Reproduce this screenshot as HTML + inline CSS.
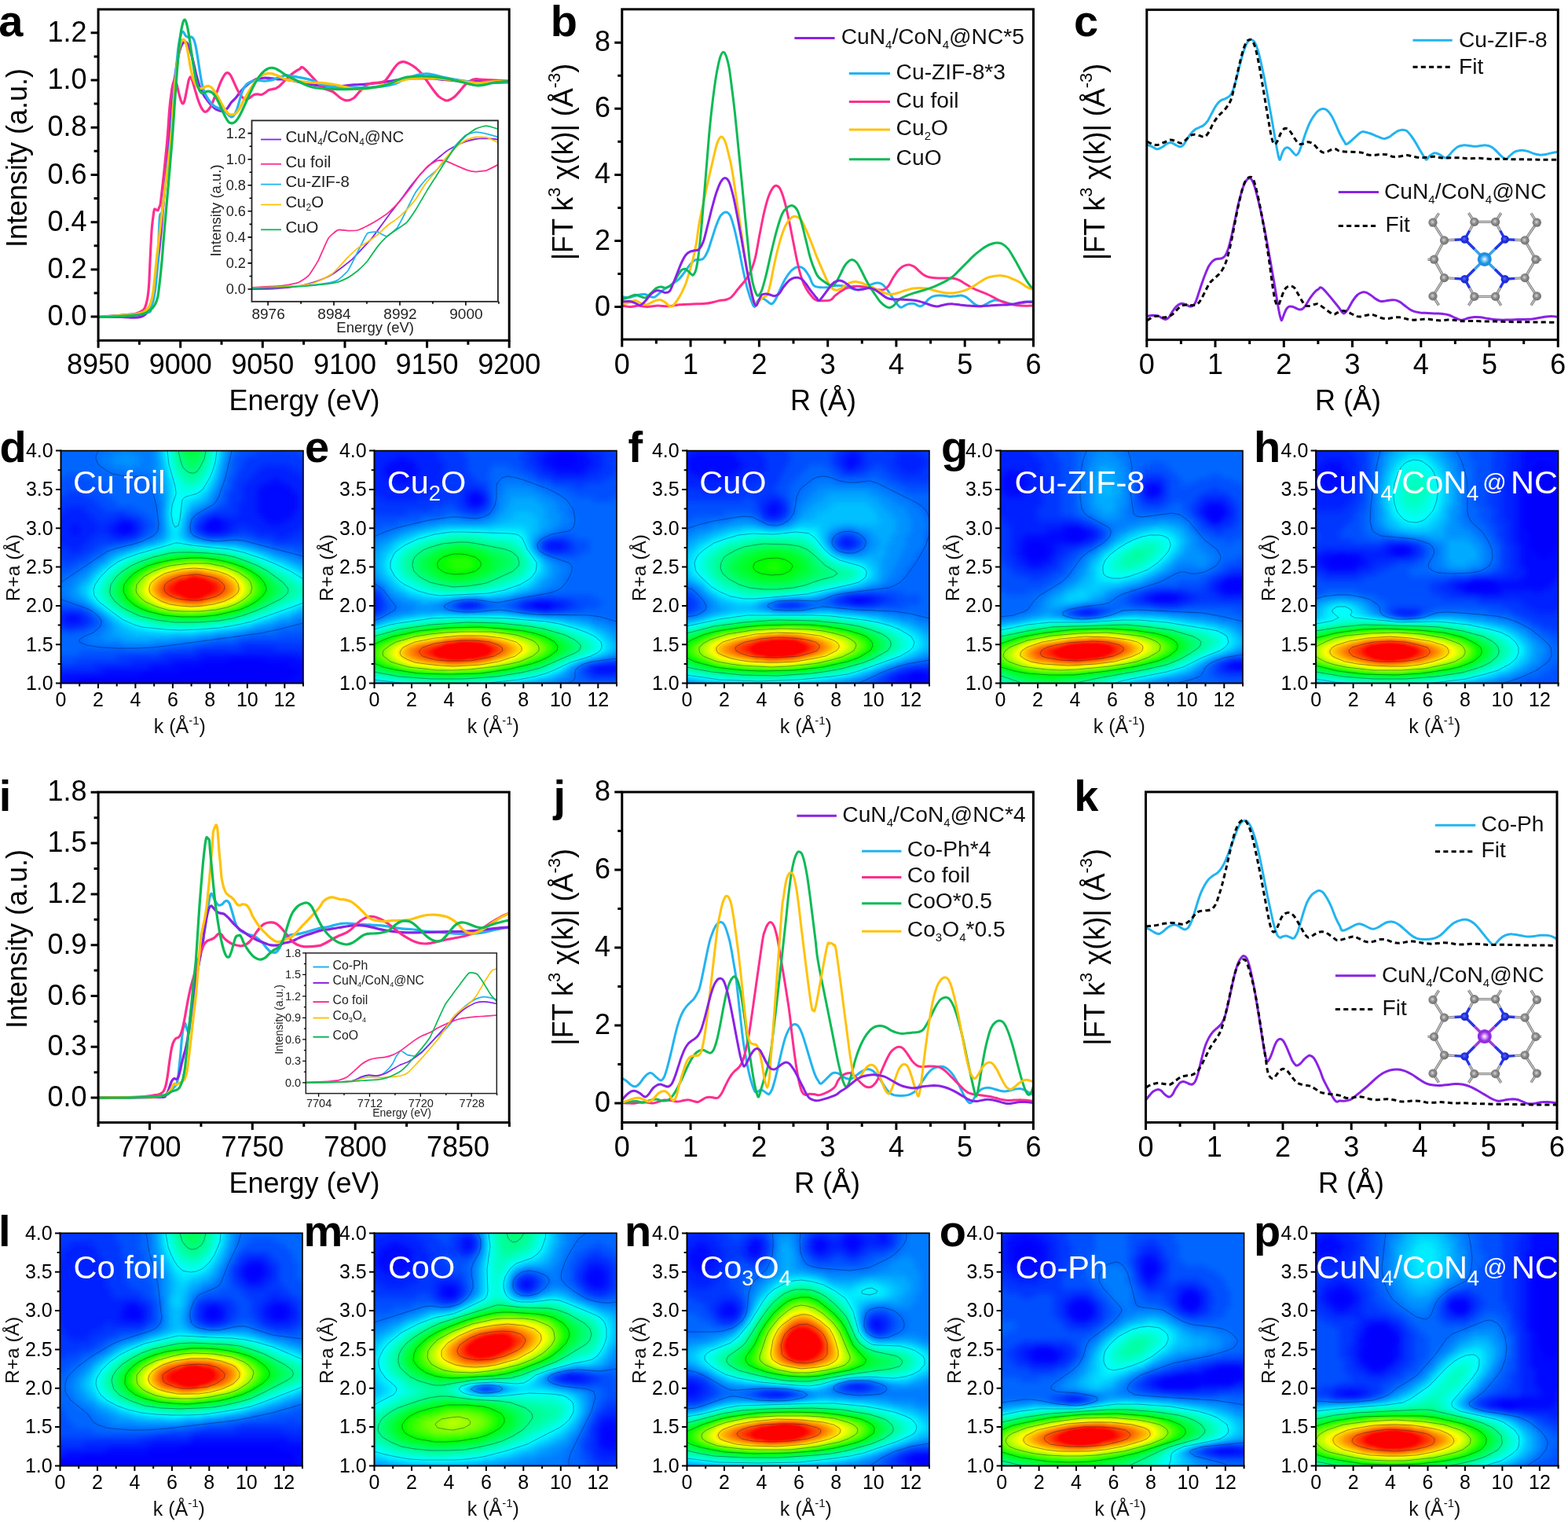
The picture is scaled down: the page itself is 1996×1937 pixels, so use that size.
<!DOCTYPE html><html lang="en"><head><meta charset="utf-8"><title>XAS / EXAFS / wavelet transform figure</title>
<style>html,body{margin:0;padding:0;background:#fff}svg{display:block}text{font-family:'Liberation Sans', Arial, sans-serif}</style></head><body>
<svg xmlns="http://www.w3.org/2000/svg" width="1996" height="1937" viewBox="0 0 1996 1937">
<defs><filter id="jet" x="0" y="0" width="1" height="1" color-interpolation-filters="sRGB"><feGaussianBlur stdDeviation="4.2"/><feComponentTransfer><feFuncR type="table" tableValues="0 0 0 0 0 0 0 0 0 0 0 0 0 0 0 0 0 0 0 0 0 0 0 0 0 0 0 0 0 0 0 0 0 0 0 0 0 0 0 0 0 0.06 0.13 0.19 0.25 0.31 0.38 0.44 0.5 0.56 0.63 0.69 0.75 0.81 0.88 0.94 1 1 1 1 1 1 1 1 1 1 1 1 1 1 1 1 1 1 1 1 1 1 1 1 1"/><feFuncG type="table" tableValues="0 0 0 0.03 0.09 0.15 0.2 0.26 0.32 0.38 0.43 0.49 0.55 0.6 0.66 0.72 0.77 0.83 0.89 0.94 1 1 1 1 1 1 1 1 1 1 1 1 1 1 1 1 1 1 1 1 1 1 1 1 1 1 1 1 1 1 1 1 1 1 1 1 1 0.95 0.9 0.85 0.8 0.74 0.68 0.62 0.56 0.5 0.44 0.38 0.32 0.26 0.2 0.13 0.06 0 0 0 0 0 0 0 0"/><feFuncB type="table" tableValues="0.97 0.98 1 1 1 1 1 1 1 1 1 1 1 1 1 1 1 1 1 1 1 0.95 0.9 0.85 0.8 0.75 0.7 0.65 0.6 0.55 0.5 0.45 0.4 0.35 0.3 0.25 0.2 0.15 0.1 0.05 0 0 0 0 0 0 0 0 0 0 0 0 0 0 0 0 0 0 0 0 0 0 0 0 0 0 0 0 0 0 0 0 0 0 0 0 0 0 0 0 0"/></feComponentTransfer></filter></defs>
<rect width="1996" height="1937" fill="#fff"/>
<clipPath id="cd"><rect x="77.5" y="573.6" width="308.5" height="296"/></clipPath><g clip-path="url(#cd)"><g filter="url(#jet)"><g transform="translate(77.5 573.6) scale(5.9327 5.9200)"><rect x="-3" y="-3" width="58" height="56" fill="#1e1e1e"/><g transform="translate(0 .5)" fill="none" stroke-width="1.04"><path stroke="#050505" d="M32 15h2M13 16h2M31 16h3M13 17h1M36 45h8M30 46h19M26 47h25M17 48h33M4 49h44M2 50h40M5 51h17"/><path stroke="#0a0a0a" d="M45 6h2M43 7h6M42 8h8M42 9h9M42 10h9M42 11h9M42 12h9M42 13h8M32 14h2M43 14h7M12 15h4M31 15h1M34 15h2M44 15h4M2 16h2M11 16h2M15 16h1M30 16h1M34 16h2M2 17h2M11 17h2M14 17h2M31 17h4M1 35h3M1 36h3M30 44h21M24 45h12M44 45h11M19 46h11M49 46h6M9 47h17M51 47h4M0 48h17M50 48h5M-3 49h7M48 49h7M-3 50h5M42 50h11M-3 51h8M22 51h26M2 52h34"/><path stroke="#0f0f0f" d="M43 3h6M42 4h9M41 5h11M40 6h5M47 6h6M39 7h4M49 7h4M39 8h3M50 8h4M39 9h3M51 9h3M39 10h3M51 10h3M38 11h4M51 11h3M1 12h4M38 12h4M51 12h3M0 13h6M38 13h4M50 13h4M-1 14h8M12 14h3M31 14h1M34 14h9M50 14h3M-1 15h9M10 15h2M16 15h1M30 15h1M36 15h8M48 15h5M-1 16h3M4 16h7M16 16h1M29 16h1M36 16h2M40 16h12M-1 17h3M4 17h4M9 17h2M16 17h1M30 17h1M35 17h2M42 17h9M-1 18h8M11 18h5M46 18h3M-1 19h7M0 20h5M2 21h2M-1 35h2M4 35h1M-1 36h2M4 36h2M0 37h5M39 42h7M29 43h26M22 44h8M51 44h4M15 45h9M7 46h12M-2 47h11M-3 48h3M53 50h2M48 51h7M-3 52h5M36 52h16"/><path stroke="#141414" d="M46 -1h1M42 0h9M40 1h12M39 2h15M39 3h4M49 3h5M38 4h4M51 4h4M38 5h3M52 5h3M37 6h3M53 6h2M37 7h2M53 7h2M37 8h2M54 8h1M1 9h4M36 9h3M54 9h1M-1 10h8M36 10h3M54 10h1M-2 11h10M36 11h2M54 11h1M-2 12h3M5 12h4M34 12h4M54 12h1M-3 13h3M6 13h8M32 13h6M54 13h1M-3 14h2M7 14h5M15 14h2M30 14h1M53 14h2M-3 15h2M8 15h2M17 15h1M29 15h1M53 15h2M-3 16h2M17 16h1M38 16h2M52 16h3M-3 17h2M8 17h1M17 17h1M29 17h1M37 17h5M51 17h4M-3 18h2M7 18h4M16 18h1M31 18h5M41 18h5M49 18h6M-3 19h2M6 19h8M45 19h8M-3 20h3M5 20h3M-2 21h4M4 21h3M-1 22h6M0 23h3M-2 34h7M-3 35h2M5 35h1M-3 36h2M6 36h1M-2 37h2M5 37h1M1 38h2M38 41h16M29 42h10M46 42h9M21 43h8M12 44h10M3 45h12M-3 46h10M-3 47h1M52 52h3"/><path stroke="#191919" d="M39 -3h16M38 -2h17M38 -1h8M47 -1h8M38 0h4M51 0h4M37 1h3M52 1h3M37 2h2M54 2h1M37 3h2M54 3h1M37 4h1M1 5h4M36 5h2M-1 6h8M36 6h1M-3 7h12M36 7h1M-3 8h13M35 8h2M-3 9h4M5 9h5M35 9h1M-3 10h2M7 10h4M35 10h1M-3 11h1M8 11h4M34 11h2M-3 12h1M9 12h7M32 12h2M14 13h4M30 13h2M17 14h2M29 14h1M18 15h2M28 15h1M18 16h2M28 16h1M18 17h1M28 17h1M17 18h1M30 18h1M36 18h5M14 19h2M42 19h3M53 19h2M8 20h3M45 20h10M-3 21h1M7 21h2M50 21h5M-3 22h2M5 22h2M-3 23h3M3 23h3M-3 24h7M-3 25h5M-3 33h6M-3 34h1M5 34h1M6 35h1M7 36h1M-3 37h1M6 37h2M-3 38h4M3 38h3M47 39h8M38 40h17M31 41h7M54 41h1M23 42h6M4 43h17M-3 44h15M-3 45h6"/><path stroke="#232323" d="M19 -3h1M36 -3h1M18 -2h2M36 -2h1M10 -1h10M36 -1h1M8 0h5M15 0h5M36 0h1M8 1h3M17 1h3M8 2h3M17 2h3M35 2h1M9 3h5M15 3h5M35 3h1M11 4h9M35 4h1M19 5h2M19 6h2M34 6h1M20 7h1M34 7h1M20 8h1M20 9h2M33 9h1M20 10h2M21 11h1M32 11h1M21 12h1M30 12h1M21 13h1M28 13h1M21 14h1M21 15h1M27 15h1M21 16h1M27 16h1M21 17h1M27 17h1M20 18h1M28 18h1M17 19h2M31 19h8M14 20h2M41 20h2M10 21h2M45 21h2M9 22h1M48 22h3M7 23h2M51 23h3M6 24h1M53 24h2M4 25h2M3 26h2M1 27h2M0 28h3M-1 29h3M-1 30h3M0 31h2M2 32h2M5 33h1M8 35h1M53 35h2M9 36h1M50 36h3M9 37h1M46 37h4M8 38h2M42 38h4M6 39h3M37 39h3M5 40h4M29 40h4M6 41h7M20 41h6"/><path stroke="#282828" d="M20 -3h1M35 -3h1M20 -2h1M35 -2h1M20 -1h1M35 -1h1M13 0h2M20 0h1M35 0h1M11 1h6M20 1h1M35 1h1M11 2h6M20 2h1M14 3h1M20 3h1M20 4h1M34 4h1M21 5h1M34 5h1M21 6h1M21 7h1M33 7h1M21 8h1M33 8h1M32 9h1M32 10h1M31 11h1M29 12h1M27 14h1M21 18h1M27 18h1M19 19h1M30 19h1M16 20h1M40 20h1M12 21h2M43 21h2M10 22h1M46 22h2M9 23h1M49 23h2M7 24h1M52 24h1M6 25h1M54 25h1M5 26h1M3 27h2M3 28h1M2 29h1M2 30h1M2 31h2M4 32h1M6 33h1M7 34h1M53 34h2M50 35h3M47 36h3M10 37h1M44 37h2M10 38h1M40 38h2M9 39h2M33 39h4M9 40h4M24 40h5M13 41h7"/><path stroke="#2d2d2d" d="M21 2h1M34 2h1M21 3h1M34 3h1M21 4h1M33 6h1M22 7h1M22 8h1M32 8h1M22 9h1M22 10h1M31 10h1M22 11h1M29 11h2M22 12h1M28 12h1M27 13h1M22 14h1M22 15h1M22 16h1M26 16h1M22 17h1M26 17h1M22 18h1M20 19h2M28 19h2M17 20h1M38 20h2M14 21h1M42 21h1M11 22h1M45 22h1M48 23h1M8 24h1M50 24h2M7 25h1M52 25h2M6 26h1M54 26h1M5 27h1M4 28h1M3 29h1M3 30h1M4 31h1M5 32h1M54 33h1M8 34h1M51 34h2M9 35h1M49 35h1M10 36h1M46 36h1M11 37h1M42 37h2M11 38h2M38 38h2M11 39h4M30 39h3M13 40h11"/><path stroke="#323232" d="M21 -3h1M34 -3h1M21 -2h1M34 -2h1M21 -1h1M34 -1h1M21 0h1M34 0h1M21 1h1M34 1h1M22 4h1M33 4h1M22 5h1M33 5h1M22 6h1M32 7h1M31 9h1M30 10h1M28 11h1M27 12h1M22 13h1M26 14h1M26 15h1M26 18h1M22 19h1M27 19h1M18 20h2M35 20h3M15 21h1M41 21h1M12 22h1M44 22h1M10 23h1M46 23h2M9 24h1M49 24h1M8 25h1M51 25h1M53 26h1M6 27h1M54 27h1M5 28h1M4 29h1M4 30h1M5 31h1M6 32h1M54 32h1M7 33h1M53 33h1M50 34h1M10 35h1M47 35h2M11 36h1M44 36h2M12 37h1M41 37h1M13 38h2M35 38h3M15 39h15"/><path stroke="#373737" d="M22 2h1M22 3h1M33 3h1M23 6h1M32 6h1M23 7h1M23 8h1M31 8h1M23 9h1M30 9h1M23 10h1M28 10h2M27 11h1M26 13h1M23 16h1M23 17h1M25 17h1M23 18h1M25 18h1M26 19h1M20 20h1M32 20h3M16 21h1M39 21h2M13 22h1M43 22h1M11 23h1M45 23h1M10 24h1M48 24h1M50 25h1M7 26h1M52 26h1M53 27h1M6 28h1M54 28h1M5 29h1M5 30h1M54 31h1M53 32h1M8 33h1M51 33h2M9 34h1M49 34h1M46 35h1M12 36h1M43 36h1M13 37h2M39 37h2M15 38h3M33 38h2"/><path stroke="#3c3c3c" d="M22 -3h1M22 -2h1M22 -1h1M22 0h1M22 1h1M33 1h1M33 2h1M23 5h1M32 5h1M31 7h1M30 8h1M29 9h1M26 10h2M23 11h1M26 11h1M23 12h1M26 12h1M23 13h1M23 14h1M23 15h1M25 15h1M25 16h1M24 17h1M24 18h1M23 19h3M21 20h1M30 20h2M17 21h1M38 21h1M14 22h1M42 22h1M12 23h1M44 23h1M47 24h1M9 25h1M49 25h1M8 26h1M51 26h1M7 27h1M52 27h1M53 28h1M6 29h1M54 29h1M6 30h1M54 30h1M6 31h1M7 32h1M52 32h1M50 33h1M10 34h1M47 34h2M11 35h1M45 35h1M13 36h1M42 36h1M15 37h1M38 37h1M18 38h3M29 38h4"/><path stroke="#414141" d="M33 -3h1M33 -2h1M33 -1h1M33 0h1M23 3h1M23 4h1M32 4h1M24 6h1M31 6h1M24 7h1M24 8h1M29 8h1M24 9h5M24 10h2M24 11h2M25 12h1M25 13h1M25 14h1M24 15h1M24 16h1M22 20h1M28 20h2M18 21h1M37 21h1M15 22h1M41 22h1M13 23h1M43 23h1M11 24h1M46 24h1M10 25h1M48 25h1M50 26h1M8 27h1M51 27h1M7 28h1M7 29h1M53 29h1M53 30h1M7 31h1M53 31h1M8 32h1M51 32h1M9 33h1M49 33h1M46 34h1M12 35h1M44 35h1M41 36h1M16 37h2M36 37h2M21 38h8"/><path stroke="#464646" d="M23 -3h1M23 -2h1M23 -1h1M23 0h1M23 1h1M23 2h1M32 2h1M32 3h1M24 5h1M31 5h1M25 7h1M30 7h1M25 8h4M24 12h1M24 13h1M24 14h1M23 20h5M19 21h2M35 21h2M16 22h1M40 22h1M12 24h1M45 24h1M47 25h1M9 26h1M49 26h1M50 27h1M8 28h1M52 28h1M7 30h1M52 31h1M50 32h1M48 33h1M11 34h1M45 34h1M43 35h1M14 36h1M40 36h1M18 37h1M34 37h2"/><path stroke="#4b4b4b" d="M32 0h1M32 1h1M24 4h1M31 4h1M25 6h1M30 6h1M26 7h4M21 21h1M34 21h1M17 22h1M39 22h1M14 23h1M42 23h1M44 24h1M11 25h1M46 25h1M10 26h1M48 26h1M9 27h1M51 28h1M8 29h1M52 29h1M8 30h1M52 30h1M8 31h1M51 31h1M9 32h1M49 32h1M10 33h1M47 33h1M13 35h1M42 35h1M15 36h1M38 36h2M19 37h2M32 37h2"/><path stroke="#505050" d="M32 -3h1M32 -2h1M32 -1h1M24 2h1M24 3h1M31 3h1M25 5h1M30 5h1M26 6h1M29 6h1M22 21h1M32 21h2M18 22h1M38 22h1M15 23h1M41 23h1M13 24h1M43 24h1M45 25h1M47 26h1M49 27h1M9 28h1M50 28h1M51 29h1M51 30h1M9 31h1M50 31h1M48 32h1M46 33h1M12 34h1M44 34h1M14 35h1M41 35h1M16 36h2M37 36h1M21 37h4M29 37h3"/><path stroke="#555555" d="M24 -3h1M24 -2h1M24 -1h1M24 0h1M24 1h1M31 2h1M25 4h1M30 4h1M26 5h1M29 5h1M27 6h2M23 21h2M29 21h3M19 22h1M37 22h1M16 23h1M40 23h1M12 25h1M11 26h1M46 26h1M10 27h1M48 27h1M49 28h1M9 29h1M50 29h1M9 30h1M50 30h1M49 31h1M10 32h1M47 32h1M11 33h1M45 33h1M43 34h1M40 35h1M18 36h1M36 36h1M25 37h4"/><path stroke="#5a5a5a" d="M31 -3h1M31 -1h1M31 0h1M31 1h1M25 3h1M30 3h1M26 4h1M27 5h2M25 21h4M20 22h1M36 22h1M14 24h1M42 24h1M44 25h1M47 27h1M10 28h1M48 28h1M49 29h1M49 30h1M10 31h1M48 31h1M46 32h1M12 33h1M44 33h1M13 34h1M42 34h1M15 35h1M39 35h1M19 36h1M35 36h1"/><path stroke="#5f5f5f" d="M31 -2h1M25 1h1M25 2h1M30 2h1M26 3h1M27 4h3M21 22h1M35 22h1M17 23h1M39 23h1M15 24h1M41 24h1M13 25h1M43 25h1M12 26h1M45 26h1M11 27h1M46 27h1M10 29h1M48 29h1M10 30h1M48 30h1M47 31h1M11 32h1M14 34h1M41 34h1M16 35h1M38 35h1M20 36h1M33 36h2"/><path stroke="#646464" d="M25 -3h1M25 -2h1M25 -1h1M25 0h1M30 1h1M26 2h1M29 3h1M22 22h1M34 22h1M18 23h1M38 23h1M44 26h1M11 28h1M47 28h1M47 30h1M11 31h1M46 31h1M45 32h1M13 33h1M43 33h1M17 35h1M21 36h2M32 36h1"/><path stroke="#696969" d="M30 -3h1M30 -2h1M30 -1h1M30 0h1M26 1h1M27 2h1M29 2h1M27 3h2M23 22h1M32 22h2M19 23h1M37 23h1M16 24h1M40 24h1M14 25h1M42 25h1M13 26h1M12 27h1M45 27h1M46 28h1M11 29h1M47 29h1M11 30h1M12 32h1M44 32h1M42 33h1M15 34h1M40 34h1M18 35h1M37 35h1M23 36h4M28 36h4"/><path stroke="#6e6e6e" d="M26 -3h1M29 -3h1M26 -2h1M26 -1h1M26 0h1M29 0h1M27 1h3M28 2h1M24 22h2M30 22h2M17 24h1M15 25h1M43 26h1M45 28h1M46 29h1M46 30h1M12 31h1M45 31h1M14 33h1M16 34h1M39 34h1M19 35h1M36 35h1M27 36h1"/><path stroke="#737373" d="M27 -3h2M27 -2h3M27 -1h3M27 0h2M26 22h4M20 23h1M36 23h1M39 24h1M41 25h1M14 26h1M13 27h1M44 27h1M12 28h1M12 29h1M45 29h1M12 30h1M45 30h1M44 31h1M13 32h1M43 32h1M41 33h1M20 35h1M35 35h1"/><path stroke="#787878" d="M21 23h1M35 23h1M18 24h1M38 24h1M16 25h1M42 26h1M44 28h1M44 30h1M13 31h1M42 32h1M15 33h1M17 34h1M38 34h1M21 35h1M34 35h1"/><path stroke="#7d7d7d" d="M22 23h1M34 23h1M40 25h1M15 26h1M43 27h1M13 28h1M44 29h1M13 30h1M43 31h1M14 32h1M40 33h1M18 34h1M37 34h1M22 35h1M32 35h2"/><path stroke="#828282" d="M23 23h1M33 23h1M19 24h1M37 24h1M17 25h1M41 26h1M14 27h1M43 28h1M13 29h1M43 30h1M41 32h1M16 33h1M39 33h1M36 34h1M23 35h2M30 35h2"/><path stroke="#878787" d="M24 23h2M32 23h1M20 24h1M39 25h1M42 27h1M14 28h1M43 29h1M14 31h1M42 31h1M15 32h1M17 33h1M19 34h1M25 35h5"/><path stroke="#8c8c8c" d="M26 23h6M21 24h1M36 24h1M18 25h1M16 26h1M40 26h1M15 27h1M42 28h1M14 29h1M14 30h1M42 30h1M40 32h1M38 33h1M20 34h1M35 34h1"/><path stroke="#919191" d="M35 24h1M38 25h1M41 27h1M42 29h1M15 31h1M41 31h1M16 32h1M18 33h1M21 34h1M34 34h1"/><path stroke="#969696" d="M22 24h1M34 24h1M19 25h1M37 25h1M17 26h1M39 26h1M16 27h1M15 28h1M41 28h1M15 29h1M15 30h1M41 30h1M39 32h1M37 33h1M22 34h1M33 34h1"/><path stroke="#9b9b9b" d="M23 24h1M33 24h1M20 25h1M40 27h1M41 29h1M16 31h1M40 31h1M17 32h1M19 33h1M36 33h1M23 34h1M32 34h1"/><path stroke="#a0a0a0" d="M24 24h1M32 24h1M36 25h1M18 26h1M38 26h1M17 27h1M16 28h1M40 28h1M16 30h1M40 30h1M38 32h1M20 33h1M24 34h3M29 34h3"/><path stroke="#a5a5a5" d="M25 24h2M31 24h1M21 25h1M39 27h1M16 29h1M40 29h1M17 31h1M39 31h1M18 32h1M35 33h1M27 34h2"/><path stroke="#aaaaaa" d="M27 24h4M35 25h1M19 26h1M37 26h1M17 28h1M19 32h1M37 32h1M21 33h1M34 33h1"/><path stroke="#afafaf" d="M22 25h1M34 25h1M20 26h1M18 27h1M38 27h1M39 28h1M17 29h1M39 29h1M17 30h1M39 30h1M18 31h1M38 31h1M36 32h1M22 33h1M33 33h1"/><path stroke="#b4b4b4" d="M23 25h1M36 26h1M18 28h1M20 32h1M23 33h1M32 33h1"/><path stroke="#b9b9b9" d="M24 25h1M33 25h1M21 26h1M19 27h1M37 27h1M38 28h1M18 29h1M18 30h1M38 30h1M19 31h1M37 31h1M35 32h1M24 33h2M31 33h1"/><path stroke="#bebebe" d="M25 25h1M31 25h2M35 26h1M38 29h1M21 32h1M26 33h5"/><path stroke="#c3c3c3" d="M26 25h5M22 26h1M20 27h1M36 27h1M19 28h1M37 28h1M19 30h1M37 30h1M20 31h1M36 31h1M22 32h1M34 32h1"/><path stroke="#c8c8c8" d="M23 26h1M34 26h1M19 29h1M37 29h1M23 32h1M33 32h1"/><path stroke="#cdcdcd" d="M33 26h1M21 27h1M35 27h1M20 28h1M36 28h1M20 30h1M36 30h1M21 31h1M35 31h1M24 32h1M32 32h1"/><path stroke="#d2d2d2" d="M24 26h1M32 26h1M22 27h1M20 29h1M36 29h1M22 31h1M34 31h1M25 32h1M31 32h1"/><path stroke="#d7d7d7" d="M25 26h2M31 26h1M34 27h1M21 28h1M35 28h1M21 30h1M35 30h1M26 32h5"/><path stroke="#dcdcdc" d="M27 26h4M23 27h1M22 28h1M21 29h1M35 29h1M23 31h1M33 31h1"/><path stroke="#e1e1e1" d="M24 27h1M33 27h1M34 28h1M22 29h1M22 30h1M34 30h1M24 31h1M32 31h1"/><path stroke="#e6e6e6" d="M25 27h1M32 27h1M23 28h1M34 29h1M23 30h1M33 30h1M25 31h1M31 31h1"/><path stroke="#ebebeb" d="M26 27h1M30 27h2M24 28h1M33 28h1M23 29h1M33 29h1M24 30h1M32 30h1M26 31h5"/><path stroke="#f0f0f0" d="M27 27h3M32 28h1M24 29h1M25 30h1M31 30h1"/><path stroke="#f5f5f5" d="M25 28h2M31 28h1M25 29h1M32 29h1M26 30h1M30 30h1"/><path stroke="#fafafa" d="M27 28h4M26 29h1M30 29h2M27 30h3"/><path stroke="#ffffff" d="M27 29h3"/></g></g></g><path d="M78 741L136 702L147 698L168 693L181 689L195 682L199 678L201 675L202 666L199 644L192 617L188 609L185 607L181 606L164 607L154 605L143 603L134 598L125 591L122 584L122 581L123 577L126 574M295 574L287 608L278 633L274 640L270 643L251 654L247 657L244 661L243 664L242 671L243 678L247 682L254 685L261 687L275 689L299 687L310 688L386 708M386 793L355 801L331 806L220 821L195 824L171 825L150 825L129 824L110 821L101 817L101 814L107 810L119 805L126 799L128 796L129 793L129 790L127 786L119 779L112 775L78 763M276 574L274 588L271 598L267 608L261 618L258 623L251 628L237 632L235 633L232 636L229 661L227 669L223 671L220 666L218 654L219 643L224 629L224 626L223 619L215 591L213 574M386 767L376 771L334 786L320 791L303 795L279 799L254 801L230 802L209 801L181 798L171 795L157 789L143 779L125 765L120 758L119 751L121 744L128 734L139 723L150 715L161 710L175 705L210 695L223 691L227 691L244 694L292 699L310 703L334 711L351 718L370 727L386 737M262 574L260 584L255 594L251 600L247 602L244 602L240 601L237 599L233 595L230 587L227 574M279 790L251 792L223 792L199 789L178 784L161 776L154 772L146 765L141 758L140 755L140 751L141 744L148 734L156 727L167 720L178 715L195 709L216 704L227 703L244 703L265 704L285 706L299 709L313 714L328 720L341 727L360 741L366 748L367 751L366 755L363 758L358 762L338 772L324 778L310 783L296 787L279 790M275 783L254 785L230 785L209 783L188 778L178 774L171 770L162 762L158 755L157 751L158 744L163 737L170 730L178 725L188 720L202 716L216 713L230 711L244 710L258 710L275 712L289 715L299 718L310 722L320 727L330 734L336 741L339 748L339 751L335 758L327 765L317 771L305 776L292 779L275 783M275 776L254 778L233 778L216 777L199 772L185 766L178 760L174 755L173 751L174 744L178 739L183 734L195 727L206 723L216 720L240 717L265 717L285 721L303 728L312 734L316 737L319 741L321 748L320 751L319 755L316 758L310 763L300 769L289 773L275 776M272 769L258 771L244 772L230 771L216 769L205 765L195 759L191 755L190 751L190 748L191 744L193 741L199 736L209 730L220 727L233 724L247 723L261 724L277 727L289 731L299 737L303 743L304 748L304 751L302 755L296 760L286 765L272 769M265 762L254 764L244 764L226 762L216 758L212 755L209 751L209 748L210 744L213 741L220 737L230 733L240 732L251 731L268 734L277 737L282 741L285 744L286 748L285 751L282 755L275 759L265 762" fill="none" stroke="#013" stroke-opacity=".42" stroke-width="1" stroke-linejoin="round"/></g>
<path d="M77.5 572.6V869.6H387" fill="none" stroke="#000" stroke-width="2"/>
<path d="M76.5 573.6H386V869.6" fill="none" stroke="#000" stroke-width="1.6"/>
<path d="M77.5 869.6v6.5M125 869.6v6.5M172.4 869.6v6.5M219.9 869.6v6.5M267.3 869.6v6.5M314.8 869.6v6.5M362.3 869.6v6.5" stroke="#000" stroke-width="2" fill="none"/>
<path d="M101.2 869.6v3.8M148.7 869.6v3.8M196.2 869.6v3.8M243.6 869.6v3.8M291.1 869.6v3.8M338.5 869.6v3.8M386 869.6v3.8" stroke="#000" stroke-width="2" fill="none"/>
<path d="M77.5 869.6h-6.5M77.5 820.3h-6.5M77.5 770.9h-6.5M77.5 721.6h-6.5M77.5 672.3h-6.5M77.5 622.9h-6.5M77.5 573.6h-6.5" stroke="#000" stroke-width="2" fill="none"/>
<path d="M77.5 844.9h-3.8M77.5 795.6h-3.8M77.5 746.3h-3.8M77.5 696.9h-3.8M77.5 647.6h-3.8M77.5 598.3h-3.8" stroke="#000" stroke-width="2" fill="none"/>
<text x="77.5" y="899.1" font-size="25" text-anchor="middle">0</text>
<text x="125" y="899.1" font-size="25" text-anchor="middle">2</text>
<text x="172.4" y="899.1" font-size="25" text-anchor="middle">4</text>
<text x="219.9" y="899.1" font-size="25" text-anchor="middle">6</text>
<text x="267.3" y="899.1" font-size="25" text-anchor="middle">8</text>
<text x="314.8" y="899.1" font-size="25" text-anchor="middle">10</text>
<text x="362.3" y="899.1" font-size="25" text-anchor="middle">12</text>
<text x="67.7" y="877.9" font-size="25" text-anchor="end">1.0</text>
<text x="67.7" y="828.6" font-size="25" text-anchor="end">1.5</text>
<text x="67.7" y="779.2" font-size="25" text-anchor="end">2.0</text>
<text x="67.7" y="729.9" font-size="25" text-anchor="end">2.5</text>
<text x="67.7" y="680.6" font-size="25" text-anchor="end">3.0</text>
<text x="67.7" y="631.2" font-size="25" text-anchor="end">3.5</text>
<text x="67.7" y="581.9" font-size="25" text-anchor="end">4.0</text>
<text x="228.8" y="933.1" font-size="25" text-anchor="middle" fill="#111">k (Å<tspan font-size="15" dy="-11">-1</tspan><tspan dy="11">&#8203;</tspan>)</text>
<text font-size="24.5" text-anchor="middle" fill="#111" transform="translate(25 722.6) rotate(-90)">R+a (Å)</text>
<text x="92.9" y="627.6" font-size="41.5" fill="#fff">Cu foil</text>
<clipPath id="ce"><rect x="476.5" y="573.6" width="308.5" height="296"/></clipPath><g clip-path="url(#ce)"><g filter="url(#jet)"><g transform="translate(476.5 573.6) scale(5.9327 5.9200)"><rect x="-3" y="-3" width="58" height="56" fill="#1e1e1e"/><g transform="translate(0 .5)" fill="none" stroke-width="1.04"><path stroke="#050505" d="M39 1h4M39 2h4M21 10h2M34 33h4"/><path stroke="#0a0a0a" d="M39 -1h4M37 0h9M5 1h2M36 1h3M43 1h3M3 2h6M36 2h3M43 2h4M2 3h7M37 3h9M2 4h8M39 4h6M2 5h7M4 6h4M20 9h3M20 10h1M23 10h1M20 11h3M37 20h4M-1 32h1M34 32h4M-1 33h1M18 33h4M32 33h2M38 33h2M47 46h6M47 47h5"/><path stroke="#0f0f0f" d="M4 -3h3M1 -2h10M37 -2h8M-1 -1h14M35 -1h4M43 -1h4M-2 0h16M34 0h3M46 0h3M-3 1h8M7 1h7M34 1h2M46 1h3M-3 2h6M9 2h6M34 2h2M47 2h2M-3 3h5M9 3h6M35 3h2M46 3h3M-3 4h5M10 4h5M36 4h3M45 4h3M-3 5h5M9 5h6M38 5h8M-3 6h7M8 6h7M-3 7h17M-2 8h15M19 8h4M0 9h12M19 9h1M23 9h1M2 10h7M19 10h1M19 11h1M23 11h1M20 12h3M37 19h4M36 20h1M41 20h1M37 21h4M-2 31h3M-2 32h1M0 32h1M19 32h3M32 32h2M38 32h3M-2 33h1M0 33h1M22 33h1M31 33h1M40 33h2M-2 34h3M35 34h3M46 46h1M53 46h2M46 47h1M52 47h2"/><path stroke="#141414" d="M-3 -3h7M7 -3h10M35 -3h13M-3 -2h4M11 -2h7M33 -2h4M45 -2h5M-3 -1h2M13 -1h6M32 -1h3M47 -1h4M-3 0h1M14 0h5M32 0h2M49 0h3M14 1h6M31 1h3M49 1h3M15 2h5M32 2h2M49 2h3M15 3h5M32 3h3M49 3h3M15 4h5M34 4h2M48 4h4M15 5h6M35 5h3M46 5h5M15 6h7M38 6h11M14 7h10M43 7h2M-3 8h1M13 8h6M23 8h1M-3 9h3M12 9h7M24 9h1M-3 10h5M9 10h10M24 10h1M-3 11h18M17 11h2M24 11h1M-3 12h15M18 12h2M23 12h1M0 13h7M21 13h1M36 19h1M41 19h1M42 20h1M36 21h1M41 21h2M-2 30h3M-3 31h1M1 31h1M-3 32h1M1 32h1M18 32h1M22 32h1M31 32h1M41 32h2M-3 33h1M1 33h1M17 33h1M23 33h1M30 33h1M42 33h2M-3 34h1M1 34h1M32 34h3M38 34h3M-2 35h2M49 45h5M45 46h1M45 47h1M54 47h1M46 48h8"/><path stroke="#191919" d="M17 -3h18M48 -3h7M18 -2h15M50 -2h5M19 -1h13M51 -1h4M19 0h13M52 0h3M20 1h11M52 1h3M20 2h12M52 2h3M20 3h5M29 3h3M52 3h3M20 4h5M31 4h3M52 4h3M21 5h3M33 5h2M51 5h4M22 6h3M35 6h3M49 6h6M24 7h1M38 7h5M45 7h10M24 8h1M41 8h14M43 9h11M47 10h4M15 11h2M12 12h6M24 12h1M-3 13h3M7 13h8M18 13h3M22 13h2M-3 14h13M-3 15h8M-3 16h4M38 18h5M42 19h4M35 20h1M43 20h3M43 21h3M38 22h6M-3 29h4M-3 30h1M1 30h1M34 31h13M2 32h1M17 32h1M23 32h1M29 32h2M43 32h6M2 33h1M16 33h1M24 33h2M28 33h2M44 33h4M2 34h1M19 34h2M31 34h1M41 34h4M-3 35h1M0 35h1M47 45h2M54 45h1M44 46h1M44 47h1M44 48h2M54 48h1M46 49h9"/><path stroke="#232323" d="M27 6h5M27 7h8M26 8h2M34 8h3M26 9h2M36 9h3M26 10h1M38 10h3M26 11h1M39 11h3M26 12h1M39 12h3M25 13h1M40 13h2M15 14h4M23 14h2M40 14h3M10 15h3M40 15h3M6 16h2M39 16h3M3 17h2M38 17h2M0 18h3M36 18h1M-1 19h2M-2 20h2M-3 21h2M-3 22h1M36 22h1M-3 23h1M38 23h2M-3 24h1M39 24h3M-3 25h1M40 25h2M-3 26h2M39 26h3M-2 27h2M39 27h2M0 28h1M38 28h3M37 29h3M2 30h1M35 30h2M3 31h1M30 31h2M4 32h2M15 32h1M26 32h1M5 33h4M13 33h2M4 34h4M15 34h2M24 34h5M2 35h2M36 35h10M0 36h1M47 36h3M50 37h3M52 38h3M53 39h2M54 40h1M54 42h1M54 43h1M50 44h3M45 45h1M43 46h1M42 47h1M41 48h2M39 49h3M34 50h5M-3 51h6M26 51h6M7 52h14"/><path stroke="#282828" d="M28 8h6M28 9h8M27 10h2M35 10h3M27 11h2M36 11h3M27 12h1M37 12h2M26 13h1M37 13h3M25 14h1M37 14h3M13 15h11M38 15h2M8 16h3M37 16h2M5 17h2M36 17h2M3 18h2M35 18h1M1 19h2M34 19h1M0 20h1M34 20h1M-1 21h1M-2 22h2M-2 23h1M37 23h1M-2 24h1M38 24h1M-2 25h2M38 25h2M-1 26h1M38 26h1M0 27h1M37 27h2M1 28h1M36 28h2M2 29h1M35 29h2M3 30h1M33 30h2M4 31h2M29 31h1M6 32h3M14 32h1M9 33h4M8 34h7M4 35h2M33 35h3M1 36h1M44 36h3M47 37h3M50 38h2M51 39h2M52 40h2M53 41h2M53 42h1M52 43h2M49 44h1M42 46h1M41 47h1M40 48h1M37 49h2M-3 50h2M31 50h3M3 51h9M16 51h10"/><path stroke="#2d2d2d" d="M29 10h6M29 11h7M28 12h9M27 13h3M34 13h3M26 14h3M35 14h2M24 15h3M35 15h3M11 16h3M35 16h2M7 17h2M35 17h1M5 18h1M34 18h1M3 19h1M1 20h2M0 21h2M34 21h1M0 22h1M35 22h1M-1 23h2M36 23h1M-1 24h2M37 24h1M0 25h1M37 25h1M0 26h1M37 26h1M1 27h1M36 27h1M2 28h1M35 28h1M3 29h1M34 29h1M4 30h2M31 30h2M6 31h2M19 31h4M26 31h3M9 32h5M6 35h3M31 35h2M2 36h1M41 36h3M-3 37h3M46 37h1M48 38h2M50 39h1M51 40h1M52 41h1M52 42h1M51 43h1M48 44h1M44 45h1M39 48h1M35 49h2M-1 50h3M27 50h4M12 51h4"/><path stroke="#323232" d="M30 13h4M29 14h6M27 15h8M14 16h11M33 16h2M9 17h2M33 17h2M6 18h2M33 18h1M4 19h1M33 19h1M3 20h1M33 20h1M2 21h1M1 22h1M1 23h1M36 24h1M1 25h1M36 25h1M1 26h1M36 26h1M2 27h1M35 27h1M3 28h1M34 28h1M4 29h1M33 29h1M6 30h1M30 30h1M8 31h2M17 31h2M23 31h3M9 35h4M29 35h2M3 36h2M39 36h2M0 37h1M44 37h2M47 38h1M49 39h1M50 40h1M51 41h1M51 42h1M50 43h1M47 44h1M43 45h1M41 46h1M40 47h1M38 48h1M-3 49h1M33 49h2M2 50h3M24 50h3"/><path stroke="#373737" d="M25 16h8M11 17h2M32 17h1M8 18h1M5 19h2M4 20h1M3 21h1M33 21h1M2 22h1M34 22h1M2 23h1M35 23h1M1 24h1M2 25h1M2 26h1M35 26h1M3 27h1M34 27h1M4 28h1M33 28h1M5 29h1M31 29h2M7 30h1M28 30h2M10 31h3M14 31h3M13 35h16M5 36h1M37 36h2M1 37h1M42 37h2M46 38h1M48 39h1M49 40h1M50 41h1M50 42h1M49 43h1M46 44h1M39 47h1M36 48h2M-2 49h2M31 49h2M5 50h5M19 50h5"/><path stroke="#3c3c3c" d="M13 17h2M24 17h8M9 18h1M32 18h1M7 19h1M32 19h1M5 20h1M4 21h1M3 22h1M2 24h1M35 24h1M35 25h1M3 26h1M34 26h1M4 27h1M5 28h1M32 28h1M6 29h1M30 29h1M8 30h2M26 30h2M13 31h1M6 36h2M35 36h2M2 37h1M41 37h1M-3 38h2M44 38h2M47 39h1M48 40h1M49 41h1M49 42h1M48 43h1M45 44h1M42 45h1M40 46h1M38 47h1M35 48h1M0 49h2M29 49h2M10 50h9"/><path stroke="#414141" d="M15 17h9M10 18h2M30 18h2M8 19h1M6 20h1M32 20h1M5 21h1M4 22h1M33 22h1M3 23h1M34 23h1M3 24h1M34 24h1M3 25h1M34 25h1M4 26h1M33 27h1M6 28h1M31 28h1M7 29h2M28 29h2M10 30h2M24 30h2M8 36h2M33 36h2M3 37h1M40 37h1M-1 38h1M43 38h1M46 39h1M47 40h1M48 41h1M48 42h1M47 43h1M37 47h1M-3 48h1M34 48h1M2 49h2M27 49h2"/><path stroke="#464646" d="M12 18h2M25 18h5M9 19h1M31 19h1M7 20h1M32 21h1M4 23h1M4 24h1M4 25h1M33 26h1M5 27h1M32 27h1M7 28h1M30 28h1M9 29h1M27 29h1M12 30h2M21 30h3M10 36h2M31 36h2M4 37h1M38 37h2M0 38h1M42 38h1M45 39h1M44 44h1M41 45h1M39 46h1M-2 48h1M32 48h2M4 49h2M25 49h2"/><path stroke="#4b4b4b" d="M14 18h2M22 18h3M10 19h1M29 19h2M8 20h1M31 20h1M6 21h1M5 22h1M5 23h1M33 23h1M5 24h1M33 24h1M5 25h1M33 25h1M5 26h1M32 26h1M6 27h1M31 27h1M8 28h1M29 28h1M10 29h1M25 29h2M14 30h7M12 36h3M28 36h3M5 37h1M37 37h1M1 38h1M41 38h1M-3 39h1M44 39h1M46 40h1M47 41h1M47 42h1M46 43h1M43 44h1M38 46h1M36 47h1M-1 48h1M31 48h1M6 49h2M22 49h3"/><path stroke="#505050" d="M16 18h6M11 19h2M26 19h3M9 20h1M30 20h1M7 21h1M31 21h1M6 22h1M32 22h1M32 25h1M6 26h1M7 27h1M30 27h1M9 28h1M27 28h2M11 29h1M24 29h1M15 36h5M24 36h4M6 37h1M35 37h2M2 38h1M40 38h1M-2 39h1M43 39h1M45 40h1M46 41h1M46 42h1M45 43h1M40 45h1M35 47h1M0 48h2M30 48h1M8 49h5M18 49h4"/><path stroke="#555555" d="M13 19h1M23 19h3M10 20h1M29 20h1M8 21h1M7 22h1M6 23h1M32 23h1M6 24h1M32 24h1M6 25h1M7 26h1M31 26h1M8 27h1M29 27h1M10 28h1M26 28h1M12 29h2M22 29h2M20 36h4M7 37h2M34 37h1M39 38h1M-1 39h1M42 39h1M44 40h1M45 41h1M45 42h1M44 43h1M42 44h1M39 45h1M37 46h1M-3 47h1M34 47h1M2 48h1M28 48h2M13 49h5"/><path stroke="#5a5a5a" d="M14 19h2M21 19h2M11 20h1M26 20h3M9 21h1M30 21h1M8 22h1M31 22h1M7 23h1M31 23h1M7 24h1M31 24h1M7 25h1M31 25h1M8 26h1M30 26h1M9 27h1M27 27h2M11 28h1M24 28h2M14 29h8M9 37h1M33 37h1M3 38h1M38 38h1M0 39h1M41 39h1M-3 40h1M43 40h1M41 44h1M36 46h1M-2 47h1M33 47h1M3 48h2M27 48h1"/><path stroke="#5f5f5f" d="M16 19h5M12 20h1M24 20h2M10 21h1M28 21h2M30 22h1M8 23h1M8 25h1M30 25h1M28 26h2M10 27h1M26 27h1M12 28h1M23 28h1M10 37h2M31 37h2M4 38h1M37 38h1M40 39h1M42 40h1M44 41h1M44 42h1M43 43h1M38 45h1M-1 47h1M32 47h1M5 48h1M25 48h2"/><path stroke="#646464" d="M13 20h2M22 20h2M11 21h1M26 21h2M9 22h1M29 22h1M30 23h1M8 24h1M30 24h1M29 25h1M9 26h1M27 26h1M11 27h1M25 27h1M13 28h2M21 28h2M12 37h1M29 37h2M5 38h1M36 38h1M1 39h1M39 39h1M-2 40h1M43 41h1M43 42h1M42 43h1M40 44h1M-3 46h1M35 46h1M0 47h1M31 47h1M6 48h2M24 48h1"/><path stroke="#696969" d="M15 20h2M20 20h2M12 21h1M24 21h2M10 22h1M27 22h2M9 23h1M28 23h2M9 24h1M28 24h2M9 25h1M27 25h2M10 26h1M26 26h1M12 27h1M23 27h2M15 28h6M13 37h3M27 37h2M6 38h1M35 38h1M2 39h1M38 39h1M-1 40h1M41 40h1M-3 41h1M42 41h1M42 42h1M41 43h1M39 44h1M37 45h1M-2 46h1M34 46h1M1 47h1M30 47h1M8 48h2M22 48h2"/><path stroke="#6e6e6e" d="M17 20h3M13 21h1M23 21h1M11 22h1M25 22h2M10 23h1M26 23h2M10 24h1M26 24h2M10 25h1M26 25h1M11 26h1M24 26h2M13 27h1M22 27h1M16 37h3M24 37h3M7 38h1M34 38h1M40 40h1M41 41h1M-3 45h1M-1 46h1M2 47h1M29 47h1M10 48h3M18 48h4"/><path stroke="#737373" d="M14 21h2M21 21h2M12 22h1M24 22h1M11 23h1M25 23h1M11 24h1M25 24h1M11 25h1M25 25h1M12 26h1M23 26h1M14 27h2M20 27h2M19 37h5M8 38h1M33 38h1M3 39h1M37 39h1M0 40h1M39 40h1M-2 41h1M40 41h1M-3 42h1M41 42h1M40 43h1M38 44h1M36 45h1M0 46h1M33 46h1M3 47h1M28 47h1M13 48h5"/><path stroke="#787878" d="M16 21h5M13 22h1M22 22h2M12 23h1M24 23h1M24 24h1M12 25h1M23 25h2M13 26h1M22 26h1M16 27h4M9 38h1M32 38h1M4 39h1M36 39h1M1 40h1M38 40h1M-1 41h1M40 42h1M-3 43h1M39 43h1M-3 44h1M-2 45h1M35 45h1M32 46h1M4 47h2M27 47h1"/><path stroke="#7d7d7d" d="M14 22h2M21 22h1M13 23h1M22 23h2M12 24h1M23 24h1M13 25h1M22 25h1M14 26h2M20 26h2M10 38h1M30 38h2M5 39h1M35 39h1M39 41h1M-2 42h1M39 42h1M-2 44h1M37 44h1M-1 45h1M1 46h1M31 46h1M6 47h1M26 47h1"/><path stroke="#828282" d="M16 22h5M14 23h1M21 23h1M13 24h2M22 24h1M14 25h2M21 25h1M16 26h4M11 38h2M29 38h1M6 39h1M34 39h1M2 40h1M37 40h1M0 41h1M38 41h1M-2 43h1M38 43h1M36 44h1M34 45h1M2 46h1M7 47h1M24 47h2"/><path stroke="#878787" d="M15 23h6M15 24h2M19 24h3M16 25h5M13 38h1M28 38h1M3 40h1M36 40h1M-1 42h1M38 42h1M37 43h1M-1 44h1M0 45h1M33 45h1M3 46h1M30 46h1M8 47h2M23 47h1"/><path stroke="#8c8c8c" d="M17 24h2M14 38h2M26 38h2M7 39h1M33 39h1M1 41h1M37 41h1M37 42h1M-1 43h1M35 44h1M1 45h1M4 46h1M29 46h1M10 47h1M21 47h2"/><path stroke="#919191" d="M16 38h3M23 38h3M8 39h1M32 39h1M4 40h1M35 40h1M36 41h1M0 42h1M0 43h1M36 43h1M0 44h1M32 45h1M28 46h1M11 47h4M18 47h3"/><path stroke="#969696" d="M19 38h4M9 39h1M31 39h1M5 40h1M34 40h1M2 41h1M1 42h1M36 42h1M34 44h1M2 45h1M5 46h1M27 46h1M15 47h3"/><path stroke="#9b9b9b" d="M10 39h1M30 39h1M3 41h1M35 41h1M1 43h1M35 43h1M1 44h1M33 44h1M3 45h1M31 45h1M6 46h1M26 46h1"/><path stroke="#a0a0a0" d="M11 39h1M29 39h1M6 40h1M33 40h1M2 42h1M35 42h1M34 43h1M2 44h1M30 45h1M7 46h1M25 46h1"/><path stroke="#a5a5a5" d="M12 39h1M28 39h1M7 40h1M32 40h1M4 41h1M34 41h1M34 42h1M2 43h1M32 44h1M4 45h1M29 45h1M8 46h1M24 46h1"/><path stroke="#aaaaaa" d="M13 39h1M27 39h1M31 40h1M33 41h1M3 42h1M33 43h1M3 44h1M5 45h1M9 46h2M23 46h1"/><path stroke="#afafaf" d="M14 39h2M25 39h2M8 40h1M5 41h1M33 42h1M3 43h1M31 44h1M6 45h1M28 45h1M11 46h1M21 46h2"/><path stroke="#b4b4b4" d="M16 39h2M22 39h3M9 40h1M30 40h1M6 41h1M32 41h1M4 42h1M32 43h1M4 44h1M30 44h1M27 45h1M12 46h3M19 46h2"/><path stroke="#b9b9b9" d="M18 39h4M10 40h1M29 40h1M31 41h1M5 42h1M32 42h1M4 43h1M5 44h1M7 45h1M26 45h1M15 46h4"/><path stroke="#bebebe" d="M11 40h1M28 40h1M7 41h1M5 43h1M31 43h1M29 44h1M8 45h1M25 45h1"/><path stroke="#c3c3c3" d="M12 40h1M27 40h1M8 41h1M30 41h1M6 42h1M31 42h1M30 43h1M6 44h1M9 45h1M24 45h1"/><path stroke="#c8c8c8" d="M13 40h1M26 40h1M29 41h1M30 42h1M6 43h1M7 44h1M28 44h1M10 45h1M23 45h1"/><path stroke="#cdcdcd" d="M14 40h1M25 40h1M9 41h1M7 42h1M7 43h1M29 43h1M8 44h1M27 44h1M11 45h2M22 45h1"/><path stroke="#d2d2d2" d="M15 40h2M23 40h2M10 41h1M28 41h1M8 42h1M29 42h1M28 43h1M26 44h1M13 45h1M20 45h2"/><path stroke="#d7d7d7" d="M17 40h6M11 41h1M27 41h1M28 42h1M8 43h1M9 44h1M25 44h1M14 45h6"/><path stroke="#dcdcdc" d="M12 41h1M26 41h1M9 42h1M9 43h1M27 43h1M10 44h1"/><path stroke="#e1e1e1" d="M13 41h1M25 41h1M10 42h1M27 42h1M26 43h1M11 44h1M23 44h2"/><path stroke="#e6e6e6" d="M14 41h1M24 41h1M11 42h1M26 42h1M10 43h1M25 43h1M12 44h1M22 44h1"/><path stroke="#ebebeb" d="M15 41h2M22 41h2M12 42h1M25 42h1M11 43h1M13 44h2M20 44h2"/><path stroke="#f0f0f0" d="M17 41h5M13 42h1M24 42h1M12 43h1M23 43h2M15 44h5"/><path stroke="#f5f5f5" d="M14 42h1M23 42h1M13 43h2M22 43h1"/><path stroke="#fafafa" d="M15 42h2M21 42h2M15 43h2M20 43h2"/><path stroke="#ffffff" d="M17 42h4M17 43h3"/></g></g></g><path d="M476 683L490 677L504 672L525 667L546 662L574 658L584 658L605 660L615 658L623 654L626 650L630 643L632 633L632 618L633 615L636 611L639 608L646 606L657 608L667 611L697 622L711 629L721 636L724 640L729 647L731 654L732 661L731 668L730 671L726 675L723 676L702 680L691 685L686 689L684 692L684 695L685 699L688 702L695 706L723 716L724 716L728 720L728 723L728 727L725 734L721 741L715 748L710 751L705 753L698 755L664 761L639 766L632 767L605 763L591 763L577 765L568 769L565 772L570 776L580 778L591 779L605 779L636 776L664 780L681 782L750 783L764 785L785 791M476 790L486 786L498 779L503 776L504 772L488 751L483 747L476 742M785 838L754 842L743 845L736 849L733 852L732 856L732 863L730 866L722 870M622 755L560 758L546 756L532 752L515 744L508 739L503 734L499 727L497 723L497 716L498 713L501 706L504 702L515 694L532 686L553 680L574 677L591 677L650 679L657 680L660 681L665 685L671 699L681 713L683 716L683 720L682 727L678 733L674 737L662 744L642 751L622 755M476 801L497 795L508 793L549 787L570 786L615 786L646 787L695 791L712 794L730 799L747 805L757 810L762 814L765 817L766 821L766 824L764 828L760 831L752 835L726 843L705 853L695 857L681 861L660 865L613 870M517 870L476 865M608 744L594 746L577 747L560 744L547 741L534 734L527 727L525 720L526 713L528 709L532 705L539 700L546 697L563 692L584 690L594 690L608 692L643 699L651 702L656 706L659 709L660 713L661 716L660 720L657 723L653 727L631 737L619 742L608 744M476 810L508 801L549 795L594 792L636 793L674 797L691 800L705 804L719 808L731 814L736 818L739 821L739 824L737 828L732 831L688 850L664 856L632 861L591 864L549 864L508 861L476 855M594 730L580 731L572 730L567 729L563 727L558 723L557 720L557 716L559 713L564 709L570 707L577 705L587 705L594 706L605 709L610 713L612 716L612 720L610 723L605 727L594 730M476 820L489 814L500 810L515 807L532 803L570 799L612 798L650 801L667 803L681 806L693 810L701 814L706 817L709 821L710 824L709 828L705 831L700 835L688 841L676 845L646 852L612 857L570 858L532 857L501 852L488 849L476 844M598 852L577 853L556 853L539 851L521 849L506 845L497 842L492 838L488 835L487 831L488 828L490 826L497 821L504 817L515 814L528 810L547 807L567 805L587 804L626 804L643 806L657 808L667 811L678 815L681 817L685 821L686 824L686 828L683 831L678 835L662 842L649 845L632 848L598 852M612 846L577 848L560 847L542 845L528 843L518 839L511 835L509 831L510 828L513 824L519 821L528 817L553 812L584 809L615 809L639 812L647 814L657 817L662 821L664 824L664 828L661 831L656 835L650 837L635 842L612 846M615 838L598 841L584 841L570 841L556 840L547 838L538 835L534 831L534 828L538 824L547 821L553 819L567 817L587 815L605 815L623 817L635 821L639 824L640 828L636 831L629 835L615 838" fill="none" stroke="#013" stroke-opacity=".42" stroke-width="1" stroke-linejoin="round"/></g>
<path d="M476.5 572.6V869.6H786" fill="none" stroke="#000" stroke-width="2"/>
<path d="M475.5 573.6H785V869.6" fill="none" stroke="#000" stroke-width="1.6"/>
<path d="M476.5 869.6v6.5M524 869.6v6.5M571.4 869.6v6.5M618.9 869.6v6.5M666.3 869.6v6.5M713.8 869.6v6.5M761.3 869.6v6.5" stroke="#000" stroke-width="2" fill="none"/>
<path d="M500.2 869.6v3.8M547.7 869.6v3.8M595.2 869.6v3.8M642.6 869.6v3.8M690.1 869.6v3.8M737.5 869.6v3.8M785 869.6v3.8" stroke="#000" stroke-width="2" fill="none"/>
<path d="M476.5 869.6h-6.5M476.5 820.3h-6.5M476.5 770.9h-6.5M476.5 721.6h-6.5M476.5 672.3h-6.5M476.5 622.9h-6.5M476.5 573.6h-6.5" stroke="#000" stroke-width="2" fill="none"/>
<path d="M476.5 844.9h-3.8M476.5 795.6h-3.8M476.5 746.3h-3.8M476.5 696.9h-3.8M476.5 647.6h-3.8M476.5 598.3h-3.8" stroke="#000" stroke-width="2" fill="none"/>
<text x="476.5" y="899.1" font-size="25" text-anchor="middle">0</text>
<text x="524" y="899.1" font-size="25" text-anchor="middle">2</text>
<text x="571.4" y="899.1" font-size="25" text-anchor="middle">4</text>
<text x="618.9" y="899.1" font-size="25" text-anchor="middle">6</text>
<text x="666.3" y="899.1" font-size="25" text-anchor="middle">8</text>
<text x="713.8" y="899.1" font-size="25" text-anchor="middle">10</text>
<text x="761.3" y="899.1" font-size="25" text-anchor="middle">12</text>
<text x="466.7" y="877.9" font-size="25" text-anchor="end">1.0</text>
<text x="466.7" y="828.6" font-size="25" text-anchor="end">1.5</text>
<text x="466.7" y="779.2" font-size="25" text-anchor="end">2.0</text>
<text x="466.7" y="729.9" font-size="25" text-anchor="end">2.5</text>
<text x="466.7" y="680.6" font-size="25" text-anchor="end">3.0</text>
<text x="466.7" y="631.2" font-size="25" text-anchor="end">3.5</text>
<text x="466.7" y="581.9" font-size="25" text-anchor="end">4.0</text>
<text x="627.8" y="933.1" font-size="25" text-anchor="middle" fill="#111">k (Å<tspan font-size="15" dy="-11">-1</tspan><tspan dy="11">&#8203;</tspan>)</text>
<text font-size="24.5" text-anchor="middle" fill="#111" transform="translate(424 722.6) rotate(-90)">R+a (Å)</text>
<text x="492.7" y="627.6" font-size="41.5" fill="#fff">Cu<tspan font-size="27.4" dy="9.8">2</tspan><tspan dy="-9.8">&#8203;</tspan>O</text>
<clipPath id="cf"><rect x="874.5" y="573.6" width="308.5" height="296"/></clipPath><g clip-path="url(#cf)"><g filter="url(#jet)"><g transform="translate(874.5 573.6) scale(5.9327 5.9200)"><rect x="-3" y="-3" width="58" height="56" fill="#1e1e1e"/><g transform="translate(0 .5)" fill="none" stroke-width="1.04"><path stroke="#050505" d="M36 32h2M48 48h3M47 49h4"/><path stroke="#0a0a0a" d="M1 0h9M35 0h1M0 1h11M34 1h3M-1 2h13M34 2h3M0 3h12M34 3h2M0 4h11M2 5h7M18 11h2M17 12h3M17 13h3M33 19h2M34 20h1M34 31h6M34 32h2M38 32h2M21 33h2M48 47h4M45 48h3M51 48h3M44 49h3M51 49h3M45 50h8"/><path stroke="#0f0f0f" d="M1 -3h10M-2 -2h16M-3 -1h18M34 -1h3M-3 0h4M10 0h6M33 0h2M36 0h2M45 0h5M-3 1h3M11 1h6M32 1h2M37 1h1M45 1h6M-3 2h2M12 2h5M32 2h2M37 2h1M44 2h8M-3 3h3M12 3h5M33 3h1M36 3h2M45 3h6M-3 4h3M11 4h6M34 4h2M46 4h4M-3 5h5M9 5h7M-3 6h17M-1 7h13M3 8h5M17 10h3M16 11h2M20 11h1M16 12h1M20 12h1M16 13h1M20 13h1M17 14h3M35 19h1M33 20h1M35 20h1M33 31h1M40 31h2M-1 32h1M32 32h2M40 32h2M19 33h2M23 33h2M45 47h3M52 47h3M43 48h2M54 48h1M43 49h1M54 49h1M43 50h2M53 50h2M45 51h9"/><path stroke="#141414" d="M-3 -3h4M11 -3h8M45 -3h5M-3 -2h1M14 -2h6M33 -2h5M43 -2h10M15 -1h6M32 -1h2M37 -1h3M42 -1h12M16 0h6M31 0h2M38 0h7M50 0h5M17 1h5M31 1h1M38 1h7M51 1h4M17 2h5M31 2h1M38 2h6M52 2h3M17 3h4M32 3h1M38 3h2M42 3h3M51 3h4M17 4h4M33 4h1M36 4h2M43 4h3M50 4h5M16 5h4M44 5h10M14 6h6M46 6h6M-3 7h2M12 7h7M-3 8h6M8 8h11M-3 9h23M-2 10h14M14 10h3M20 10h1M15 11h1M21 11h1M15 12h1M21 12h1M21 13h1M16 14h1M20 14h1M33 18h3M32 19h1M36 19h1M32 20h1M36 20h1M-2 31h3M32 31h1M42 31h2M-3 32h2M0 32h2M20 32h4M31 32h1M42 32h3M-3 33h5M25 33h1M35 33h6M-1 34h2M47 46h8M44 47h1M42 48h1M41 49h2M40 50h3M41 51h4M54 51h1M43 52h12"/><path stroke="#191919" d="M19 -3h26M50 -3h5M20 -2h13M38 -2h5M53 -2h2M21 -1h11M40 -1h2M54 -1h1M22 0h9M22 1h9M22 2h9M21 3h5M30 3h2M40 3h2M21 4h4M31 4h2M38 4h5M20 5h4M32 5h7M41 5h3M54 5h1M20 6h3M43 6h3M52 6h3M19 7h3M45 7h10M19 8h3M47 8h8M20 9h2M53 9h2M-3 10h1M12 10h2M21 10h1M-3 11h18M-3 12h18M-3 13h11M14 13h2M-3 14h4M21 14h1M17 15h3M32 18h1M36 18h1M31 19h1M37 19h1M37 20h1M33 21h3M-3 30h4M36 30h10M-3 31h1M1 31h1M31 31h1M44 31h6M2 32h1M19 32h1M24 32h2M30 32h1M45 32h5M2 33h1M18 33h1M26 33h1M32 33h3M41 33h6M-3 34h2M1 34h1M51 45h4M46 46h1M43 47h1M41 48h1M39 49h2M38 50h2M36 51h5M36 52h7"/><path stroke="#232323" d="M27 6h5M26 7h16M25 8h3M40 8h4M24 9h3M42 9h4M24 10h2M44 10h4M23 11h2M45 11h4M23 12h1M47 12h3M23 13h1M47 13h4M10 14h4M22 14h1M48 14h3M5 15h4M15 15h1M21 15h1M48 15h4M1 16h4M48 16h4M-1 17h3M32 17h1M36 17h1M48 17h3M-3 18h3M38 18h1M47 18h4M-3 19h1M38 19h1M47 19h4M38 20h1M47 20h4M37 21h1M46 21h4M46 22h3M45 23h4M45 24h3M44 25h3M44 26h3M43 27h3M-3 28h2M42 28h3M1 29h1M39 29h3M2 30h1M33 30h1M3 31h1M29 31h1M4 32h1M4 33h1M16 33h1M4 34h1M19 34h6M36 34h6M2 35h1M45 35h4M49 36h3M52 37h3M53 38h2M54 43h1M51 44h3M47 45h2M44 46h1M41 47h1M39 48h1M36 49h2M-3 50h5M30 50h4M5 51h21"/><path stroke="#282828" d="M28 8h12M27 9h3M39 9h3M26 10h3M41 10h3M25 11h2M42 11h3M24 12h2M43 12h4M24 13h1M44 13h3M23 14h1M45 14h3M9 15h6M22 15h1M45 15h3M5 16h3M17 16h3M33 16h3M45 16h3M2 17h3M31 17h1M37 17h2M45 17h3M0 18h2M30 18h1M39 18h1M44 18h3M-2 19h2M30 19h1M39 19h2M44 19h3M-3 20h2M39 20h2M43 20h4M-3 21h1M31 21h1M38 21h2M43 21h3M34 22h4M43 22h3M42 23h3M42 24h3M42 25h2M42 26h2M-3 27h2M42 27h1M-1 28h2M41 28h1M2 29h1M38 29h1M3 30h1M32 30h1M4 31h1M28 31h1M5 32h1M17 32h1M5 33h2M15 33h1M5 34h2M18 34h1M25 34h2M32 34h4M3 35h1M42 35h3M-3 36h3M46 36h3M49 37h3M51 38h2M53 39h2M54 40h1M54 41h1M53 42h2M52 43h2M49 44h2M46 45h1M43 46h1M40 47h1M37 48h2M-3 49h2M33 49h3M2 50h6M24 50h6"/><path stroke="#2d2d2d" d="M30 9h9M29 10h12M27 11h4M39 11h3M26 12h4M40 12h3M25 13h3M41 13h3M24 14h3M41 14h4M23 15h1M42 15h3M8 16h3M15 16h2M20 16h2M31 16h2M36 16h9M5 17h2M30 17h1M39 17h6M2 18h2M40 18h4M0 19h2M41 19h3M-1 20h2M30 20h1M41 20h2M-2 21h1M40 21h3M-3 22h2M33 22h1M38 22h5M-3 23h1M40 23h2M-3 24h1M41 24h1M-3 25h1M41 25h1M-3 26h2M41 26h1M-1 27h1M41 27h1M1 28h1M39 28h2M36 29h2M31 30h1M5 31h1M27 31h1M6 32h1M16 32h1M7 33h3M14 33h1M7 34h2M16 34h2M27 34h5M4 35h1M39 35h3M0 36h2M44 36h2M48 37h1M50 38h1M51 39h2M52 40h2M52 41h2M52 42h1M50 43h2M48 44h1M45 45h1M42 46h1M39 47h1M36 48h1M-1 49h3M31 49h2M8 50h16"/><path stroke="#323232" d="M31 11h8M30 12h10M28 13h13M27 14h14M24 15h18M11 16h4M22 16h1M29 16h2M7 17h2M29 17h1M4 18h2M29 18h1M2 19h2M29 19h1M1 20h1M-1 21h2M-1 22h1M32 22h1M-2 23h1M36 23h4M-2 24h1M39 24h2M-2 25h2M40 25h1M-1 26h1M40 26h1M0 27h1M40 27h1M2 28h1M38 28h1M3 29h1M35 29h1M4 30h1M30 30h1M6 31h1M22 31h5M7 32h2M15 32h1M10 33h4M9 34h7M5 35h2M37 35h2M2 36h1M42 36h2M-3 37h1M46 37h2M48 38h2M50 39h1M51 40h1M51 41h1M51 42h1M49 43h1M47 44h1M44 45h1M41 46h1M38 47h1M-3 48h1M35 48h1M2 49h2M28 49h3"/><path stroke="#373737" d="M23 16h6M9 17h3M17 17h3M28 17h1M6 18h2M28 18h1M4 19h1M2 20h1M29 20h1M1 21h1M30 21h1M0 22h1M31 22h1M-1 23h2M34 23h2M-1 24h1M38 24h1M0 25h1M39 25h1M0 26h1M1 27h1M39 27h1M3 28h1M37 28h1M4 29h1M33 29h2M5 30h1M29 30h1M7 31h1M20 31h2M9 32h6M7 35h2M34 35h3M3 36h1M41 36h1M-2 37h2M45 37h1M47 38h1M49 39h1M50 40h1M50 41h1M50 42h1M48 43h1M46 44h1M43 45h1M40 46h1M37 47h1M-2 48h2M34 48h1M4 49h4M25 49h3"/><path stroke="#3c3c3c" d="M12 17h5M20 17h3M25 17h3M8 18h1M5 19h1M28 19h1M3 20h1M2 21h1M1 22h1M1 23h1M33 23h1M0 24h1M37 24h1M1 25h1M38 25h1M1 26h1M39 26h1M2 27h1M38 27h1M36 28h1M32 29h1M6 30h1M28 30h1M8 31h2M18 31h2M9 35h3M32 35h2M4 36h1M39 36h2M0 37h1M43 37h2M46 38h1M48 39h1M49 40h1M49 41h1M49 42h1M47 43h1M45 44h1M42 45h1M0 48h1M32 48h2M8 49h4M21 49h4"/><path stroke="#414141" d="M23 17h2M9 18h2M27 18h1M6 19h2M4 20h2M28 20h1M3 21h1M29 21h1M2 22h1M30 22h1M2 23h1M32 23h1M1 24h1M35 24h2M2 26h1M38 26h1M3 27h1M37 27h1M4 28h1M35 28h1M5 29h1M31 29h1M7 30h1M27 30h1M10 31h2M16 31h2M12 35h4M18 35h14M5 36h1M38 36h1M1 37h1M42 37h1M-3 38h1M45 38h1M47 39h1M48 40h1M48 41h1M48 42h1M46 43h1M44 44h1M39 46h1M-3 47h1M36 47h1M1 48h2M30 48h2M12 49h9"/><path stroke="#464646" d="M11 18h3M25 18h2M8 19h1M27 19h1M6 20h1M4 21h1M3 22h1M31 23h1M2 24h1M34 24h1M2 25h1M37 25h1M3 26h1M37 26h1M4 27h1M5 28h1M34 28h1M6 29h1M29 29h2M8 30h2M25 30h2M12 31h4M16 35h2M6 36h2M36 36h2M2 37h1M41 37h1M-2 38h1M44 38h1M46 39h1M47 40h1M47 41h1M47 42h1M43 44h1M41 45h1M38 46h1M-2 47h1M35 47h1M3 48h2M29 48h1"/><path stroke="#4b4b4b" d="M14 18h11M9 19h2M26 19h1M7 20h1M27 20h1M5 21h1M28 21h1M4 22h1M29 22h1M3 23h1M3 24h1M33 24h1M3 25h1M36 25h1M4 26h1M36 27h1M6 28h1M32 28h2M7 29h1M28 29h1M10 30h1M23 30h2M8 36h1M34 36h2M3 37h1M40 37h1M-1 38h1M43 38h1M45 39h1M46 40h1M46 41h1M46 42h1M45 43h1M40 45h1M37 46h1M-1 47h1M34 47h1M5 48h2M27 48h2"/><path stroke="#505050" d="M11 19h2M25 19h1M8 20h1M6 21h1M5 22h1M4 23h1M30 23h1M4 24h1M32 24h1M4 25h1M35 25h1M36 26h1M5 27h1M35 27h1M7 28h1M30 28h2M8 29h2M27 29h1M11 30h2M21 30h2M9 36h2M33 36h1M4 37h1M39 37h1M0 38h1M42 38h1M44 39h1M45 40h1M45 42h1M44 43h1M42 44h1M-3 46h1M0 47h2M33 47h1M7 48h2M24 48h3"/><path stroke="#555555" d="M13 19h2M22 19h3M9 20h2M26 20h1M7 21h1M27 21h1M6 22h1M28 22h1M5 23h1M5 24h1M31 24h1M5 25h1M33 25h2M5 26h1M35 26h1M6 27h1M33 27h2M8 28h1M29 28h1M10 29h1M25 29h2M13 30h8M11 36h2M31 36h2M5 37h1M38 37h1M1 38h1M41 38h1M-3 39h1M43 39h1M45 41h1M43 43h1M41 44h1M39 45h1M-2 46h1M36 46h1M2 47h1M31 47h2M9 48h3M21 48h3"/><path stroke="#5a5a5a" d="M15 19h7M11 20h1M25 20h1M8 21h1M7 22h1M6 23h1M29 23h1M6 24h1M30 24h1M6 25h1M32 25h1M6 26h1M33 26h2M7 27h1M31 27h2M9 28h1M27 28h2M11 29h2M24 29h1M13 36h2M29 36h2M6 37h1M36 37h2M40 38h1M-2 39h1M44 40h1M44 41h1M44 42h1M38 45h1M-1 46h1M35 46h1M3 47h1M30 47h1M12 48h9"/><path stroke="#5f5f5f" d="M12 20h2M23 20h2M9 21h2M26 21h1M8 22h1M27 22h1M7 23h1M28 23h1M7 24h1M29 24h1M7 25h1M30 25h2M7 26h1M31 26h2M8 27h1M29 27h2M10 28h1M26 28h1M13 29h2M22 29h2M15 36h3M25 36h4M7 37h1M35 37h1M2 38h1M39 38h1M-1 39h1M42 39h1M43 40h1M43 42h1M42 43h1M40 44h1M-3 45h1M0 46h1M34 46h1M4 47h1M29 47h1"/><path stroke="#646464" d="M14 20h9M11 21h1M25 21h1M9 22h1M26 22h1M8 23h1M27 23h1M28 24h1M29 25h1M8 26h1M29 26h2M9 27h1M27 27h2M11 28h1M24 28h2M15 29h7M18 36h7M8 37h1M34 37h1M3 38h1M38 38h1M41 39h1M-3 40h1M42 40h1M43 41h1M41 43h1M37 45h1M5 47h2M28 47h1"/><path stroke="#696969" d="M12 21h2M23 21h2M10 22h1M25 22h1M9 23h1M8 24h1M27 24h1M8 25h1M28 25h1M9 26h1M27 26h2M10 27h1M26 27h1M12 28h2M23 28h1M9 37h1M33 37h1M4 38h1M0 39h1M40 39h1M-2 40h1M42 41h1M42 42h1M39 44h1M-2 45h1M36 45h1M1 46h1M33 46h1M7 47h1M26 47h2"/><path stroke="#6e6e6e" d="M14 21h2M21 21h2M11 22h1M24 22h1M10 23h1M26 23h1M9 24h1M26 24h1M9 25h1M27 25h1M10 26h1M26 26h1M11 27h2M24 27h2M14 28h4M19 28h4M10 37h1M32 37h1M37 38h1M1 39h1M41 40h1M-3 41h1M41 42h1M40 43h1M-3 44h1M38 44h1M-1 45h1M2 46h1M32 46h1M8 47h2M25 47h1"/><path stroke="#737373" d="M16 21h5M12 22h2M23 22h1M11 23h1M25 23h1M10 24h1M25 24h1M10 25h2M25 25h2M11 26h1M24 26h2M13 27h1M22 27h2M18 28h1M11 37h2M30 37h2M5 38h1M36 38h1M2 39h1M39 39h1M-1 40h1M40 40h1M41 41h1M-3 42h1M-3 43h1M-2 44h1M0 45h1M35 45h1M3 46h1M31 46h1M10 47h2M22 47h3"/><path stroke="#787878" d="M14 22h3M20 22h3M12 23h2M23 23h2M11 24h2M24 24h1M12 25h1M24 25h1M12 26h2M23 26h1M14 27h8M13 37h1M29 37h1M6 38h1M35 38h1M38 39h1M0 40h1M-2 41h1M40 41h1M40 42h1M39 43h1M37 44h1M34 45h1M4 46h1M30 46h1M12 47h4M18 47h4"/><path stroke="#7d7d7d" d="M17 22h3M14 23h2M21 23h2M13 24h1M23 24h1M13 25h1M22 25h2M14 26h2M21 26h2M14 37h2M27 37h2M7 38h1M34 38h1M3 39h1M37 39h1M39 40h1M-1 41h1M-2 42h1M-2 43h1M-1 44h1M1 45h1M5 46h1M29 46h1M16 47h2"/><path stroke="#828282" d="M16 23h5M14 24h3M20 24h3M14 25h3M20 25h2M16 26h5M16 37h4M23 37h4M8 38h1M33 38h1M4 39h1M1 40h1M39 41h1M-1 42h1M39 42h1M-1 43h1M38 43h1M0 44h1M36 44h1M2 45h1M33 45h1M6 46h1M28 46h1"/><path stroke="#878787" d="M17 24h3M17 25h3M20 37h3M9 38h1M32 38h1M36 39h1M2 40h1M38 40h1M0 41h1M37 43h1M35 44h1M3 45h1M32 45h1M7 46h1M27 46h1"/><path stroke="#8c8c8c" d="M10 38h1M31 38h1M5 39h1M35 39h1M37 40h1M38 41h1M0 42h1M38 42h1M0 43h1M1 44h1M4 45h1M8 46h2M26 46h1"/><path stroke="#919191" d="M11 38h1M30 38h1M6 39h1M3 40h1M1 41h1M37 42h1M36 43h1M2 44h1M34 44h1M31 45h1M10 46h1M24 46h2"/><path stroke="#969696" d="M12 38h1M29 38h1M34 39h1M36 40h1M2 41h1M37 41h1M1 42h1M1 43h1M5 45h1M30 45h1M11 46h2M22 46h2"/><path stroke="#9b9b9b" d="M13 38h1M28 38h1M7 39h1M33 39h1M4 40h1M35 40h1M36 41h1M36 42h1M2 43h1M35 43h1M3 44h1M33 44h1M6 45h1M29 45h1M13 46h3M20 46h2"/><path stroke="#a0a0a0" d="M14 38h2M26 38h2M8 39h1M32 39h1M5 40h1M3 41h1M2 42h1M4 44h1M32 44h1M7 45h1M28 45h1M16 46h4"/><path stroke="#a5a5a5" d="M16 38h3M23 38h3M9 39h1M31 39h1M34 40h1M35 41h1M35 42h1M3 43h1M34 43h1M8 45h1M27 45h1"/><path stroke="#aaaaaa" d="M19 38h4M10 39h1M6 40h1M4 41h1M3 42h1M33 43h1M5 44h1M31 44h1M9 45h1M26 45h1"/><path stroke="#afafaf" d="M11 39h1M30 39h1M7 40h1M33 40h1M34 41h1M4 42h1M34 42h1M4 43h1M6 44h1M30 44h1M10 45h1M25 45h1"/><path stroke="#b4b4b4" d="M12 39h1M29 39h1M32 40h1M5 41h1M5 43h1M32 43h1M11 45h1M24 45h1"/><path stroke="#b9b9b9" d="M13 39h1M28 39h1M8 40h1M31 40h1M6 41h1M33 41h1M5 42h1M33 42h1M7 44h1M29 44h1M12 45h2M23 45h1"/><path stroke="#bebebe" d="M14 39h1M26 39h2M9 40h1M32 41h1M32 42h1M6 43h1M31 43h1M8 44h1M28 44h1M14 45h2M20 45h3"/><path stroke="#c3c3c3" d="M15 39h1M25 39h1M30 40h1M7 41h1M6 42h1M30 43h1M9 44h1M27 44h1M16 45h4"/><path stroke="#c8c8c8" d="M16 39h3M22 39h3M10 40h1M29 40h1M8 41h1M31 41h1M7 42h1M31 42h1M7 43h1M10 44h1M26 44h1"/><path stroke="#cdcdcd" d="M19 39h3M11 40h1M28 40h1M30 41h1M30 42h1M8 43h1M29 43h1M11 44h1M25 44h1"/><path stroke="#d2d2d2" d="M12 40h1M27 40h1M9 41h1M8 42h1M9 43h1M28 43h1M12 44h1M24 44h1"/><path stroke="#d7d7d7" d="M13 40h1M26 40h1M10 41h1M29 41h1M9 42h1M29 42h1M13 44h1M23 44h1"/><path stroke="#dcdcdc" d="M14 40h1M25 40h1M28 41h1M28 42h1M10 43h1M27 43h1M14 44h2M21 44h2"/><path stroke="#e1e1e1" d="M15 40h2M24 40h1M11 41h1M27 41h1M10 42h1M11 43h1M26 43h1M16 44h5"/><path stroke="#e6e6e6" d="M17 40h7M12 41h1M26 41h1M11 42h1M27 42h1M12 43h1M25 43h1"/><path stroke="#ebebeb" d="M13 41h1M25 41h1M12 42h1M26 42h1M13 43h1M24 43h1"/><path stroke="#f0f0f0" d="M14 41h1M24 41h1M13 42h1M25 42h1M14 43h2M22 43h2"/><path stroke="#f5f5f5" d="M15 41h2M22 41h2M14 42h1M24 42h1M16 43h6"/><path stroke="#fafafa" d="M17 41h5M15 42h2M22 42h2"/><path stroke="#ffffff" d="M17 42h5"/></g></g></g><path d="M874 673L892 667L909 663L933 659L947 657L958 658L978 668L989 669L996 667L1001 664L1005 661L1010 654L1012 647L1014 633L1017 626L1019 622L1034 610L1041 607L1048 606L1055 607L1069 612L1079 614L1089 614L1107 612L1117 615L1167 640L1172 643L1179 650L1183 659M1092 702L1098 699L1101 695L1102 692L1102 689L1100 685L1097 682L1093 679L1082 676L1072 677L1065 680L1060 685L1059 689L1059 692L1061 695L1064 699L1069 702L1079 704L1086 704L1092 702M1183 680L1178 695L1168 713L1153 734L1146 741L1141 744L1132 748L1124 749L1082 754L1069 756L1060 758L1048 763L1041 765L1010 764L989 765L978 769L977 772L984 776L999 777L1020 777L1048 772L1089 776L1138 778L1159 781L1183 787M874 785L887 783L894 779L898 776L899 772L896 765L888 756L881 750L874 748M1183 840L1155 845L1140 849L1122 856L1103 865L1091 870M961 762L947 762L930 759L916 753L906 747L892 734L886 727L885 723L884 716L887 709L889 706L897 699L909 691L923 686L940 681L958 679L985 680L1013 677L1024 678L1030 679L1037 684L1049 699L1058 707L1069 713L1094 720L1100 723L1103 727L1103 730L1102 734L1099 737L1093 741L1082 744L1027 756L961 762M874 797L916 788L951 783L968 783L1037 783L1058 784L1100 789L1117 792L1132 796L1145 801L1155 807L1160 810L1162 814L1164 817L1163 821L1162 824L1158 828L1146 835L1093 854L1079 858L1058 861L1017 865L965 867L916 865L874 859M1010 748L989 750L972 750L954 748L941 744L928 737L920 730L917 723L918 716L922 709L926 706L937 700L947 696L958 694L972 692L1003 693L1017 695L1027 699L1036 706L1051 720L1063 727L1066 730L1060 734L1044 738L1024 745L1010 748M874 806L909 797L947 792L989 789L1037 790L1076 794L1093 797L1107 801L1121 806L1128 810L1132 814L1134 817L1134 821L1133 824L1130 828L1125 831L1112 838L1100 843L1072 851L1055 854L1034 857L989 860L944 859L906 855L889 852L874 849M996 731L982 732L969 730L962 727L959 723L959 720L961 716L965 714L975 711L989 710L999 712L1006 716L1009 720L1008 723L1005 727L996 731M874 818L881 814L895 808L909 804L926 801L947 798L968 796L1010 795L1030 795L1051 797L1069 800L1082 803L1095 807L1103 810L1107 814L1110 817L1111 821L1110 824L1108 828L1103 831L1093 837L1079 842L1065 845L1048 849L1010 853L968 854L947 853L926 851L911 849L895 845L884 842L874 837M982 849L944 847L930 845L913 842L902 838L895 835L891 831L890 828L890 824L893 821L895 819L904 814L926 807L958 802L992 800L1030 801L1048 803L1062 806L1076 810L1082 813L1088 817L1090 821L1089 824L1087 828L1082 831L1072 836L1058 840L1041 844L1024 846L1003 848L982 849M1013 842L992 843L975 843L954 842L940 840L931 838L920 834L914 831L913 829L912 828L912 824L915 821L920 817L937 812L961 807L989 805L1020 806L1044 809L1059 814L1065 817L1068 821L1068 824L1065 828L1059 831L1051 835L1037 838L1013 842M1017 835L989 837L961 836L954 835L942 831L937 828L936 824L940 821L948 817L954 816L968 813L989 811L1010 812L1026 814L1038 817L1043 821L1043 824L1040 828L1032 831L1017 835" fill="none" stroke="#013" stroke-opacity=".42" stroke-width="1" stroke-linejoin="round"/></g>
<path d="M874.5 572.6V869.6H1184" fill="none" stroke="#000" stroke-width="2"/>
<path d="M873.5 573.6H1183V869.6" fill="none" stroke="#000" stroke-width="1.6"/>
<path d="M874.5 869.6v6.5M922 869.6v6.5M969.4 869.6v6.5M1016.9 869.6v6.5M1064.3 869.6v6.5M1111.8 869.6v6.5M1159.3 869.6v6.5" stroke="#000" stroke-width="2" fill="none"/>
<path d="M898.2 869.6v3.8M945.7 869.6v3.8M993.2 869.6v3.8M1040.6 869.6v3.8M1088.1 869.6v3.8M1135.5 869.6v3.8M1183 869.6v3.8" stroke="#000" stroke-width="2" fill="none"/>
<path d="M874.5 869.6h-6.5M874.5 820.3h-6.5M874.5 770.9h-6.5M874.5 721.6h-6.5M874.5 672.3h-6.5M874.5 622.9h-6.5M874.5 573.6h-6.5" stroke="#000" stroke-width="2" fill="none"/>
<path d="M874.5 844.9h-3.8M874.5 795.6h-3.8M874.5 746.3h-3.8M874.5 696.9h-3.8M874.5 647.6h-3.8M874.5 598.3h-3.8" stroke="#000" stroke-width="2" fill="none"/>
<text x="874.5" y="899.1" font-size="25" text-anchor="middle">0</text>
<text x="922" y="899.1" font-size="25" text-anchor="middle">2</text>
<text x="969.4" y="899.1" font-size="25" text-anchor="middle">4</text>
<text x="1016.9" y="899.1" font-size="25" text-anchor="middle">6</text>
<text x="1064.3" y="899.1" font-size="25" text-anchor="middle">8</text>
<text x="1111.8" y="899.1" font-size="25" text-anchor="middle">10</text>
<text x="1159.3" y="899.1" font-size="25" text-anchor="middle">12</text>
<text x="864.7" y="877.9" font-size="25" text-anchor="end">1.0</text>
<text x="864.7" y="828.6" font-size="25" text-anchor="end">1.5</text>
<text x="864.7" y="779.2" font-size="25" text-anchor="end">2.0</text>
<text x="864.7" y="729.9" font-size="25" text-anchor="end">2.5</text>
<text x="864.7" y="680.6" font-size="25" text-anchor="end">3.0</text>
<text x="864.7" y="631.2" font-size="25" text-anchor="end">3.5</text>
<text x="864.7" y="581.9" font-size="25" text-anchor="end">4.0</text>
<text x="1025.8" y="933.1" font-size="25" text-anchor="middle" fill="#111">k (Å<tspan font-size="15" dy="-11">-1</tspan><tspan dy="11">&#8203;</tspan>)</text>
<text font-size="24.5" text-anchor="middle" fill="#111" transform="translate(822 722.6) rotate(-90)">R+a (Å)</text>
<text x="890.2" y="627.6" font-size="41.5" fill="#fff">CuO</text>
<clipPath id="cg"><rect x="1273.5" y="573.6" width="308.5" height="296"/></clipPath><g clip-path="url(#cg)"><g filter="url(#jet)"><g transform="translate(1273.5 573.6) scale(5.9327 5.9200)"><rect x="-3" y="-3" width="58" height="56" fill="#1e1e1e"/><g transform="translate(0 .5)" fill="none" stroke-width="1.04"><path stroke="#050505" d="M32 8h2M45 12h2M44 13h4M45 14h2M14 17h4M14 18h4M6 20h3M6 21h4M6 22h3M48 28h5M48 29h5M33 31h5M50 46h2"/><path stroke="#0a0a0a" d="M1 4h4M0 5h5M0 6h6M0 7h6M31 7h3M0 8h5M31 8h1M34 8h1M1 9h4M31 9h3M44 11h4M43 12h2M47 12h2M43 13h1M48 13h1M44 14h1M47 14h1M45 15h2M13 16h5M10 17h4M18 17h2M5 18h9M18 18h2M4 19h14M4 20h2M9 20h3M4 21h2M10 21h2M4 22h2M9 22h2M5 23h6M6 24h3M48 27h5M47 28h1M53 28h1M46 29h2M53 29h2M35 30h1M47 30h7M31 31h2M38 31h2M32 32h6M17 34h3M18 35h1M49 45h4M48 46h2M52 46h2"/><path stroke="#0f0f0f" d="M0 -1h6M-1 0h8M-2 1h10M-3 2h12M-3 3h12M-3 4h4M5 4h4M-3 5h3M5 5h5M-3 6h3M6 6h4M31 6h4M-3 7h3M6 7h4M30 7h1M34 7h1M-3 8h3M5 8h5M30 8h1M-3 9h4M5 9h4M30 9h1M34 9h1M-3 10h12M31 10h3M43 10h6M-3 11h12M43 11h1M48 11h1M-2 12h10M42 12h1M49 12h1M-1 13h9M42 13h1M49 13h1M0 14h8M43 14h1M48 14h2M1 15h16M44 15h1M47 15h2M2 16h11M18 16h2M46 16h1M2 17h8M20 17h1M2 18h3M20 18h1M2 19h2M18 19h2M2 20h2M12 20h5M2 21h2M12 21h2M2 22h2M11 22h2M3 23h2M11 23h1M3 24h3M9 24h3M5 25h5M49 26h4M46 27h2M53 27h2M45 28h2M54 28h1M45 29h1M32 30h3M36 30h4M45 30h2M54 30h1M30 31h1M40 31h2M47 31h7M30 32h2M38 32h3M16 34h1M20 34h1M16 35h2M19 35h2M48 45h1M53 45h2M47 46h1M54 46h1M48 47h6"/><path stroke="#141414" d="M-3 -3h13M-3 -2h14M-3 -1h3M6 -1h5M-3 0h2M7 0h5M-3 1h1M8 1h4M9 2h4M9 3h4M9 4h4M10 5h3M31 5h4M10 6h3M30 6h1M35 6h1M10 7h3M35 7h1M10 8h3M29 8h1M35 8h1M45 8h2M9 9h4M35 9h1M43 9h6M9 10h4M30 10h1M34 10h2M42 10h1M49 10h1M9 11h4M31 11h4M41 11h2M49 11h2M-3 12h1M8 12h5M41 12h1M50 12h1M-3 13h2M8 13h5M41 13h1M50 13h1M-3 14h3M8 14h8M42 14h1M50 14h1M-3 15h4M17 15h2M43 15h1M49 15h2M-3 16h5M20 16h1M44 16h2M47 16h3M-3 17h5M21 17h1M46 17h2M-2 18h4M21 18h1M-1 19h3M20 19h1M-1 20h3M17 20h2M-1 21h3M14 21h2M0 22h2M13 22h2M0 23h3M12 23h2M1 24h2M12 24h1M2 25h3M10 25h3M49 25h4M3 26h8M47 26h2M53 26h2M6 27h3M45 27h1M44 28h1M43 29h2M30 30h2M40 30h5M28 31h2M42 31h5M54 31h1M28 32h2M41 32h13M33 33h6M15 34h1M21 34h2M15 35h1M21 35h1M47 45h1M46 46h1M46 47h2M54 47h1"/><path stroke="#191919" d="M10 -3h6M11 -2h5M11 -1h5M12 0h4M12 1h4M13 2h3M33 2h1M13 3h3M31 3h5M13 4h3M30 4h7M13 5h3M29 5h2M35 5h3M45 5h2M13 6h3M29 6h1M36 6h3M42 6h8M13 7h3M29 7h1M36 7h3M40 7h12M13 8h3M36 8h9M47 8h6M13 9h3M29 9h1M36 9h7M49 9h4M13 10h3M29 10h1M36 10h6M50 10h4M13 11h3M29 11h2M35 11h2M39 11h2M51 11h3M13 12h3M30 12h5M39 12h2M51 12h3M13 13h3M40 13h1M51 13h3M16 14h2M41 14h1M51 14h3M19 15h1M42 15h1M51 15h3M21 16h1M42 16h2M50 16h4M22 17h1M43 17h3M48 17h5M-3 18h1M22 18h1M45 18h7M-3 19h2M21 19h1M48 19h2M-3 20h2M19 20h1M-3 21h2M16 21h2M-3 22h3M15 22h2M-3 23h3M14 23h2M50 23h5M-3 24h4M13 24h2M48 24h7M-3 25h5M13 25h1M47 25h2M53 25h2M-3 26h6M11 26h3M45 26h2M-3 27h9M9 27h3M43 27h2M-3 28h14M38 28h6M-1 29h10M32 29h11M1 30h5M28 30h2M27 31h1M26 32h2M54 32h1M28 33h5M39 33h16M14 34h1M23 34h1M50 34h5M14 35h1M49 44h6M46 45h1M45 46h1M45 47h1M45 48h10M47 49h8"/><path stroke="#232323" d="M20 -3h5M19 -2h7M19 -1h8M18 0h3M24 0h3M18 1h2M25 1h3M18 2h2M26 2h2M18 3h1M26 3h2M18 4h1M27 4h1M17 5h2M27 5h1M17 6h2M27 6h1M17 7h2M27 7h1M17 8h2M27 8h1M17 9h2M27 9h1M17 10h2M27 10h1M17 11h2M27 11h1M18 12h1M26 12h2M18 13h2M26 13h2M20 14h1M26 14h13M22 15h8M39 15h2M23 16h4M40 16h1M24 17h1M41 17h1M23 18h1M42 18h1M42 19h2M21 20h1M42 20h3M20 21h1M43 21h3M18 22h1M44 22h3M17 23h1M45 23h2M16 24h2M38 24h4M44 24h2M16 25h1M37 25h8M15 26h1M35 26h2M14 27h2M33 27h2M13 28h1M31 28h2M11 29h2M28 29h2M10 30h1M25 30h2M8 31h2M23 31h2M7 32h2M22 32h2M7 33h2M16 33h2M6 34h2M12 34h2M26 34h8M3 35h3M13 35h1M23 35h1M40 35h6M-3 36h4M47 36h4M51 37h2M52 38h3M54 39h1M54 40h1M54 41h1M53 42h2M51 43h2M47 44h1M43 46h1M42 47h1M40 48h2M35 49h4M31 50h4M28 51h3M24 52h4"/><path stroke="#282828" d="M21 0h3M20 1h5M20 2h6M19 3h2M24 3h2M19 4h2M25 4h2M19 5h1M25 5h2M19 6h1M25 6h2M19 7h1M26 7h1M19 8h1M26 8h1M19 9h1M26 9h1M19 10h1M25 10h2M19 11h1M25 11h2M19 12h2M25 12h1M20 13h2M24 13h2M21 14h5M30 15h4M36 15h3M27 16h2M39 16h1M25 17h2M40 17h1M24 18h1M40 18h2M23 19h1M41 19h1M22 20h1M40 20h2M40 21h3M19 22h1M39 22h5M18 23h1M38 23h7M18 24h1M37 24h1M42 24h2M17 25h1M36 25h1M16 26h2M34 26h1M16 27h1M32 27h1M14 28h2M30 28h1M13 29h1M26 29h2M11 30h2M23 30h2M10 31h1M22 31h1M9 32h1M20 32h2M9 33h1M14 33h2M8 34h4M6 35h3M11 35h2M24 35h1M36 35h4M1 36h3M44 36h3M-3 37h1M49 37h2M51 38h1M52 39h2M53 40h1M53 41h1M52 42h1M50 43h1M46 44h1M44 45h1M42 46h1M41 47h1M38 48h2M33 49h2M29 50h2M26 51h2M-3 52h1M21 52h3"/><path stroke="#2d2d2d" d="M21 3h3M21 4h4M20 5h5M20 6h5M20 7h2M23 7h3M20 8h2M24 8h2M20 9h2M23 9h3M20 10h5M20 11h5M21 12h4M22 13h2M34 15h2M29 16h3M37 16h2M27 17h1M39 17h1M25 18h1M39 18h1M24 19h1M40 19h1M23 20h1M39 20h1M21 21h1M39 21h1M20 22h1M38 22h1M19 23h1M37 23h1M36 24h1M18 25h1M35 25h1M18 26h1M33 26h1M17 27h1M31 27h1M16 28h1M28 28h2M14 29h2M24 29h2M13 30h1M22 30h1M11 31h2M20 31h2M10 32h2M18 32h2M10 33h4M9 35h2M25 35h3M30 35h6M4 36h2M16 36h4M41 36h3M-2 37h2M47 37h2M50 38h1M51 39h1M52 40h1M52 41h1M51 42h1M49 43h1M45 44h1M43 45h1M40 47h1M36 48h2M31 49h2M27 50h2M24 51h2M-2 52h3M19 52h2"/><path stroke="#323232" d="M22 7h1M22 8h2M22 9h1M32 16h5M28 17h2M37 17h2M26 18h1M38 18h1M25 19h1M39 19h1M38 20h1M22 21h1M38 21h1M21 22h1M37 22h1M20 23h1M36 23h1M19 24h1M35 24h1M19 25h1M34 25h1M19 26h1M32 26h1M18 27h2M30 27h1M17 28h3M26 28h2M16 29h3M21 29h3M14 30h2M19 30h3M13 31h1M19 31h1M12 32h2M16 32h2M28 35h2M6 36h2M14 36h2M20 36h1M38 36h3M0 37h2M45 37h2M49 38h1M50 39h1M51 40h1M51 41h1M50 42h1M48 43h1M41 46h1M38 47h2M34 48h2M29 49h2M26 50h1M-3 51h1M22 51h2M1 52h3M16 52h3"/><path stroke="#373737" d="M30 17h2M35 17h2M27 18h2M37 18h1M26 19h1M38 19h1M24 20h1M23 21h1M37 21h1M36 22h1M21 23h1M35 23h1M20 24h1M34 24h1M20 25h1M33 25h1M20 26h1M31 26h1M20 27h1M28 27h2M20 28h6M19 29h2M16 30h3M14 31h5M14 32h2M8 36h6M21 36h1M36 36h2M2 37h2M43 37h2M-3 38h2M47 38h2M49 39h1M50 40h1M50 41h1M49 42h1M47 43h1M44 44h1M42 45h1M40 46h1M37 47h1M33 48h1M28 49h1M24 50h2M-2 51h1M21 51h1M4 52h12"/><path stroke="#3c3c3c" d="M32 17h3M29 18h1M36 18h1M27 19h1M37 19h1M25 20h1M37 20h1M36 21h1M22 22h1M21 24h1M33 24h1M21 25h1M32 25h1M21 26h1M30 26h1M21 27h3M26 27h2M22 36h2M33 36h3M4 37h1M40 37h3M-1 38h1M46 38h1M48 39h1M49 40h1M49 41h1M48 42h1M46 43h1M43 44h1M41 45h1M39 46h1M36 47h1M31 48h2M26 49h2M23 50h1M-1 51h2M19 51h2"/><path stroke="#414141" d="M30 18h2M33 18h3M28 19h1M36 19h1M26 20h1M36 20h1M24 21h1M23 22h1M35 22h1M22 23h1M34 23h1M22 24h1M22 25h1M31 25h1M22 26h1M28 26h2M24 27h2M24 36h2M29 36h4M5 37h1M39 37h1M0 38h1M44 38h2M47 39h1M48 40h1M48 41h1M47 42h1M45 43h1M38 46h1M35 47h1M30 48h1M25 49h1M-3 50h2M22 50h1M1 51h2M17 51h2"/><path stroke="#464646" d="M32 18h1M29 19h1M34 19h2M27 20h1M35 20h1M25 21h1M35 21h1M24 22h1M34 22h1M23 23h1M33 23h1M23 24h1M32 24h1M23 25h1M30 25h1M23 26h5M26 36h3M6 37h2M37 37h2M1 38h1M43 38h1M-3 39h1M46 39h1M47 40h1M47 41h1M46 42h1M44 43h1M42 44h1M40 45h1M34 47h1M29 48h1M24 49h1M-1 50h1M20 50h2M3 51h2M15 51h2"/><path stroke="#4b4b4b" d="M30 19h4M28 20h1M34 20h1M26 21h1M34 21h1M25 22h1M33 22h1M24 23h1M32 23h1M24 24h1M31 24h1M24 25h2M28 25h2M8 37h2M35 37h2M2 38h1M41 38h2M-2 39h1M45 39h1M45 42h1M41 44h1M39 45h1M37 46h1M33 47h1M27 48h2M-3 49h2M23 49h1M0 50h1M19 50h1M5 51h4M11 51h4"/><path stroke="#505050" d="M29 20h5M27 21h1M33 21h1M26 22h1M32 22h1M25 23h1M31 23h1M25 24h1M29 24h2M26 25h2M10 37h1M34 37h1M3 38h1M39 38h2M-1 39h1M44 39h1M46 40h1M46 41h1M43 43h1M36 46h1M32 47h1M-3 48h1M26 48h1M-1 49h1M21 49h2M1 50h2M18 50h1M9 51h2"/><path stroke="#555555" d="M28 21h5M27 22h1M31 22h1M26 23h2M29 23h2M26 24h3M11 37h3M32 37h2M4 38h1M38 38h1M0 39h1M42 39h2M44 40h2M45 41h1M44 42h1M42 43h1M40 44h1M38 45h1M35 46h1M31 47h1M-2 48h1M25 48h1M0 49h1M20 49h1M3 50h1M16 50h2"/><path stroke="#5a5a5a" d="M28 22h3M28 23h1M14 37h5M30 37h2M5 38h1M37 38h1M41 39h1M-3 40h1M43 40h1M44 41h1M43 42h1M41 43h1M37 45h1M34 46h1M30 47h1M-1 48h1M24 48h1M1 49h1M19 49h1M4 50h2M14 50h2"/><path stroke="#5f5f5f" d="M19 37h4M27 37h3M6 38h1M36 38h1M1 39h1M40 39h1M-2 40h1M42 40h1M43 41h1M42 42h1M39 44h1M33 46h1M-3 47h1M29 47h1M0 48h1M22 48h2M2 49h2M17 49h2M6 50h8"/><path stroke="#646464" d="M23 37h4M7 38h2M35 38h1M2 39h1M39 39h1M41 40h1M42 41h1M41 42h1M40 43h1M38 44h1M36 45h1M-2 47h1M28 47h1M1 48h1M21 48h1M4 49h1M15 49h2"/><path stroke="#696969" d="M9 38h1M33 38h2M3 39h1M38 39h1M-1 40h1M40 40h1M41 41h1M39 43h1M35 45h1M32 46h1M-1 47h1M27 47h1M2 48h1M20 48h1M5 49h3M13 49h2"/><path stroke="#6e6e6e" d="M10 38h1M32 38h1M4 39h1M37 39h1M0 40h1M39 40h1M-3 41h1M40 41h1M40 42h1M37 44h1M-3 46h1M31 46h1M0 47h1M26 47h1M3 48h2M18 48h2M8 49h5"/><path stroke="#737373" d="M11 38h1M31 38h1M5 39h1M36 39h1M38 40h1M-2 41h1M39 41h1M39 42h1M38 43h1M34 45h1M30 46h1M1 47h1M25 47h1M5 48h2M16 48h2"/><path stroke="#787878" d="M12 38h2M30 38h1M35 39h1M1 40h1M-3 42h1M36 44h1M33 45h1M-2 46h1M29 46h1M2 47h1M23 47h2M7 48h3M13 48h3"/><path stroke="#7d7d7d" d="M14 38h1M28 38h2M6 39h1M34 39h1M2 40h1M37 40h1M-1 41h1M38 41h1M38 42h1M37 43h1M35 44h1M-3 45h1M-1 46h1M3 47h1M22 47h1M10 48h3"/><path stroke="#828282" d="M15 38h3M26 38h2M7 39h1M33 39h1M3 40h1M36 40h1M0 41h1M37 41h1M-2 42h1M37 42h1M-3 43h1M-3 44h1M-2 45h1M32 45h1M0 46h1M28 46h1M4 47h1M21 47h1"/><path stroke="#878787" d="M18 38h8M8 39h1M32 39h1M35 40h1M36 43h1M34 44h1M31 45h1M1 46h1M27 46h1M5 47h2M19 47h2"/><path stroke="#8c8c8c" d="M9 39h1M31 39h1M4 40h1M1 41h1M36 41h1M-1 42h1M36 42h1M-2 43h1M35 43h1M-2 44h1M-1 45h1M2 46h1M26 46h1M7 47h1M18 47h1"/><path stroke="#919191" d="M10 39h1M30 39h1M5 40h1M34 40h1M35 41h1M33 44h1M0 45h1M30 45h1M25 46h1M8 47h4M14 47h4"/><path stroke="#969696" d="M11 39h1M29 39h1M33 40h1M2 41h1M0 42h1M35 42h1M-1 43h1M34 43h1M-1 44h1M32 44h1M29 45h1M3 46h1M24 46h1M12 47h2"/><path stroke="#9b9b9b" d="M12 39h1M28 39h1M6 40h1M3 41h1M34 41h1M0 44h1M1 45h1M4 46h1M23 46h1"/><path stroke="#a0a0a0" d="M13 39h1M27 39h1M7 40h1M32 40h1M1 42h1M34 42h1M0 43h1M33 43h1M31 44h1M2 45h1M28 45h1M5 46h1M22 46h1"/><path stroke="#a5a5a5" d="M14 39h2M25 39h2M31 40h1M4 41h1M33 41h1M2 42h1M33 42h1M1 43h1M1 44h1M27 45h1M6 46h2M21 46h1"/><path stroke="#aaaaaa" d="M16 39h2M23 39h2M8 40h1M30 40h1M32 41h1M32 43h1M30 44h1M3 45h1M8 46h1M20 46h1"/><path stroke="#afafaf" d="M18 39h5M9 40h1M5 41h1M3 42h1M32 42h1M2 43h1M31 43h1M2 44h1M29 44h1M4 45h1M26 45h1M9 46h2M18 46h2"/><path stroke="#b4b4b4" d="M10 40h1M29 40h1M6 41h1M31 41h1M3 44h1M5 45h1M25 45h1M11 46h7"/><path stroke="#b9b9b9" d="M11 40h1M28 40h1M4 42h1M31 42h1M3 43h1M30 43h1M28 44h1M24 45h1"/><path stroke="#bebebe" d="M12 40h1M27 40h1M7 41h1M30 41h1M4 44h1M6 45h1M23 45h1"/><path stroke="#c3c3c3" d="M13 40h1M26 40h1M8 41h1M29 41h1M5 42h1M30 42h1M4 43h1M29 43h1M5 44h1M27 44h1M7 45h1M22 45h1"/><path stroke="#c8c8c8" d="M14 40h1M24 40h2M28 41h1M6 42h1M29 42h1M5 43h1M26 44h1M8 45h2M21 45h1"/><path stroke="#cdcdcd" d="M15 40h3M22 40h2M9 41h1M28 43h1M6 44h1M25 44h1M10 45h1M20 45h1"/><path stroke="#d2d2d2" d="M18 40h4M10 41h1M27 41h1M7 42h1M28 42h1M6 43h1M27 43h1M7 44h1M11 45h2M18 45h2"/><path stroke="#d7d7d7" d="M11 41h1M26 41h1M8 42h1M27 42h1M7 43h1M8 44h1M24 44h1M13 45h5"/><path stroke="#dcdcdc" d="M12 41h1M25 41h1M26 43h1M9 44h1M23 44h1"/><path stroke="#e1e1e1" d="M13 41h1M24 41h1M9 42h1M26 42h1M8 43h1M25 43h1M10 44h1M22 44h1"/><path stroke="#e6e6e6" d="M14 41h2M22 41h2M10 42h1M25 42h1M9 43h1M24 43h1M11 44h1M21 44h1"/><path stroke="#ebebeb" d="M16 41h6M11 42h1M24 42h1M10 43h1M23 43h1M12 44h2M19 44h2"/><path stroke="#f0f0f0" d="M12 42h1M23 42h1M11 43h1M22 43h1M14 44h5"/><path stroke="#f5f5f5" d="M13 42h1M21 42h2M12 43h1M21 43h1"/><path stroke="#fafafa" d="M14 42h3M19 42h2M13 43h2M19 43h2"/><path stroke="#ffffff" d="M17 42h2M15 43h4"/></g></g></g><path d="M1274 785L1290 783L1298 780L1302 779L1308 776L1316 765L1323 758L1351 741L1359 734L1377 709L1386 702L1403 692L1411 685L1413 682L1414 678L1414 675L1411 671L1385 657L1381 654L1377 647L1375 633L1375 608L1378 588L1383 574M1436 574L1439 584L1441 594L1439 626L1441 640L1443 654L1447 657L1454 658L1492 653L1502 655L1509 660L1513 663L1533 687L1549 699L1553 706L1554 709L1553 713L1551 716L1548 720L1543 723L1533 728L1523 730L1516 730L1509 728L1502 728L1495 731L1476 741L1432 755L1425 758L1412 767L1405 769L1374 773L1364 775L1360 776L1353 779L1353 783L1362 786L1367 787L1377 788L1391 787L1401 786L1414 783L1429 777L1447 776L1530 780L1558 785L1582 791M1582 833L1558 837L1545 842L1539 845L1535 849L1530 858L1527 861L1516 865L1496 870M1436 734L1426 736L1416 736L1409 734L1405 731L1404 727L1404 720L1407 713L1413 706L1422 699L1433 692L1443 687L1454 683L1464 681L1475 681L1481 682L1487 685L1489 689L1490 692L1490 695L1487 702L1481 709L1474 716L1461 725L1448 730L1436 734M1274 802L1308 795L1336 792L1384 792L1429 789L1450 789L1485 792L1540 801L1550 803L1558 807L1562 810L1563 814L1564 817L1562 821L1559 824L1553 828L1530 837L1506 849L1485 855L1430 866L1417 870M1274 810L1308 803L1339 798L1367 797L1433 795L1464 798L1492 802L1519 810L1526 814L1529 817L1528 821L1526 824L1516 831L1502 839L1485 846L1454 853L1398 863L1365 870M1303 870L1274 860M1274 819L1298 811L1332 805L1367 801L1409 800L1443 802L1471 806L1485 810L1493 814L1497 817L1499 821L1499 824L1497 828L1493 831L1488 835L1475 841L1447 848L1409 854L1367 859L1336 859L1308 857L1291 854L1274 849M1371 852L1350 853L1332 852L1315 850L1301 848L1292 845L1284 842L1279 838L1277 835L1278 831L1280 828L1285 824L1292 821L1308 815L1339 809L1374 806L1409 805L1440 808L1455 810L1467 814L1473 817L1477 821L1477 824L1476 828L1472 831L1461 837L1447 842L1432 845L1412 848L1371 852M1395 845L1360 847L1328 845L1312 842L1305 839L1299 835L1299 831L1301 828L1307 824L1315 821L1327 817L1350 813L1381 810L1412 811L1436 814L1448 817L1454 821L1455 824L1454 828L1451 831L1440 836L1419 842L1395 845M1402 838L1374 841L1350 840L1332 837L1326 835L1324 831L1326 828L1332 824L1343 821L1360 818L1374 817L1391 816L1410 817L1425 821L1430 824L1430 828L1426 831L1417 835L1402 838" fill="none" stroke="#013" stroke-opacity=".42" stroke-width="1" stroke-linejoin="round"/></g>
<path d="M1273.5 572.6V869.6H1583" fill="none" stroke="#000" stroke-width="2"/>
<path d="M1272.5 573.6H1582V869.6" fill="none" stroke="#000" stroke-width="1.6"/>
<path d="M1273.5 869.6v6.5M1321 869.6v6.5M1368.4 869.6v6.5M1415.9 869.6v6.5M1463.3 869.6v6.5M1510.8 869.6v6.5M1558.3 869.6v6.5" stroke="#000" stroke-width="2" fill="none"/>
<path d="M1297.2 869.6v3.8M1344.7 869.6v3.8M1392.2 869.6v3.8M1439.6 869.6v3.8M1487.1 869.6v3.8M1534.5 869.6v3.8M1582 869.6v3.8" stroke="#000" stroke-width="2" fill="none"/>
<path d="M1273.5 869.6h-6.5M1273.5 820.3h-6.5M1273.5 770.9h-6.5M1273.5 721.6h-6.5M1273.5 672.3h-6.5M1273.5 622.9h-6.5M1273.5 573.6h-6.5" stroke="#000" stroke-width="2" fill="none"/>
<path d="M1273.5 844.9h-3.8M1273.5 795.6h-3.8M1273.5 746.3h-3.8M1273.5 696.9h-3.8M1273.5 647.6h-3.8M1273.5 598.3h-3.8" stroke="#000" stroke-width="2" fill="none"/>
<text x="1273.5" y="899.1" font-size="25" text-anchor="middle">0</text>
<text x="1321" y="899.1" font-size="25" text-anchor="middle">2</text>
<text x="1368.4" y="899.1" font-size="25" text-anchor="middle">4</text>
<text x="1415.9" y="899.1" font-size="25" text-anchor="middle">6</text>
<text x="1463.3" y="899.1" font-size="25" text-anchor="middle">8</text>
<text x="1510.8" y="899.1" font-size="25" text-anchor="middle">10</text>
<text x="1558.3" y="899.1" font-size="25" text-anchor="middle">12</text>
<text x="1263.7" y="877.9" font-size="25" text-anchor="end">1.0</text>
<text x="1263.7" y="828.6" font-size="25" text-anchor="end">1.5</text>
<text x="1263.7" y="779.2" font-size="25" text-anchor="end">2.0</text>
<text x="1263.7" y="729.9" font-size="25" text-anchor="end">2.5</text>
<text x="1263.7" y="680.6" font-size="25" text-anchor="end">3.0</text>
<text x="1263.7" y="631.2" font-size="25" text-anchor="end">3.5</text>
<text x="1263.7" y="581.9" font-size="25" text-anchor="end">4.0</text>
<text x="1424.8" y="933.1" font-size="25" text-anchor="middle" fill="#111">k (Å<tspan font-size="15" dy="-11">-1</tspan><tspan dy="11">&#8203;</tspan>)</text>
<text font-size="24.5" text-anchor="middle" fill="#111" transform="translate(1221 722.6) rotate(-90)">R+a (Å)</text>
<text x="1291.4" y="627.6" font-size="41.5" fill="#fff">Cu-ZIF-8</text>
<clipPath id="ch"><rect x="1675.1" y="573.6" width="308.5" height="296"/></clipPath><g clip-path="url(#ch)"><g filter="url(#jet)"><g transform="translate(1675.1 573.6) scale(5.9327 5.9200)"><rect x="-3" y="-3" width="58" height="56" fill="#191919"/><g transform="translate(0 .5)" fill="none" stroke-width="1.04"><path stroke="#050505" d="M48 2h1M47 3h4M46 4h5M46 5h5M46 6h6M46 7h6M45 8h7M45 9h7M45 10h7M45 11h8M45 12h8M45 13h8M45 14h7M45 15h7M45 16h7M46 17h6M46 18h6M46 19h6M46 20h5M17 21h3M47 21h4M5 22h1M48 22h2M3 23h6M3 24h5M33 28h5M32 29h7"/><path stroke="#0a0a0a" d="M46 -3h6M45 -2h7M45 -1h8M44 0h9M44 1h9M2 2h4M44 2h4M49 2h5M1 3h5M44 3h3M51 3h3M0 4h7M43 4h3M51 4h3M0 5h7M43 5h3M51 5h3M0 6h7M43 6h3M52 6h3M1 7h5M43 7h3M52 7h3M2 8h3M43 8h2M52 8h3M43 9h2M52 9h3M43 10h2M52 10h3M43 11h2M53 11h2M43 12h2M53 12h2M43 13h2M53 13h2M43 14h2M52 14h3M43 15h2M52 15h3M43 16h2M52 16h3M43 17h3M52 17h3M43 18h3M52 18h3M43 19h3M52 19h2M16 20h4M44 20h2M51 20h3M15 21h2M20 21h1M44 21h3M51 21h3M1 22h4M6 22h4M16 22h4M44 22h4M50 22h4M0 23h3M9 23h2M44 23h10M1 24h2M8 24h3M44 24h9M2 25h7M45 25h8M45 26h7M44 27h8M30 28h3M38 28h13M30 29h2M39 29h11M32 30h8M47 30h1M18 35h3"/><path stroke="#0f0f0f" d="M42 -3h4M52 -3h3M0 -2h7M42 -2h3M52 -2h3M-1 -1h9M42 -1h3M53 -1h2M-2 0h10M41 0h3M53 0h2M-3 1h12M41 1h3M53 1h2M-3 2h5M6 2h3M41 2h3M54 2h1M-3 3h4M6 3h3M41 3h3M54 3h1M-3 4h3M7 4h2M41 4h2M54 4h1M-3 5h3M7 5h2M41 5h2M54 5h1M-3 6h3M7 6h2M40 6h3M-3 7h4M6 7h3M40 7h3M-3 8h5M5 8h4M40 8h3M-3 9h11M40 9h3M-2 10h10M40 10h3M-1 11h8M40 11h3M0 12h6M40 12h3M40 13h3M40 14h3M41 15h2M41 16h2M41 17h2M41 18h2M41 19h2M54 19h1M14 20h2M20 20h2M42 20h2M54 20h1M1 21h14M21 21h1M42 21h2M54 21h1M-1 22h2M10 22h6M20 22h2M42 22h2M54 22h1M-2 23h2M11 23h5M42 23h2M54 23h1M-2 24h3M11 24h2M42 24h2M53 24h2M-1 25h3M9 25h3M42 25h3M53 25h2M2 26h7M41 26h4M52 26h3M33 27h11M52 27h3M28 28h2M51 28h4M27 29h3M50 29h5M29 30h3M40 30h7M48 30h7M35 31h19M44 32h10M45 33h8M17 34h5M47 34h5M17 35h1M21 35h1"/><path stroke="#141414" d="M-3 -3h13M38 -3h4M-3 -2h3M7 -2h4M38 -2h4M-3 -1h2M8 -1h3M38 -1h4M-3 0h1M8 0h3M38 0h3M9 1h2M38 1h3M9 2h2M38 2h3M9 3h2M38 3h3M9 4h2M38 4h3M9 5h2M38 5h3M9 6h2M38 6h2M9 7h1M37 7h3M9 8h1M37 8h3M8 9h2M37 9h3M-3 10h1M8 10h2M37 10h3M-3 11h2M7 11h2M37 11h3M-3 12h3M6 12h3M38 12h2M-3 13h11M38 13h2M-3 14h11M38 14h2M-3 15h10M38 15h3M-2 16h8M39 16h2M0 17h5M39 17h2M1 18h4M39 18h2M0 19h8M15 19h5M40 19h1M-2 20h16M22 20h1M40 20h2M-3 21h4M22 21h1M40 21h2M-3 22h2M22 22h1M40 22h2M-3 23h1M16 23h5M40 23h2M-3 24h1M13 24h4M40 24h2M-3 25h2M12 25h3M40 25h2M-2 26h4M9 26h4M38 26h3M1 27h9M29 27h4M25 28h3M24 29h3M25 30h4M27 31h8M54 31h1M35 32h9M54 32h1M40 33h5M53 33h2M16 34h1M22 34h1M42 34h5M52 34h3M16 35h1M22 35h1M44 35h11M46 36h9M48 37h7M51 38h4"/><path stroke="#1e1e1e" d="M13 -3h2M28 -3h4M13 -2h2M29 -2h3M13 -1h1M30 -1h3M12 0h2M30 0h3M12 1h1M31 1h2M12 2h1M31 2h3M12 3h1M31 3h3M12 4h1M32 4h2M12 5h1M32 5h2M12 6h1M32 6h2M32 7h2M11 8h1M32 8h2M11 9h1M32 9h2M11 10h1M32 10h2M11 11h1M32 11h2M11 12h1M32 12h3M10 13h2M32 13h3M10 14h2M32 14h3M10 15h2M33 15h3M10 16h2M34 16h3M10 17h3M35 17h2M11 18h5M36 18h2M22 19h1M37 19h1M24 20h1M37 20h2M24 21h2M38 21h1M24 22h1M38 22h1M23 23h2M38 23h1M22 24h2M37 24h2M20 25h5M36 25h2M20 26h14M2 30h7M-2 31h3M10 31h3M-3 32h2M12 32h3M-3 33h1M13 33h2M14 34h1M25 34h12M23 35h1M37 35h5M42 36h2M44 37h2M46 38h2M47 39h2M49 40h2M50 41h2M50 42h3M50 43h3M50 44h3M49 45h3M48 46h3M47 47h3M44 48h4M42 49h3M38 50h4M-3 51h3M31 51h7M-1 52h33"/><path stroke="#232323" d="M15 -3h2M25 -3h3M15 -2h1M27 -2h2M14 -1h1M28 -1h2M14 0h1M28 0h2M13 1h1M29 1h2M13 2h1M30 2h1M13 3h1M30 3h1M13 4h1M30 4h2M13 5h1M31 5h1M31 6h1M12 7h1M31 7h1M12 8h1M31 8h1M12 9h1M31 9h1M12 10h1M31 10h1M12 11h1M31 11h1M12 12h1M31 12h1M12 13h1M31 13h1M12 14h1M30 14h2M12 15h1M31 15h2M12 16h2M31 16h3M13 17h2M33 17h2M16 18h4M34 18h2M23 19h2M35 19h2M25 20h2M36 20h1M26 21h1M36 21h2M25 22h2M36 22h2M25 23h2M36 23h2M24 24h3M36 24h1M25 25h3M33 25h3M1 31h4M6 31h4M-1 32h1M11 32h1M-2 33h1M12 33h1M-3 34h1M13 34h1M-3 35h1M14 35h1M24 35h2M32 35h5M39 36h3M43 37h1M45 38h1M46 39h1M47 40h2M48 41h2M49 42h1M49 43h1M48 44h2M48 45h1M46 46h2M45 47h2M42 48h2M39 49h3M34 50h4M0 51h6M25 51h6"/><path stroke="#282828" d="M17 -3h8M16 -2h2M25 -2h2M15 -1h2M26 -1h2M15 0h1M27 0h1M14 1h1M28 1h1M14 2h1M28 2h2M14 3h1M29 3h1M29 4h1M29 5h2M13 6h1M30 6h1M13 7h1M30 7h1M13 8h1M30 8h1M13 9h1M30 9h1M13 10h1M30 10h1M13 11h1M30 11h1M13 12h1M29 12h2M13 13h1M29 13h2M13 14h1M29 14h1M13 15h1M29 15h2M14 16h1M28 16h3M15 17h2M28 17h5M20 18h4M28 18h6M25 19h3M33 19h2M27 20h1M34 20h2M27 21h1M35 21h1M27 22h1M35 22h1M27 23h1M35 23h1M27 24h2M33 24h3M28 25h5M5 31h1M0 32h1M10 32h1M-1 33h1M11 33h1M-2 34h1M12 34h1M-2 35h1M13 35h1M26 35h6M18 36h3M36 36h3M41 37h2M43 38h2M45 39h1M46 40h1M47 41h1M47 42h2M47 43h2M47 44h1M46 45h2M45 46h1M43 47h2M40 48h2M37 49h2M-3 50h4M31 50h3M6 51h19"/><path stroke="#2d2d2d" d="M18 -2h7M17 -1h1M24 -1h2M16 0h1M26 0h1M15 1h1M26 1h2M15 2h1M27 2h1M15 3h1M28 3h1M14 4h1M28 4h1M14 5h1M28 5h1M14 6h1M29 6h1M14 7h1M29 7h1M29 8h1M29 9h1M29 10h1M29 11h1M14 12h1M28 12h1M14 13h1M28 13h1M14 14h1M28 14h1M14 15h1M27 15h2M15 16h1M27 16h1M17 17h2M25 17h3M24 18h4M28 19h5M28 20h6M28 21h7M28 22h7M28 23h7M29 24h4M1 32h2M8 32h2M0 33h1M10 33h1M-1 34h1M11 34h1M-1 35h1M12 35h1M-3 36h1M17 36h1M21 36h1M33 36h3M39 37h2M42 38h1M44 39h1M45 40h1M46 41h1M46 42h1M46 43h1M46 44h1M45 45h1M44 46h1M42 47h1M39 48h1M35 49h2M1 50h3M28 50h3"/><path stroke="#323232" d="M18 -1h6M17 0h2M24 0h2M16 1h2M25 1h1M16 2h1M26 2h1M27 3h1M15 4h1M27 4h1M15 5h1M28 6h1M28 7h1M14 8h1M28 8h1M14 9h1M28 9h1M14 10h1M28 10h1M14 11h1M28 11h1M27 12h1M15 13h1M27 13h1M15 14h1M27 14h1M15 15h2M26 15h1M16 16h2M25 16h2M19 17h6M3 32h5M1 33h1M9 33h1M0 34h1M10 34h1M0 35h1M11 35h1M-2 36h2M16 36h1M22 36h2M30 36h3M37 37h2M41 38h1M43 39h1M44 40h1M45 41h1M45 42h1M45 43h1M45 44h1M44 45h1M43 46h1M41 47h1M38 48h1M-3 49h2M33 49h2M4 50h3M25 50h3"/><path stroke="#373737" d="M19 0h5M18 1h1M24 1h1M17 2h1M25 2h1M16 3h1M26 3h1M16 4h1M26 4h1M27 5h1M15 6h1M27 6h1M15 7h1M27 7h1M15 8h1M27 8h1M15 9h1M27 9h1M15 10h1M27 10h1M15 11h1M27 11h1M15 12h1M26 13h1M16 14h1M25 14h2M17 15h1M24 15h2M18 16h3M22 16h3M2 33h1M8 33h1M1 34h1M9 34h1M1 35h1M10 35h1M0 36h1M15 36h1M24 36h2M27 36h3M35 37h2M40 38h1M42 39h1M43 40h1M44 41h1M44 44h1M43 45h1M42 46h1M39 47h2M36 48h2M-1 49h1M31 49h2M7 50h4M20 50h5"/><path stroke="#3c3c3c" d="M19 1h5M18 2h1M24 2h1M17 3h1M25 3h1M17 4h1M25 4h1M16 5h1M26 5h1M16 6h1M26 6h1M16 7h1M26 7h1M26 8h1M26 9h1M26 10h1M16 11h1M26 11h1M16 12h1M26 12h1M16 13h1M25 13h1M17 14h1M24 14h1M18 15h2M22 15h2M21 16h1M3 33h1M7 33h1M2 34h1M8 34h1M2 35h2M8 35h2M1 36h2M14 36h1M26 36h1M-3 37h1M33 37h2M38 38h2M41 39h1M42 40h1M43 41h1M44 42h1M44 43h1M43 44h1M42 45h1M41 46h1M38 47h1M35 48h1M0 49h2M29 49h2M11 50h9"/><path stroke="#414141" d="M19 2h5M18 3h1M23 3h2M24 4h1M17 5h1M25 5h1M17 6h1M25 6h1M16 8h1M16 9h1M16 10h1M25 10h1M25 11h1M17 12h1M25 12h1M17 13h2M24 13h1M18 14h2M22 14h2M20 15h2M4 33h3M3 34h2M6 34h2M4 35h4M3 36h2M12 36h2M-2 37h2M32 37h1M37 38h1M40 39h1M43 42h1M43 43h1M42 44h1M41 45h1M40 46h1M37 47h1M-3 48h1M34 48h1M2 49h2M27 49h2"/><path stroke="#464646" d="M19 3h4M18 4h2M23 4h1M18 5h1M24 5h1M24 6h1M17 7h1M25 7h1M17 8h1M25 8h1M17 9h1M25 9h1M17 10h1M24 10h1M17 11h1M24 11h1M18 12h1M23 12h2M19 13h5M20 14h2M5 34h1M5 36h7M0 37h1M30 37h2M36 38h1M39 39h1M41 40h1M42 41h1M42 42h1M42 43h1M39 46h1M36 47h1M-2 48h1M32 48h2M4 49h2M25 49h2"/><path stroke="#4b4b4b" d="M20 4h3M19 5h2M22 5h2M18 6h2M23 6h1M18 7h1M24 7h1M18 8h1M24 8h1M18 9h1M24 9h1M18 10h1M23 10h1M18 11h2M22 11h2M19 12h4M1 37h2M29 37h1M-3 38h1M34 38h2M38 39h1M40 40h1M41 41h1M41 44h1M40 45h1M38 46h1M35 47h1M-1 48h1M31 48h1M6 49h3M23 49h2"/><path stroke="#505050" d="M21 5h1M20 6h3M19 7h5M19 8h2M22 8h2M19 9h5M19 10h4M20 11h2M3 37h1M27 37h2M-2 38h1M33 38h1M37 39h1M39 40h1M40 41h1M41 42h1M41 43h1M40 44h1M39 45h1M37 46h1M34 47h1M0 48h2M30 48h1M9 49h3M19 49h4"/><path stroke="#555555" d="M21 8h1M4 37h2M24 37h3M-1 38h1M32 38h1M36 39h1M38 40h1M40 42h1M40 43h1M-3 47h1M2 48h1M29 48h1M12 49h7"/><path stroke="#5a5a5a" d="M6 37h2M18 37h6M0 38h1M31 38h1M35 39h1M39 41h1M39 44h1M38 45h1M36 46h1M-2 47h1M33 47h1M3 48h1M27 48h2"/><path stroke="#5f5f5f" d="M8 37h2M15 37h3M1 38h1M30 38h1M-3 39h1M34 39h1M37 40h1M38 41h1M39 42h1M39 43h1M38 44h1M37 45h1M35 46h1M-1 47h1M32 47h1M4 48h2M26 48h1"/><path stroke="#646464" d="M10 37h5M2 38h1M29 38h1M33 39h1M36 40h1M38 42h1M38 43h1M34 46h1M0 47h1M31 47h1M6 48h1M24 48h2"/><path stroke="#696969" d="M3 38h1M28 38h1M-2 39h1M32 39h1M35 40h1M37 41h1M37 44h1M36 45h1M-3 46h1M1 47h1M30 47h1M7 48h2M22 48h2"/><path stroke="#6e6e6e" d="M4 38h1M26 38h2M-1 39h1M36 41h1M37 42h1M37 43h1M35 45h1M-2 46h1M33 46h1M2 47h1M29 47h1M9 48h3M20 48h2"/><path stroke="#737373" d="M5 38h1M25 38h1M0 39h1M31 39h1M-3 40h1M34 40h1M36 44h1M32 46h1M3 47h1M28 47h1M12 48h8"/><path stroke="#787878" d="M6 38h2M24 38h1M1 39h1M30 39h1M33 40h1M35 41h1M36 42h1M36 43h1M35 44h1M-3 45h1M34 45h1M-1 46h1M31 46h1M4 47h1M27 47h1"/><path stroke="#7d7d7d" d="M8 38h1M22 38h2M2 39h1M29 39h1M-2 40h1M32 40h1M34 41h1M35 42h1M33 45h1M0 46h1M5 47h1M26 47h1"/><path stroke="#828282" d="M9 38h2M20 38h2M28 39h1M-1 40h1M-3 41h1M35 43h1M34 44h1M-2 45h1M1 46h1M30 46h1M6 47h1M25 47h1"/><path stroke="#878787" d="M11 38h9M3 39h1M27 39h1M31 40h1M33 41h1M34 42h1M34 43h1M-3 44h1M32 45h1M2 46h1M29 46h1M7 47h1M23 47h2"/><path stroke="#8c8c8c" d="M4 39h1M26 39h1M0 40h1M30 40h1M-2 41h1M-3 42h1M-3 43h1M33 44h1M-1 45h1M31 45h1M28 46h1M8 47h2M22 47h1"/><path stroke="#919191" d="M5 39h1M25 39h1M1 40h1M-1 41h1M32 41h1M33 42h1M33 43h1M-2 44h1M0 45h1M3 46h1M27 46h1M10 47h2M20 47h2"/><path stroke="#969696" d="M6 39h1M24 39h1M2 40h1M29 40h1M31 41h1M-2 42h1M-2 43h1M-1 44h1M32 44h1M30 45h1M4 46h1M12 47h8"/><path stroke="#9b9b9b" d="M7 39h1M23 39h1M28 40h1M0 41h1M32 42h1M32 43h1M31 44h1M1 45h1M5 46h1M26 46h1"/><path stroke="#a0a0a0" d="M8 39h2M22 39h1M3 40h1M30 41h1M-1 42h1M-1 43h1M0 44h1M2 45h1M29 45h1M6 46h1M25 46h1"/><path stroke="#a5a5a5" d="M10 39h1M20 39h2M4 40h1M27 40h1M1 41h1M0 42h1M31 42h1M31 43h1M30 44h1M28 45h1M7 46h1M24 46h1"/><path stroke="#aaaaaa" d="M11 39h3M18 39h2M26 40h1M2 41h1M29 41h1M30 42h1M0 43h1M1 44h1M3 45h1M27 45h1M8 46h1M23 46h1"/><path stroke="#afafaf" d="M14 39h4M5 40h1M25 40h1M28 41h1M1 42h1M1 43h1M30 43h1M29 44h1M4 45h1M9 46h1M21 46h2"/><path stroke="#b4b4b4" d="M6 40h1M24 40h1M3 41h1M29 42h1M2 44h1M5 45h1M26 45h1M10 46h2M20 46h1"/><path stroke="#b9b9b9" d="M7 40h1M23 40h1M27 41h1M2 42h1M2 43h1M29 43h1M3 44h1M28 44h1M25 45h1M12 46h3M16 46h4"/><path stroke="#bebebe" d="M8 40h1M22 40h1M4 41h1M26 41h1M28 42h1M28 43h1M27 44h1M6 45h1M24 45h1M15 46h1"/><path stroke="#c3c3c3" d="M9 40h1M21 40h1M5 41h1M3 42h1M3 43h1M4 44h1M7 45h1"/><path stroke="#c8c8c8" d="M10 40h2M20 40h1M6 41h1M25 41h1M4 42h1M27 42h1M27 43h1M5 44h1M26 44h1M8 45h1M23 45h1"/><path stroke="#cdcdcd" d="M12 40h3M17 40h3M24 41h1M26 42h1M4 43h1M25 44h1M9 45h1M21 45h2"/><path stroke="#d2d2d2" d="M15 40h2M7 41h1M23 41h1M5 42h1M5 43h1M26 43h1M6 44h1M10 45h1M20 45h1"/><path stroke="#d7d7d7" d="M8 41h1M22 41h1M6 42h1M25 42h1M25 43h1M7 44h1M24 44h1M11 45h2M18 45h2"/><path stroke="#dcdcdc" d="M9 41h1M21 41h1M24 42h1M6 43h1M8 44h1M23 44h1M13 45h5"/><path stroke="#e1e1e1" d="M10 41h1M20 41h1M7 42h1M23 42h1M7 43h1M24 43h1M9 44h1M22 44h1"/><path stroke="#e6e6e6" d="M11 41h2M18 41h2M8 42h1M8 43h1M23 43h1M10 44h1M21 44h1"/><path stroke="#ebebeb" d="M13 41h5M9 42h1M22 42h1M9 43h1M22 43h1M11 44h1M19 44h2"/><path stroke="#f0f0f0" d="M10 42h1M20 42h2M10 43h1M21 43h1M12 44h2M17 44h2"/><path stroke="#f5f5f5" d="M11 42h2M19 42h1M11 43h1M20 43h1M14 44h3"/><path stroke="#fafafa" d="M13 42h6M12 43h2M18 43h2"/><path stroke="#ffffff" d="M14 43h4"/></g></g></g><path d="M1854 574L1861 588L1864 598L1867 608L1868 622L1868 650L1869 657L1873 664L1887 677L1893 686L1896 692L1899 699L1900 709L1898 716L1896 720L1890 724L1883 727L1873 729L1848 730L1831 729L1825 727L1819 723L1818 720L1819 716L1824 708L1826 702L1825 699L1823 695L1819 692L1810 689L1800 686L1758 682L1750 678L1747 675L1746 671L1744 664L1745 643L1752 594L1757 574M1675 762L1685 759L1703 757L1717 757L1734 760L1744 763L1753 769L1756 772L1757 779L1760 783L1768 786L1779 788L1789 788L1803 787L1812 786L1828 780L1838 779L1845 779L1873 781L1904 784L1918 787L1932 792L1949 801L1965 814L1972 821L1974 824L1975 831L1975 835L1971 842L1967 845L1956 853L1939 861L1913 870M1803 665L1793 664L1787 661L1783 657L1779 652L1777 647L1775 640L1774 633L1774 626L1775 615L1780 601L1784 594L1789 589L1793 587L1800 585L1807 586L1810 587L1816 591L1821 595L1825 601L1828 608L1831 622L1829 636L1827 643L1824 650L1818 657L1814 661L1810 663L1803 665M1675 794L1696 790L1704 786L1696 779L1696 776L1702 772L1713 772L1720 776L1721 779L1719 783L1724 786L1783 792L1828 791L1841 792L1869 795L1897 801L1911 805L1921 810L1929 817L1933 824L1933 831L1930 838L1922 845L1907 853L1890 858L1866 864L1841 867L1817 870M1721 870L1699 868L1675 864M1675 803L1706 798L1737 795L1810 797L1831 798L1862 803L1888 810L1901 817L1905 821L1907 824L1908 828L1908 831L1906 835L1903 838L1897 843L1887 848L1875 852L1861 856L1828 861L1789 864L1748 864L1710 861L1675 855M1675 812L1703 805L1734 801L1765 800L1807 802L1838 805L1862 811L1873 816L1880 820L1885 824L1886 828L1886 831L1884 835L1880 838L1875 842L1868 845L1857 849L1843 852L1810 857L1776 859L1737 858L1703 854L1675 847M1675 823L1679 821L1689 816L1699 812L1713 809L1744 806L1779 805L1810 807L1838 812L1852 817L1859 820L1863 824L1865 828L1865 831L1863 835L1859 838L1852 842L1842 845L1814 851L1783 853L1748 853L1713 849L1699 846L1689 843L1679 838L1675 835M1807 846L1789 848L1769 848L1748 847L1728 845L1712 842L1702 838L1696 835L1693 831L1693 828L1696 824L1701 821L1717 816L1741 812L1769 810L1796 812L1821 816L1837 821L1842 824L1844 828L1844 831L1841 835L1836 838L1824 842L1807 846M1783 842L1755 842L1734 839L1722 835L1718 831L1717 828L1721 824L1734 820L1749 817L1769 816L1789 817L1803 820L1817 824L1820 828L1820 831L1816 835L1810 837L1800 840L1783 842" fill="none" stroke="#013" stroke-opacity=".42" stroke-width="1" stroke-linejoin="round"/></g>
<path d="M1675.1 572.6V869.6H1984.6" fill="none" stroke="#000" stroke-width="2"/>
<path d="M1674.1 573.6H1983.6V869.6" fill="none" stroke="#000" stroke-width="1.6"/>
<path d="M1675.1 869.6v6.5M1722.6 869.6v6.5M1770 869.6v6.5M1817.5 869.6v6.5M1864.9 869.6v6.5M1912.4 869.6v6.5M1959.9 869.6v6.5" stroke="#000" stroke-width="2" fill="none"/>
<path d="M1698.8 869.6v3.8M1746.3 869.6v3.8M1793.8 869.6v3.8M1841.2 869.6v3.8M1888.7 869.6v3.8M1936.1 869.6v3.8M1983.6 869.6v3.8" stroke="#000" stroke-width="2" fill="none"/>
<path d="M1675.1 869.6h-6.5M1675.1 820.3h-6.5M1675.1 770.9h-6.5M1675.1 721.6h-6.5M1675.1 672.3h-6.5M1675.1 622.9h-6.5M1675.1 573.6h-6.5" stroke="#000" stroke-width="2" fill="none"/>
<path d="M1675.1 844.9h-3.8M1675.1 795.6h-3.8M1675.1 746.3h-3.8M1675.1 696.9h-3.8M1675.1 647.6h-3.8M1675.1 598.3h-3.8" stroke="#000" stroke-width="2" fill="none"/>
<text x="1675.1" y="899.1" font-size="25" text-anchor="middle">0</text>
<text x="1722.6" y="899.1" font-size="25" text-anchor="middle">2</text>
<text x="1770" y="899.1" font-size="25" text-anchor="middle">4</text>
<text x="1817.5" y="899.1" font-size="25" text-anchor="middle">6</text>
<text x="1864.9" y="899.1" font-size="25" text-anchor="middle">8</text>
<text x="1912.4" y="899.1" font-size="25" text-anchor="middle">10</text>
<text x="1959.9" y="899.1" font-size="25" text-anchor="middle">12</text>
<text x="1665.3" y="877.9" font-size="25" text-anchor="end">1.0</text>
<text x="1665.3" y="828.6" font-size="25" text-anchor="end">1.5</text>
<text x="1665.3" y="779.2" font-size="25" text-anchor="end">2.0</text>
<text x="1665.3" y="729.9" font-size="25" text-anchor="end">2.5</text>
<text x="1665.3" y="680.6" font-size="25" text-anchor="end">3.0</text>
<text x="1665.3" y="631.2" font-size="25" text-anchor="end">3.5</text>
<text x="1665.3" y="581.9" font-size="25" text-anchor="end">4.0</text>
<text x="1826.3" y="933.1" font-size="25" text-anchor="middle" fill="#111">k (Å<tspan font-size="15" dy="-11">-1</tspan><tspan dy="11">&#8203;</tspan>)</text>
<text font-size="24.5" text-anchor="middle" fill="#111" transform="translate(1622.6 722.6) rotate(-90)">R+a (Å)</text>
<text x="1674.5" y="627.6" font-size="41.5" fill="#fff">CuN</text><text x="1757.6" y="637.4" font-size="27.4" fill="#fff">4</text><text x="1772.9" y="627.6" font-size="41.5" fill="#fff">/</text><text x="1784.2" y="627.6" font-size="41.5" fill="#fff">CoN</text><text x="1867" y="637.4" font-size="27.4" fill="#fff">4</text><text x="1887.3" y="624.1" font-size="30" fill="#fff">@</text><text x="1923.1" y="627.6" font-size="41.5" fill="#fff">NC</text>
<clipPath id="cl"><rect x="76.5" y="1569.4" width="308.5" height="296"/></clipPath><g clip-path="url(#cl)"><g filter="url(#jet)"><g transform="translate(76.5 1569.4) scale(5.9327 5.9200)"><rect x="-3" y="-3" width="58" height="56" fill="#141414"/><g transform="translate(0 .5)" fill="none" stroke-width="1.04"><path stroke="#050505" d="M41 7h2M40 8h3M41 9h1M15 16h1M32 16h1M46 16h2M15 17h2M32 17h2M46 17h2M26 46h21M19 47h31M5 48h45M-1 49h51M-2 50h49M0 51h41"/><path stroke="#0a0a0a" d="M40 6h4M39 7h2M43 7h1M39 8h1M43 8h2M39 9h2M42 9h2M40 10h3M14 15h3M32 15h2M45 15h4M13 16h2M16 16h2M31 16h1M33 16h2M44 16h2M48 16h2M13 17h2M17 17h1M30 17h2M34 17h1M44 17h2M48 17h2M13 18h5M31 18h4M45 18h4M28 44h21M19 45h35M10 46h16M47 46h8M1 47h18M50 47h5M-3 48h8M50 48h5M-3 49h2M50 49h5M-3 50h1M47 50h8M-3 51h3M41 51h13M-3 52h52"/><path stroke="#0f0f0f" d="M2 2h5M1 3h7M0 4h8M0 5h9M40 5h4M-1 6h10M39 6h1M44 6h1M-1 7h11M38 7h1M44 7h2M-1 8h11M38 8h1M45 8h1M-2 9h12M38 9h1M44 9h2M-2 10h12M39 10h1M43 10h2M-2 11h12M40 11h4M-2 12h13M-2 13h13M45 13h2M-2 14h19M44 14h6M-2 15h16M17 15h2M30 15h2M34 15h2M43 15h2M49 15h1M-1 16h14M18 16h1M30 16h1M35 16h1M43 16h1M50 16h1M-1 17h14M18 17h1M35 17h1M43 17h1M50 17h1M-1 18h14M18 18h1M30 18h1M35 18h1M43 18h2M49 18h2M0 19h10M11 19h7M31 19h3M44 19h6M0 20h9M1 21h6M2 22h4M38 42h10M28 43h27M17 44h11M49 44h6M5 45h14M54 45h1M-2 46h12M-3 47h4M54 51h1M49 52h6"/><path stroke="#191919" d="M-3 -3h2M10 -3h7M-3 -2h1M11 -2h6M11 -1h6M12 0h5M12 1h5M41 1h5M13 2h4M40 2h8M13 3h4M39 3h10M13 4h5M38 4h1M45 4h5M14 5h4M37 5h1M46 5h4M14 6h4M37 6h1M47 6h4M14 7h4M36 7h1M47 7h4M14 8h5M36 8h1M47 8h4M14 9h5M36 9h1M47 9h4M14 10h5M36 10h1M47 10h5M15 11h5M36 11h2M48 11h5M17 12h3M34 12h5M49 12h5M18 13h2M31 13h9M50 13h5M19 14h2M29 14h1M37 14h4M52 14h3M20 15h1M38 15h3M52 15h3M20 16h1M28 16h1M38 16h3M52 16h3M20 17h1M28 17h1M38 17h3M52 17h3M20 18h1M28 18h1M37 18h5M52 18h3M19 19h2M29 19h1M36 19h2M41 19h2M52 19h3M18 20h1M32 20h2M43 20h2M50 20h4M12 21h5M46 21h5M10 22h3M8 23h2M7 24h2M-3 25h1M4 25h3M-3 26h2M1 26h4M-3 27h7M-3 28h5M-3 29h4M-3 30h2M-3 31h1M-3 32h1M-3 35h1M-3 36h2M-3 37h3M-3 38h4M50 38h5M-3 39h4M45 39h10M-3 40h5M39 40h10M50 40h5M-3 41h6M31 41h6M-3 42h10M23 42h6M-3 43h23M-3 44h1"/><path stroke="#1e1e1e" d="M17 -3h2M39 -3h16M17 -2h2M39 -2h16M17 -1h2M39 -1h16M17 0h2M39 0h16M17 1h2M38 1h3M46 1h9M17 2h2M38 2h2M48 2h7M17 3h2M38 3h1M49 3h6M18 4h1M37 4h1M50 4h5M18 5h2M50 5h5M18 6h2M36 6h1M51 6h4M18 7h2M51 7h4M19 8h2M35 8h1M51 8h4M19 9h2M35 9h1M51 9h4M19 10h2M34 10h2M52 10h3M20 11h1M33 11h3M53 11h2M20 12h1M31 12h3M54 12h1M20 13h1M29 13h2M21 14h1M21 15h1M28 15h1M21 16h1M21 17h1M21 18h1M21 19h1M28 19h1M38 19h3M19 20h2M30 20h2M34 20h2M41 20h2M54 20h1M17 21h1M44 21h2M51 21h4M13 22h2M49 22h6M10 23h2M54 23h1M9 24h1M7 25h2M5 26h2M4 27h1M2 28h2M1 29h2M-1 30h3M-2 31h4M-2 32h3M-3 33h4M-3 34h5M-2 35h4M-1 36h4M52 36h3M0 37h4M49 37h6M1 38h5M46 38h4M1 39h6M41 39h4M2 40h6M35 40h4M3 41h7M27 41h4M7 42h16"/><path stroke="#232323" d="M19 -3h1M38 -3h1M19 -2h1M38 -2h1M19 -1h1M38 -1h1M19 0h1M37 0h2M19 1h1M37 1h1M19 2h1M37 2h1M19 3h1M37 3h1M19 4h1M36 4h1M20 5h1M36 5h1M20 6h1M35 6h1M20 7h1M35 7h1M21 8h1M34 8h1M21 9h1M34 9h1M21 10h1M33 10h1M21 11h1M31 11h2M21 12h1M30 12h1M21 13h1M28 14h1M27 17h1M22 18h1M27 18h1M21 20h1M29 20h1M36 20h5M18 21h2M42 21h2M15 22h2M46 22h3M12 23h1M50 23h4M10 24h1M53 24h2M9 25h1M7 26h1M5 27h2M4 28h2M3 29h2M2 30h2M2 31h1M1 32h2M1 33h2M2 34h1M2 35h2M53 35h2M3 36h2M50 36h2M4 37h3M47 37h2M6 38h2M43 38h3M7 39h3M39 39h2M8 40h3M31 40h4M10 41h17"/><path stroke="#282828" d="M37 -3h1M37 -2h1M37 -1h1M20 1h1M20 2h1M36 2h1M20 3h1M36 3h1M20 4h1M35 5h1M21 6h1M21 7h1M34 7h1M22 8h1M22 9h1M33 9h1M22 10h1M32 10h1M22 11h1M30 11h1M22 12h1M28 12h2M22 13h1M28 13h1M22 14h1M22 15h1M27 15h1M22 16h1M27 16h1M22 17h1M22 19h1M27 19h1M22 20h1M28 20h1M20 21h1M41 21h1M17 22h1M44 22h2M13 23h2M48 23h2M11 24h1M51 24h2M10 25h1M53 25h2M8 26h1M7 27h1M6 28h1M5 29h1M4 30h1M3 31h1M3 32h1M3 33h1M3 34h2M53 34h2M4 35h1M51 35h2M5 36h2M48 36h2M7 37h1M45 37h2M8 38h2M41 38h2M10 39h2M36 39h3M11 40h5M27 40h4"/><path stroke="#2d2d2d" d="M20 -3h1M36 -3h1M20 -2h1M36 -2h1M20 -1h1M36 -1h1M20 0h1M36 0h1M36 1h1M21 3h1M35 3h1M21 4h1M35 4h1M21 5h1M22 6h1M34 6h1M22 7h1M33 7h1M33 8h1M23 9h1M32 9h1M23 10h1M30 10h2M23 11h1M28 11h2M23 12h1M23 13h1M27 13h1M27 14h1M23 15h1M23 16h1M26 16h1M23 17h1M26 17h1M23 18h1M26 18h1M23 19h1M26 19h1M23 20h1M27 20h1M21 21h1M30 21h11M18 22h1M43 22h1M15 23h1M46 23h2M12 24h1M49 24h2M11 25h1M52 25h1M9 26h1M54 26h1M8 27h1M6 29h1M5 30h1M4 31h1M4 32h1M4 33h1M54 33h1M5 34h1M52 34h1M5 35h2M49 35h2M7 36h1M47 36h1M8 37h2M44 37h1M10 38h2M40 38h1M12 39h3M34 39h2M16 40h11"/><path stroke="#323232" d="M21 -3h1M21 -2h1M21 -1h1M21 0h1M21 1h1M35 1h1M21 2h1M35 2h1M34 4h1M22 5h1M34 5h1M33 6h1M23 7h1M23 8h1M32 8h1M30 9h2M24 10h1M28 10h2M24 11h1M27 11h1M24 12h1M26 12h2M26 13h1M23 14h1M26 14h1M26 15h1M24 16h2M24 17h2M24 18h2M24 19h2M24 20h3M22 21h2M28 21h2M19 22h1M42 22h1M16 23h1M45 23h1M13 24h1M48 24h1M51 25h1M10 26h1M53 26h1M7 28h1M6 30h1M5 31h1M5 32h1M5 33h1M53 33h1M6 34h1M51 34h1M7 35h1M48 35h1M8 36h1M45 36h2M10 37h1M42 37h2M12 38h1M38 38h2M15 39h3M31 39h3"/><path stroke="#373737" d="M35 -3h1M35 -2h1M35 -1h1M35 0h1M22 3h1M34 3h1M22 4h1M33 5h1M23 6h1M32 7h1M24 8h1M31 8h1M24 9h2M28 9h2M25 10h3M25 11h2M25 12h1M24 13h2M24 14h2M24 15h2M24 21h4M20 22h2M40 22h2M17 23h1M44 23h1M14 24h1M47 24h1M12 25h1M50 25h1M52 26h1M9 27h1M54 27h1M8 28h1M7 29h1M6 31h1M6 32h1M54 32h1M6 33h1M52 33h1M7 34h1M50 34h1M47 35h1M9 36h1M44 36h1M11 37h1M41 37h1M13 38h2M37 38h1M18 39h4M26 39h5"/><path stroke="#3c3c3c" d="M22 -3h1M22 0h1M22 1h1M34 1h1M22 2h1M34 2h1M23 4h1M33 4h1M23 5h1M24 6h1M32 6h1M24 7h1M31 7h1M25 8h2M28 8h3M26 9h2M22 22h1M38 22h2M18 23h1M43 23h1M15 24h1M46 24h1M13 25h1M48 25h2M11 26h1M51 26h1M10 27h1M53 27h1M9 28h1M54 28h1M8 29h1M7 30h1M7 31h1M54 31h1M7 32h1M53 32h1M7 33h1M51 33h1M49 34h1M8 35h1M46 35h1M10 36h1M43 36h1M12 37h1M40 37h1M15 38h1M35 38h2M22 39h4"/><path stroke="#414141" d="M34 -3h1M22 -2h1M34 -2h1M22 -1h1M34 -1h1M34 0h1M23 3h1M33 3h1M24 5h1M32 5h1M31 6h1M25 7h2M30 7h1M27 8h1M23 22h1M30 22h8M19 23h1M42 23h1M16 24h1M45 24h1M47 25h1M12 26h1M50 26h1M52 27h1M53 28h1M54 29h1M8 30h1M54 30h1M52 32h1M50 33h1M8 34h1M48 34h1M9 35h1M45 35h1M11 36h1M42 36h1M13 37h1M39 37h1M16 38h2M33 38h2"/><path stroke="#464646" d="M23 1h1M33 1h1M23 2h1M33 2h1M24 4h1M32 4h1M31 5h1M25 6h2M30 6h1M27 7h3M24 22h6M20 23h1M40 23h2M17 24h1M44 24h1M14 25h1M46 25h1M49 26h1M11 27h1M51 27h1M10 28h1M9 29h1M53 29h1M8 31h1M53 31h1M8 32h1M51 32h1M8 33h1M49 33h1M9 34h1M47 34h1M10 35h1M44 35h1M14 37h1M38 37h1M18 38h2M31 38h2"/><path stroke="#4b4b4b" d="M23 -3h1M33 -3h1M23 -2h1M33 -2h1M23 -1h1M33 -1h1M23 0h1M33 0h1M24 3h1M32 3h1M25 5h1M27 6h3M21 23h1M39 23h1M43 24h1M15 25h1M13 26h1M48 26h1M50 27h1M52 28h1M9 30h1M53 30h1M52 31h1M9 33h1M48 33h1M46 34h1M12 36h1M41 36h1M15 37h1M37 37h1M20 38h4M27 38h4"/><path stroke="#505050" d="M24 1h1M32 1h1M24 2h1M32 2h1M25 4h1M31 4h1M26 5h2M29 5h2M22 23h1M38 23h1M18 24h1M42 24h1M45 25h1M47 26h1M12 27h1M49 27h1M11 28h1M51 28h1M10 29h1M52 29h1M52 30h1M9 31h1M51 31h1M9 32h1M50 32h1M47 33h1M10 34h1M45 34h1M11 35h1M43 35h1M13 36h1M40 36h1M16 37h1M35 37h2M24 38h3"/><path stroke="#555555" d="M24 -3h1M32 -3h1M24 -2h1M32 -2h1M24 -1h1M32 -1h1M24 0h1M32 0h1M25 2h1M25 3h1M31 3h1M26 4h1M30 4h1M28 5h1M23 23h2M35 23h3M19 24h1M41 24h1M16 25h1M44 25h1M14 26h1M46 26h1M48 27h1M50 28h1M51 29h1M10 30h1M51 30h1M49 32h1M10 33h1M44 34h1M12 35h1M42 35h1M14 36h1M39 36h1M17 37h2M34 37h1"/><path stroke="#5a5a5a" d="M25 -3h1M25 1h1M31 1h1M31 2h1M26 3h1M30 3h1M27 4h3M25 23h2M30 23h5M20 24h1M40 24h1M17 25h1M43 25h1M15 26h1M45 26h1M13 27h1M47 27h1M12 28h1M49 28h1M11 29h1M50 29h1M10 31h1M50 31h1M10 32h1M48 32h1M46 33h1M11 34h1M41 35h1M15 36h1M38 36h1M19 37h1M33 37h1"/><path stroke="#5f5f5f" d="M31 -3h1M25 -2h1M31 -2h1M25 -1h1M31 -1h1M25 0h1M31 0h1M26 2h1M30 2h1M27 3h3M27 23h3M21 24h1M39 24h1M42 25h1M48 28h1M11 30h1M50 30h1M49 31h1M47 32h1M11 33h1M45 33h1M12 34h1M43 34h1M13 35h1M37 36h1M20 37h2M31 37h2"/><path stroke="#646464" d="M26 -3h1M30 -3h1M26 -2h1M30 -2h1M26 -1h1M30 -1h1M26 0h1M30 0h1M26 1h1M30 1h1M27 2h3M22 24h1M38 24h1M18 25h1M16 26h1M44 26h1M14 27h1M46 27h1M13 28h1M12 29h1M49 29h1M49 30h1M11 31h1M48 31h1M11 32h1M46 32h1M44 33h1M42 34h1M14 35h1M40 35h1M16 36h1M36 36h1M22 37h2M29 37h2"/><path stroke="#696969" d="M27 -3h3M27 -2h1M29 -2h1M27 -1h1M29 -1h1M27 0h3M27 1h3M23 24h1M37 24h1M19 25h1M41 25h1M43 26h1M45 27h1M47 28h1M48 29h1M48 30h1M47 31h1M12 33h1M13 34h1M39 35h1M17 36h1M35 36h1M24 37h5"/><path stroke="#6e6e6e" d="M28 -2h1M28 -1h1M24 24h1M35 24h2M40 25h1M17 26h1M15 27h1M46 28h1M13 29h1M47 29h1M12 30h1M47 30h1M12 31h1M46 31h1M12 32h1M45 32h1M43 33h1M41 34h1M15 35h1M18 36h1"/><path stroke="#737373" d="M25 24h2M33 24h2M20 25h1M39 25h1M42 26h1M44 27h1M14 28h1M45 28h1M46 29h1M46 30h1M44 32h1M13 33h1M14 34h1M16 35h1M38 35h1M19 36h1M33 36h2"/><path stroke="#787878" d="M27 24h6M21 25h1M18 26h1M41 26h1M16 27h1M43 27h1M45 29h1M13 30h1M45 31h1M13 32h1M42 33h1M40 34h1M37 35h1M20 36h1M32 36h1"/><path stroke="#7d7d7d" d="M22 25h1M38 25h1M15 28h1M44 28h1M14 29h1M45 30h1M13 31h1M44 31h1M43 32h1M14 33h1M15 34h1M17 35h1M21 36h2M31 36h1"/><path stroke="#828282" d="M37 25h1M19 26h1M40 26h1M17 27h1M42 27h1M43 28h1M44 29h1M44 30h1M41 33h1M39 34h1M18 35h1M36 35h1M23 36h2M29 36h2"/><path stroke="#878787" d="M23 25h1M36 25h1M39 26h1M16 28h1M15 29h1M14 30h1M14 31h1M43 31h1M14 32h1M42 32h1M16 34h1M38 34h1M35 35h1M25 36h4"/><path stroke="#8c8c8c" d="M24 25h2M34 25h2M20 26h1M18 27h1M41 27h1M42 28h1M43 29h1M43 30h1M15 33h1M40 33h1M19 35h1M34 35h1"/><path stroke="#919191" d="M26 25h1M33 25h1M21 26h1M38 26h1M40 27h1M15 30h1M42 31h1M15 32h1M41 32h1M17 34h1M37 34h1M20 35h1M33 35h1"/><path stroke="#969696" d="M27 25h6M37 26h1M19 27h1M17 28h1M41 28h1M16 29h1M42 29h1M42 30h1M15 31h1M16 33h1M39 33h1M21 35h1M32 35h1"/><path stroke="#9b9b9b" d="M22 26h1M39 27h1M41 31h1M40 32h1M18 34h1M36 34h1M22 35h1M31 35h1"/><path stroke="#a0a0a0" d="M23 26h1M36 26h1M20 27h1M18 28h1M40 28h1M41 29h1M16 30h1M41 30h1M16 31h1M16 32h1M17 33h1M38 33h1M19 34h1M35 34h1M23 35h2M29 35h2"/><path stroke="#a5a5a5" d="M24 26h1M35 26h1M38 27h1M17 29h1M40 31h1M39 32h1M37 33h1M25 35h4"/><path stroke="#aaaaaa" d="M25 26h1M34 26h1M21 27h1M19 28h1M39 28h1M40 29h1M17 30h1M40 30h1M17 32h1M18 33h1M20 34h1M34 34h1"/><path stroke="#afafaf" d="M26 26h1M32 26h2M37 27h1M18 29h1M17 31h1M39 31h1M38 32h1M36 33h1M21 34h1M33 34h1"/><path stroke="#b4b4b4" d="M27 26h5M22 27h1M36 27h1M20 28h1M38 28h1M39 29h1M39 30h1M18 32h1M19 33h1M22 34h1M32 34h1"/><path stroke="#b9b9b9" d="M23 27h1M35 27h1M19 29h1M18 30h1M18 31h1M38 31h1M37 32h1M35 33h1M23 34h1M31 34h1"/><path stroke="#bebebe" d="M21 28h1M37 28h1M38 29h1M38 30h1M19 32h1M20 33h1M24 34h1M29 34h2"/><path stroke="#c3c3c3" d="M24 27h1M34 27h1M19 30h1M37 31h1M36 32h1M21 33h1M34 33h1M25 34h4"/><path stroke="#c8c8c8" d="M25 27h1M33 27h1M22 28h1M36 28h1M20 29h1M37 29h1M37 30h1M19 31h1M20 32h1M33 33h1"/><path stroke="#cdcdcd" d="M26 27h3M30 27h3M35 28h1M20 30h1M35 32h1M22 33h1M32 33h1"/><path stroke="#d2d2d2" d="M29 27h1M23 28h1M21 29h1M36 29h1M36 30h1M20 31h1M36 31h1M21 32h1M23 33h1M31 33h1"/><path stroke="#d7d7d7" d="M24 28h1M34 28h1M35 31h1M34 32h1M24 33h1M30 33h1"/><path stroke="#dcdcdc" d="M25 28h1M33 28h1M22 29h1M35 29h1M21 30h1M35 30h1M21 31h1M22 32h1M33 32h1M25 33h5"/><path stroke="#e1e1e1" d="M26 28h1M31 28h2M23 29h1M34 29h1M22 30h1M22 31h1M34 31h1M23 32h1M32 32h1"/><path stroke="#e6e6e6" d="M27 28h4M33 29h1M34 30h1M24 32h1"/><path stroke="#ebebeb" d="M24 29h1M23 30h1M33 30h1M23 31h1M33 31h1M25 32h1M30 32h2"/><path stroke="#f0f0f0" d="M25 29h1M31 29h2M24 30h1M24 31h1M32 31h1M26 32h4"/><path stroke="#f5f5f5" d="M26 29h5M25 30h1M32 30h1M25 31h1M31 31h1"/><path stroke="#fafafa" d="M26 30h1M30 30h2M26 31h5"/><path stroke="#ffffff" d="M27 30h3"/></g></g></g><path d="M385 1787L347 1798L319 1804L298 1808L212 1818L187 1820L167 1820L142 1818L135 1817L124 1813L119 1810L111 1799L90 1782L85 1775L83 1771L83 1768L83 1761L85 1754L88 1750L98 1740L117 1726L142 1711L156 1705L191 1694L197 1691L201 1688L204 1684L206 1677L205 1670L201 1634L198 1622L190 1594L186 1569M307 1569L303 1583L291 1608L281 1633L279 1636L274 1639L260 1645L253 1648L250 1652L247 1656L244 1663L242 1670L242 1677L244 1684L248 1688L253 1690L267 1693L278 1693L302 1688L312 1688L319 1690L347 1699L385 1704M281 1569L280 1580L276 1590L273 1597L267 1606L262 1611L257 1615L250 1618L243 1619L236 1618L232 1617L226 1611L222 1605L218 1597L214 1587L211 1569M385 1765L336 1784L319 1790L305 1793L281 1797L260 1800L239 1801L219 1801L198 1800L180 1798L163 1794L149 1789L136 1782L128 1775L124 1768L122 1761L123 1754L129 1744L140 1733L153 1724L167 1717L184 1710L226 1700L232 1700L267 1702L295 1703L312 1705L326 1708L347 1714L385 1730M262 1569L260 1578L257 1584L253 1587L250 1589L246 1590L243 1590L239 1588L236 1585L232 1580L229 1569M253 1792L229 1793L205 1792L184 1789L167 1783L153 1776L148 1771L145 1768L143 1761L142 1757L144 1750L148 1744L156 1736L167 1729L180 1722L194 1717L212 1713L226 1710L243 1709L288 1711L305 1713L319 1717L336 1723L363 1737L372 1744L373 1747L373 1750L371 1753L365 1757L336 1772L319 1780L305 1784L288 1788L271 1791L253 1792M260 1785L239 1787L219 1786L201 1784L184 1780L172 1775L163 1768L159 1761L159 1757L160 1750L164 1744L170 1738L177 1733L187 1728L198 1724L212 1720L226 1718L243 1716L260 1716L278 1717L291 1719L305 1722L318 1726L326 1730L336 1737L342 1744L343 1747L343 1750L341 1754L334 1761L319 1770L308 1775L291 1780L278 1783L260 1785M267 1778L250 1780L229 1780L212 1779L198 1776L186 1771L181 1768L177 1764L175 1761L174 1757L174 1750L179 1744L183 1740L188 1737L198 1732L219 1726L232 1723L246 1722L271 1723L284 1725L295 1727L310 1733L316 1737L322 1744L323 1747L322 1750L321 1754L316 1760L310 1764L302 1769L291 1773L267 1778M267 1772L253 1774L239 1774L226 1774L211 1771L201 1768L194 1764L191 1761L189 1757L189 1754L190 1750L195 1744L207 1737L222 1732L243 1729L264 1729L281 1732L295 1737L300 1740L303 1744L305 1747L305 1750L304 1754L301 1757L297 1761L291 1764L282 1768L267 1772M264 1765L243 1767L232 1767L222 1765L212 1761L208 1758L207 1754L207 1750L210 1747L219 1742L229 1738L239 1737L253 1736L264 1737L276 1740L282 1744L285 1747L286 1750L285 1754L281 1757L275 1761L264 1765" fill="none" stroke="#013" stroke-opacity=".42" stroke-width="1" stroke-linejoin="round"/></g>
<path d="M76.5 1568.4V1865.4H386" fill="none" stroke="#000" stroke-width="2"/>
<path d="M75.5 1569.4H385V1865.4" fill="none" stroke="#000" stroke-width="1.6"/>
<path d="M76.5 1865.4v6.5M124 1865.4v6.5M171.4 1865.4v6.5M218.9 1865.4v6.5M266.3 1865.4v6.5M313.8 1865.4v6.5M361.3 1865.4v6.5" stroke="#000" stroke-width="2" fill="none"/>
<path d="M100.2 1865.4v3.8M147.7 1865.4v3.8M195.2 1865.4v3.8M242.6 1865.4v3.8M290.1 1865.4v3.8M337.5 1865.4v3.8M385 1865.4v3.8" stroke="#000" stroke-width="2" fill="none"/>
<path d="M76.5 1865.4h-6.5M76.5 1816.1h-6.5M76.5 1766.7h-6.5M76.5 1717.4h-6.5M76.5 1668.1h-6.5M76.5 1618.7h-6.5M76.5 1569.4h-6.5" stroke="#000" stroke-width="2" fill="none"/>
<path d="M76.5 1840.7h-3.8M76.5 1791.4h-3.8M76.5 1742.1h-3.8M76.5 1692.7h-3.8M76.5 1643.4h-3.8M76.5 1594.1h-3.8" stroke="#000" stroke-width="2" fill="none"/>
<text x="76.5" y="1894.9" font-size="25" text-anchor="middle">0</text>
<text x="124" y="1894.9" font-size="25" text-anchor="middle">2</text>
<text x="171.4" y="1894.9" font-size="25" text-anchor="middle">4</text>
<text x="218.9" y="1894.9" font-size="25" text-anchor="middle">6</text>
<text x="266.3" y="1894.9" font-size="25" text-anchor="middle">8</text>
<text x="313.8" y="1894.9" font-size="25" text-anchor="middle">10</text>
<text x="361.3" y="1894.9" font-size="25" text-anchor="middle">12</text>
<text x="66.7" y="1873.7" font-size="25" text-anchor="end">1.0</text>
<text x="66.7" y="1824.4" font-size="25" text-anchor="end">1.5</text>
<text x="66.7" y="1775" font-size="25" text-anchor="end">2.0</text>
<text x="66.7" y="1725.7" font-size="25" text-anchor="end">2.5</text>
<text x="66.7" y="1676.4" font-size="25" text-anchor="end">3.0</text>
<text x="66.7" y="1627" font-size="25" text-anchor="end">3.5</text>
<text x="66.7" y="1577.7" font-size="25" text-anchor="end">4.0</text>
<text x="227.8" y="1928.9" font-size="25" text-anchor="middle" fill="#111">k (Å<tspan font-size="15" dy="-11">-1</tspan><tspan dy="11">&#8203;</tspan>)</text>
<text font-size="24.5" text-anchor="middle" fill="#111" transform="translate(24 1718.4) rotate(-90)">R+a (Å)</text>
<text x="93.6" y="1626.6" font-size="41.5" fill="#fff">Co foil</text>
<clipPath id="cm"><rect x="476.5" y="1569.4" width="308.5" height="296"/></clipPath><g clip-path="url(#cm)"><g filter="url(#jet)"><g transform="translate(476.5 1569.4) scale(5.9327 5.9200)"><rect x="-3" y="-3" width="58" height="56" fill="#232323"/><g transform="translate(0 .5)" fill="none" stroke-width="1.04"><path stroke="#050505" d="M47 9h1M47 10h1M15 12h2M16 13h1M50 42h1M50 43h1M50 44h1"/><path stroke="#0a0a0a" d="M19 1h2M3 2h3M19 2h2M1 3h7M19 3h2M1 4h7M0 5h8M0 6h8M1 7h7M46 7h3M2 8h4M45 8h5M45 9h2M48 9h2M31 10h3M45 10h2M48 10h2M14 11h4M31 11h3M46 11h4M14 12h1M17 12h1M14 13h2M17 13h1M41 30h3M40 31h5M23 33h2M49 40h3M48 41h5M48 42h2M51 42h2M48 43h2M51 43h2M48 44h2M51 44h2M48 45h5M49 46h3"/><path stroke="#0f0f0f" d="M3 -1h3M0 0h9M19 0h2M-1 1h11M18 1h1M21 1h1M-2 2h5M6 2h5M18 2h1M21 2h1M-3 3h4M8 3h3M18 3h1M21 3h1M-3 4h4M8 4h4M19 4h1M-3 5h3M8 5h4M47 5h1M-3 6h3M8 6h4M45 6h5M-3 7h4M8 7h4M45 7h1M49 7h2M-2 8h4M6 8h5M44 8h1M50 8h1M-1 9h11M15 9h1M32 9h2M44 9h1M50 9h1M0 10h9M13 10h5M34 10h1M44 10h1M50 10h1M2 11h5M13 11h1M18 11h1M34 11h1M45 11h1M50 11h1M13 12h1M18 12h1M32 12h2M46 12h4M13 13h1M18 13h1M14 14h4M40 30h1M44 30h2M39 31h1M45 31h2M22 33h1M25 33h1M50 38h2M48 39h6M48 40h1M52 40h2M47 41h1M53 41h1M47 42h1M53 42h2M47 43h1M53 43h2M47 44h1M53 44h2M47 45h1M53 45h1M47 46h2M52 46h2M47 47h6M48 48h4"/><path stroke="#141414" d="M0 -3h8M-2 -2h12M-3 -1h6M6 -1h6M19 -1h1M-3 0h3M9 0h4M17 0h2M21 0h1M-3 1h2M10 1h4M16 1h2M-3 2h1M11 2h4M16 2h2M11 3h7M12 4h3M16 4h3M20 4h1M46 4h3M12 5h3M45 5h2M48 5h3M12 6h3M44 6h1M50 6h2M12 7h4M43 7h2M51 7h1M-3 8h1M11 8h6M43 8h1M51 8h1M-3 9h2M10 9h5M16 9h3M31 9h1M34 9h1M43 9h1M51 9h2M-3 10h3M9 10h4M18 10h1M30 10h1M35 10h1M43 10h1M51 10h1M-3 11h5M7 11h6M19 11h1M30 11h1M44 11h1M51 11h1M-2 12h15M19 12h1M31 12h1M45 12h1M50 12h2M0 13h9M12 13h1M47 13h3M13 14h1M39 30h1M46 30h2M38 31h1M47 31h2M42 32h4M26 33h1M50 36h2M49 37h5M48 38h2M52 38h3M47 39h1M54 39h1M47 40h1M54 40h1M46 41h1M54 41h1M46 42h1M46 43h1M45 44h2M45 45h2M54 45h1M45 46h2M54 46h1M46 47h1M53 47h2M46 48h2M52 48h3M47 49h7M48 50h4"/><path stroke="#191919" d="M-3 -3h3M8 -3h7M-3 -2h1M10 -2h9M12 -1h7M20 -1h1M13 0h4M14 1h2M22 1h1M15 2h1M22 2h1M47 2h2M45 3h6M15 4h1M21 4h1M43 4h3M49 4h3M15 5h6M43 5h2M51 5h2M15 6h5M42 6h2M52 6h1M16 7h3M42 7h1M52 7h2M17 8h3M32 8h2M42 8h1M52 8h2M19 9h1M30 9h1M35 9h1M42 9h1M53 9h1M19 10h1M42 10h1M52 10h2M35 11h1M43 11h1M52 11h2M-3 12h1M34 12h1M44 12h1M52 12h1M-3 13h3M9 13h3M19 13h1M45 13h2M50 13h2M-3 14h16M18 14h1M-3 15h11M14 15h3M-1 16h5M38 30h1M48 30h3M49 31h3M40 32h2M46 32h6M21 33h1M49 33h3M49 34h4M49 35h6M48 36h2M52 36h3M48 37h1M54 37h1M47 38h1M46 40h1M45 42h1M45 43h1M44 44h1M44 45h1M44 46h1M44 47h2M44 48h2M45 49h2M54 49h1M45 50h3M52 50h3M46 51h9M48 52h5"/><path stroke="#1e1e1e" d="M15 -3h5M19 -2h2M47 -2h2M21 -1h1M45 -1h7M44 0h9M43 1h11M43 2h4M49 2h6M22 3h1M42 3h3M51 3h4M42 4h1M52 4h3M21 5h1M41 5h2M53 5h2M20 6h1M41 6h1M53 6h2M19 7h2M40 7h2M54 7h1M20 8h1M31 8h1M34 8h2M40 8h2M54 8h1M20 9h1M36 9h1M40 9h2M54 9h1M20 10h1M36 10h2M40 10h2M54 10h1M20 11h1M36 11h1M41 11h2M54 11h1M20 12h1M30 12h1M35 12h1M43 12h1M53 12h2M32 13h2M44 13h1M52 13h3M46 14h7M8 15h6M17 15h1M-3 16h2M4 16h5M-3 17h9M-3 18h6M-3 19h3M41 29h5M49 29h6M51 30h4M37 31h1M52 31h3M39 32h1M52 32h3M27 33h1M45 33h4M52 33h3M47 34h2M53 34h2M47 35h2M47 36h1M47 37h1M46 38h1M46 39h1M45 40h1M45 41h1M44 42h1M44 43h1M43 44h1M43 45h1M42 46h2M42 47h2M41 48h3M41 49h4M41 50h4M41 51h5M41 52h7M53 52h2"/><path stroke="#282828" d="M21 -3h1M40 -3h1M40 -2h1M22 -1h1M40 -1h1M40 0h1M40 1h1M23 2h1M40 2h1M39 3h1M39 4h1M22 5h1M38 5h2M22 6h1M38 6h1M32 7h6M30 8h1M29 9h1M29 12h1M37 12h1M40 12h2M21 13h1M30 13h1M42 13h1M44 14h1M18 15h1M47 15h1M11 16h5M50 16h4M8 17h2M52 17h3M6 18h1M53 18h2M3 19h2M54 19h1M1 20h2M54 20h1M-1 21h2M54 21h1M-2 22h2M53 22h2M-3 23h2M53 23h2M-3 24h1M52 24h2M51 25h2M51 26h1M50 27h1M49 28h1M36 31h1M-3 32h1M22 32h1M25 32h1M37 32h1M-3 33h1M28 33h1M41 33h2M22 34h1M25 34h1M45 34h1M45 35h1M45 36h1M45 37h1M45 38h1M44 40h1M43 42h1M42 43h1M41 44h1M39 45h2M37 46h3M35 47h3M31 48h4M-3 49h2M27 49h5M-3 50h7M21 50h7M3 51h18"/><path stroke="#2d2d2d" d="M39 -3h1M22 -2h1M39 -2h1M39 -1h1M23 0h1M39 0h1M23 1h1M39 1h1M39 2h1M23 3h1M38 3h1M23 4h1M38 4h1M37 5h1M36 6h2M22 7h1M31 7h1M22 8h1M22 9h1M22 10h1M22 11h1M22 12h1M38 12h2M35 13h1M41 13h1M20 14h1M43 14h1M46 15h1M16 16h1M48 16h2M10 17h1M51 17h1M7 18h2M52 18h1M5 19h1M52 19h2M3 20h1M52 20h2M1 21h2M52 21h2M0 22h1M52 22h1M-1 23h1M52 23h1M-2 24h1M51 24h1M-3 25h2M50 25h1M-3 26h1M50 26h1M-3 27h1M49 27h1M-3 28h1M47 28h2M-3 29h1M39 29h1M-3 30h1M36 30h1M-3 31h2M35 31h1M-2 32h2M26 32h1M36 32h1M-2 33h2M19 33h1M29 33h1M39 33h2M-3 34h2M21 34h1M26 34h1M43 34h2M-3 35h1M44 35h1M44 39h1M43 41h1M42 42h1M41 43h1M39 44h2M37 45h2M35 46h2M32 47h3M-3 48h1M29 48h2M-1 49h4M23 49h4M4 50h17"/><path stroke="#323232" d="M22 -3h1M38 -3h1M38 -2h1M23 -1h1M38 -1h1M38 0h1M38 1h1M38 2h1M37 3h1M37 4h1M23 5h1M36 5h1M33 6h3M30 7h1M29 8h1M28 11h1M22 13h1M29 13h1M36 13h2M39 13h2M21 14h1M42 14h1M19 15h1M45 15h1M17 16h1M47 16h1M11 17h1M49 17h2M9 18h1M51 18h1M6 19h1M51 19h1M4 20h2M51 20h1M3 21h1M51 21h1M1 22h1M51 22h1M0 23h1M51 23h1M-1 24h1M50 24h1M-1 25h1M-2 26h1M49 26h1M-2 27h1M48 27h1M-2 28h1M43 28h4M-2 29h1M38 29h1M-2 30h2M-1 31h1M0 32h1M21 32h1M27 32h1M34 32h2M0 33h2M30 33h1M37 33h2M-1 34h2M27 34h1M42 34h1M-2 35h2M-3 36h1M44 36h1M44 37h1M44 38h1M43 40h1M42 41h1M41 42h1M40 43h1M38 44h1M35 45h2M33 46h2M-3 47h1M30 47h2M-2 48h3M26 48h3M3 49h4M19 49h4"/><path stroke="#373737" d="M23 -3h1M37 -3h1M23 -2h1M37 1h1M37 2h1M36 4h1M35 5h1M23 6h1M32 6h1M23 7h1M23 8h1M23 9h1M23 10h1M28 10h1M23 11h1M23 12h1M28 12h1M38 13h1M31 14h4M41 14h1M20 15h1M44 15h1M46 16h1M12 17h2M48 17h1M10 18h1M50 18h1M7 19h1M50 19h1M4 21h1M2 22h1M50 22h1M1 23h1M50 23h1M0 24h1M0 25h1M49 25h1M-1 26h1M48 26h1M-1 27h1M47 27h1M-1 28h1M42 28h1M-1 29h1M0 30h1M35 30h1M0 31h1M34 31h1M1 32h1M28 32h1M33 32h1M2 33h1M31 33h6M1 34h2M20 34h1M28 34h1M41 34h1M0 35h1M43 35h1M-2 36h1M43 36h1M43 38h1M43 39h1M42 40h1M41 41h1M40 42h1M38 43h2M36 44h2M34 45h1M31 46h2M-2 47h2M28 47h2M1 48h2M23 48h3M7 49h12"/><path stroke="#3c3c3c" d="M37 -2h1M37 -1h1M24 0h1M37 0h1M24 1h1M24 2h1M36 2h1M24 3h1M36 3h1M24 4h1M35 4h1M34 5h1M31 6h1M29 7h1M28 9h1M23 13h1M22 14h1M30 14h1M35 14h1M40 14h1M43 15h1M18 16h1M45 16h1M14 17h2M11 18h1M49 18h1M8 19h1M6 20h1M50 20h1M5 21h1M50 21h1M3 22h1M2 23h1M1 24h1M49 24h1M0 26h1M0 27h1M46 27h1M0 28h1M41 28h1M0 29h1M37 29h1M1 30h1M1 31h2M2 32h2M20 32h1M29 32h4M3 33h1M18 33h1M3 34h1M29 34h2M39 34h2M1 35h1M42 35h1M-1 36h1M-3 37h2M43 37h1M42 39h1M39 42h1M37 43h1M35 44h1M33 45h1M-3 46h2M30 46h1M0 47h1M26 47h2M3 48h3M21 48h2"/><path stroke="#414141" d="M24 -3h1M36 -3h1M24 -2h1M36 -2h1M24 -1h1M36 -1h1M36 0h1M36 1h1M35 3h1M34 4h1M24 5h1M32 5h2M24 6h1M30 6h1M24 7h1M24 8h1M28 8h1M24 9h1M24 10h1M24 11h1M27 11h1M24 12h1M24 13h1M28 13h1M23 14h1M29 14h1M36 14h4M21 15h1M42 15h1M44 16h1M16 17h1M47 17h1M48 18h1M9 19h1M49 19h1M7 20h1M49 20h1M4 22h1M49 22h1M3 23h1M49 23h1M2 24h1M1 25h1M48 25h1M1 26h1M47 26h1M43 27h3M1 28h1M40 28h1M1 29h1M2 30h1M34 30h1M3 31h1M33 31h1M4 32h1M4 33h2M4 34h1M19 34h1M31 34h8M2 35h2M41 35h1M0 36h2M42 36h1M-1 37h1M42 37h1M-3 38h1M42 38h1M41 40h1M39 41h2M38 42h1M36 43h1M34 44h1M-3 45h1M31 45h2M-1 46h1M29 46h1M1 47h2M24 47h2M6 48h5M16 48h5"/><path stroke="#464646" d="M35 -3h1M35 1h1M35 2h1M34 3h1M33 4h1M31 5h1M29 6h1M28 7h1M27 9h1M27 10h1M25 12h1M27 12h1M27 13h1M41 15h1M19 16h1M43 16h1M46 17h1M12 18h1M10 19h1M48 19h1M8 20h1M6 21h1M49 21h1M5 22h1M48 24h1M2 25h1M47 25h1M46 26h1M1 27h1M42 27h1M39 28h1M2 29h1M36 29h1M4 31h1M32 31h1M5 32h1M19 32h1M6 33h1M17 33h1M5 34h2M18 34h1M4 35h1M39 35h2M2 36h1M41 36h1M0 37h1M-2 38h1M41 38h1M-3 39h1M41 39h1M40 40h1M38 41h1M36 42h2M34 43h2M-3 44h1M33 44h1M-2 45h1M30 45h1M0 46h2M27 46h2M3 47h2M23 47h1M11 48h5"/><path stroke="#4b4b4b" d="M25 -3h1M25 -2h1M35 -2h1M25 -1h1M35 -1h1M25 0h1M35 0h1M25 1h1M25 2h1M34 2h1M25 3h1M25 4h1M32 4h1M25 5h1M30 5h1M25 6h1M28 6h1M25 7h1M25 8h1M27 8h1M25 9h2M25 10h2M25 11h2M26 12h1M25 13h2M24 14h1M28 14h1M22 15h1M40 15h1M20 16h1M42 16h1M17 17h1M45 17h1M13 18h1M47 18h1M48 20h1M7 21h1M48 22h1M4 23h1M48 23h1M3 24h1M2 26h1M44 26h2M2 27h1M2 28h1M3 30h1M5 31h1M31 31h1M6 32h1M7 33h2M7 34h1M5 35h1M31 35h8M3 36h1M40 36h1M1 37h1M41 37h1M-1 38h1M-2 39h1M40 39h1M-3 40h1M39 40h1M-3 41h1M37 41h1M-3 42h1M35 42h1M-3 43h1M33 43h1M-2 44h1M32 44h1M-1 45h2M29 45h1M2 46h1M26 46h1M5 47h3M20 47h3"/><path stroke="#505050" d="M26 -3h1M34 -3h1M34 -2h1M34 -1h1M34 0h1M34 1h1M26 3h1M33 3h1M26 4h1M30 4h2M26 5h1M28 5h2M26 6h2M26 7h2M26 8h1M25 14h1M27 14h1M23 15h1M31 15h4M38 15h2M18 17h1M44 17h1M14 18h1M46 18h1M11 19h1M47 19h1M9 20h1M48 21h1M6 22h1M5 23h1M4 24h1M47 24h1M3 25h1M46 25h1M3 26h1M43 26h1M3 27h1M41 27h1M3 28h1M38 28h1M3 29h1M35 29h1M4 30h1M33 30h1M6 31h1M30 31h1M7 32h1M18 32h1M9 33h1M16 33h1M8 34h2M17 34h1M6 35h2M24 35h7M4 36h1M35 36h5M2 37h1M39 37h2M0 38h1M40 38h1M-1 39h1M39 39h1M-2 40h1M37 40h2M-2 41h1M36 41h1M-2 42h1M34 42h1M-2 43h1M32 43h1M-1 44h1M30 44h2M1 45h1M28 45h1M3 46h1M24 46h2M8 47h3M17 47h3"/><path stroke="#555555" d="M33 -3h1M26 -2h1M26 -1h1M26 0h1M26 1h1M33 1h1M26 2h1M33 2h1M31 3h2M27 4h3M27 5h1M26 14h1M24 15h1M30 15h1M35 15h3M21 16h1M41 16h1M43 17h1M15 18h1M45 18h1M12 19h1M10 20h1M47 20h1M8 21h1M47 22h1M47 23h1M46 24h1M4 25h1M44 25h2M42 26h1M40 27h1M4 29h1M5 30h1M28 31h2M8 32h2M17 32h1M10 33h2M14 33h2M10 34h2M16 34h1M8 35h1M22 35h2M5 36h1M32 36h3M3 37h1M36 37h3M1 38h1M38 38h2M0 39h1M37 39h2M-1 40h1M36 40h1M34 41h2M-1 42h1M33 42h1M-1 43h1M31 43h1M0 44h1M29 44h1M2 45h1M27 45h1M4 46h2M23 46h1M11 47h6"/><path stroke="#5a5a5a" d="M27 -3h1M32 -3h1M27 -2h1M33 -2h1M27 -1h1M33 -1h1M27 0h1M33 0h1M27 1h1M32 1h1M27 2h2M31 2h2M27 3h4M25 15h1M29 15h1M40 16h1M19 17h1M42 17h1M16 18h1M44 18h1M46 19h1M47 21h1M7 22h1M6 23h1M46 23h1M5 24h1M45 24h1M43 25h1M4 26h1M4 27h1M4 28h1M37 28h1M5 29h1M34 29h1M6 30h1M32 30h1M7 31h1M24 31h4M10 32h1M16 32h1M12 33h2M12 34h4M9 35h1M20 35h2M6 36h1M30 36h2M4 37h1M33 37h3M2 38h1M35 38h3M1 39h1M35 39h2M0 40h1M34 40h2M-1 41h1M33 41h1M32 42h1M0 43h1M1 44h1M28 44h1M3 45h1M26 45h1M6 46h2M21 46h2"/><path stroke="#5f5f5f" d="M28 -3h4M28 -2h1M31 -2h2M28 -1h1M32 -1h1M28 0h1M31 0h2M28 1h4M29 2h2M26 15h3M22 16h1M39 16h1M41 17h1M43 18h1M13 19h1M45 19h1M11 20h1M46 20h1M9 21h1M46 21h1M46 22h1M45 23h1M44 24h1M5 25h1M42 25h1M41 26h1M39 27h1M5 28h1M31 30h1M8 31h1M22 31h2M11 32h2M15 32h1M10 35h2M19 35h1M7 36h1M29 36h1M5 37h1M32 37h1M3 38h1M33 38h2M33 39h2M1 40h1M33 40h1M0 41h1M32 41h1M0 42h1M31 42h1M1 43h1M30 43h1M2 44h1M27 44h1M4 45h1M24 45h2M8 46h2M18 46h3"/><path stroke="#646464" d="M29 -2h2M29 -1h3M29 0h2M23 16h1M38 16h1M20 17h1M17 18h1M42 18h1M14 19h1M44 19h1M45 20h1M45 21h1M8 22h1M45 22h1M7 23h1M44 23h1M6 24h1M43 24h1M5 26h1M40 26h1M5 27h1M36 28h1M6 29h1M33 29h1M7 30h1M9 31h1M21 31h1M13 32h2M12 35h3M17 35h2M8 36h2M27 36h2M6 37h1M30 37h2M4 38h1M32 38h1M2 39h1M32 39h1M32 40h1M1 41h1M1 42h1M30 42h1M2 43h1M29 43h1M3 44h1M26 44h1M5 45h2M23 45h1M10 46h8"/><path stroke="#696969" d="M24 16h1M33 16h5M40 17h1M43 19h1M12 20h1M44 20h1M10 21h1M44 21h1M44 22h1M42 24h1M6 25h1M41 25h1M38 27h1M6 28h1M7 29h1M8 30h1M30 30h1M10 31h2M20 31h1M15 35h2M10 36h1M26 36h1M7 37h1M29 37h1M5 38h1M31 38h1M3 39h1M31 39h1M2 40h1M31 40h1M2 41h1M31 41h1M2 42h1M3 43h1M28 43h1M4 44h1M25 44h1M7 45h1M21 45h2"/><path stroke="#6e6e6e" d="M25 16h1M30 16h3M21 17h1M39 17h1M18 18h1M41 18h1M15 19h1M42 19h1M43 20h1M11 21h1M9 22h1M43 22h1M8 23h1M43 23h1M7 24h1M6 26h1M39 26h1M6 27h1M35 28h1M32 29h1M9 30h1M29 30h1M12 31h1M19 31h1M11 36h1M24 36h2M8 37h1M28 37h1M30 38h1M4 39h1M30 39h1M3 40h1M30 40h1M30 41h1M3 42h1M29 42h1M27 43h1M5 44h1M24 44h1M8 45h2M19 45h2"/><path stroke="#737373" d="M26 16h4M22 17h1M38 17h1M13 20h1M43 21h1M42 23h1M41 24h1M7 25h1M40 25h1M37 27h1M7 28h1M8 29h1M10 30h1M13 31h2M17 31h2M12 36h2M21 36h3M9 37h1M27 37h1M6 38h1M29 38h1M5 39h1M4 40h1M3 41h1M29 41h1M28 42h1M4 43h1M26 43h1M6 44h1M23 44h1M10 45h4M16 45h3"/><path stroke="#787878" d="M37 17h1M19 18h1M40 18h1M16 19h1M41 19h1M42 20h1M42 21h1M10 22h1M42 22h1M9 23h1M8 24h1M7 26h1M38 26h1M7 27h1M34 28h1M9 29h1M31 29h1M11 30h1M28 30h1M15 31h2M14 36h7M10 37h1M26 37h1M7 38h1M28 38h1M6 39h1M29 39h1M29 40h1M4 41h1M28 41h1M4 42h1M27 42h1M5 43h1M25 43h1M7 44h2M22 44h1M14 45h2"/><path stroke="#7d7d7d" d="M23 17h1M36 17h1M20 18h1M39 18h1M17 19h1M14 20h1M41 20h1M12 21h1M41 23h1M40 24h1M8 25h1M39 25h1M36 27h1M8 28h1M27 30h1M11 37h2M24 37h2M8 38h1M27 38h1M28 39h1M5 40h1M28 40h1M5 41h1M27 41h1M5 42h1M26 42h1M6 43h1M24 43h1M9 44h2M20 44h2"/><path stroke="#828282" d="M24 17h1M34 17h2M38 18h1M40 19h1M41 21h1M11 22h1M41 22h1M10 23h1M9 24h1M8 26h1M37 26h1M8 27h1M9 28h1M33 28h1M10 29h1M30 29h1M12 30h1M25 30h2M13 37h1M22 37h2M9 38h1M26 38h1M7 39h1M27 39h1M6 40h1M27 40h1M6 41h1M26 41h1M6 42h1M25 42h1M7 43h2M23 43h1M11 44h2M17 44h3"/><path stroke="#878787" d="M25 17h2M31 17h3M21 18h1M18 19h1M39 19h1M15 20h1M40 20h1M13 21h1M40 23h1M9 25h1M38 25h1M9 27h1M35 27h1M11 29h1M13 30h2M24 30h1M14 37h8M10 38h2M24 38h2M8 39h1M26 39h1M7 40h1M26 40h1M7 41h1M7 42h1M24 42h1M9 43h1M21 43h2M13 44h4"/><path stroke="#8c8c8c" d="M27 17h4M22 18h1M37 18h1M16 20h1M40 21h1M12 22h1M40 22h1M10 24h1M39 24h1M9 26h1M10 28h1M32 28h1M29 29h1M15 30h1M22 30h2M12 38h1M23 38h1M9 39h1M25 39h1M8 40h1M25 40h1M8 41h1M25 41h1M8 42h1M23 42h1M10 43h2M20 43h1"/><path stroke="#919191" d="M36 18h1M19 19h1M38 19h1M39 20h1M14 21h1M11 23h1M39 23h1M36 26h1M10 27h1M34 27h1M12 29h1M28 29h1M16 30h6M13 38h2M21 38h2M10 39h2M24 39h1M9 40h1M24 40h1M9 41h1M24 41h1M9 42h2M22 42h1M12 43h3M16 43h4"/><path stroke="#969696" d="M23 18h1M35 18h1M17 20h1M39 21h1M13 22h1M39 22h1M38 24h1M10 25h1M37 25h1M10 26h1M11 28h1M31 28h1M13 29h1M27 29h1M15 38h6M12 39h1M22 39h2M10 40h1M23 40h1M10 41h1M22 41h2M11 42h1M20 42h2M15 43h1"/><path stroke="#9b9b9b" d="M24 18h1M34 18h1M20 19h1M37 19h1M38 20h1M15 21h1M12 23h1M11 24h1M35 26h1M11 27h1M33 27h1M12 28h1M30 28h1M14 29h1M26 29h1M13 39h2M20 39h2M11 40h2M21 40h2M11 41h2M21 41h1M12 42h3M17 42h3"/><path stroke="#a0a0a0" d="M25 18h2M32 18h2M21 19h1M36 19h1M18 20h1M38 21h1M14 22h1M38 22h1M38 23h1M37 24h1M11 25h1M36 25h1M11 26h1M15 29h1M25 29h1M15 39h5M13 40h2M19 40h2M13 41h2M18 41h3M15 42h2"/><path stroke="#a5a5a5" d="M27 18h5M37 20h1M16 21h1M13 23h1M12 24h1M34 26h1M12 27h1M32 27h1M13 28h1M29 28h1M16 29h1M24 29h1M15 40h4M15 41h3"/><path stroke="#aaaaaa" d="M22 19h1M35 19h1M19 20h1M37 21h1M37 23h1M36 24h1M12 25h1M35 25h1M12 26h1M31 27h1M14 28h1M28 28h1M17 29h2M22 29h2"/><path stroke="#afafaf" d="M23 19h1M34 19h1M36 20h1M17 21h1M15 22h1M37 22h1M14 23h1M13 24h1M33 26h1M13 27h1M19 29h3"/><path stroke="#b4b4b4" d="M24 19h1M33 19h1M20 20h1M35 20h1M36 21h1M36 23h1M13 25h1M34 25h1M13 26h1M30 27h1M15 28h1M27 28h1"/><path stroke="#b9b9b9" d="M25 19h1M31 19h2M18 21h1M16 22h1M36 22h1M35 24h1M32 26h1M14 27h1M16 28h1M26 28h1"/><path stroke="#bebebe" d="M26 19h5M21 20h1M34 20h1M35 21h1M15 23h1M35 23h1M14 24h1M33 25h1M14 26h1M15 27h1M29 27h1M17 28h1M25 28h1"/><path stroke="#c3c3c3" d="M22 20h1M33 20h1M19 21h1M17 22h1M35 22h1M34 24h1M14 25h1M31 26h1M28 27h1M18 28h3M22 28h3"/><path stroke="#c8c8c8" d="M23 20h1M32 20h1M34 21h1M16 23h1M34 23h1M15 24h1M32 25h1M15 26h1M16 27h1M21 28h1"/><path stroke="#cdcdcd" d="M24 20h1M31 20h1M20 21h1M33 21h1M18 22h1M34 22h1M33 24h1M15 25h1M30 26h1M17 27h1M27 27h1"/><path stroke="#d2d2d2" d="M25 20h2M29 20h2M21 21h1M17 23h1M33 23h1M16 24h1M16 25h1M31 25h1M16 26h1M29 26h1M18 27h1M26 27h1"/><path stroke="#d7d7d7" d="M27 20h2M22 21h1M32 21h1M19 22h1M33 22h1M32 24h1M17 26h1M19 27h2M24 27h2"/><path stroke="#dcdcdc" d="M31 21h1M20 22h1M32 22h1M18 23h1M32 23h1M17 24h1M17 25h1M30 25h1M28 26h1M21 27h3"/><path stroke="#e1e1e1" d="M23 21h2M30 21h1M18 24h1M31 24h1M18 26h1M27 26h1"/><path stroke="#e6e6e6" d="M25 21h5M21 22h1M31 22h1M19 23h1M31 23h1M30 24h1M18 25h1M29 25h1M19 26h2M26 26h1"/><path stroke="#ebebeb" d="M22 22h1M30 22h1M20 23h1M30 23h1M19 24h1M19 25h1M28 25h1M21 26h5"/><path stroke="#f0f0f0" d="M23 22h1M29 22h1M21 23h1M20 24h1M29 24h1M20 25h1M27 25h1"/><path stroke="#f5f5f5" d="M24 22h5M22 23h1M29 23h1M21 24h1M28 24h1M21 25h1M25 25h2"/><path stroke="#fafafa" d="M23 23h1M27 23h2M22 24h1M27 24h1M22 25h3"/><path stroke="#ffffff" d="M24 23h3M23 24h4"/></g></g></g><path d="M476 1683L495 1677L539 1663L549 1662L563 1664L574 1663L584 1660L590 1656L594 1653L599 1646L602 1639L602 1632L600 1622L600 1615L602 1608L610 1594L612 1587L612 1578L608 1569M746 1569L740 1574L736 1577L726 1593L720 1604L715 1618L714 1625L715 1629L721 1636L730 1643L740 1649L747 1653L757 1656L768 1658L778 1658L785 1657M674 1649L685 1646L694 1639L699 1632L699 1629L697 1625L692 1622L684 1619L674 1617L664 1619L657 1624L654 1629L653 1632L653 1639L655 1643L658 1646L664 1649L674 1649M785 1742L764 1745L736 1743L723 1744L709 1747L701 1750L697 1754L698 1757L704 1761L716 1764L748 1768L756 1771L757 1775L758 1778L756 1785L753 1796L727 1848L724 1858L724 1865M635 1771L640 1768L636 1764L626 1763L615 1763L605 1764L599 1768L605 1771L612 1773L622 1773L635 1771M476 1788L495 1778L501 1775L504 1771L505 1768L503 1764L491 1754L486 1747L484 1744L482 1737L482 1730L485 1723L489 1716L495 1709L511 1696L532 1685L553 1677L577 1672L587 1668L612 1656L617 1653L620 1649L621 1643L620 1615L624 1587L622 1569M695 1569L694 1576L691 1585L689 1590L684 1596L677 1601L657 1608L650 1614L647 1618L643 1625L641 1632L641 1639L643 1646L645 1649L649 1653L657 1656L664 1657L678 1657L702 1654L712 1655L723 1659L759 1674L764 1677L768 1681L770 1684L772 1691L772 1702L770 1709L767 1716L761 1725L754 1730L747 1732L730 1735L698 1744L682 1750L674 1756L667 1760L657 1761L629 1759L608 1760L598 1761L591 1763L587 1764L584 1768L587 1771L591 1773L598 1775L612 1777L636 1777L674 1773L702 1774L716 1776L721 1778L726 1782L729 1785L730 1789L730 1797L725 1806L719 1812L712 1817L671 1838L646 1846L615 1854L594 1857L577 1858L539 1858L522 1857L504 1854L490 1851L476 1847M667 1569L663 1576L658 1580L653 1581L650 1579L647 1576L645 1569M574 1761L563 1763L553 1763L542 1760L532 1757L522 1752L515 1746L509 1740L507 1733L507 1730L508 1723L512 1716L518 1709L527 1702L538 1695L549 1689L560 1684L626 1663L632 1661L639 1661L664 1664L698 1665L709 1667L723 1672L744 1684L748 1688L751 1691L752 1695L753 1698L751 1705L748 1709L744 1712L721 1726L708 1733L664 1750L649 1754L605 1756L574 1761M591 1845L570 1846L549 1846L528 1844L511 1841L497 1835L487 1829L483 1824L481 1820L482 1813L486 1806L489 1803L497 1797L506 1792L532 1783L546 1779L560 1777L570 1777L601 1781L636 1783L650 1785L661 1789L669 1792L674 1796L677 1799L678 1803L677 1806L672 1813L665 1820L654 1827L639 1834L626 1838L608 1842L591 1845M629 1751L577 1754L563 1753L553 1751L542 1747L532 1740L527 1733L526 1730L527 1723L530 1716L537 1709L545 1702L557 1695L573 1688L594 1680L612 1675L629 1671L639 1670L650 1670L681 1672L694 1674L705 1677L712 1681L717 1684L723 1691L725 1698L724 1702L721 1709L711 1719L702 1726L688 1733L660 1744L646 1748L629 1751M584 1834L567 1835L553 1835L542 1833L530 1831L521 1827L516 1824L513 1820L512 1817L512 1813L514 1810L517 1806L522 1802L532 1797L549 1792L570 1788L594 1788L615 1790L623 1792L632 1796L638 1799L641 1803L642 1806L642 1810L640 1813L637 1817L629 1822L619 1827L608 1830L584 1834M601 1747L577 1746L565 1744L556 1740L549 1736L545 1730L544 1726L545 1719L550 1712L557 1705L575 1695L601 1685L629 1679L639 1678L653 1678L667 1678L681 1680L691 1684L698 1687L703 1691L705 1695L706 1702L706 1705L702 1712L695 1719L690 1723L678 1730L660 1737L639 1742L622 1745L601 1747M591 1817L577 1820L567 1819L557 1817L554 1813L556 1810L562 1806L574 1804L584 1803L596 1806L599 1810L598 1813L591 1817M632 1737L619 1739L605 1740L591 1739L580 1737L570 1733L565 1730L562 1726L562 1723L562 1719L564 1716L570 1709L584 1700L605 1691L626 1687L646 1685L667 1687L680 1691L685 1695L688 1698L689 1702L689 1705L687 1709L684 1713L678 1719L667 1725L658 1730L646 1733L632 1737M626 1730L608 1731L594 1729L586 1726L583 1723L582 1719L583 1716L585 1712L589 1709L598 1703L610 1698L626 1695L639 1694L653 1695L663 1698L667 1702L669 1705L668 1709L664 1715L658 1719L642 1726L626 1730" fill="none" stroke="#013" stroke-opacity=".42" stroke-width="1" stroke-linejoin="round"/></g>
<path d="M476.5 1568.4V1865.4H786" fill="none" stroke="#000" stroke-width="2"/>
<path d="M475.5 1569.4H785V1865.4" fill="none" stroke="#000" stroke-width="1.6"/>
<path d="M476.5 1865.4v6.5M524 1865.4v6.5M571.4 1865.4v6.5M618.9 1865.4v6.5M666.3 1865.4v6.5M713.8 1865.4v6.5M761.3 1865.4v6.5" stroke="#000" stroke-width="2" fill="none"/>
<path d="M500.2 1865.4v3.8M547.7 1865.4v3.8M595.2 1865.4v3.8M642.6 1865.4v3.8M690.1 1865.4v3.8M737.5 1865.4v3.8M785 1865.4v3.8" stroke="#000" stroke-width="2" fill="none"/>
<path d="M476.5 1865.4h-6.5M476.5 1816.1h-6.5M476.5 1766.7h-6.5M476.5 1717.4h-6.5M476.5 1668.1h-6.5M476.5 1618.7h-6.5M476.5 1569.4h-6.5" stroke="#000" stroke-width="2" fill="none"/>
<path d="M476.5 1840.7h-3.8M476.5 1791.4h-3.8M476.5 1742.1h-3.8M476.5 1692.7h-3.8M476.5 1643.4h-3.8M476.5 1594.1h-3.8" stroke="#000" stroke-width="2" fill="none"/>
<text x="476.5" y="1894.9" font-size="25" text-anchor="middle">0</text>
<text x="524" y="1894.9" font-size="25" text-anchor="middle">2</text>
<text x="571.4" y="1894.9" font-size="25" text-anchor="middle">4</text>
<text x="618.9" y="1894.9" font-size="25" text-anchor="middle">6</text>
<text x="666.3" y="1894.9" font-size="25" text-anchor="middle">8</text>
<text x="713.8" y="1894.9" font-size="25" text-anchor="middle">10</text>
<text x="761.3" y="1894.9" font-size="25" text-anchor="middle">12</text>
<text x="466.7" y="1873.7" font-size="25" text-anchor="end">1.0</text>
<text x="466.7" y="1824.4" font-size="25" text-anchor="end">1.5</text>
<text x="466.7" y="1775" font-size="25" text-anchor="end">2.0</text>
<text x="466.7" y="1725.7" font-size="25" text-anchor="end">2.5</text>
<text x="466.7" y="1676.4" font-size="25" text-anchor="end">3.0</text>
<text x="466.7" y="1627" font-size="25" text-anchor="end">3.5</text>
<text x="466.7" y="1577.7" font-size="25" text-anchor="end">4.0</text>
<text x="627.8" y="1928.9" font-size="25" text-anchor="middle" fill="#111">k (Å<tspan font-size="15" dy="-11">-1</tspan><tspan dy="11">&#8203;</tspan>)</text>
<text font-size="24.5" text-anchor="middle" fill="#111" transform="translate(424 1718.4) rotate(-90)">R+a (Å)</text>
<text x="493.9" y="1626.6" font-size="41.5" fill="#fff">CoO</text>
<clipPath id="cn"><rect x="874.5" y="1569.4" width="308.5" height="296"/></clipPath><g clip-path="url(#cn)"><g filter="url(#jet)"><g transform="translate(874.5 1569.4) scale(5.9327 5.9200)"><rect x="-3" y="-3" width="58" height="56" fill="#232323"/><g transform="translate(0 .5)" fill="none" stroke-width="1.04"><path stroke="#050505" d="M35 1h1M14 2h1M28 2h1M35 2h1M14 3h1M28 3h1M9 16h1M19 34h1M48 48h5M49 49h3"/><path stroke="#0a0a0a" d="M34 0h3M41 0h2M14 1h2M27 1h3M33 1h2M36 1h2M41 1h2M2 2h2M13 2h1M15 2h1M27 2h1M29 2h2M33 2h2M36 2h2M1 3h4M13 3h1M15 3h1M27 3h1M29 3h1M34 3h3M0 4h5M13 4h3M28 4h1M0 5h6M0 6h6M1 7h4M2 8h2M8 15h2M7 16h2M10 16h1M7 17h4M40 18h1M39 19h3M40 20h2M0 32h2M35 32h3M-1 33h4M-1 34h3M16 34h3M20 34h2M48 47h5M46 48h2M53 48h2M47 49h2M52 49h2M50 50h1"/><path stroke="#0f0f0f" d="M2 -1h2M34 -1h3M41 -1h2M0 0h6M14 0h1M27 0h3M33 0h1M37 0h4M43 0h1M-1 1h8M13 1h1M16 1h1M26 1h1M30 1h3M38 1h3M43 1h1M-1 2h3M4 2h3M12 2h1M16 2h1M26 2h1M31 2h2M38 2h6M-2 3h3M5 3h3M12 3h1M16 3h1M26 3h1M30 3h4M37 3h1M-2 4h2M5 4h3M12 4h1M16 4h1M27 4h1M29 4h2M34 4h3M-2 5h2M6 5h2M13 5h3M-2 6h2M6 6h2M-2 7h3M5 7h3M-1 8h3M4 8h3M-1 9h8M0 10h6M1 11h4M7 14h4M6 15h2M10 15h1M6 16h1M11 16h1M6 17h1M7 18h4M39 18h1M41 18h2M42 19h1M39 20h1M42 20h1M40 21h2M-1 31h3M-2 32h2M2 32h2M34 32h1M38 32h1M-2 33h1M3 33h1M34 33h5M-2 34h1M2 34h2M15 34h1M22 34h1M-2 35h5M17 35h4M46 47h2M53 47h2M45 48h1M45 49h2M54 49h1M46 50h4M51 50h4"/><path stroke="#141414" d="M0 -3h6M-1 -2h8M34 -2h4M41 -2h2M-2 -1h4M4 -1h4M14 -1h1M28 -1h3M32 -1h2M37 -1h4M43 -1h2M-3 0h3M6 0h3M12 0h2M15 0h2M26 0h1M30 0h3M44 0h1M-3 1h2M7 1h3M11 1h2M44 1h1M-3 2h2M7 2h5M17 2h1M25 2h1M44 2h1M-3 3h1M8 3h4M17 3h1M25 3h1M38 3h5M-3 4h1M8 4h4M26 4h1M31 4h3M37 4h2M-3 5h1M8 5h5M16 5h1M27 5h4M34 5h3M-3 6h1M8 6h2M13 6h3M-3 7h1M8 7h2M-3 8h2M7 8h3M-3 9h2M7 9h2M-3 10h3M6 10h3M-2 11h3M5 11h4M-1 12h11M0 13h11M2 14h5M11 14h1M4 15h2M11 15h1M4 16h2M5 17h1M11 17h1M40 17h3M6 18h1M43 18h1M7 19h3M43 19h1M43 20h1M42 21h1M-3 31h2M2 31h2M-3 32h1M4 32h1M33 32h1M39 32h1M-3 33h1M4 33h2M33 33h1M39 33h1M-3 34h1M4 34h2M14 34h1M23 34h1M-3 35h1M3 35h2M15 35h2M21 35h1M-2 36h5M48 46h7M45 47h1M44 48h1M43 49h2M44 50h2M47 51h7"/><path stroke="#191919" d="M-3 -3h3M6 -3h4M33 -3h6M40 -3h3M-3 -2h2M7 -2h9M27 -2h7M38 -2h3M43 -2h2M-3 -1h1M8 -1h6M15 -1h2M26 -1h2M31 -1h1M45 -1h1M9 0h3M17 0h1M25 0h1M45 0h1M10 1h1M17 1h1M25 1h1M45 1h1M43 3h2M17 4h1M25 4h1M39 4h4M17 5h1M26 5h1M31 5h3M37 5h3M10 6h3M16 6h1M27 6h11M10 7h6M10 8h3M9 9h3M9 10h3M-3 11h1M9 11h3M-3 12h2M10 12h2M-3 13h3M11 13h1M-3 14h5M12 14h1M-2 15h6M12 15h1M-1 16h5M12 16h1M41 16h1M2 17h3M39 17h1M43 17h1M3 18h3M11 18h1M38 18h1M44 18h1M5 19h2M10 19h1M38 19h1M44 19h1M38 20h1M44 20h1M39 21h1M43 21h1M-3 30h6M4 31h1M5 32h1M40 32h1M6 33h1M16 33h4M32 33h1M40 33h2M6 34h1M12 34h2M24 34h1M36 34h2M5 35h1M14 35h1M22 35h2M-3 36h1M3 36h1M47 46h1M44 47h1M42 48h2M42 49h1M42 50h2M43 51h4M54 51h1M47 52h7"/><path stroke="#1e1e1e" d="M10 -3h8M25 -3h8M39 -3h1M43 -3h4M16 -2h2M25 -2h2M45 -2h2M17 -1h1M24 -1h2M46 -1h2M24 0h1M46 0h1M18 1h1M24 1h1M46 1h1M18 2h1M24 2h1M45 2h2M18 3h1M24 3h1M45 3h1M24 4h1M43 4h2M25 5h1M40 5h3M17 6h1M25 6h2M38 6h3M16 7h1M27 7h12M13 8h4M12 9h4M12 10h2M12 11h2M12 12h1M12 13h1M-3 15h1M-3 16h2M39 16h2M42 16h2M-3 17h5M12 17h1M38 17h1M44 17h2M-3 18h6M45 18h2M-3 19h8M45 19h2M-3 20h13M45 20h2M-3 21h6M44 21h2M40 22h3M-3 29h4M3 30h1M6 32h1M32 32h1M41 32h1M7 33h2M13 33h3M20 33h2M31 33h1M42 33h1M7 34h5M25 34h1M33 34h3M38 34h4M6 35h2M12 35h2M24 35h1M4 36h1M-3 37h5M50 45h5M46 46h1M43 47h1M41 48h1M40 49h2M38 50h4M38 51h5M39 52h8M54 52h1"/><path stroke="#282828" d="M20 -1h3M19 0h4M19 1h2M22 1h1M19 2h1M22 2h1M19 3h1M19 4h1M23 4h1M19 5h1M23 5h1M46 5h2M19 6h1M23 6h1M44 6h5M19 7h1M23 7h2M43 7h6M18 8h2M26 8h3M41 8h9M17 9h2M30 9h8M47 9h3M16 10h1M48 10h2M15 11h1M48 11h2M48 12h2M14 13h1M47 13h2M46 14h3M39 15h2M43 15h5M13 16h1M37 17h1M12 18h1M37 18h1M37 19h1M10 20h1M8 21h2M5 22h2M39 22h1M45 22h5M0 23h4M50 23h3M-3 24h3M53 24h2M-3 25h1M-3 27h1M-3 28h4M2 29h1M53 30h2M6 31h1M35 31h5M51 31h2M8 32h2M31 32h1M43 32h1M48 32h3M23 33h1M30 33h1M27 34h4M26 35h2M34 35h9M7 36h1M44 36h5M4 37h1M49 37h4M-3 38h2M52 38h3M54 39h1M53 43h2M51 44h2M47 45h1M44 46h1M41 47h1M38 48h2M34 49h3M-2 50h8M23 50h8"/><path stroke="#2d2d2d" d="M21 1h1M20 2h2M20 3h3M20 4h3M20 5h3M20 6h3M20 7h3M20 8h6M19 9h1M29 9h1M38 9h9M17 10h1M31 10h5M44 10h4M16 11h1M46 11h2M15 12h1M46 12h2M45 13h2M14 14h1M43 14h3M38 15h1M37 16h1M13 17h1M37 20h1M7 22h2M4 23h2M48 23h2M0 24h2M51 24h2M-2 25h2M53 25h2M-3 26h3M54 26h1M-2 27h2M54 27h1M1 28h1M54 28h1M3 29h1M53 29h2M5 30h1M52 30h1M7 31h1M34 31h1M40 31h1M49 31h2M10 32h3M44 32h4M24 33h2M28 33h2M28 35h6M8 36h2M17 36h2M41 36h3M46 37h3M-1 38h3M50 38h2M52 39h2M53 40h2M53 41h2M53 42h2M52 43h1M49 44h2M46 45h1M43 46h1M40 47h1M37 48h1M-3 49h3M31 49h3M6 50h17"/><path stroke="#323232" d="M20 9h1M27 9h2M18 10h1M30 10h1M36 10h2M41 10h3M17 11h1M33 11h2M44 11h2M16 12h1M44 12h2M15 13h1M44 13h1M39 14h4M14 15h1M37 15h1M12 19h1M11 20h1M10 21h1M38 22h1M6 23h1M40 23h8M2 24h2M50 24h1M0 25h2M52 25h1M0 26h1M53 26h1M0 27h2M53 27h1M2 28h1M53 28h1M4 29h1M52 29h1M6 30h1M50 30h2M8 31h1M33 31h1M41 31h1M48 31h1M13 32h3M30 32h1M26 33h2M10 36h7M19 36h3M38 36h3M5 37h1M44 37h2M2 38h1M48 38h2M50 39h2M51 40h2M52 41h1M52 42h1M50 43h2M48 44h1M45 45h1M42 46h1M39 47h1M35 48h2M0 49h3M27 49h4"/><path stroke="#373737" d="M21 9h6M19 10h1M29 10h1M38 10h3M18 11h1M31 11h2M35 11h2M42 11h2M17 12h1M34 12h1M43 12h1M16 13h1M42 13h2M15 14h1M36 14h3M36 15h1M14 16h1M36 16h1M36 17h1M13 18h1M36 18h1M37 21h1M9 22h1M7 23h1M4 24h2M49 24h1M2 25h1M51 25h1M1 26h1M52 26h1M2 27h1M52 27h1M3 28h1M52 28h1M5 29h1M51 29h1M7 30h1M49 30h1M9 31h2M42 31h6M16 32h2M29 32h1M22 36h2M35 36h3M6 37h1M42 37h2M3 38h1M46 38h2M49 39h1M50 40h1M51 41h1M50 42h2M49 43h1M47 44h1M44 45h1M41 46h1M38 47h1M-3 48h1M34 48h1M3 49h4M24 49h3"/><path stroke="#3c3c3c" d="M20 10h2M28 10h1M30 11h1M37 11h5M32 12h2M35 12h2M41 12h2M34 13h8M35 14h1M15 15h1M35 15h1M14 17h1M36 19h1M12 20h1M11 21h1M10 22h1M8 23h1M39 23h1M6 24h1M47 24h2M3 25h1M50 25h1M2 26h2M51 26h1M3 27h1M51 27h1M4 28h1M51 28h1M50 29h1M48 30h1M11 31h1M32 31h1M18 32h2M24 36h3M31 36h4M7 37h1M40 37h2M45 38h1M-3 39h2M47 39h2M49 40h1M50 41h1M49 42h1M48 43h1M46 44h1M43 45h1M37 47h1M-2 48h2M32 48h2M7 49h5M18 49h6"/><path stroke="#414141" d="M22 10h1M26 10h2M19 11h1M18 12h1M31 12h1M37 12h4M17 13h1M33 13h1M16 14h1M34 14h1M35 16h1M13 19h1M36 20h1M9 23h1M7 24h1M45 24h2M4 25h2M49 25h1M50 26h1M4 27h1M50 27h1M5 28h1M50 28h1M6 29h1M49 29h1M8 30h1M47 30h1M12 31h1M20 32h2M28 32h1M27 36h4M8 37h1M39 37h1M4 38h1M44 38h1M-1 39h2M46 39h1M48 40h1M49 41h1M48 42h1M47 43h1M45 44h1M40 46h1M36 47h1M0 48h2M30 48h2M12 49h6"/><path stroke="#464646" d="M23 10h3M20 11h1M29 11h1M32 13h1M33 14h1M34 15h1M15 16h1M35 17h1M11 22h1M37 22h1M10 23h1M38 23h1M8 24h1M41 24h4M48 25h1M4 26h1M49 26h1M49 28h1M7 29h1M48 29h1M9 30h1M46 30h1M13 31h2M31 31h1M22 32h2M27 32h1M9 37h2M37 37h2M5 38h1M42 38h2M1 39h1M45 39h1M47 40h1M48 41h1M46 43h1M44 44h1M42 45h1M39 46h1M-3 47h1M35 47h1M2 48h2M28 48h2"/><path stroke="#4b4b4b" d="M21 11h1M28 11h1M19 12h1M30 12h1M18 13h1M17 14h1M16 15h1M34 16h1M14 18h1M35 18h1M12 21h1M36 21h1M40 24h1M6 25h1M47 25h1M5 26h1M48 26h1M5 27h1M49 27h1M6 28h1M10 30h1M38 30h8M15 31h1M24 32h3M11 37h1M35 37h2M41 38h1M2 39h1M44 39h1M-3 40h1M46 40h1M47 41h1M47 42h1M41 45h1M38 46h1M-2 47h1M34 47h1M4 48h2M26 48h2"/><path stroke="#505050" d="M22 11h1M27 11h1M29 12h1M31 13h1M32 14h1M33 15h1M15 17h1M13 20h1M11 23h1M9 24h1M39 24h1M7 25h1M45 25h2M6 26h1M6 27h1M48 27h1M7 28h1M48 28h1M8 29h1M47 29h1M11 30h1M36 30h2M16 31h1M30 31h1M12 37h3M33 37h2M6 38h1M40 38h1M43 39h1M-2 40h1M45 40h1M46 41h1M46 42h1M45 43h1M43 44h1M37 46h1M-1 47h1M33 47h1M6 48h2M24 48h2"/><path stroke="#555555" d="M23 11h4M20 12h1M30 13h1M16 16h1M34 17h1M14 19h1M35 19h1M12 22h1M37 23h1M10 24h1M8 25h1M43 25h2M7 26h1M47 26h1M47 28h1M9 29h1M45 29h2M12 30h1M35 30h1M17 31h1M15 37h3M31 37h2M7 38h1M39 38h1M3 39h1M42 39h1M-1 40h1M44 40h1M45 41h1M45 42h1M44 43h1M42 44h1M40 45h1M0 47h1M32 47h1M8 48h3M21 48h3"/><path stroke="#5a5a5a" d="M21 12h1M28 12h1M19 13h1M18 14h1M31 14h1M17 15h1M32 15h1M33 16h1M15 18h1M35 20h1M13 21h1M36 22h1M38 24h1M9 25h1M41 25h2M46 26h1M7 27h1M47 27h1M8 28h1M46 28h1M10 29h1M44 29h1M13 30h1M34 30h1M18 31h1M29 31h1M18 37h5M28 37h3M8 38h1M38 38h1M4 39h1M0 40h1M39 45h1M-3 46h1M36 46h1M1 47h2M30 47h2M11 48h10"/><path stroke="#5f5f5f" d="M27 12h1M29 13h1M16 17h1M34 18h1M14 20h1M12 23h1M11 24h1M40 25h1M8 26h1M45 26h1M8 27h1M46 27h1M9 28h1M45 28h1M11 29h1M41 29h3M14 30h1M19 31h1M28 31h1M23 37h5M9 38h1M37 38h1M41 39h1M1 40h1M43 40h1M-3 41h1M44 41h1M44 42h1M43 43h1M41 44h1M-2 46h1M35 46h1M3 47h1M29 47h1"/><path stroke="#646464" d="M22 12h2M26 12h1M20 13h1M19 14h1M30 14h1M18 15h1M31 15h1M17 16h1M32 16h1M33 17h1M35 21h1M13 22h1M10 25h1M39 25h1M9 26h1M43 26h2M45 27h1M44 28h1M39 29h2M15 30h1M33 30h1M20 31h2M27 31h1M10 38h1M35 38h2M5 39h1M40 39h1M42 40h1M-2 41h1M43 41h1M43 42h1M42 43h1M-3 45h1M38 45h1M-1 46h1M34 46h1M4 47h1M28 47h1"/><path stroke="#696969" d="M24 12h2M28 13h1M15 19h1M34 19h1M36 23h1M12 24h1M37 24h1M41 26h2M9 27h1M43 27h2M10 28h1M42 28h2M12 29h1M38 29h1M16 30h1M32 30h1M22 31h5M11 38h1M34 38h1M6 39h1M39 39h1M2 40h1M41 40h1M-1 41h1M-3 42h1M40 44h1M37 45h1M0 46h1M33 46h1M5 47h2M26 47h2"/><path stroke="#6e6e6e" d="M21 13h1M29 14h1M16 18h1M14 21h1M35 22h1M13 23h1M11 25h1M38 25h1M10 26h1M40 26h1M10 27h1M41 27h2M11 28h1M40 28h2M13 29h1M37 29h1M12 38h1M33 38h1M38 39h1M3 40h1M42 41h1M42 42h1M41 43h1M-3 44h1M39 44h1M-2 45h1M1 46h1M32 46h1M7 47h1M25 47h1"/><path stroke="#737373" d="M22 13h1M27 13h1M20 14h1M19 15h1M30 15h1M18 16h1M31 16h1M17 17h1M32 17h1M33 18h1M15 20h1M34 20h1M14 22h1M11 26h1M39 26h1M40 27h1M39 28h1M14 29h1M36 29h1M17 30h1M31 30h1M13 38h1M31 38h2M7 39h1M37 39h1M40 40h1M0 41h1M41 41h1M-2 42h1M41 42h1M-3 43h1M-1 45h1M36 45h1M2 46h1M8 47h2M23 47h2"/><path stroke="#787878" d="M23 13h1M26 13h1M16 19h1M13 24h1M36 24h1M12 25h1M37 25h1M11 27h1M39 27h1M12 28h1M38 28h1M35 29h1M18 30h1M30 30h1M14 38h2M30 38h1M36 39h1M4 40h1M39 40h1M1 41h1M-1 42h1M-2 43h1M40 43h1M-2 44h1M38 44h1M0 45h1M35 45h1M3 46h1M31 46h1M10 47h2M21 47h2"/><path stroke="#7d7d7d" d="M24 13h2M21 14h1M28 14h1M29 15h1M17 18h1M33 19h1M15 21h1M34 21h1M14 23h1M35 23h1M12 26h1M38 26h1M12 27h1M38 27h1M13 28h1M37 28h1M15 29h1M19 30h1M16 38h2M28 38h2M8 39h1M40 41h1M40 42h1M39 43h1M-1 44h1M4 46h1M30 46h1M12 47h9"/><path stroke="#828282" d="M27 14h1M20 15h1M19 16h1M30 16h1M18 17h1M31 17h1M32 18h1M13 25h1M37 26h1M16 29h1M34 29h1M20 30h1M29 30h1M18 38h10M9 39h1M35 39h1M5 40h1M38 40h1M2 41h1M39 41h1M0 42h1M-1 43h1M37 44h1M1 45h1M34 45h1M5 46h1M29 46h1"/><path stroke="#878787" d="M22 14h1M16 20h1M33 20h1M15 22h1M34 22h1M14 24h1M35 24h1M36 25h1M13 26h1M13 27h1M37 27h1M14 28h1M36 28h1M33 29h1M21 30h1M28 30h1M10 39h1M34 39h1M37 40h1M39 42h1M0 43h1M38 43h1M0 44h1M36 44h1M2 45h1M33 45h1M6 46h1M28 46h1"/><path stroke="#8c8c8c" d="M23 14h4M21 15h1M28 15h1M17 19h1M15 23h1M14 25h1M36 26h1M35 28h1M17 29h1M22 30h2M26 30h2M33 39h1M6 40h1M3 41h1M38 41h1M1 42h1M1 44h1M7 46h1M27 46h1"/><path stroke="#919191" d="M20 16h1M29 16h1M19 17h1M30 17h1M18 18h1M31 18h1M32 19h1M16 21h1M33 21h1M34 23h1M35 25h1M14 26h1M14 27h1M36 27h1M15 28h1M18 29h1M32 29h1M24 30h2M11 39h1M32 39h1M36 40h1M4 41h1M2 42h1M38 42h1M1 43h1M37 43h1M35 44h1M3 45h1M32 45h1M8 46h1M26 46h1"/><path stroke="#969696" d="M22 15h1M27 15h1M15 24h1M34 24h1M35 27h1M34 28h1M31 29h1M12 39h2M31 39h1M7 40h1M35 40h1M37 41h1M37 42h1M2 44h1M4 45h1M31 45h1M9 46h1M24 46h2"/><path stroke="#9b9b9b" d="M23 15h1M26 15h1M21 16h1M28 16h1M18 19h1M17 20h1M32 20h1M16 22h1M33 22h1M15 25h1M35 26h1M15 27h1M16 28h1M19 29h1M30 29h1M14 39h1M29 39h2M8 40h1M34 40h1M5 41h1M36 41h1M3 42h1M2 43h1M36 43h1M34 44h1M5 45h1M30 45h1M10 46h2M23 46h1"/><path stroke="#a0a0a0" d="M24 15h2M20 17h1M29 17h1M19 18h1M30 18h1M31 19h1M16 23h1M34 25h1M15 26h1M34 27h1M17 28h1M33 28h1M20 29h1M15 39h1M28 39h1M36 42h1M35 43h1M3 44h1M33 44h1M12 46h2M21 46h2"/><path stroke="#a5a5a5" d="M22 16h1M27 16h1M17 21h1M32 21h1M33 23h1M16 24h1M34 26h1M16 27h1M21 29h1M29 29h1M16 39h2M26 39h2M9 40h1M33 40h1M6 41h1M35 41h1M4 42h1M3 43h1M4 44h1M6 45h1M29 45h1M14 46h7"/><path stroke="#aaaaaa" d="M23 16h1M26 16h1M21 17h1M28 17h1M18 20h1M17 22h1M33 24h1M16 25h1M16 26h1M18 28h1M32 28h1M22 29h1M28 29h1M18 39h8M10 40h1M32 40h1M35 42h1M4 43h1M34 43h1M32 44h1M7 45h1M28 45h1"/><path stroke="#afafaf" d="M24 16h2M20 18h1M29 18h1M19 19h1M30 19h1M31 20h1M32 22h1M17 23h1M33 25h1M33 26h1M17 27h1M33 27h1M31 28h1M23 29h1M26 29h2M31 40h1M7 41h1M34 41h1M5 42h1M5 44h1M31 44h1M8 45h1M27 45h1"/><path stroke="#b4b4b4" d="M22 17h1M27 17h1M18 21h1M32 23h1M17 24h1M19 28h1M24 29h2M11 40h1M30 40h1M33 41h1M34 42h1M5 43h1M33 43h1M9 45h1M26 45h1"/><path stroke="#b9b9b9" d="M23 17h1M26 17h1M21 18h1M28 18h1M19 20h1M31 21h1M32 24h1M17 25h1M17 26h1M32 27h1M30 28h1M12 40h1M8 41h1M6 42h1M33 42h1M6 44h1M30 44h1M10 45h1M25 45h1"/><path stroke="#bebebe" d="M24 17h2M20 19h1M29 19h1M30 20h1M18 22h1M32 25h1M32 26h1M18 27h1M20 28h1M29 28h1M13 40h1M29 40h1M9 41h1M32 41h1M6 43h1M32 43h1M7 44h1M29 44h1M11 45h1M24 45h1"/><path stroke="#c3c3c3" d="M22 18h1M27 18h1M31 22h1M18 23h1M18 24h1M18 26h1M31 27h1M21 28h1M14 40h1M27 40h2M31 41h1M7 42h1M32 42h1M31 43h1M8 44h1M12 45h2M22 45h2"/><path stroke="#c8c8c8" d="M21 19h1M20 20h1M19 21h1M31 23h1M18 25h1M19 27h1M22 28h1M28 28h1M15 40h2M26 40h1M10 41h1M8 42h1M7 43h1M28 44h1M14 45h2M20 45h2"/><path stroke="#cdcdcd" d="M23 18h4M28 19h1M29 20h1M30 21h1M19 22h1M31 24h1M31 25h1M31 26h1M30 27h1M23 28h1M26 28h2M17 40h2M24 40h2M11 41h1M30 41h1M31 42h1M8 43h1M30 43h1M9 44h1M27 44h1M16 45h4"/><path stroke="#d2d2d2" d="M22 19h1M30 22h1M19 23h1M19 26h1M20 27h1M24 28h2M19 40h5M29 41h1M9 42h1M30 42h1M29 43h1M10 44h1M26 44h1"/><path stroke="#d7d7d7" d="M27 19h1M21 20h1M20 21h1M30 23h1M19 24h1M19 25h1M30 26h1M21 27h1M29 27h1M12 41h1M28 41h1M9 43h1M11 44h1M25 44h1"/><path stroke="#dcdcdc" d="M23 19h2M26 19h1M28 20h1M29 21h1M20 22h1M30 24h1M30 25h1M20 26h1M28 27h1M13 41h1M27 41h1M10 42h1M29 42h1M10 43h1M28 43h1M12 44h1M24 44h1"/><path stroke="#e1e1e1" d="M25 19h1M22 20h1M21 21h1M29 22h1M20 23h1M20 24h1M20 25h1M29 26h1M22 27h1M27 27h1M14 41h1M26 41h1M11 42h1M28 42h1M27 43h1M13 44h1M23 44h1"/><path stroke="#e6e6e6" d="M27 20h1M28 21h1M29 23h1M29 24h1M29 25h1M21 26h1M23 27h2M26 27h1M15 41h2M25 41h1M12 42h1M27 42h1M11 43h1M26 43h1M14 44h2M21 44h2"/><path stroke="#ebebeb" d="M23 20h2M26 20h1M21 22h1M21 25h1M28 26h1M25 27h1M17 41h2M23 41h2M13 42h1M26 42h1M12 43h1M25 43h1M16 44h5"/><path stroke="#f0f0f0" d="M25 20h1M22 21h1M27 21h1M28 22h1M21 23h1M21 24h1M28 25h1M22 26h1M27 26h1M19 41h4M14 42h1M25 42h1M13 43h1M24 43h1"/><path stroke="#f5f5f5" d="M23 21h1M26 21h1M22 22h1M28 23h1M28 24h1M22 25h1M23 26h1M26 26h1M15 42h1M24 42h1M14 43h2M23 43h1"/><path stroke="#fafafa" d="M24 21h2M27 22h1M22 23h1M22 24h1M27 25h1M24 26h2M16 42h2M22 42h2M16 43h3M20 43h3"/><path stroke="#ffffff" d="M23 22h4M23 23h5M23 24h5M23 25h4M18 42h4M19 43h1"/></g></g></g><path d="M874 1695L909 1695L920 1694L926 1692L933 1690L940 1685L945 1681L949 1674L951 1667L953 1646L956 1636L961 1629L975 1616L978 1611L981 1604L983 1597L984 1587L984 1576L983 1569M1019 1569L1018 1580L1019 1594L1023 1604L1027 1609L1034 1612L1044 1614L1082 1617L1096 1615L1107 1613L1128 1603L1138 1597L1145 1590L1151 1583L1154 1576L1154 1569M1131 1702L1140 1698L1146 1695L1150 1691L1151 1688L1151 1684L1148 1677L1141 1670L1135 1667L1131 1666L1124 1664L1117 1664L1110 1666L1107 1667L1103 1671L1100 1681L1100 1688L1103 1695L1107 1699L1114 1702L1121 1703L1131 1702M874 1793L885 1792L895 1789L920 1780L930 1777L937 1777L964 1782L992 1783L1007 1782L1017 1780L1024 1778L1028 1775L1022 1771L1004 1768L992 1767L972 1767L937 1769L930 1769L923 1766L895 1750L885 1746L874 1744M1113 1775L1121 1774L1127 1771L1129 1768L1127 1764L1120 1761L1105 1757L1093 1757L1082 1757L1067 1761L1062 1764L1061 1768L1065 1771L1076 1774L1093 1776L1113 1775M1183 1837L1159 1841L1137 1848L1123 1855L1108 1865M1044 1762L1030 1764L1013 1763L968 1759L940 1754L923 1749L907 1740L899 1733L897 1730L897 1726L899 1723L905 1719L930 1709L940 1701L954 1684L972 1655L978 1647L985 1641L996 1635L1003 1632L1010 1630L1020 1629L1034 1631L1048 1635L1063 1643L1076 1652L1081 1660L1086 1669L1093 1695L1098 1702L1103 1707L1110 1711L1117 1712L1145 1713L1157 1716L1165 1719L1171 1723L1175 1726L1177 1730L1177 1733L1177 1737L1174 1740L1171 1744L1162 1749L1152 1752L1138 1754L1107 1752L1086 1753L1065 1756L1044 1762M1114 1646L1107 1648L1100 1647L1097 1646L1097 1643L1103 1640L1110 1639L1117 1643L1115 1646L1114 1646M874 1803L892 1800L923 1792L940 1789L1037 1786L1062 1786L1103 1790L1124 1794L1138 1797L1152 1802L1160 1806L1164 1810L1166 1813L1167 1817L1166 1820L1164 1824L1159 1827L1143 1834L1100 1849L1082 1853L1062 1856L1017 1861L965 1862L916 1861L874 1856M1030 1758L1017 1758L999 1757L982 1754L963 1750L940 1744L933 1740L928 1737L925 1733L925 1730L927 1726L944 1714L949 1709L968 1679L978 1665L985 1657L992 1651L999 1646L1006 1643L1013 1641L1024 1641L1034 1642L1044 1646L1051 1650L1063 1660L1076 1674L1080 1681L1089 1702L1093 1708L1096 1711L1103 1716L1114 1720L1142 1726L1147 1730L1149 1733L1147 1737L1145 1739L1141 1740L1134 1742L1082 1749L1030 1758M874 1811L920 1799L944 1795L978 1793L1034 1792L1072 1794L1089 1797L1107 1800L1117 1803L1128 1807L1135 1813L1137 1817L1137 1820L1135 1824L1131 1827L1125 1831L1108 1838L1093 1842L1079 1846L1058 1850L1037 1852L992 1855L947 1855L909 1853L892 1850L874 1846M1044 1751L1030 1752L1017 1752L1003 1751L989 1749L975 1746L961 1741L953 1737L950 1733L949 1730L950 1726L960 1712L968 1695L975 1684L985 1671L996 1661L1003 1656L1010 1653L1020 1651L1030 1651L1041 1655L1051 1663L1062 1672L1070 1681L1076 1690L1086 1712L1102 1730L1102 1733L1099 1737L1092 1740L1081 1744L1069 1746L1044 1751M874 1822L885 1817L894 1813L916 1806L930 1803L965 1798L1006 1797L1048 1798L1065 1800L1083 1803L1096 1806L1105 1810L1110 1813L1113 1817L1113 1820L1112 1824L1108 1827L1102 1831L1093 1835L1079 1839L1062 1843L1044 1846L1006 1849L961 1850L923 1848L906 1845L892 1842L879 1838L874 1835M1030 1747L1010 1747L989 1743L981 1740L974 1737L969 1733L967 1730L967 1726L968 1723L975 1702L978 1695L983 1688L992 1677L1003 1668L1011 1663L1020 1661L1027 1662L1037 1665L1048 1672L1061 1684L1069 1695L1082 1726L1082 1730L1080 1733L1076 1737L1068 1740L1051 1744L1030 1747M1006 1845L965 1845L944 1844L926 1842L913 1840L902 1836L898 1834L894 1831L893 1827L894 1824L899 1820L913 1814L925 1810L954 1804L989 1802L1027 1802L1044 1803L1062 1805L1079 1810L1086 1813L1091 1817L1092 1820L1091 1824L1087 1827L1080 1831L1069 1835L1040 1841L1006 1845M1041 1740L1020 1742L1003 1739L994 1737L987 1733L983 1730L982 1727L981 1723L982 1716L984 1705L987 1698L991 1691L996 1686L1003 1681L1010 1676L1020 1673L1027 1673L1034 1675L1044 1681L1051 1687L1056 1691L1060 1698L1063 1705L1067 1719L1067 1726L1065 1730L1062 1733L1055 1737L1041 1740M1027 1838L989 1841L954 1840L937 1838L923 1834L916 1831L914 1827L915 1824L919 1820L926 1817L937 1813L958 1809L989 1806L1020 1807L1048 1810L1061 1813L1068 1817L1070 1820L1069 1824L1065 1827L1057 1831L1046 1834L1027 1838M1037 1733L1027 1735L1013 1734L1003 1730L997 1726L995 1723L995 1719L994 1712L996 1705L999 1698L1006 1691L1017 1686L1027 1685L1037 1689L1044 1694L1048 1698L1051 1704L1053 1709L1053 1716L1053 1723L1051 1726L1047 1730L1037 1733M1006 1834L982 1835L958 1834L944 1831L939 1827L938 1824L943 1820L954 1816L972 1813L992 1812L1010 1812L1025 1813L1040 1817L1045 1820L1044 1824L1040 1827L1029 1831L1006 1834" fill="none" stroke="#013" stroke-opacity=".42" stroke-width="1" stroke-linejoin="round"/></g>
<path d="M874.5 1568.4V1865.4H1184" fill="none" stroke="#000" stroke-width="2"/>
<path d="M873.5 1569.4H1183V1865.4" fill="none" stroke="#000" stroke-width="1.6"/>
<path d="M874.5 1865.4v6.5M922 1865.4v6.5M969.4 1865.4v6.5M1016.9 1865.4v6.5M1064.3 1865.4v6.5M1111.8 1865.4v6.5M1159.3 1865.4v6.5" stroke="#000" stroke-width="2" fill="none"/>
<path d="M898.2 1865.4v3.8M945.7 1865.4v3.8M993.2 1865.4v3.8M1040.6 1865.4v3.8M1088.1 1865.4v3.8M1135.5 1865.4v3.8M1183 1865.4v3.8" stroke="#000" stroke-width="2" fill="none"/>
<path d="M874.5 1865.4h-6.5M874.5 1816.1h-6.5M874.5 1766.7h-6.5M874.5 1717.4h-6.5M874.5 1668.1h-6.5M874.5 1618.7h-6.5M874.5 1569.4h-6.5" stroke="#000" stroke-width="2" fill="none"/>
<path d="M874.5 1840.7h-3.8M874.5 1791.4h-3.8M874.5 1742.1h-3.8M874.5 1692.7h-3.8M874.5 1643.4h-3.8M874.5 1594.1h-3.8" stroke="#000" stroke-width="2" fill="none"/>
<text x="874.5" y="1894.9" font-size="25" text-anchor="middle">0</text>
<text x="922" y="1894.9" font-size="25" text-anchor="middle">2</text>
<text x="969.4" y="1894.9" font-size="25" text-anchor="middle">4</text>
<text x="1016.9" y="1894.9" font-size="25" text-anchor="middle">6</text>
<text x="1064.3" y="1894.9" font-size="25" text-anchor="middle">8</text>
<text x="1111.8" y="1894.9" font-size="25" text-anchor="middle">10</text>
<text x="1159.3" y="1894.9" font-size="25" text-anchor="middle">12</text>
<text x="864.7" y="1873.7" font-size="25" text-anchor="end">1.0</text>
<text x="864.7" y="1824.4" font-size="25" text-anchor="end">1.5</text>
<text x="864.7" y="1775" font-size="25" text-anchor="end">2.0</text>
<text x="864.7" y="1725.7" font-size="25" text-anchor="end">2.5</text>
<text x="864.7" y="1676.4" font-size="25" text-anchor="end">3.0</text>
<text x="864.7" y="1627" font-size="25" text-anchor="end">3.5</text>
<text x="864.7" y="1577.7" font-size="25" text-anchor="end">4.0</text>
<text x="1025.8" y="1928.9" font-size="25" text-anchor="middle" fill="#111">k (Å<tspan font-size="15" dy="-11">-1</tspan><tspan dy="11">&#8203;</tspan>)</text>
<text font-size="24.5" text-anchor="middle" fill="#111" transform="translate(822 1718.4) rotate(-90)">R+a (Å)</text>
<text x="891.2" y="1626.6" font-size="41.5" fill="#fff">Co<tspan font-size="27.4" dy="9.8">3</tspan><tspan dy="-9.8">&#8203;</tspan>O<tspan font-size="27.4" dy="9.8">4</tspan><tspan dy="-9.8">&#8203;</tspan></text>
<clipPath id="co"><rect x="1275.1" y="1569.4" width="308.5" height="296"/></clipPath><g clip-path="url(#co)"><g filter="url(#jet)"><g transform="translate(1275.1 1569.4) scale(5.9327 5.9200)"><rect x="-3" y="-3" width="58" height="56" fill="#1e1e1e"/><g transform="translate(0 .5)" fill="none" stroke-width="1.04"><path stroke="#050505" d="M4 2h3M3 3h5M3 4h5M3 5h4M5 6h1M31 7h2M31 8h1M39 13h3M39 14h3M16 15h2M39 15h3M15 16h4M16 17h3M7 25h4M7 26h5M46 29h5M44 30h8M35 31h15M34 32h8M46 46h4"/><path stroke="#0a0a0a" d="M4 -1h2M2 0h6M1 1h8M1 2h3M7 2h3M1 3h2M8 3h2M1 4h2M8 4h2M1 5h2M7 5h3M30 5h3M1 6h4M6 6h4M30 6h4M2 7h7M30 7h1M33 7h1M3 8h5M30 8h1M32 8h2M30 9h3M31 10h1M39 12h3M38 13h1M42 13h1M15 14h4M38 14h1M42 14h1M14 15h2M18 15h2M38 15h1M42 15h1M14 16h1M19 16h1M39 16h3M14 17h2M19 17h1M15 18h4M7 24h4M5 25h2M11 25h2M5 26h2M12 26h1M6 27h6M46 28h6M43 29h3M51 29h3M37 30h7M52 30h2M33 31h2M50 31h3M32 32h2M42 32h8M34 33h8M14 35h3M44 46h2M50 46h3M46 47h6"/><path stroke="#0f0f0f" d="M4 -3h3M2 -2h7M0 -1h4M6 -1h4M0 0h2M8 0h3M-1 1h2M9 1h3M-1 2h2M10 2h2M-1 3h2M10 3h2M31 3h2M-1 4h2M10 4h2M30 4h4M-1 5h2M10 5h2M29 5h1M33 5h1M-1 6h2M10 6h2M29 6h1M34 6h1M-1 7h3M9 7h2M29 7h1M34 7h1M0 8h3M8 8h3M29 8h1M34 8h1M1 9h9M33 9h1M3 10h5M30 10h1M32 10h2M31 11h2M38 11h4M37 12h2M42 12h2M15 13h4M37 13h1M43 13h1M13 14h2M19 14h1M37 14h1M43 14h1M13 15h1M20 15h1M37 15h1M43 15h1M13 16h1M20 16h1M38 16h1M42 16h2M13 17h1M20 17h1M40 17h2M14 18h1M19 18h2M15 19h4M4 24h3M11 24h3M3 25h2M13 25h2M3 26h2M13 26h2M4 27h2M12 27h2M6 28h6M43 28h3M52 28h3M39 29h4M54 29h1M34 30h3M54 30h1M31 31h2M53 31h2M31 32h1M50 32h4M32 33h2M42 33h7M13 35h1M17 35h1M14 36h3M43 46h1M53 46h2M44 47h2M52 47h3"/><path stroke="#141414" d="M-1 -3h5M7 -3h5M-2 -2h4M9 -2h4M-3 -1h3M10 -1h4M-3 0h3M11 0h3M-3 1h2M12 1h2M31 1h2M-3 2h2M12 2h3M29 2h5M-3 3h2M12 3h3M29 3h2M33 3h2M-3 4h2M12 4h3M29 4h1M34 4h1M-3 5h2M12 5h3M28 5h1M34 5h2M-3 6h2M12 6h2M28 6h1M35 6h1M-3 7h2M11 7h3M28 7h1M35 7h1M-3 8h3M11 8h3M35 8h1M-2 9h3M10 9h3M29 9h1M34 9h2M-1 10h4M8 10h5M29 10h1M34 10h2M37 10h6M0 11h13M30 11h1M33 11h5M42 11h2M1 12h18M31 12h6M44 12h1M4 13h3M11 13h4M19 13h1M35 13h2M44 13h1M11 14h2M20 14h1M35 14h2M44 14h2M11 15h2M21 15h1M36 15h1M44 15h1M11 16h2M21 16h1M37 16h1M44 16h1M11 17h2M21 17h1M38 17h2M42 17h2M12 18h2M21 18h1M13 19h2M19 19h2M14 20h5M4 23h11M2 24h2M14 24h2M1 25h2M15 25h1M1 26h2M15 26h1M2 27h2M14 27h1M45 27h10M3 28h3M12 28h2M40 28h3M6 29h5M36 29h3M32 30h2M30 31h1M29 32h2M54 32h1M30 33h2M49 33h6M34 34h12M11 35h2M18 35h1M12 36h2M17 36h1M42 46h1M43 47h1"/><path stroke="#191919" d="M-3 -3h2M12 -3h7M30 -3h3M-3 -2h1M13 -2h7M28 -2h7M14 -1h6M28 -1h8M14 0h6M27 0h10M14 1h6M27 1h4M33 1h4M15 2h5M27 2h2M34 2h4M15 3h5M27 3h2M35 3h3M15 4h4M27 4h2M35 4h3M15 5h4M27 5h1M36 5h2M14 6h4M27 6h1M36 6h3M14 7h4M36 7h8M14 8h4M28 8h1M36 8h10M-3 9h1M13 9h5M28 9h1M36 9h11M-3 10h2M13 10h6M28 10h1M36 10h1M43 10h5M-3 11h3M13 11h7M29 11h1M44 11h4M-3 12h4M19 12h2M29 12h2M45 12h4M-3 13h7M7 13h4M20 13h2M30 13h5M45 13h4M-3 14h14M21 14h2M31 14h4M46 14h3M-3 15h14M22 15h1M34 15h2M45 15h4M-3 16h14M22 16h2M36 16h1M45 16h3M-2 17h13M22 17h2M37 17h1M44 17h4M0 18h12M22 18h1M39 18h7M3 19h10M21 19h1M3 20h11M19 20h2M1 21h19M-1 22h19M-3 23h7M15 23h2M-3 24h5M16 24h1M-3 25h4M16 25h1M52 25h3M-3 26h4M16 26h1M47 26h8M-3 27h5M15 27h1M42 27h3M-3 28h6M14 28h1M37 28h3M-2 29h8M11 29h3M34 29h2M0 30h12M31 30h1M4 31h4M29 31h1M28 32h1M28 33h2M30 34h4M46 34h9M10 35h1M19 35h1M11 36h1M18 36h1M48 45h7M41 46h1M42 47h1M46 48h9"/><path stroke="#232323" d="M22 7h4M22 8h5M21 9h6M21 10h6M22 11h6M23 12h5M23 13h5M24 14h4M25 15h3M26 16h8M26 17h3M35 17h1M25 18h1M37 18h1M24 19h1M39 19h1M22 20h1M41 20h5M21 21h1M45 21h4M20 22h1M47 22h3M19 23h1M47 23h3M18 24h1M47 24h2M18 25h1M44 25h3M39 26h4M17 27h1M36 27h2M16 28h1M34 28h1M15 29h2M31 29h1M14 30h2M29 30h1M13 31h1M27 31h1M11 32h2M26 32h1M11 33h2M25 33h2M17 34h2M25 34h3M21 35h1M32 35h5M0 36h6M8 36h2M19 36h1M44 36h5M-3 37h2M49 37h4M52 38h3M54 39h1M53 44h2M45 45h1M40 46h1M40 47h1M42 48h2M44 49h3M45 50h3M43 51h4M40 52h4"/><path stroke="#282828" d="M29 17h6M26 18h2M36 18h1M25 19h1M37 19h2M23 20h1M39 20h2M22 21h1M41 21h4M21 22h1M44 22h3M20 23h1M45 23h2M19 24h1M44 24h3M41 25h3M18 26h1M37 26h2M18 27h1M34 27h2M17 28h1M32 28h2M17 29h1M30 29h1M16 30h1M28 30h1M14 31h2M26 31h1M13 32h2M25 32h1M13 33h3M24 33h1M19 34h6M22 35h10M6 36h2M20 36h1M40 36h4M-1 37h2M47 37h2M50 38h2M52 39h2M53 40h2M54 41h1M54 42h1M53 43h2M51 44h2M44 45h1M39 47h1M41 48h1M42 49h2M42 50h3M41 51h2M37 52h3"/><path stroke="#2d2d2d" d="M28 18h3M34 18h2M26 19h1M36 19h1M24 20h1M38 20h1M23 21h1M39 21h2M40 22h4M41 23h4M20 24h1M40 24h4M19 25h1M37 25h4M19 26h1M35 26h2M33 27h1M18 28h1M31 28h1M18 29h1M29 29h1M17 30h1M27 30h1M16 31h1M25 31h1M15 32h2M24 32h1M16 33h2M22 33h2M21 36h1M37 36h3M1 37h3M44 37h3M-3 38h1M48 38h2M50 39h2M52 40h1M52 41h2M52 42h2M52 43h1M49 44h2M43 45h1M39 46h1M40 48h1M41 49h1M40 50h2M39 51h2M-3 52h3M35 52h2"/><path stroke="#323232" d="M31 18h3M27 19h2M35 19h1M25 20h1M37 20h1M38 21h1M22 22h1M38 22h2M21 23h1M38 23h3M37 24h3M20 25h1M36 25h1M34 26h1M19 27h1M32 27h1M19 28h1M19 29h1M28 29h1M18 30h1M26 30h1M17 31h2M24 31h1M17 32h2M22 32h2M18 33h4M22 36h1M34 36h3M4 37h2M14 37h1M42 37h2M-2 38h2M46 38h2M49 39h1M50 40h2M51 41h1M51 42h1M50 43h2M48 44h1M42 45h1M38 47h1M39 48h1M39 49h2M39 50h1M37 51h2M0 52h2M33 52h2"/><path stroke="#373737" d="M29 19h2M33 19h2M26 20h1M36 20h1M24 21h1M37 21h1M23 22h1M37 22h1M22 23h1M37 23h1M21 24h1M36 24h1M35 25h1M20 26h1M33 26h1M20 27h1M20 28h1M30 28h1M20 29h1M27 29h1M19 30h2M24 30h2M19 31h5M19 32h3M23 36h2M29 36h5M6 37h8M15 37h2M40 37h2M0 38h2M45 38h1M47 39h2M49 40h1M50 41h1M50 42h1M49 43h1M47 44h1M38 46h1M37 47h1M38 48h1M38 49h1M37 50h2M-3 51h2M35 51h2M2 52h2M30 52h3"/><path stroke="#3c3c3c" d="M31 19h2M27 20h1M34 20h2M25 21h1M36 21h1M24 22h1M36 22h1M36 23h1M22 24h1M35 24h1M21 25h1M34 25h1M21 26h1M32 26h1M21 27h1M31 27h1M21 28h1M28 28h2M21 29h2M25 29h2M21 30h3M25 36h4M17 37h2M38 37h2M2 38h1M43 38h2M-3 39h1M46 39h1M48 40h1M49 41h1M49 42h1M48 43h1M46 44h1M41 45h1M37 48h1M36 49h2M36 50h1M-1 51h1M34 51h1M4 52h3M28 52h2"/><path stroke="#414141" d="M28 20h3M32 20h2M26 21h1M35 21h1M35 22h1M23 23h1M35 23h1M34 24h1M22 25h1M33 25h1M22 27h1M30 27h1M22 28h1M27 28h1M23 29h2M19 37h1M36 37h2M3 38h1M42 38h1M-2 39h1M45 39h1M47 40h1M48 41h1M48 42h1M47 43h1M45 44h1M40 45h1M37 46h1M36 47h1M36 48h1M35 49h1M-3 50h1M34 50h2M0 51h2M32 51h2M7 52h3M25 52h3"/><path stroke="#464646" d="M31 20h1M27 21h1M33 21h2M25 22h1M34 22h1M24 23h1M34 23h1M23 24h1M33 24h1M32 25h1M22 26h1M31 26h1M23 27h1M29 27h1M23 28h4M20 37h1M34 37h2M4 38h2M41 38h1M-1 39h1M44 39h1M46 40h1M47 41h1M47 42h1M46 43h1M44 44h1M35 47h1M35 48h1M34 49h1M-2 50h2M33 50h1M2 51h2M30 51h2M10 52h4M21 52h4"/><path stroke="#4b4b4b" d="M28 21h5M26 22h1M33 22h1M25 23h1M33 23h1M24 24h1M32 24h1M23 25h1M31 25h1M23 26h1M30 26h1M24 27h5M21 37h1M32 37h2M6 38h1M39 38h2M0 39h2M43 39h1M-3 40h1M45 40h1M46 41h1M46 42h1M43 44h1M39 45h1M36 46h1M34 48h1M-3 49h1M33 49h1M0 50h1M32 50h1M4 51h2M29 51h1M14 52h7"/><path stroke="#505050" d="M27 22h2M31 22h2M26 23h1M32 23h1M25 24h1M31 24h1M24 25h1M30 25h1M24 26h2M28 26h2M22 37h2M28 37h4M7 38h2M38 38h1M2 39h1M42 39h1M-2 40h1M44 40h1M45 41h1M45 42h1M45 43h1M34 47h1M33 48h1M-2 49h1M32 49h1M1 50h1M30 50h2M6 51h1M27 51h2"/><path stroke="#555555" d="M29 22h2M27 23h2M30 23h2M26 24h1M30 24h1M25 25h2M28 25h2M26 26h2M24 37h4M9 38h1M37 38h1M3 39h1M41 39h1M43 40h1M44 41h1M44 43h1M42 44h1M38 45h1M35 46h1M32 48h1M-1 49h1M30 49h2M2 50h2M29 50h1M7 51h3M25 51h2"/><path stroke="#5a5a5a" d="M29 23h1M27 24h3M27 25h1M10 38h2M35 38h2M4 39h1M40 39h1M-1 40h1M42 40h1M44 42h1M43 43h1M41 44h1M33 47h1M-3 48h1M31 48h1M0 49h1M29 49h1M4 50h1M27 50h2M10 51h3M22 51h3"/><path stroke="#5f5f5f" d="M12 38h2M34 38h1M5 39h1M39 39h1M0 40h1M-3 41h1M43 41h1M43 42h1M37 45h1M34 46h1M32 47h1M-2 48h1M30 48h1M1 49h2M28 49h1M5 50h2M26 50h1M13 51h9"/><path stroke="#646464" d="M14 38h2M32 38h2M38 39h1M1 40h1M41 40h1M-2 41h1M42 41h1M42 43h1M40 44h1M-1 48h1M29 48h1M3 49h1M27 49h1M7 50h2M24 50h2"/><path stroke="#696969" d="M16 38h2M30 38h2M6 39h1M37 39h1M2 40h1M40 40h1M41 41h1M42 42h1M36 45h1M33 46h1M-3 47h1M31 47h1M0 48h1M28 48h1M4 49h2M25 49h2M9 50h3M21 50h3"/><path stroke="#6e6e6e" d="M18 38h3M28 38h2M7 39h2M36 39h1M39 40h1M-1 41h1M-3 42h1M41 42h1M41 43h1M39 44h1M-2 47h1M30 47h1M1 48h1M27 48h1M6 49h1M23 49h2M12 50h9"/><path stroke="#737373" d="M21 38h7M9 39h1M35 39h1M3 40h1M38 40h1M0 41h1M40 41h1M40 43h1M38 44h1M35 45h1M32 46h1M2 48h1M26 48h1M7 49h2M22 49h1"/><path stroke="#787878" d="M10 39h1M34 39h1M4 40h1M39 41h1M-2 42h1M40 42h1M-3 46h1M-1 47h1M29 47h1M3 48h2M25 48h1M9 49h3M19 49h3"/><path stroke="#7d7d7d" d="M11 39h1M33 39h1M5 40h1M37 40h1M1 41h1M39 42h1M-3 43h1M39 43h1M37 44h1M34 45h1M-2 46h1M31 46h1M0 47h1M28 47h1M5 48h1M23 48h2M12 49h7"/><path stroke="#828282" d="M12 39h1M31 39h2M6 40h1M36 40h1M2 41h1M38 41h1M-1 42h1M-3 44h1M-3 45h1M1 47h1M6 48h1M22 48h1"/><path stroke="#878787" d="M13 39h1M30 39h1M35 40h1M37 41h1M0 42h1M38 42h1M-2 43h1M38 43h1M36 44h1M-2 45h1M33 45h1M-1 46h1M30 46h1M2 47h1M27 47h1M7 48h2M20 48h2"/><path stroke="#8c8c8c" d="M14 39h2M29 39h1M7 40h1M34 40h1M3 41h1M-1 43h1M37 43h1M-2 44h1M0 46h1M3 47h1M26 47h1M9 48h3M18 48h2"/><path stroke="#919191" d="M16 39h2M27 39h2M8 40h1M4 41h1M36 41h1M1 42h1M37 42h1M-1 44h1M35 44h1M-1 45h1M32 45h1M29 46h1M4 47h1M25 47h1M12 48h6"/><path stroke="#969696" d="M18 39h9M9 40h1M33 40h1M35 41h1M36 42h1M0 43h1M36 43h1M1 46h1M5 47h1M24 47h1"/><path stroke="#9b9b9b" d="M10 40h1M32 40h1M5 41h1M2 42h1M0 44h1M34 44h1M0 45h1M31 45h1M2 46h1M28 46h1M6 47h1M23 47h1"/><path stroke="#a0a0a0" d="M11 40h1M31 40h1M6 41h1M34 41h1M3 42h1M35 42h1M1 43h1M35 43h1M1 45h1M3 46h1M27 46h1M7 47h2M21 47h2"/><path stroke="#a5a5a5" d="M12 40h1M30 40h1M33 41h1M1 44h1M33 44h1M30 45h1M9 47h1M20 47h1"/><path stroke="#aaaaaa" d="M13 40h1M29 40h1M7 41h1M4 42h1M34 42h1M2 43h1M34 43h1M2 45h1M4 46h1M26 46h1M10 47h3M17 47h3"/><path stroke="#afafaf" d="M14 40h1M27 40h2M8 41h1M32 41h1M33 42h1M3 43h1M33 43h1M2 44h1M32 44h1M3 45h1M29 45h1M5 46h1M25 46h1M13 47h4"/><path stroke="#b4b4b4" d="M15 40h2M26 40h1M9 41h1M31 41h1M5 42h1M3 44h1M31 44h1M6 46h1M24 46h1"/><path stroke="#b9b9b9" d="M17 40h2M23 40h3M30 41h1M6 42h1M32 42h1M4 43h1M32 43h1M4 45h1M28 45h1M7 46h1M23 46h1"/><path stroke="#bebebe" d="M19 40h4M10 41h1M4 44h1M30 44h1M5 45h1M27 45h1M8 46h1M22 46h1"/><path stroke="#c3c3c3" d="M11 41h1M29 41h1M7 42h1M31 42h1M5 43h1M31 43h1M6 45h1M9 46h2M21 46h1"/><path stroke="#c8c8c8" d="M12 41h1M28 41h1M8 42h1M30 42h1M6 43h1M30 43h1M5 44h1M29 44h1M26 45h1M11 46h1M19 46h2"/><path stroke="#cdcdcd" d="M13 41h1M27 41h1M29 42h1M6 44h1M28 44h1M7 45h1M25 45h1M12 46h7"/><path stroke="#d2d2d2" d="M14 41h2M25 41h2M9 42h1M7 43h1M29 43h1M8 45h1M24 45h1"/><path stroke="#d7d7d7" d="M16 41h1M23 41h2M10 42h1M28 42h1M8 43h1M28 43h1M7 44h1M27 44h1M9 45h1M23 45h1"/><path stroke="#dcdcdc" d="M17 41h6M11 42h1M27 42h1M8 44h1M26 44h1M10 45h1M22 45h1"/><path stroke="#e1e1e1" d="M12 42h1M26 42h1M9 43h1M27 43h1M9 44h1M25 44h1M11 45h2M21 45h1"/><path stroke="#e6e6e6" d="M13 42h1M25 42h1M10 43h1M26 43h1M10 44h1M13 45h2M19 45h2"/><path stroke="#ebebeb" d="M14 42h1M24 42h1M11 43h1M25 43h1M11 44h1M23 44h2M15 45h4"/><path stroke="#f0f0f0" d="M15 42h2M21 42h3M12 43h1M24 43h1M12 44h1M22 44h1"/><path stroke="#f5f5f5" d="M17 42h4M13 43h1M23 43h1M13 44h2M21 44h1"/><path stroke="#fafafa" d="M14 43h2M21 43h2M15 44h6"/><path stroke="#ffffff" d="M16 43h5"/></g></g></g><path d="M1275 1785L1303 1781L1313 1781L1327 1783L1336 1785L1348 1787L1369 1789L1379 1788L1391 1785L1397 1782L1396 1778L1389 1776L1372 1773L1345 1771L1338 1768L1338 1764L1341 1761L1365 1744L1373 1737L1379 1726L1383 1712L1387 1705L1415 1684L1422 1677L1427 1670L1428 1667L1426 1663L1404 1639L1400 1632L1399 1629L1399 1622L1404 1615L1410 1609L1417 1607L1421 1606L1424 1607L1428 1609L1431 1613L1435 1619L1441 1640L1446 1660L1448 1662L1451 1663L1455 1664L1473 1666L1480 1667L1504 1681L1518 1686L1528 1687L1545 1689L1556 1691L1563 1694L1569 1698L1573 1702L1575 1705L1575 1709L1573 1712L1569 1716L1562 1719L1542 1725L1493 1735L1452 1750L1446 1754L1438 1761L1436 1764L1435 1768L1437 1771L1445 1775L1455 1776L1481 1778L1545 1782L1566 1785L1584 1788M1584 1836L1531 1841L1518 1845L1514 1848L1521 1853L1556 1862L1563 1865M1417 1744L1410 1742L1407 1738L1405 1733L1405 1726L1407 1719L1412 1712L1417 1707L1424 1701L1431 1697L1441 1692L1452 1689L1462 1688L1469 1689L1476 1690L1483 1695L1486 1698L1487 1702L1487 1705L1484 1712L1476 1719L1467 1726L1454 1733L1441 1738L1428 1742L1417 1744M1275 1801L1299 1796L1324 1793L1372 1793L1421 1787L1448 1787L1490 1790L1525 1796L1539 1800L1549 1804L1558 1810L1562 1813L1563 1817L1564 1820L1563 1824L1560 1827L1554 1831L1541 1834L1507 1841L1498 1845L1493 1848L1491 1851L1490 1859L1488 1865M1275 1810L1303 1804L1337 1799L1410 1794L1435 1794L1473 1797L1500 1801L1511 1804L1521 1808L1529 1813L1532 1817L1534 1820L1533 1824L1530 1827L1525 1831L1490 1841L1480 1845L1438 1865M1300 1865L1275 1859M1275 1820L1289 1814L1303 1811L1337 1804L1379 1800L1421 1799L1459 1802L1487 1807L1495 1810L1502 1813L1507 1817L1509 1820L1509 1824L1507 1827L1502 1831L1494 1834L1448 1849L1417 1856L1389 1860L1362 1861L1334 1860L1299 1855L1275 1848M1396 1852L1376 1853L1355 1853L1334 1852L1317 1850L1303 1847L1292 1844L1285 1841L1282 1838L1280 1834L1281 1831L1284 1827L1289 1824L1307 1817L1338 1810L1376 1805L1414 1804L1448 1807L1464 1810L1476 1813L1483 1817L1486 1820L1487 1824L1485 1827L1481 1831L1464 1838L1431 1847L1396 1852M1407 1845L1386 1847L1365 1847L1348 1847L1331 1845L1313 1841L1306 1838L1303 1834L1303 1831L1306 1827L1312 1824L1320 1820L1333 1817L1358 1812L1386 1810L1414 1810L1441 1813L1456 1817L1462 1820L1464 1824L1464 1827L1460 1831L1453 1834L1429 1841L1407 1845M1383 1841L1362 1841L1344 1839L1337 1838L1331 1834L1329 1831L1331 1827L1338 1824L1344 1822L1358 1819L1379 1816L1400 1816L1416 1817L1433 1820L1438 1824L1439 1827L1435 1831L1427 1834L1407 1839L1383 1841" fill="none" stroke="#013" stroke-opacity=".42" stroke-width="1" stroke-linejoin="round"/></g>
<path d="M1275.1 1568.4V1865.4H1584.6" fill="none" stroke="#000" stroke-width="2"/>
<path d="M1274.1 1569.4H1583.6V1865.4" fill="none" stroke="#000" stroke-width="1.6"/>
<path d="M1275.1 1865.4v6.5M1322.6 1865.4v6.5M1370 1865.4v6.5M1417.5 1865.4v6.5M1464.9 1865.4v6.5M1512.4 1865.4v6.5M1559.9 1865.4v6.5" stroke="#000" stroke-width="2" fill="none"/>
<path d="M1298.8 1865.4v3.8M1346.3 1865.4v3.8M1393.8 1865.4v3.8M1441.2 1865.4v3.8M1488.7 1865.4v3.8M1536.1 1865.4v3.8M1583.6 1865.4v3.8" stroke="#000" stroke-width="2" fill="none"/>
<path d="M1275.1 1865.4h-6.5M1275.1 1816.1h-6.5M1275.1 1766.7h-6.5M1275.1 1717.4h-6.5M1275.1 1668.1h-6.5M1275.1 1618.7h-6.5M1275.1 1569.4h-6.5" stroke="#000" stroke-width="2" fill="none"/>
<path d="M1275.1 1840.7h-3.8M1275.1 1791.4h-3.8M1275.1 1742.1h-3.8M1275.1 1692.7h-3.8M1275.1 1643.4h-3.8M1275.1 1594.1h-3.8" stroke="#000" stroke-width="2" fill="none"/>
<text x="1275.1" y="1894.9" font-size="25" text-anchor="middle">0</text>
<text x="1322.6" y="1894.9" font-size="25" text-anchor="middle">2</text>
<text x="1370" y="1894.9" font-size="25" text-anchor="middle">4</text>
<text x="1417.5" y="1894.9" font-size="25" text-anchor="middle">6</text>
<text x="1464.9" y="1894.9" font-size="25" text-anchor="middle">8</text>
<text x="1512.4" y="1894.9" font-size="25" text-anchor="middle">10</text>
<text x="1559.9" y="1894.9" font-size="25" text-anchor="middle">12</text>
<text x="1265.3" y="1873.7" font-size="25" text-anchor="end">1.0</text>
<text x="1265.3" y="1824.4" font-size="25" text-anchor="end">1.5</text>
<text x="1265.3" y="1775" font-size="25" text-anchor="end">2.0</text>
<text x="1265.3" y="1725.7" font-size="25" text-anchor="end">2.5</text>
<text x="1265.3" y="1676.4" font-size="25" text-anchor="end">3.0</text>
<text x="1265.3" y="1627" font-size="25" text-anchor="end">3.5</text>
<text x="1265.3" y="1577.7" font-size="25" text-anchor="end">4.0</text>
<text x="1426.3" y="1928.9" font-size="25" text-anchor="middle" fill="#111">k (Å<tspan font-size="15" dy="-11">-1</tspan><tspan dy="11">&#8203;</tspan>)</text>
<text font-size="24.5" text-anchor="middle" fill="#111" transform="translate(1222.6 1718.4) rotate(-90)">R+a (Å)</text>
<text x="1292.5" y="1626.6" font-size="41.5" fill="#fff">Co-Ph</text>
<clipPath id="cp"><rect x="1675.1" y="1569.4" width="308.5" height="296"/></clipPath><g clip-path="url(#cp)"><g filter="url(#jet)"><g transform="translate(1675.1 1569.4) scale(5.9327 5.9200)"><rect x="-3" y="-3" width="58" height="56" fill="#191919"/><g transform="translate(0 .5)" fill="none" stroke-width="1.04"><path stroke="#050505" d="M49 4h3M48 5h4M48 6h4M48 7h5M47 8h6M47 9h6M47 10h6M47 11h6M47 12h6M4 13h3M47 13h7M4 14h3M47 14h7M29 15h3M47 15h7M30 16h2M47 16h7M47 17h7M47 18h6M47 19h6M12 20h3M47 20h6M11 21h5M48 21h5M11 22h6M48 22h5M11 23h6M48 23h5M11 24h5M48 24h4M10 25h6M49 25h3M10 26h6M49 26h2M11 27h5M12 28h2M6 34h3M39 36h6M40 37h3"/><path stroke="#0a0a0a" d="M48 -3h5M47 -2h6M47 -1h7M2 0h2M46 0h8M0 1h5M46 1h8M-1 2h7M46 2h8M0 3h6M46 3h9M0 4h5M45 4h4M52 4h3M45 5h3M52 5h3M45 6h3M52 6h3M45 7h3M53 7h2M45 8h2M53 8h2M45 9h2M53 9h2M45 10h2M53 10h2M4 11h3M45 11h2M53 11h2M2 12h6M45 12h2M53 12h2M2 13h2M7 13h2M45 13h2M54 13h1M2 14h2M7 14h2M29 14h4M45 14h2M54 14h1M3 15h5M28 15h1M32 15h1M45 15h2M54 15h1M4 16h3M29 16h1M32 16h1M45 16h2M54 16h1M30 17h2M45 17h2M54 17h1M45 18h2M53 18h2M11 19h5M45 19h2M53 19h2M10 20h2M15 20h2M45 20h2M53 20h2M10 21h1M16 21h2M46 21h2M53 21h2M9 22h2M17 22h1M46 22h2M53 22h2M9 23h2M17 23h1M46 23h2M53 23h2M9 24h2M16 24h2M46 24h2M52 24h3M9 25h1M16 25h2M46 25h3M52 25h3M9 26h1M16 26h2M46 26h3M51 26h4M9 27h2M16 27h1M46 27h9M10 28h2M14 28h2M46 28h8M11 29h4M47 29h7M47 30h7M47 31h6M47 32h6M48 33h5M4 34h2M9 34h2M48 34h4M44 35h8M37 36h2M45 36h7M37 37h3M43 37h8"/><path stroke="#0f0f0f" d="M44 -3h4M53 -3h2M0 -2h5M44 -2h3M53 -2h2M-2 -1h9M44 -1h3M54 -1h1M-3 0h5M4 0h4M44 0h2M54 0h1M-3 1h3M5 1h4M43 1h3M54 1h1M-3 2h2M6 2h3M43 2h3M54 2h1M-3 3h3M6 3h3M43 3h3M-3 4h3M5 4h3M43 4h2M-3 5h11M43 5h2M-1 6h8M43 6h2M1 7h5M43 7h2M43 8h2M3 9h3M43 9h2M2 10h6M43 10h2M1 11h3M7 11h2M43 11h2M1 12h1M8 12h2M43 12h2M0 13h2M9 13h1M29 13h4M43 13h2M0 14h2M9 14h1M28 14h1M33 14h1M43 14h2M1 15h2M8 15h2M33 15h1M43 15h2M2 16h2M7 16h3M28 16h1M33 16h1M43 16h2M3 17h7M28 17h2M32 17h1M43 17h2M9 18h7M43 18h2M9 19h2M16 19h2M44 19h1M8 20h2M17 20h2M44 20h1M8 21h2M18 21h1M44 21h2M8 22h1M18 22h1M44 22h2M8 23h1M18 23h1M44 23h2M7 24h2M18 24h1M44 24h2M7 25h2M18 25h1M44 25h2M7 26h2M18 26h1M44 26h2M8 27h1M17 27h2M44 27h2M8 28h2M16 28h2M44 28h2M54 28h1M9 29h2M15 29h2M44 29h3M54 29h1M11 30h4M44 30h3M54 30h1M44 31h3M53 31h2M44 32h3M53 32h2M4 33h7M44 33h4M53 33h2M3 34h1M11 34h1M44 34h4M52 34h3M4 35h6M38 35h6M52 35h3M35 36h2M52 36h3M36 37h1M51 37h4M44 38h11M50 39h3"/><path stroke="#141414" d="M-3 -3h12M40 -3h4M-3 -2h3M5 -2h5M40 -2h4M-3 -1h1M7 -1h4M40 -1h4M8 0h3M40 0h4M9 1h2M40 1h3M9 2h2M40 2h3M9 3h2M40 3h3M8 4h3M40 4h3M8 5h3M40 5h3M-3 6h2M7 6h3M40 6h3M-3 7h4M6 7h4M40 7h3M-3 8h13M39 8h4M-3 9h6M6 9h4M40 9h3M-2 10h4M8 10h3M40 10h3M-2 11h3M9 11h2M40 11h3M-2 12h3M10 12h2M31 12h2M40 12h3M-2 13h2M10 13h2M28 13h1M33 13h2M40 13h3M-2 14h2M10 14h2M27 14h1M34 14h2M40 14h3M-1 15h2M10 15h3M27 15h1M34 15h2M41 15h2M-1 16h3M10 16h4M27 16h1M34 16h1M41 16h2M0 17h3M10 17h6M27 17h1M33 17h1M42 17h1M1 18h8M16 18h2M28 18h5M42 18h1M3 19h6M18 19h1M42 19h2M5 20h3M19 20h1M42 20h2M5 21h3M19 21h2M43 21h1M5 22h3M19 22h2M43 22h1M5 23h3M19 23h2M43 23h1M5 24h2M19 24h2M43 24h1M5 25h2M19 25h2M43 25h1M5 26h2M19 26h2M43 26h1M6 27h2M19 27h2M43 27h1M6 28h2M18 28h2M43 28h1M6 29h3M17 29h2M43 29h1M7 30h4M15 30h3M42 30h2M8 31h8M42 31h2M5 32h9M42 32h2M1 33h3M11 33h3M41 33h3M0 34h3M12 34h2M40 34h4M3 35h1M10 35h2M36 35h2M34 36h1M35 37h1M41 38h3M47 39h3M53 39h2M49 40h6M51 41h4M50 51h3M49 52h4"/><path stroke="#1e1e1e" d="M14 -3h2M31 -3h3M14 -2h2M32 -2h3M13 -1h2M32 -1h3M13 0h2M33 0h2M13 1h2M33 1h2M13 2h2M33 2h2M13 3h2M33 3h2M13 4h2M33 4h3M13 5h1M33 5h3M13 6h1M33 6h3M13 7h1M33 7h2M13 8h1M33 8h2M13 9h2M33 9h2M13 10h2M31 10h3M13 11h2M30 11h2M14 12h2M28 12h1M14 13h2M27 13h1M15 14h2M26 14h1M16 15h2M25 15h1M17 16h2M25 16h1M19 17h2M24 17h2M36 17h3M20 18h6M35 18h5M21 19h6M33 19h2M39 19h2M22 20h11M40 20h1M23 21h7M40 21h1M24 22h5M41 22h1M24 23h4M41 23h1M24 24h3M41 24h1M24 25h2M41 25h1M24 26h1M41 26h1M23 27h2M40 27h1M22 28h2M40 28h1M22 29h1M39 29h2M20 30h2M39 30h1M19 31h2M38 31h2M17 32h2M37 32h2M16 33h1M36 33h2M15 34h1M35 34h2M-3 35h2M13 35h1M34 35h1M33 36h1M33 37h1M37 38h2M43 39h2M46 40h1M47 41h1M48 42h2M49 43h2M49 44h3M49 45h3M49 46h2M48 47h3M47 48h3M46 49h2M44 50h2M42 51h3M38 52h4"/><path stroke="#232323" d="M16 -3h2M29 -3h2M16 -2h1M30 -2h2M15 -1h2M30 -1h2M15 0h2M31 0h2M15 1h1M31 1h2M15 2h1M31 2h2M15 3h1M32 3h1M15 4h1M32 4h1M14 5h2M32 5h1M14 6h2M32 6h1M14 7h2M32 7h1M14 8h2M31 8h2M15 9h1M31 9h2M15 10h1M30 10h1M15 11h2M28 11h2M16 12h1M27 12h1M16 13h2M26 13h1M17 14h2M25 14h1M18 15h2M24 15h1M19 16h6M21 17h3M35 19h4M33 20h7M30 21h3M39 21h1M29 22h2M39 22h2M28 23h2M40 23h1M27 24h2M40 24h1M26 25h2M40 25h1M25 26h2M40 26h1M25 27h1M39 27h1M24 28h1M39 28h1M23 29h1M38 29h1M22 30h1M38 30h1M21 31h1M37 31h1M19 32h1M36 32h1M17 33h2M35 33h1M16 34h1M34 34h1M14 35h1M33 35h1M-3 36h12M32 36h1M36 38h1M42 39h1M44 40h2M46 41h1M47 42h1M48 43h1M48 44h1M48 45h1M48 46h1M47 47h1M46 48h1M44 49h2M42 50h2M39 51h3M-3 52h2M34 52h4"/><path stroke="#282828" d="M18 -3h2M27 -3h2M17 -2h2M28 -2h2M17 -1h2M29 -1h1M17 0h1M29 0h2M16 1h2M30 1h1M16 2h1M30 2h1M16 3h1M30 3h2M16 4h1M30 4h2M16 5h1M31 5h1M16 6h1M30 6h2M16 7h1M30 7h2M16 8h1M30 8h1M16 9h1M29 9h2M16 10h2M28 10h2M17 11h1M27 11h1M17 12h2M26 12h1M18 13h2M25 13h1M19 14h6M20 15h4M33 21h6M31 22h2M38 22h1M30 23h1M38 23h2M29 24h1M39 24h1M28 25h1M39 25h1M27 26h1M39 26h1M25 28h1M38 28h1M24 29h1M23 30h1M37 30h1M22 31h1M36 31h1M20 32h1M35 32h1M19 33h1M17 34h1M15 35h1M32 35h1M9 36h2M32 37h1M35 38h1M41 39h1M43 40h1M45 41h1M46 42h1M47 43h1M47 44h1M47 45h1M47 46h1M46 47h1M45 48h1M43 49h1M41 50h1M37 51h2M-1 52h3M31 52h3"/><path stroke="#2d2d2d" d="M20 -3h7M19 -2h3M26 -2h2M19 -1h1M27 -1h2M18 0h1M28 0h1M18 1h1M28 1h2M17 2h2M29 2h1M17 3h1M29 3h1M17 4h1M29 4h1M17 5h1M29 5h2M17 6h1M29 6h1M17 7h1M29 7h1M17 8h1M29 8h1M17 9h2M28 9h1M18 10h1M27 10h1M18 11h2M26 11h1M19 12h2M24 12h2M20 13h5M33 22h5M31 23h2M37 23h1M30 24h1M38 24h1M29 25h1M38 25h1M38 26h1M26 27h1M38 27h1M37 28h1M37 29h1M36 30h1M23 31h1M35 31h1M21 32h1M20 33h1M34 33h1M18 34h1M33 34h1M16 35h1M11 36h2M31 36h1M-3 37h2M31 37h1M34 38h1M40 39h1M44 41h1M45 42h1M46 43h1M46 44h1M46 45h1M46 46h1M45 47h1M44 48h1M42 49h1M39 50h2M-3 51h1M35 51h2M2 52h4M27 52h4"/><path stroke="#323232" d="M22 -2h4M20 -1h7M19 0h2M26 0h2M19 1h2M27 1h1M19 2h1M27 2h2M18 3h2M28 3h1M18 4h1M28 4h1M18 5h1M28 5h1M18 6h1M28 6h1M18 7h2M28 7h1M18 8h2M27 8h2M19 9h1M27 9h1M19 10h2M25 10h2M20 11h6M21 12h3M33 23h4M31 24h2M36 24h2M30 25h1M37 25h1M28 26h1M37 26h1M27 27h1M37 27h1M26 28h1M25 29h1M36 29h1M24 30h1M22 32h1M34 32h1M21 33h1M33 33h1M19 34h1M32 34h1M17 35h1M31 35h1M13 36h2M30 36h1M-1 37h2M39 39h1M42 40h1M43 41h1M44 42h1M45 43h1M45 44h1M45 45h1M45 46h1M44 47h1M43 48h1M41 49h1M38 50h1M-2 51h3M33 51h2M6 52h4M23 52h4"/><path stroke="#373737" d="M21 0h5M21 1h6M20 2h2M25 2h2M20 3h1M26 3h2M19 4h2M26 4h2M19 5h2M26 5h2M19 6h2M26 6h2M20 7h1M26 7h2M20 8h2M25 8h2M20 9h7M21 10h4M33 24h3M31 25h1M36 25h1M29 26h1M36 26h1M28 27h1M36 27h1M27 28h1M36 28h1M26 29h1M35 29h1M25 30h1M35 30h1M24 31h1M34 31h1M23 32h1M33 32h1M32 33h1M20 34h1M18 35h1M15 36h1M1 37h3M30 37h1M33 38h1M38 39h1M41 40h1M42 41h1M44 43h1M44 45h1M44 46h1M43 47h1M42 48h1M39 49h2M36 50h2M1 51h2M31 51h2M10 52h13"/><path stroke="#3c3c3c" d="M22 2h3M21 3h5M21 4h5M21 5h5M21 6h5M21 7h5M22 8h3M32 25h4M30 26h1M35 26h1M29 27h1M35 27h1M35 28h1M34 30h1M25 31h1M33 31h1M24 32h1M22 33h1M21 34h1M31 34h1M19 35h1M30 35h1M16 36h2M29 36h1M4 37h3M-3 38h2M32 38h1M37 39h1M40 40h1M43 42h1M44 44h1M43 46h1M42 47h1M41 48h1M38 49h1M-3 50h1M35 50h1M3 51h2M29 51h2"/><path stroke="#414141" d="M31 26h4M30 27h1M34 27h1M28 28h1M34 28h1M27 29h1M34 29h1M26 30h1M33 30h1M32 32h1M23 33h1M31 33h1M22 34h1M30 34h1M20 35h1M29 35h1M18 36h1M7 37h3M29 37h1M-1 38h1M31 38h1M36 39h1M39 40h1M41 41h1M42 42h1M43 43h1M43 44h1M43 45h1M40 48h1M37 49h1M-2 50h2M33 50h2M5 51h2M26 51h3"/><path stroke="#464646" d="M31 27h3M29 28h1M33 28h1M28 29h1M33 29h1M27 30h1M26 31h1M32 31h1M25 32h1M31 32h1M24 33h1M30 33h1M23 34h1M29 34h1M21 35h1M28 35h1M19 36h1M28 36h1M10 37h2M28 37h1M0 38h2M35 39h1M38 40h1M40 41h1M42 43h1M42 46h1M41 47h1M39 48h1M36 49h1M0 50h1M32 50h1M7 51h3M24 51h2"/><path stroke="#4b4b4b" d="M30 28h3M29 29h1M32 29h1M28 30h1M31 30h2M27 31h1M31 31h1M26 32h2M30 32h1M25 33h2M29 33h1M24 34h1M28 34h1M22 35h1M27 35h1M20 36h2M27 36h1M12 37h4M2 38h1M30 38h1M-3 39h1M34 39h1M41 42h1M42 44h1M42 45h1M41 46h1M40 47h1M38 48h1M-3 49h1M35 49h1M1 50h2M31 50h1M10 51h4M19 51h5"/><path stroke="#505050" d="M30 29h2M29 30h2M28 31h3M28 32h2M27 33h2M25 34h3M23 35h4M22 36h1M26 36h1M16 37h3M27 37h1M3 38h2M29 38h1M-2 39h1M33 39h1M37 40h1M39 41h1M40 42h1M41 43h1M41 44h1M41 45h1M39 47h1M37 48h1M-2 49h1M34 49h1M3 50h1M29 50h2M14 51h5"/><path stroke="#555555" d="M23 36h3M19 37h2M26 37h1M5 38h2M28 38h1M-1 39h1M32 39h1M36 40h1M38 41h1M40 46h1M-1 49h1M33 49h1M4 50h2M28 50h1"/><path stroke="#5a5a5a" d="M21 37h5M7 38h1M27 38h1M0 39h1M31 39h1M-3 40h1M35 40h1M39 42h1M40 43h1M40 44h1M40 45h1M39 46h1M38 47h1M36 48h1M0 49h1M32 49h1M6 50h1M26 50h2"/><path stroke="#5f5f5f" d="M8 38h3M26 38h1M1 39h1M37 41h1M39 43h1M37 47h1M-3 48h1M35 48h1M1 49h1M31 49h1M7 50h2M24 50h2"/><path stroke="#646464" d="M11 38h2M25 38h1M2 39h2M30 39h1M-2 40h1M34 40h1M36 41h1M38 42h1M39 44h1M39 45h1M38 46h1M-2 48h1M34 48h1M2 49h1M30 49h1M9 50h3M21 50h3"/><path stroke="#696969" d="M13 38h7M22 38h3M4 39h1M29 39h1M-1 40h1M33 40h1M37 42h1M38 43h1M38 45h1M36 47h1M-1 48h1M33 48h1M3 49h1M29 49h1M12 50h9"/><path stroke="#6e6e6e" d="M20 38h2M5 39h1M28 39h1M0 40h1M32 40h1M-3 41h1M35 41h1M38 44h1M37 46h1M-3 47h1M35 47h1M0 48h1M4 49h1M28 49h1"/><path stroke="#737373" d="M6 39h1M27 39h1M1 40h1M31 40h1M-2 41h1M34 41h1M36 42h1M37 43h1M37 45h1M36 46h1M-2 47h1M1 48h1M32 48h1M5 49h2M27 49h1"/><path stroke="#787878" d="M7 39h2M26 39h1M2 40h1M37 44h1M34 47h1M31 48h1M7 49h1M25 49h2"/><path stroke="#7d7d7d" d="M9 39h1M24 39h2M3 40h1M30 40h1M-1 41h1M33 41h1M-3 42h1M35 42h1M36 43h1M36 45h1M-3 46h1M35 46h1M-1 47h1M33 47h1M2 48h1M30 48h1M8 49h2M24 49h1"/><path stroke="#828282" d="M10 39h2M22 39h2M29 40h1M0 41h1M32 41h1M-2 42h1M36 44h1M0 47h1M3 48h1M29 48h1M10 49h1M22 49h2"/><path stroke="#878787" d="M12 39h10M4 40h1M28 40h1M34 42h1M-3 43h1M35 43h1M-3 44h1M-3 45h1M35 45h1M-2 46h1M34 46h1M32 47h1M4 48h1M28 48h1M11 49h3M19 49h3"/><path stroke="#8c8c8c" d="M5 40h1M27 40h1M1 41h1M31 41h1M-1 42h1M33 42h1M-2 43h1M35 44h1M-2 45h1M-1 46h1M33 46h1M1 47h1M31 47h1M5 48h1M27 48h1M14 49h5"/><path stroke="#919191" d="M6 40h1M26 40h1M2 41h1M30 41h1M34 43h1M-2 44h1M34 44h1M34 45h1M2 47h1M6 48h1M26 48h1"/><path stroke="#969696" d="M7 40h2M25 40h1M3 41h1M0 42h1M32 42h1M-1 43h1M33 43h1M-1 45h1M0 46h1M32 46h1M30 47h1M7 48h1M25 48h1"/><path stroke="#9b9b9b" d="M9 40h1M24 40h1M29 41h1M1 42h1M-1 44h1M33 44h1M33 45h1M1 46h1M3 47h1M29 47h1M8 48h1M24 48h1"/><path stroke="#a0a0a0" d="M10 40h1M22 40h2M4 41h1M28 41h1M31 42h1M0 43h1M32 43h1M0 45h1M32 45h1M31 46h1M4 47h1M28 47h1M9 48h2M23 48h1"/><path stroke="#a5a5a5" d="M11 40h2M20 40h2M5 41h1M27 41h1M2 42h1M30 42h1M0 44h1M32 44h1M2 46h1M30 46h1M5 47h1M11 48h1M21 48h2"/><path stroke="#aaaaaa" d="M13 40h7M6 41h1M26 41h1M3 42h1M1 43h1M31 43h1M1 45h1M31 45h1M6 47h1M27 47h1M12 48h3M18 48h3"/><path stroke="#afafaf" d="M7 41h1M29 42h1M2 43h1M1 44h1M31 44h1M2 45h1M3 46h1M29 46h1M26 47h1M15 48h3"/><path stroke="#b4b4b4" d="M8 41h1M25 41h1M4 42h1M28 42h1M30 43h1M2 44h1M30 45h1M4 46h1M28 46h1M7 47h1M25 47h1"/><path stroke="#b9b9b9" d="M9 41h1M24 41h1M5 42h1M3 43h1M29 43h1M30 44h1M3 45h1M8 47h1M24 47h1"/><path stroke="#bebebe" d="M10 41h1M22 41h2M27 42h1M3 44h1M29 44h1M29 45h1M5 46h1M27 46h1M9 47h1M23 47h1"/><path stroke="#c3c3c3" d="M11 41h2M21 41h1M6 42h1M26 42h1M4 43h1M28 43h1M4 45h1M28 45h1M6 46h1M26 46h1M10 47h2M21 47h2"/><path stroke="#c8c8c8" d="M13 41h2M18 41h3M7 42h1M25 42h1M5 43h1M4 44h1M28 44h1M5 45h1M7 46h1M12 47h2M20 47h1"/><path stroke="#cdcdcd" d="M15 41h3M8 42h1M24 42h1M27 43h1M5 44h1M27 45h1M8 46h1M25 46h1M14 47h6"/><path stroke="#d2d2d2" d="M9 42h1M6 43h1M26 43h1M27 44h1M6 45h1M26 45h1M24 46h1"/><path stroke="#d7d7d7" d="M10 42h1M22 42h2M7 43h1M25 43h1M6 44h1M26 44h1M7 45h1M9 46h1M23 46h1"/><path stroke="#dcdcdc" d="M11 42h1M21 42h1M8 43h1M7 44h1M25 45h1M10 46h2M22 46h1"/><path stroke="#e1e1e1" d="M12 42h2M19 42h2M24 43h1M25 44h1M8 45h1M24 45h1M12 46h1M20 46h2"/><path stroke="#e6e6e6" d="M14 42h5M9 43h1M23 43h1M8 44h1M24 44h1M9 45h1M23 45h1M13 46h7"/><path stroke="#ebebeb" d="M10 43h1M22 43h1M9 44h1M23 44h1M10 45h1M22 45h1"/><path stroke="#f0f0f0" d="M11 43h2M20 43h2M10 44h1M22 44h1M11 45h2M21 45h1"/><path stroke="#f5f5f5" d="M13 43h2M18 43h2M11 44h1M21 44h1M13 45h1M19 45h2"/><path stroke="#fafafa" d="M15 43h3M12 44h2M19 44h2M14 45h5"/><path stroke="#ffffff" d="M14 44h5"/></g></g></g><path d="M1869 1569L1872 1583L1874 1601L1873 1615L1870 1625L1867 1629L1863 1632L1845 1641L1835 1649L1831 1653L1827 1660L1821 1675L1817 1678L1814 1679L1810 1678L1803 1676L1784 1663L1772 1653L1766 1643L1761 1629L1759 1615L1761 1594L1764 1569M1675 1783L1706 1785L1727 1784L1748 1782L1761 1778L1768 1775L1779 1766L1794 1757L1804 1750L1828 1723L1841 1704L1848 1698L1890 1681L1897 1680L1900 1681L1906 1684L1911 1690L1916 1702L1918 1716L1916 1730L1911 1744L1901 1757L1889 1771L1873 1783L1870 1785L1871 1789L1876 1792L1889 1796L1921 1801L1935 1804L1947 1810L1960 1820L1966 1827L1970 1834L1970 1838L1968 1845L1963 1851L1960 1855L1944 1865M1675 1796L1703 1793L1765 1788L1786 1785L1796 1780L1819 1764L1826 1757L1841 1741L1852 1732L1859 1728L1866 1725L1873 1724L1876 1724L1880 1726L1883 1730L1883 1737L1881 1744L1874 1754L1850 1782L1848 1785L1848 1789L1851 1792L1859 1796L1903 1806L1914 1810L1921 1815L1928 1820L1933 1827L1934 1834L1933 1841L1931 1845L1924 1851L1911 1859L1891 1865M1675 1806L1699 1801L1727 1798L1807 1794L1817 1794L1824 1795L1871 1806L1887 1811L1900 1817L1907 1823L1911 1827L1912 1834L1912 1838L1907 1845L1900 1849L1890 1854L1878 1858L1862 1862L1846 1865M1702 1865L1675 1860M1675 1815L1699 1808L1734 1803L1772 1802L1810 1802L1828 1804L1845 1808L1862 1812L1873 1816L1882 1820L1887 1824L1890 1827L1892 1831L1892 1834L1891 1838L1889 1841L1885 1845L1879 1848L1869 1852L1855 1856L1841 1859L1807 1863L1769 1864L1734 1863L1703 1858L1688 1855L1675 1851M1789 1859L1765 1859L1744 1858L1724 1855L1705 1851L1692 1848L1685 1845L1680 1841L1677 1838L1675 1834L1676 1831L1678 1827L1682 1824L1689 1820L1698 1817L1710 1813L1741 1809L1776 1807L1810 1809L1838 1813L1850 1817L1859 1820L1866 1824L1869 1827L1872 1831L1872 1834L1871 1838L1867 1841L1862 1845L1854 1848L1843 1851L1826 1855L1807 1857L1789 1859M1803 1852L1786 1853L1765 1853L1744 1852L1727 1849L1710 1845L1703 1841L1699 1838L1697 1834L1697 1831L1700 1827L1706 1824L1715 1820L1724 1818L1748 1814L1776 1813L1800 1814L1824 1818L1833 1820L1842 1824L1847 1827L1850 1831L1851 1834L1849 1838L1845 1841L1838 1844L1824 1848L1803 1852M1800 1845L1776 1847L1748 1845L1731 1841L1724 1838L1721 1834L1722 1831L1726 1827L1735 1824L1751 1821L1765 1819L1786 1820L1803 1822L1817 1825L1821 1827L1826 1831L1826 1834L1824 1838L1817 1841L1800 1845" fill="none" stroke="#013" stroke-opacity=".42" stroke-width="1" stroke-linejoin="round"/></g>
<path d="M1675.1 1568.4V1865.4H1984.6" fill="none" stroke="#000" stroke-width="2"/>
<path d="M1674.1 1569.4H1983.6V1865.4" fill="none" stroke="#000" stroke-width="1.6"/>
<path d="M1675.1 1865.4v6.5M1722.6 1865.4v6.5M1770 1865.4v6.5M1817.5 1865.4v6.5M1864.9 1865.4v6.5M1912.4 1865.4v6.5M1959.9 1865.4v6.5" stroke="#000" stroke-width="2" fill="none"/>
<path d="M1698.8 1865.4v3.8M1746.3 1865.4v3.8M1793.8 1865.4v3.8M1841.2 1865.4v3.8M1888.7 1865.4v3.8M1936.1 1865.4v3.8M1983.6 1865.4v3.8" stroke="#000" stroke-width="2" fill="none"/>
<path d="M1675.1 1865.4h-6.5M1675.1 1816.1h-6.5M1675.1 1766.7h-6.5M1675.1 1717.4h-6.5M1675.1 1668.1h-6.5M1675.1 1618.7h-6.5M1675.1 1569.4h-6.5" stroke="#000" stroke-width="2" fill="none"/>
<path d="M1675.1 1840.7h-3.8M1675.1 1791.4h-3.8M1675.1 1742.1h-3.8M1675.1 1692.7h-3.8M1675.1 1643.4h-3.8M1675.1 1594.1h-3.8" stroke="#000" stroke-width="2" fill="none"/>
<text x="1675.1" y="1894.9" font-size="25" text-anchor="middle">0</text>
<text x="1722.6" y="1894.9" font-size="25" text-anchor="middle">2</text>
<text x="1770" y="1894.9" font-size="25" text-anchor="middle">4</text>
<text x="1817.5" y="1894.9" font-size="25" text-anchor="middle">6</text>
<text x="1864.9" y="1894.9" font-size="25" text-anchor="middle">8</text>
<text x="1912.4" y="1894.9" font-size="25" text-anchor="middle">10</text>
<text x="1959.9" y="1894.9" font-size="25" text-anchor="middle">12</text>
<text x="1665.3" y="1873.7" font-size="25" text-anchor="end">1.0</text>
<text x="1665.3" y="1824.4" font-size="25" text-anchor="end">1.5</text>
<text x="1665.3" y="1775" font-size="25" text-anchor="end">2.0</text>
<text x="1665.3" y="1725.7" font-size="25" text-anchor="end">2.5</text>
<text x="1665.3" y="1676.4" font-size="25" text-anchor="end">3.0</text>
<text x="1665.3" y="1627" font-size="25" text-anchor="end">3.5</text>
<text x="1665.3" y="1577.7" font-size="25" text-anchor="end">4.0</text>
<text x="1826.3" y="1928.9" font-size="25" text-anchor="middle" fill="#111">k (Å<tspan font-size="15" dy="-11">-1</tspan><tspan dy="11">&#8203;</tspan>)</text>
<text font-size="24.5" text-anchor="middle" fill="#111" transform="translate(1622.6 1718.4) rotate(-90)">R+a (Å)</text>
<text x="1675.3" y="1626.6" font-size="41.5" fill="#fff">CuN</text><text x="1758.4" y="1636.4" font-size="27.4" fill="#fff">4</text><text x="1773.7" y="1626.6" font-size="41.5" fill="#fff">/</text><text x="1785" y="1626.6" font-size="41.5" fill="#fff">CoN</text><text x="1867.8" y="1636.4" font-size="27.4" fill="#fff">4</text><text x="1888.1" y="1623.1" font-size="30" fill="#fff">@</text><text x="1923.9" y="1626.6" font-size="41.5" fill="#fff">NC</text>
<clipPath id="ka"><rect x="125.1" y="11.9" width="523.1" height="421.4"/></clipPath>
<g clip-path="url(#ka)">
<path d="M124.6 403.5C129.6 403.5 146.8 403.4 154.7 403.5C162.6 403.6 167.4 404.4 172.1 404.1C176.7 403.8 179.6 403.4 182.5 401.8C185.4 400.2 187.3 398.4 189.4 394.3C191.5 390.1 193.4 385.6 195.2 376.9C196.9 368.3 198.3 354.8 199.8 342.2C201.4 329.7 203.1 315.2 204.4 301.8C205.8 288.3 205.4 290.6 207.9 261.3C210.4 231.9 216.8 153.1 219.3 125.7C221.8 98.2 221.6 105.2 222.8 96.8C224 88.3 225.1 80.8 226.3 74.8C227.4 68.8 228.6 64.3 229.7 60.9C230.9 57.5 232.1 55.8 233.2 54.5C234.4 53.3 235.7 53.1 236.7 53.4C237.6 53.7 238 54.2 239 56.3C240 58.3 241.3 61.9 242.5 65.5C243.6 69.2 244.8 73.6 245.9 78.2C247.1 82.9 248.1 88.1 249.4 93.3C250.8 98.5 252.5 105 254 109.5C255.6 113.9 257.1 117 258.7 119.9C260.2 122.8 261.7 124.7 263.3 126.8C264.8 128.9 266.4 130.9 267.9 132.6C269.4 134.3 271 136 272.5 137.2C274.1 138.5 275.6 139.5 277.2 140.1C278.7 140.8 280.2 141.3 281.8 141.3C283.3 141.3 285.1 140.8 286.4 140.1C287.8 139.5 288.5 138.9 289.9 137.2C291.2 135.6 293 132.2 294.5 130.3C296.1 128.4 297.6 127.4 299.1 125.7C300.7 123.9 302.2 121.8 303.8 119.9C305.3 118 306.8 115.8 308.4 114.1C309.9 112.4 311.3 111 313 109.5C314.8 107.9 316.9 106.2 318.8 104.8C320.7 103.5 322.7 102.2 324.6 101.4C326.5 100.5 328.4 100 330.4 99.6C332.3 99.3 334.2 99.1 336.2 99.1C338.1 99 339 99 341.9 99.3C344.8 99.6 349.6 100.5 353.5 100.8C357.4 101.1 358.3 100.3 365.1 101.4C371.9 102.4 387 105.8 394.3 107.1C401.5 108.5 403.8 108.8 408.6 109.3C413.3 109.8 418.1 110 422.9 110C427.6 110 432.4 109.6 437.1 109.3C441.9 108.9 446.7 108.2 451.4 107.9C456.2 107.5 461 107.5 465.7 107.1C470.5 106.8 475.2 106.3 480 105.7C484.8 105.1 489.5 104.3 494.3 103.6C499 102.9 503.8 102 508.6 101.4C513.3 100.8 518.1 100.3 522.9 100C527.6 99.7 532.4 99.6 537.1 99.6C541.9 99.6 546.7 99.7 551.4 100C556.2 100.3 561 101 565.7 101.4C570.5 101.9 575.2 102.5 580 102.9C584.8 103.2 589.5 103.5 594.3 103.6C599 103.7 599.5 103.7 608.6 103.6C617.6 103.5 641.9 103 648.6 102.9" fill="none" stroke="#8a22e6" stroke-width="3.2" stroke-linejoin="round" stroke-linecap="butt"/>
<path d="M124.6 403.5C131.6 403 157.4 401.1 166.3 400.1C175.1 399 174.9 398.3 177.8 397.2C180.7 396 182.1 395.5 183.6 393.1C185.2 390.7 186.1 387.3 187.1 382.7C188.1 378.1 188.7 374 189.4 365.4C190.1 356.7 190.6 342.2 191.1 330.7C191.7 319.1 192.3 304.6 192.9 296C193.4 287.3 194 283.4 194.6 278.6C195.2 273.8 195.8 269.1 196.3 267.1C196.9 265 197.3 266.4 198.1 266.5C198.8 266.6 200.2 268.1 201 267.6C201.7 267.1 202 266 202.7 263.6C203.4 261.2 203.4 266.5 205 253.2C206.6 239.8 210.6 202.8 212.4 183.5C214.2 164.2 214.8 148.8 215.9 137.2C216.9 125.7 217.9 119.7 218.7 114.1C219.6 108.5 220.4 105.6 221.1 103.7C221.7 101.8 222.2 102.1 222.8 102.5C223.4 102.9 223.8 103.5 224.5 106C225.3 108.5 226.5 113.9 227.4 117.6C228.4 121.2 229.4 125.6 230.3 128C231.2 130.4 231.9 132 232.6 132C233.4 132 234.1 131 234.9 128C235.8 125 237 118.3 237.8 114.1C238.7 109.9 239.4 105.2 240.1 102.5C240.9 99.8 241.7 97.9 242.5 97.9C243.2 97.9 243.8 99.8 244.8 102.5C245.7 105.2 247.1 110.2 248.2 114.1C249.4 118 250.6 122.2 251.7 125.7C252.9 129.1 254 132.4 255.2 134.9C256.3 137.4 257.7 139.5 258.7 140.7C259.6 142 260 142.4 261 142.4C261.9 142.4 263.3 141.8 264.4 140.7C265.6 139.6 266.6 138.6 267.9 136.1C269.3 133.6 271 129.3 272.5 125.7C274.1 122 275.6 118 277.2 114.1C278.7 110.2 280.2 105.8 281.8 102.5C283.3 99.3 285.1 96.1 286.4 94.4C287.8 92.8 288.7 92.5 289.9 92.7C291 92.9 292.2 94 293.4 95.6C294.5 97.2 295.5 99.6 296.8 102.5C298.2 105.4 299.9 109.9 301.5 112.9C303 116 304.5 118.9 306.1 121C307.6 123.2 309.4 124.8 310.7 125.7C312.1 126.5 312.8 126.5 314.2 126.2C315.5 126 317.3 124.9 318.8 123.9C320.3 123 321.9 121.1 323.4 120.5C325 119.8 326.5 119.9 328.1 119.9C329.6 119.9 331.1 120.8 332.7 120.5C334.2 120.2 335.8 119.1 337.3 118.1C338.9 117.2 340.4 115.5 341.9 114.7C343.5 113.9 345 113.9 346.6 113.5C348.1 113.1 349.6 113 351.2 112.4C352.7 111.7 354.3 110.7 355.8 109.5C357.4 108.2 358.5 106.8 360.4 104.8C362.4 102.9 365.1 100 367.4 97.9C369.7 95.8 372 93.8 374.3 92.1C376.6 90.5 379.1 88.9 381.3 88.1C383.4 87.2 382.5 83.3 387 86.9C391.6 90.6 403.6 105.4 408.6 110C413.6 114.6 414.5 113.1 417.1 114.3C419.8 115.5 421.7 115.5 424.3 117.1C426.9 118.8 430 122.5 432.9 124.3C435.7 126.1 438.6 127.7 441.4 127.9C444.3 128 447.1 127 450 125C452.9 123 455.7 118.6 458.6 115.7C461.4 112.9 464.5 109.5 467.1 107.9C469.8 106.2 471.7 106.2 474.3 105.7C476.9 105.2 480.2 105.5 482.9 105C485.5 104.5 487.9 104.4 490 102.9C492.1 101.3 493.8 98.3 495.7 95.7C497.6 93.1 499.5 89.6 501.4 87.1C503.3 84.6 505.1 82.1 507.1 80.7C509.2 79.3 511.2 78.5 513.6 78.6C516 78.7 518.7 80 521.4 81.4C524.2 82.9 527.4 85 530 87.1C532.6 89.3 534.8 91.4 537.1 94.3C539.5 97.1 541.9 101 544.3 104.3C546.7 107.6 549 111.2 551.4 114.3C553.8 117.4 556.2 120.7 558.6 122.9C561 125 563.8 126.3 565.7 127.1C567.6 128 568.1 128.3 570 127.9C571.9 127.4 574.8 126.1 577.1 124.3C579.5 122.5 581.9 119.8 584.3 117.1C586.7 114.5 589 111 591.4 108.6C593.8 106.2 596.2 104.2 598.6 102.9C601 101.5 602.9 101 605.7 100.7C608.6 100.5 611.7 101.2 615.7 101.4C619.8 101.7 624.5 101.9 630 102.1C635.5 102.4 645.5 102.7 648.6 102.9" fill="none" stroke="#ff2d8e" stroke-width="3.2" stroke-linejoin="round" stroke-linecap="butt"/>
<path d="M124.6 403.5C134.7 402.7 173.6 400.3 184.8 398.3C196 396.4 189.8 395.5 191.7 392C193.6 388.4 195 384.3 196.3 376.9C197.7 369.6 198.9 357.7 199.8 348C200.7 338.4 201.1 327.8 201.5 319.1C202 310.4 202 303.3 202.4 296C202.7 288.6 203 279.3 203.5 275.1C204 271 204.8 272.6 205.4 271.1C205.9 269.6 204.8 281.5 206.8 265.9C208.7 250.3 214.7 200.1 217 177.7C219.3 155.3 219.3 145.9 220.5 131.5C221.6 117 222.9 102.5 224 91C225 79.4 225.9 69.6 226.8 62.1C227.8 54.5 228.8 49.5 229.7 45.9C230.7 42.2 231.5 40.1 232.6 40.1C233.8 40.1 235.4 44.6 236.7 45.9C237.9 47.1 239 47.4 240.1 47.6C241.3 47.8 242.6 46.6 243.6 47C244.7 47.4 245.6 48.2 246.5 49.9C247.4 51.6 248.1 54.1 248.8 57.4C249.6 60.8 250.3 64.9 251.1 70.1C252 75.4 253.1 82.7 254 88.7C255 94.6 256 101.4 256.9 106C257.9 110.6 258.8 113.5 259.8 116.4C260.9 119.3 261.9 121 263.3 123.4C264.6 125.7 266.4 128.4 267.9 130.3C269.4 132.2 270.8 133.7 272.5 134.9C274.3 136.2 276.4 136.9 278.3 137.8C280.2 138.7 282.2 138.9 284.1 140.1C286 141.4 288.1 143.9 289.9 145.3C291.6 146.8 293.2 148.6 294.5 148.8C295.9 149 296.8 148 298 146.5C299.1 144.9 300.3 142.6 301.5 139.5C302.6 136.5 303.8 131.8 304.9 128C306.1 124.1 307 119.7 308.4 116.4C309.7 113.1 311.3 110.3 313 108.3C314.8 106.3 316.9 105.2 318.8 104.3C320.7 103.3 322.7 102.8 324.6 102.5C326.5 102.2 328.4 102.4 330.4 102.5C332.3 102.6 334.2 103.1 336.2 103.1C338.1 103.1 340 102.8 341.9 102.5C343.9 102.2 345.8 102 347.7 101.4C349.6 100.8 351.4 99.8 353.5 99.1C355.6 98.3 358.1 97.2 360.4 96.8C362.8 96.3 361.7 95.4 367.4 96.2C373 97 387.4 99.6 394.3 101.4C401.2 103.3 403.8 105.6 408.6 107.1C413.3 108.7 416.9 110 422.9 110.7C428.8 111.4 437.1 111.3 444.3 111.4C451.4 111.5 458.6 111.7 465.7 111.4C472.9 111.2 481.2 110.7 487.1 110C493.1 109.3 496.7 108.7 501.4 107.1C506.2 105.6 511 102.6 515.7 100.7C520.5 98.8 525.7 96.9 530 95.7C534.3 94.6 537.9 94 541.4 93.9C545 93.7 547.4 94.2 551.4 95C555.5 95.8 561 97.5 565.7 98.6C570.5 99.6 575.2 100.6 580 101.4C584.8 102.3 589.5 102.9 594.3 103.6C599 104.3 603.8 105.4 608.6 105.7C613.3 106.1 616.2 105.8 622.9 105.7C629.5 105.6 644.3 105.1 648.6 105" fill="none" stroke="#22b4f0" stroke-width="3.2" stroke-linejoin="round" stroke-linecap="butt"/>
<path d="M124.6 403.5C131.6 403.1 156.6 401.7 166.3 400.6C175.9 399.6 178.6 398.8 182.5 397.2C186.3 395.5 187.5 394.2 189.4 390.8C191.3 387.4 192.8 383.1 194 376.9C195.3 370.8 196 362.5 196.9 353.8C197.9 345.1 198.8 334.5 199.8 324.9C200.9 315.2 202.1 305.6 203.3 296C204.4 286.3 204.5 285.8 206.8 267.1C209 248.3 214.7 205.1 217 183.5C219.3 161.9 219.3 151.7 220.5 137.2C221.6 122.8 222.8 108.3 224 96.8C225.1 85.2 226.4 75 227.4 67.8C228.5 60.7 229.4 56.8 230.3 54C231.2 51.1 231.9 51 232.6 50.5C233.4 50 234.1 49.5 234.9 51.1C235.8 52.6 237 56.2 237.8 59.7C238.7 63.3 239.3 67.6 240.1 72.5C241 77.3 242.1 84 243 88.7C244 93.3 244.9 96.9 245.9 100.2C247 103.5 248.1 106.3 249.4 108.3C250.8 110.3 252.5 111.8 254 112.4C255.6 112.9 257.3 112.2 258.7 111.8C260 111.4 261 110.4 262.1 110.1C263.3 109.7 264.4 109.3 265.6 109.5C266.8 109.7 267.9 110.2 269.1 111.2C270.2 112.2 271.2 113.3 272.5 115.3C273.9 117.2 275.6 120.1 277.2 122.8C278.7 125.5 280.2 128.7 281.8 131.5C283.3 134.2 284.9 137.3 286.4 139.5C288 141.8 289.5 143.7 291 144.8C292.6 145.8 294.1 146 295.7 145.9C297.2 145.8 298.8 145.4 300.3 144.2C301.8 142.9 303.4 140.9 304.9 138.4C306.5 135.9 307.8 132.4 309.5 129.1C311.3 125.9 313.4 122 315.3 118.7C317.3 115.5 319.2 112.4 321.1 109.5C323 106.6 325 103.6 326.9 101.4C328.8 99.2 330.8 97.4 332.7 96.2C334.6 94.9 336.7 94.3 338.5 93.9C340.2 93.4 341.4 93.2 343.1 93.3C344.8 93.4 346.8 93.8 348.9 94.4C351 95.1 353.1 96.2 355.8 97.3C358.5 98.5 358.7 100.1 365.1 101.4C371.5 102.7 387 104.3 394.3 105C401.5 105.7 403.8 105.1 408.6 105.4C413.3 105.8 418.1 106.4 422.9 107.1C427.6 107.9 432.4 109 437.1 110C441.9 111 446.7 112.4 451.4 112.9C456.2 113.3 461 113.3 465.7 112.9C470.5 112.4 474 111.3 480 110C486 108.7 495.5 106.4 501.4 105C507.4 103.6 511 102.4 515.7 101.4C520.5 100.5 524 99.6 530 99.3C536 98.9 544.3 98.9 551.4 99.3C558.6 99.6 565.7 100.6 572.9 101.4C580 102.3 588.3 103.6 594.3 104.3C600.2 105 603.8 105.7 608.6 105.7C613.3 105.7 616.2 104.8 622.9 104.3C629.5 103.8 644.3 103.1 648.6 102.9" fill="none" stroke="#ffc20a" stroke-width="3.2" stroke-linejoin="round" stroke-linecap="butt"/>
<path d="M124.6 403.5C129.6 403.4 146.8 403 154.7 402.6C162.6 402.2 167.2 401.8 172.1 401.2C176.9 400.6 180.3 400.1 183.6 398.9C186.9 397.8 189.4 396.2 191.7 394.3C194 392.4 196 390.2 197.5 387.3C199 384.5 199.9 382.5 201 376.9C202 371.3 203 361.5 203.9 353.8C204.7 346.1 205.4 339.3 206.2 330.7C206.9 322 207.7 311.4 208.5 301.8C209.3 292.1 209.3 292.5 211 272.8C212.7 253.1 216.8 208 218.7 183.5C220.7 159 221.5 143 222.8 125.7C224.1 108.3 225.1 92.9 226.3 79.4C227.4 65.9 228.7 53 229.7 44.7C230.8 36.4 231.8 32.9 232.6 29.7C233.5 26.4 234.2 25.1 234.9 25C235.7 24.9 236.4 26.2 237.3 29.1C238.1 32 239.2 36.9 240.1 42.4C241.1 47.9 242.1 55.5 243 62.1C244 68.6 244.9 75.2 245.9 81.7C247 88.3 248.2 96.2 249.4 101.4C250.6 106.6 251.7 110.1 252.9 112.9C254 115.7 255.2 117.3 256.3 118.1C257.5 119 258.7 118.4 259.8 118.1C261 117.9 262.1 116.7 263.3 116.4C264.4 116.1 265.6 116.1 266.8 116.4C267.9 116.7 269.1 117.2 270.2 118.1C271.4 119.1 272.3 120.2 273.7 122.2C275 124.2 276.8 127.2 278.3 130.3C279.9 133.4 281.4 137.4 282.9 140.7C284.5 144 286.2 147.5 287.6 150C288.9 152.4 289.8 154 291 155.2C292.3 156.3 293.7 156.9 295.1 156.9C296.4 156.9 297.9 156.1 299.1 155.2C300.4 154.2 301.3 153.1 302.6 151.1C304 149.1 305.5 146.5 307.2 143C309 139.5 311.1 134.5 313 130.3C314.9 126.1 316.9 121.6 318.8 117.6C320.7 113.5 322.7 109.5 324.6 106C326.5 102.5 328.4 99.4 330.4 96.8C332.3 94.1 334.2 92 336.2 90.4C338.1 88.8 340.2 87.6 341.9 86.9C343.7 86.2 345 86.2 346.6 86.3C348.1 86.4 349.3 86.6 351.2 87.5C353.1 88.4 355.8 90.1 358.1 91.5C360.4 93 359 93.1 365.1 96.2C371.1 99.2 385.8 107.2 394.3 110C402.7 112.8 408.6 112.3 415.7 112.9C422.9 113.5 430 113.6 437.1 113.6C444.3 113.6 451.4 113.3 458.6 112.9C465.7 112.4 474 111.7 480 110.7C486 109.8 490 108.6 494.3 107.1C498.6 105.7 502.1 103.6 505.7 102.1C509.3 100.7 511.7 99.4 515.7 98.6C519.8 97.7 525.2 97.4 530 97.1C534.8 96.9 539.5 97 544.3 97.1C549 97.3 553.8 97.7 558.6 98.3C563.3 98.9 568.1 99.7 572.9 100.7C577.6 101.7 582.4 103.1 587.1 104.3C591.9 105.5 597.9 107.1 601.4 107.9C605 108.6 606 108.9 608.6 108.9C611.2 108.9 614.3 108.4 617.1 107.9C620 107.3 622.4 106.3 625.7 105.7C629 105.1 633.3 104.6 637.1 104.3C641 103.9 646.7 103.7 648.6 103.6" fill="none" stroke="#0cba55" stroke-width="3.2" stroke-linejoin="round" stroke-linecap="butt"/>
</g>
<rect x="320.5" y="153.4" width="313.4" height="230.4" fill="#fff" stroke="none"/>
<clipPath id="kai"><rect x="320.5" y="153.4" width="313.4" height="230.4"/></clipPath>
<g clip-path="url(#kai)">
<path d="M320.5 368C323.3 368 348.6 367.5 353.6 367.1C358.6 366.8 376.6 364.7 380.4 364.1C384.1 363.5 395.7 360.4 398.2 359.6C400.7 358.9 408.6 356.1 410.7 355.2C412.8 354.3 421.1 350.2 423.2 348.9C425.3 347.7 433.6 341.6 435.7 340C437.8 338.4 446.1 332.1 448.2 330.2C450.3 328.2 458.6 319 460.7 316.8C462.8 314.6 471.1 305.9 473.2 303.4C475.3 300.9 483.6 289.3 485.7 286.4C487.8 283.6 496.1 272.2 498.2 269.5C500.3 266.7 508.6 256.1 510.7 253.4C512.8 250.6 521.1 239.1 523.2 236.4C525.3 233.8 533.6 223.6 535.7 221.2C537.8 218.9 546.4 210.4 548.2 208.8C550 207.1 555.5 202.9 557.1 201.6C558.8 200.3 565.9 194 567.9 192.7C569.8 191.3 578.3 186.6 580.4 185.5C582.4 184.5 590.8 180.9 592.9 180.2C594.9 179.5 603.1 177.3 605.4 177C607.6 176.6 617.3 176.2 619.6 176.2C622 176.3 632.7 177.4 633.9 177.5" fill="none" stroke="#8a22e6" stroke-width="1.8" stroke-linejoin="round" stroke-linecap="butt"/>
<path d="M320.5 365.9C323.3 365.7 349.6 364.4 353.6 364.1C357.5 363.8 365.6 362.7 367.9 362.3C370.1 361.9 378.3 360.3 380.4 359.3C382.4 358.3 390.8 353.1 392.9 350.7C394.9 348.4 403.3 335 405.4 331.1C407.4 327.1 415.8 306.6 417.9 303.4C419.9 300.2 428.3 293.5 430.4 292.7C432.4 291.9 440.8 293.5 442.9 293.6C444.9 293.6 453.3 293.6 455.4 293C457.4 292.5 465.8 288.4 467.9 287.3C469.9 286.2 478.1 281.6 480.4 280.2C482.6 278.8 492.3 272.4 494.6 270.4C497 268.3 506.5 258.8 508.9 256.1C511.3 253.4 521.3 240.7 523.2 238.2C525.1 235.7 530.4 227.9 532.1 225.7C533.9 223.5 542.6 213.2 544.6 211.4C546.7 209.6 555.2 204.8 557.1 204.3C559.1 203.8 565.9 204.7 567.9 205.2C569.8 205.7 578.3 209.6 580.4 210.5C582.4 211.4 590.8 215.2 592.9 215.9C594.9 216.6 603.1 218.5 605.4 218.6C607.6 218.6 617.3 217.5 619.6 216.8C622 216 632.7 210.2 633.9 209.6" fill="none" stroke="#ff2d8e" stroke-width="1.8" stroke-linejoin="round" stroke-linecap="butt"/>
<path d="M320.5 366.8C325.5 366.6 372.4 364.6 380.4 364.1C388.3 363.6 411.9 361.2 416.1 360.5C420.2 359.9 428.1 357.4 430.4 356.1C432.6 354.7 441.1 346.8 442.9 344.5C444.6 342.1 450.3 330.4 451.8 327.5C453.3 324.6 459.4 312.2 460.7 309.6C462.1 307.1 466.2 298 467.9 296.8C469.5 295.6 478.9 294.9 480.4 295C481.8 295.1 484.7 297.6 485.7 298C486.8 298.5 491.2 301.4 492.9 300.7C494.5 300 503.6 292.2 505.4 290C507.1 287.8 512.4 277.6 514.3 273.9C516.2 270.2 526.2 249.2 528.6 245.4C531 241.5 540.8 229.7 542.9 227.5C544.9 225.3 551.5 220.7 553.6 218.6C555.7 216.5 565.6 205.3 567.9 202.5C570.1 199.7 578.3 187.2 580.4 184.6C582.4 182.1 590.8 173.5 592.9 172.1C594.9 170.8 603.1 168.4 605.4 168.2C607.6 168.1 617.3 169.9 619.6 170.4C622 170.9 632.7 174 633.9 174.3" fill="none" stroke="#22b4f0" stroke-width="1.8" stroke-linejoin="round" stroke-linecap="butt"/>
<path d="M320.5 366.4C325.5 366.2 373.9 364.1 380.4 363.6C386.8 363.1 395.7 361.2 398.2 360.5C400.7 359.8 408.6 356.2 410.7 355.2C412.8 354.1 421.4 349.4 423.2 348C425 346.7 430.5 340.8 432.1 339.1C433.8 337.4 440.9 329.4 442.9 327.5C444.8 325.6 453.3 317.5 455.4 315.9C457.4 314.3 465.8 309.3 467.9 307.9C469.9 306.4 478.3 300.6 480.4 298.9C482.4 297.2 490.8 289 492.9 287.3C494.9 285.6 503.4 280 505.4 278.4C507.3 276.8 514.1 270.6 516.1 268.6C518 266.6 526.5 257.1 528.6 254.3C530.7 251.5 539 237.5 541.1 234.6C543.2 231.7 551.3 222.3 553.6 219.5C555.8 216.6 565.6 203.4 567.9 200.7C570.1 198 578.3 189.2 580.4 187.3C582.4 185.5 590.8 179.5 592.9 178.4C594.9 177.3 603.1 174.8 605.4 174.5C607.6 174.2 617.3 174.2 619.6 174.8C622 175.4 632.7 180.9 633.9 181.4" fill="none" stroke="#ffc20a" stroke-width="1.8" stroke-linejoin="round" stroke-linecap="butt"/>
<path d="M320.5 366.8C325.5 366.6 372.4 365.1 380.4 364.6C388.3 364.2 411.9 361.9 416.1 361.4C420.2 360.9 428.1 359.4 430.4 358.8C432.6 358.1 440.8 354.6 442.9 353.4C444.9 352.2 453.3 346.2 455.4 344.5C457.4 342.7 465.8 334.5 467.9 332C469.9 329.4 478.3 316.7 480.4 314.1C482.4 311.5 490.8 302.6 492.9 300.7C494.9 298.9 503.3 293.3 505.4 291.8C507.4 290.3 515.8 285.1 517.9 282.9C519.9 280.6 528.3 268.3 530.4 265C532.4 261.7 540.8 247 542.9 243.6C544.9 240.1 553.3 227.2 555.4 223.9C557.4 220.7 565.8 207.4 567.9 204.3C569.9 201.2 578.3 189 580.4 186.4C582.4 183.8 590.8 174.9 592.9 173C594.9 171.2 603.2 165.2 605.4 164.1C607.5 163 616.4 160.2 618.8 160.2C621.1 160.2 632.7 163.8 633.9 164.1" fill="none" stroke="#0cba55" stroke-width="1.8" stroke-linejoin="round" stroke-linecap="butt"/>
</g>
<rect x="320.5" y="153.4" width="313.4" height="230.4" fill="none" stroke="#222" stroke-width="1.8"/>
<path d="M341.1 383.8v5M425 383.8v5M509 383.8v5M592.9 383.8v5" stroke="#000" stroke-width="1.6" fill="none"/>
<path d="M383.1 383.8v3M467 383.8v3M550.9 383.8v3M634.9 383.8v3" stroke="#000" stroke-width="1.6" fill="none"/>
<path d="M320.5 368h-5M320.5 334.9h-5M320.5 301.9h-5M320.5 268.8h-5M320.5 235.7h-5M320.5 202.7h-5M320.5 169.6h-5" stroke="#000" stroke-width="1.6" fill="none"/>
<path d="M320.5 351.5h-3M320.5 318.4h-3M320.5 285.4h-3M320.5 252.3h-3M320.5 219.2h-3M320.5 186.2h-3" stroke="#000" stroke-width="1.6" fill="none"/>
<text x="341.6" y="406.4" font-size="19" text-anchor="middle" fill="#222">8976</text>
<text x="425.5" y="406.4" font-size="19" text-anchor="middle" fill="#222">8984</text>
<text x="509.5" y="406.4" font-size="19" text-anchor="middle" fill="#222">8992</text>
<text x="593.4" y="406.4" font-size="19" text-anchor="middle" fill="#222">9000</text>
<text x="313" y="374.3" font-size="18.2" text-anchor="end" fill="#222">0.0</text>
<text x="313" y="341.2" font-size="18.2" text-anchor="end" fill="#222">0.2</text>
<text x="313" y="308.2" font-size="18.2" text-anchor="end" fill="#222">0.4</text>
<text x="313" y="275.1" font-size="18.2" text-anchor="end" fill="#222">0.6</text>
<text x="313" y="242" font-size="18.2" text-anchor="end" fill="#222">0.8</text>
<text x="313" y="209" font-size="18.2" text-anchor="end" fill="#222">1.0</text>
<text x="313" y="175.9" font-size="18.2" text-anchor="end" fill="#222">1.2</text>
<text x="477.7" y="423" font-size="18.5" text-anchor="middle" fill="#222">Energy (eV)</text>
<text font-size="18.5" text-anchor="middle" fill="#222" transform="translate(281 268) rotate(-90)">Intensity (a.u.)</text>
<path d="M332.1 177.5H358" stroke="#8a22e6" stroke-width="1.8" fill="none"/>
<text x="363.4" y="181.4" font-size="20.4" fill="#222">CuN<tspan font-size="12" dy="4">4</tspan><tspan dy="-4">&#8203;</tspan>/CoN<tspan font-size="12" dy="4">4</tspan><tspan dy="-4">&#8203;</tspan>@NC</text>
<path d="M332.1 208.8H358" stroke="#ff2d8e" stroke-width="1.8" fill="none"/>
<text x="363.4" y="212.9" font-size="20.4" fill="#222">Cu foil</text>
<path d="M332.1 234.6H358" stroke="#22b4f0" stroke-width="1.8" fill="none"/>
<text x="363.4" y="238.2" font-size="20.4" fill="#222">Cu-ZIF-8</text>
<path d="M332.1 260.5H358" stroke="#ffc20a" stroke-width="1.8" fill="none"/>
<text x="363.4" y="264.1" font-size="20.4" fill="#222">Cu<tspan font-size="12" dy="4">2</tspan><tspan dy="-4">&#8203;</tspan>O</text>
<path d="M332.1 292.3H358" stroke="#0cba55" stroke-width="1.8" fill="none"/>
<text x="363.4" y="295.7" font-size="20.4" fill="#222">CuO</text>
<clipPath id="kb"><rect x="791.8" y="11.8" width="523.7" height="420.2"/></clipPath>
<g clip-path="url(#kb)">
<path d="M791.9 377.4C793 377.6 796.5 378.8 798.8 378.8C801.1 378.8 803.4 377.9 805.7 377.4C808 376.8 810 375.8 812.6 375.3C815.1 374.8 818.3 374.3 820.8 374.6C823.3 375 825.6 376.8 827.7 377.4C829.8 377.9 831.1 378.9 833.2 378.1C835.3 377.3 837.8 374.4 840.1 372.6C842.4 370.7 844.7 368.6 847 367C849.3 365.4 851.8 364.3 853.9 362.9C855.9 361.5 857.6 360.2 859.4 358.8C861.2 357.4 863.1 356.5 864.9 354.6C866.7 352.8 868.3 350.5 870.4 347.8C872.5 345 875 340.9 877.3 338.1C879.6 335.4 882.1 332.5 884.2 331.2C886.2 330 887.9 330.9 889.7 330.5C891.5 330.2 893.4 330.9 895.2 329.2C897 327.4 898.9 324.5 900.7 320.2C902.6 316 904.4 309.2 906.2 303.7C908.1 298.2 909.9 292 911.7 287.1C913.6 282.3 915.2 277.6 917.2 274.7C919.3 271.9 922.1 269.9 924.1 269.9C926.2 269.9 927.8 271 929.6 274.7C931.5 278.5 933.3 285.5 935.2 292.7C937 299.8 938.8 308.7 940.7 317.4C942.5 326.2 944.3 336.5 946.2 345C948 353.5 949.8 361.8 951.7 368.4C953.5 375.1 955.7 381.3 957.2 384.9C958.7 388.6 959.5 390.7 960.6 390.5C961.8 390.2 962.6 385.4 964.1 383.6C965.6 381.7 967.8 379.7 969.6 379.4C971.4 379.2 973.3 381 975.1 382.2C976.9 383.3 979.2 385.6 980.6 386.3C982 387 982.2 387.2 983.4 386.3C984.5 385.4 985.9 383.8 987.5 380.8C989.1 377.8 990.9 372.8 993 368.4C995.1 364.1 997.4 358.8 999.9 354.6C1002.4 350.5 1005.4 346.1 1008.2 343.6C1010.9 341.1 1013.9 339.7 1016.4 339.5C1019 339.3 1021 340.2 1023.3 342.2C1025.6 344.3 1027.9 348.2 1030.2 351.9C1032.5 355.6 1033 362 1037.1 364.3C1041.2 366.6 1051.1 365.8 1055 365.7C1058.9 365.6 1058.6 363.9 1060.7 363.6C1062.9 363.2 1065.5 363.5 1067.9 363.6C1070.2 363.7 1072.6 363.8 1075 364.3C1077.4 364.8 1079.8 365.7 1082.1 366.4C1084.5 367.1 1086.9 368.3 1089.3 368.6C1091.7 368.8 1094 368.5 1096.4 367.9C1098.8 367.3 1101.2 366.1 1103.6 365C1106 363.9 1108.3 362.3 1110.7 361.4C1113.1 360.6 1115.7 359.9 1117.9 360C1120 360.1 1121.7 360.7 1123.6 362.1C1125.5 363.6 1127.4 366.1 1129.3 368.6C1131.2 371.1 1133.1 374.3 1135 377.1C1136.9 380 1139 383.5 1140.7 385.7C1142.4 387.9 1143.8 389.4 1145 390.3C1146.2 391.2 1146.7 391.4 1147.9 391.1C1149 390.9 1150.5 389.4 1152.1 388.6C1153.8 387.8 1156 386.8 1157.9 386.4C1159.8 386.1 1161.9 386.1 1163.6 386.4C1165.2 386.8 1166.4 388 1167.9 388.6C1169.3 389.1 1170.7 390 1172.1 389.7C1173.6 389.5 1174.8 388.6 1176.4 387.1C1178.1 385.6 1180.2 382.4 1182.1 380.7C1184 379 1185.7 377.9 1187.9 377.1C1190 376.4 1192.6 376.1 1195 376C1197.4 375.9 1199.8 376.2 1202.1 376.4C1204.5 376.7 1206.9 377.4 1209.3 377.4C1211.7 377.5 1214 377.1 1216.4 376.9C1218.8 376.6 1221.4 375.8 1223.6 376C1225.7 376.2 1227.4 376.8 1229.3 377.9C1231.2 378.9 1233.1 380.6 1235 382.1C1236.9 383.7 1239 386 1240.7 387.1C1242.4 388.3 1243.6 388.9 1245 389.3C1246.4 389.7 1247.6 390.1 1249.3 389.7C1251 389.4 1253.1 388.1 1255 387.1C1256.9 386.2 1258.8 384.8 1260.7 384C1262.6 383.2 1264.3 382.3 1266.4 382.1C1268.6 382 1271.2 382.4 1273.6 382.9C1276 383.3 1278.3 384.3 1280.7 385C1283.1 385.7 1285.5 386.5 1287.9 386.9C1290.2 387.2 1292.6 387.1 1295 386.9C1297.4 386.6 1299.8 385.9 1302.1 385.4C1304.5 385 1307.1 384.3 1309.3 384C1311.4 383.7 1314 383.6 1315 383.6" fill="none" stroke="#22b4f0" stroke-width="3" stroke-linejoin="round" stroke-linecap="butt"/>
<path d="M791.9 389.1C793.7 389.3 799.5 390.5 802.9 390.5C806.4 390.5 809.1 389.1 812.6 389.1C816 389.1 819.4 390.5 823.6 390.5C827.7 390.5 832.8 389.2 837.3 389.1C841.9 389 846.5 390 851.1 389.8C855.7 389.5 859.8 388.2 864.9 387.7C869.9 387.2 875.9 387.2 881.4 387C886.9 386.8 893.4 386.8 898 386.3C902.6 385.9 905.8 384.9 909 384.3C912.2 383.6 914.7 382.7 917.2 382.2C919.8 381.7 921.8 382.2 924.1 381.5C926.4 380.8 928.7 380 931 378.1C933.3 376.1 935.6 372.6 937.9 369.8C940.2 367 942.7 364.1 944.8 361.5C946.9 359 948.5 357.4 950.3 354.6C952.1 351.9 954 349.4 955.8 345C957.7 340.6 959.5 336 961.3 328.5C963.2 320.9 965 309 966.8 299.5C968.7 290.1 970.5 280 972.3 272C974.2 264 976 256.7 977.9 251.3C979.7 245.9 981.6 242.1 983.4 239.6C985.1 237.1 986.6 236.1 988.2 236.2C989.8 236.3 991.3 237.1 993 240.3C994.7 243.5 996.7 249 998.5 255.5C1000.4 261.9 1002.2 270.4 1004 278.9C1005.9 287.4 1007.7 297.2 1009.5 306.4C1011.4 315.6 1013.2 325.9 1015.1 334C1016.9 342 1018.7 349.1 1020.6 354.6C1022.4 360.2 1024 363.4 1026.1 367C1028.1 370.7 1030.7 374.2 1033 376.7C1035.3 379.2 1035.9 381.3 1039.8 382.2C1043.8 383.1 1052.7 383 1056.4 382.1C1060.1 381.3 1060 378.9 1062.1 377.1C1064.3 375.4 1066.9 373.1 1069.3 371.4C1071.7 369.8 1074 368.2 1076.4 367.1C1078.8 366.1 1081.2 365.5 1083.6 365C1086 364.5 1088.1 364.3 1090.7 364.3C1093.3 364.3 1096.4 364.5 1099.3 365C1102.1 365.5 1105 366.5 1107.9 367.1C1110.7 367.7 1113.6 368.3 1116.4 368.6C1119.3 368.8 1122.6 369.3 1125 368.6C1127.4 367.9 1128.8 366.7 1130.7 364.3C1132.6 361.9 1134.5 357.4 1136.4 354.3C1138.3 351.2 1140.2 348.1 1142.1 345.7C1144 343.3 1146 341.4 1147.9 340C1149.8 338.6 1151.9 337.9 1153.6 337.4C1155.2 337 1156.2 336.8 1157.9 337.1C1159.5 337.5 1161.7 338.1 1163.6 339.3C1165.5 340.5 1167.4 342.6 1169.3 344.3C1171.2 346 1173.1 348 1175 349.3C1176.9 350.6 1178.6 351.4 1180.7 352.1C1182.9 352.9 1185.2 353.3 1187.9 353.6C1190.5 353.9 1193.6 353.9 1196.4 354C1199.3 354.1 1202.1 354 1205 354C1207.9 354 1211 353.9 1213.6 354.3C1216.2 354.7 1218.3 355.4 1220.7 356.4C1223.1 357.5 1225.5 359.3 1227.9 360.7C1230.2 362.1 1232.6 363.7 1235 365C1237.4 366.3 1239.8 367.5 1242.1 368.6C1244.5 369.6 1246.7 370.4 1249.3 371.4C1251.9 372.5 1255 373.7 1257.9 375C1260.7 376.3 1263.6 377.9 1266.4 379.3C1269.3 380.7 1272.1 382.4 1275 383.6C1277.9 384.8 1280.5 385.6 1283.6 386.4C1286.7 387.3 1290 388.1 1293.6 388.6C1297.1 389 1301.4 389.2 1305 389.3C1308.6 389.3 1313.3 388.9 1315 388.9" fill="none" stroke="#ff2d8e" stroke-width="3" stroke-linejoin="round" stroke-linecap="butt"/>
<path d="M791.9 387C793.5 386.7 798.8 385.8 801.5 384.9C804.3 384.1 805.9 382 808.4 382.2C810.9 382.4 814.2 385.4 816.7 386.3C819.2 387.2 821 388.2 823.6 387.7C826.1 387.2 829.1 384.6 831.8 383.6C834.6 382.5 837.6 381.3 840.1 381.5C842.6 381.7 844.9 383.6 847 384.9C849.1 386.3 850.9 389.1 852.5 389.8C854.1 390.5 855 390.3 856.6 389.1C858.2 387.8 860.3 384.9 862.1 382.2C864 379.4 865.8 376.2 867.7 372.6C869.5 368.9 871.3 365.2 873.2 360.2C875 355.1 877.1 347.8 878.7 342.2C880.3 336.7 881.4 333.1 882.8 327.1C884.2 321.1 885.6 314.5 886.9 306.4C888.3 298.4 887.5 296.8 891.1 278.9C894.7 261 904.8 215.5 908.6 199.2C912.3 182.8 911.8 185 913.5 180.8C915.1 176.6 916.7 174.1 918.4 174.1C920 174.1 921.6 176.6 923.3 180.8C924.9 185 926.5 192 928.2 199.2C929.8 206.3 930.1 204.7 933.1 223.7C936.1 242.7 943.1 292.6 946.2 313.3C949.3 334 949.8 337.4 951.7 347.8C953.5 358.1 955.6 368.6 957.2 375.3C958.8 382 959.9 386.3 961.3 387.7C962.7 389.1 963.9 385.1 965.5 383.6C967.1 382.1 969.1 380.1 971 378.8C972.8 377.4 974.9 378.2 976.5 375.3C978.1 372.4 979 368.4 980.6 361.5C982.2 354.6 984.1 343.2 986.1 334C988.2 324.8 990.7 314.2 993 306.4C995.3 298.6 997.6 292 999.9 287.1C1002.2 282.3 1004.7 279.5 1006.8 277.5C1008.9 275.5 1010.2 275.2 1012.3 275.4C1014.4 275.7 1016.9 276 1019.2 278.9C1021.5 281.7 1023.8 287.6 1026.1 292.7C1028.4 297.7 1030.7 303.4 1033 309.2C1035.3 314.9 1036.4 318.9 1039.8 327.1C1043.3 335.3 1050.3 351.9 1053.6 358.6C1056.8 365.2 1057.4 365.4 1059.3 367.1C1061.2 368.9 1063.1 369.3 1065 369.3C1066.9 369.3 1068.8 368.2 1070.7 367.1C1072.6 366.1 1074.3 364.2 1076.4 362.9C1078.6 361.5 1081.4 360 1083.6 359.3C1085.7 358.6 1087.1 358.5 1089.3 358.6C1091.4 358.7 1094 359.3 1096.4 360C1098.8 360.7 1101.2 361.9 1103.6 362.9C1106 363.8 1108.1 364.5 1110.7 365.7C1113.3 366.9 1116.4 368.7 1119.3 370C1122.1 371.3 1125 372.9 1127.9 373.6C1130.7 374.3 1133.6 374.5 1136.4 374.3C1139.3 374 1142.1 373 1145 372.1C1147.9 371.3 1150.7 370.1 1153.6 369.3C1156.4 368.5 1159.3 367.6 1162.1 367.1C1165 366.7 1167.9 366.4 1170.7 366.4C1173.6 366.4 1176.4 366.7 1179.3 367.1C1182.1 367.6 1185 368.6 1187.9 369.3C1190.7 370 1193.6 370.8 1196.4 371.4C1199.3 372 1202.1 372.6 1205 372.9C1207.9 373.1 1210.7 373.1 1213.6 372.9C1216.4 372.6 1219.3 372.1 1222.1 371.4C1225 370.7 1227.9 369.8 1230.7 368.6C1233.6 367.4 1236.4 366 1239.3 364.3C1242.1 362.6 1245 360.4 1247.9 358.6C1250.7 356.8 1253.6 354.8 1256.4 353.6C1259.3 352.4 1262.1 351.9 1265 351.4C1267.9 351 1270.7 350.6 1273.6 350.7C1276.4 350.8 1279.3 351.3 1282.1 352.1C1285 353 1287.9 354.4 1290.7 355.7C1293.6 357 1296.4 358.3 1299.3 360C1302.1 361.7 1305.2 364.3 1307.9 365.7C1310.5 367.1 1313.8 368.1 1315 368.6" fill="none" stroke="#ffc20a" stroke-width="3" stroke-linejoin="round" stroke-linecap="butt"/>
<path d="M791.9 380.8C793 380.5 796 379.7 798.8 378.8C801.5 377.8 805.7 375.5 808.4 375.3C811.2 375.1 813 376.8 815.3 377.4C817.6 377.9 819.9 379.6 822.2 378.8C824.5 377.9 826.8 374.6 829.1 372.6C831.4 370.5 833.9 367.6 836 366.4C838 365.1 839.6 365 841.5 365C843.3 365 845.2 366.5 847 366.4C848.8 366.2 850.7 365.5 852.5 364.3C854.3 363 856.2 361.3 858 358.8C859.8 356.2 861.9 351.7 863.5 349.1C865.1 346.6 866.3 344.8 867.7 343.6C869 342.5 870.4 342 871.8 342.2C873.2 342.5 874.5 343.9 875.9 345C877.3 346.1 878.9 348.3 880.1 349.1C881.2 349.9 881.8 351 882.8 349.8C883.8 348.7 885.1 347.2 886.2 342.2C887.4 337.3 888.4 330.8 889.7 320.2C891 309.6 891.7 303.1 893.8 278.9C896 254.6 900.4 198.2 902.4 174.7C904.5 151.2 904.9 149 906.1 138C907.3 126.9 908.6 117.1 909.8 108.6C911 100 912.2 92.7 913.5 86.5C914.7 80.4 915.9 75.2 917.1 71.8C918.4 68.5 919.6 66.3 920.8 66.3C922 66.3 923.3 68.5 924.5 71.8C925.7 75.2 926.9 79.6 928.2 86.5C929.4 93.5 930.6 103.9 931.8 113.5C933.1 123.1 934.3 132.9 935.5 144.1C936.7 155.3 938 168.6 939.2 180.8C940.4 193.1 940.3 192 942.9 217.6C945.4 243.1 951.8 310 954.4 334C957.1 358 957.2 354.9 958.6 361.5C959.9 368.2 961.6 371.5 962.7 373.9C963.9 376.3 964.3 376.7 965.5 376C966.6 375.3 968 374 969.6 369.8C971.2 365.5 973 358.8 975.1 350.5C977.2 342.2 979.7 329.8 982 320.2C984.3 310.6 986.6 300.7 988.9 292.7C991.2 284.6 993.5 276.8 995.8 272C998.1 267.2 1000.5 265.4 1002.7 263.7C1004.8 262 1006.8 261 1008.9 261.7C1010.9 262.3 1013.1 264.1 1015.1 267.9C1017 271.6 1018.7 278 1020.6 284.4C1022.4 290.8 1024.2 299.1 1026.1 306.4C1027.9 313.8 1029.7 322.3 1031.6 328.5C1033.4 334.7 1035.3 339.5 1037.1 343.6C1038.9 347.8 1039.1 349.9 1042.6 353.3C1046.1 356.6 1054.4 362.4 1057.9 363.6C1061.4 364.7 1061.7 362.3 1063.6 360C1065.5 357.7 1067.4 353.6 1069.3 350C1071.2 346.4 1073.1 341.5 1075 338.6C1076.9 335.6 1078.9 333.5 1080.7 332.1C1082.5 330.8 1084 330.4 1085.7 330.7C1087.4 331.1 1088.9 332 1090.7 334.3C1092.5 336.5 1094.5 340.7 1096.4 344.3C1098.3 347.9 1100.2 352.1 1102.1 355.7C1104 359.3 1106 362.6 1107.9 365.7C1109.8 368.8 1111.4 371.2 1113.6 374.3C1115.7 377.4 1118.3 381.6 1120.7 384.3C1123.1 387 1125.8 389.1 1127.9 390.3C1129.9 391.5 1131.2 391.7 1132.9 391.4C1134.5 391.1 1135.8 390.4 1137.9 388.6C1139.9 386.8 1142.4 382.7 1145 380.7C1147.6 378.7 1150.5 377.7 1153.6 376.4C1156.7 375.1 1160.2 373.9 1163.6 372.9C1166.9 371.8 1170 371.1 1173.6 370C1177.1 368.9 1181.4 367.7 1185 366.4C1188.6 365.1 1191.7 363.7 1195 362.1C1198.3 360.6 1201.9 358.9 1205 357.1C1208.1 355.4 1210.7 353.8 1213.6 351.4C1216.4 349 1219.3 345.7 1222.1 342.9C1225 340 1227.9 337.1 1230.7 334.3C1233.6 331.4 1236.4 328.3 1239.3 325.7C1242.1 323.1 1245 320.7 1247.9 318.6C1250.7 316.4 1253.8 314.3 1256.4 312.9C1259 311.4 1261.4 310.6 1263.6 310C1265.7 309.4 1267.1 308.9 1269.3 309C1271.4 309.1 1274 309.4 1276.4 310.7C1278.8 312.1 1281.2 314.2 1283.6 317.1C1286 320.1 1288.3 324.5 1290.7 328.6C1293.1 332.6 1295.5 337.1 1297.9 341.4C1300.2 345.7 1302.9 350.7 1305 354.3C1307.1 357.9 1309 360.7 1310.7 362.9C1312.4 365 1314.3 366.4 1315 367.1" fill="none" stroke="#0cba55" stroke-width="3" stroke-linejoin="round" stroke-linecap="butt"/>
<path d="M791.9 383.8C793.5 383.8 798.8 383.3 801.5 383.6C804.3 383.9 806.1 384.8 808.4 385.6C810.7 386.4 813 389 815.3 388.4C817.6 387.8 819.9 384.6 822.2 382.2C824.5 379.8 826.8 376 829.1 373.9C831.4 371.9 833.9 370.4 836 369.8C838 369.2 839.6 370 841.5 370.5C843.3 370.9 845.2 372.6 847 372.6C848.8 372.6 850.9 372.3 852.5 370.5C854.1 368.6 855 365.3 856.6 361.5C858.2 357.7 860.3 352.3 862.1 347.8C864 343.2 865.8 337.9 867.7 334C869.5 330.1 871.3 326.6 873.2 324.3C875 322 876.8 321.1 878.7 320.2C880.5 319.3 882.3 319.3 884.2 318.8C886 318.4 887.9 319.3 889.7 317.4C891.5 315.6 893.4 312.9 895.2 307.8C897 302.8 898.9 294.3 900.7 287.1C902.6 280 904.4 272 906.2 265.1C908.1 258.2 909.9 251.3 911.7 245.8C913.6 240.3 915.4 235.3 917.2 232C919.1 228.8 920.9 226.5 922.8 226.5C924.6 226.5 926.4 227.9 928.3 232C930.1 236.2 931.9 243.5 933.8 251.3C935.6 259.1 937.4 269.2 939.3 278.9C941.1 288.5 943 298.9 944.8 309.2C946.6 319.5 948.5 331 950.3 340.9C952.1 350.7 954.2 361.1 955.8 368.4C957.4 375.8 958.8 381.5 959.9 384.9C961.1 388.4 961.8 389.3 962.7 389.1C963.6 388.9 964.3 385.9 965.5 383.6C966.6 381.3 968 376.9 969.6 375.3C971.2 373.7 973.3 373.9 975.1 373.9C976.9 373.9 978.8 374.8 980.6 375.3C982.4 375.8 984.3 376.9 986.1 376.7C988 376.5 989.8 375.8 991.6 373.9C993.5 372.1 995.3 368.2 997.1 365.7C999 363.1 1000.8 360.6 1002.7 358.8C1004.5 356.9 1006.1 355.6 1008.2 354.6C1010.2 353.7 1013 353.2 1015.1 353.3C1017.1 353.4 1018.7 354 1020.6 355.3C1022.4 356.7 1024 358.9 1026.1 361.5C1028.1 364.2 1030.7 368.2 1033 371.2C1035.3 374.2 1038 377.7 1039.8 379.4C1041.7 381.2 1040.7 384.5 1044 381.5C1047.2 378.5 1055.8 365.4 1059.3 361.4C1062.8 357.5 1063.3 358.6 1065 357.9C1066.7 357.1 1067.6 356.9 1069.3 357.1C1071 357.4 1073.1 358.2 1075 359.3C1076.9 360.4 1078.8 362.3 1080.7 363.6C1082.6 364.9 1084.5 366.3 1086.4 367.1C1088.3 368 1090 368.7 1092.1 368.9C1094.3 369 1096.9 368.3 1099.3 367.9C1101.7 367.5 1104 366.3 1106.4 366.4C1108.8 366.5 1111.2 367.4 1113.6 368.6C1116 369.8 1118.3 371.9 1120.7 373.6C1123.1 375.2 1125.5 377.4 1127.9 378.6C1130.2 379.8 1132.1 380.3 1135 380.7C1137.9 381.1 1141.9 380.9 1145 381C1148.1 381.1 1150.7 381.2 1153.6 381.4C1156.4 381.6 1159.3 381.8 1162.1 382.1C1165 382.5 1167.9 382.9 1170.7 383.6C1173.6 384.3 1176.4 385.5 1179.3 386.4C1182.1 387.4 1185.5 388.7 1187.9 389.3C1190.2 389.9 1191.7 390.1 1193.6 390C1195.5 389.9 1197.1 389 1199.3 388.6C1201.4 388.1 1204 387.4 1206.4 387.1C1208.8 386.9 1211 386.7 1213.6 386.9C1216.2 387 1219.3 387.5 1222.1 387.9C1225 388.2 1227.9 388.6 1230.7 388.9C1233.6 389.1 1236.2 389.3 1239.3 389.4C1242.4 389.6 1246 389.8 1249.3 389.7C1252.6 389.6 1255.7 389.1 1259.3 388.9C1262.9 388.6 1266.9 388.5 1270.7 388.3C1274.5 388.1 1278.8 388.1 1282.1 387.9C1285.5 387.6 1287.9 387.3 1290.7 386.9C1293.6 386.4 1296.7 385.5 1299.3 385C1301.9 384.5 1303.8 384.1 1306.4 384C1309 383.9 1313.6 384.5 1315 384.6" fill="none" stroke="#8a22e6" stroke-width="3" stroke-linejoin="round" stroke-linecap="butt"/>
</g>
<path d="M1011.4 48.6H1062.6" stroke="#8a22e6" stroke-width="3" fill="none"/>
<text x="1070.7" y="56.2" font-size="28.2" fill="#111">CuN<tspan font-size="15" dy="6">4</tspan><tspan dy="-6">&#8203;</tspan>/CoN<tspan font-size="15" dy="6">4</tspan><tspan dy="-6">&#8203;</tspan>@NC*5</text>
<path d="M1080.8 93.6H1133" stroke="#22b4f0" stroke-width="3" fill="none"/>
<text x="1140.6" y="100.8" font-size="28.2" fill="#111">Cu-ZIF-8*3</text>
<path d="M1080.8 129.4H1133" stroke="#ff2d8e" stroke-width="3" fill="none"/>
<text x="1140.6" y="136.7" font-size="28.2" fill="#111">Cu foil</text>
<path d="M1080.8 165.1H1133" stroke="#ffc20a" stroke-width="3" fill="none"/>
<text x="1140.6" y="172" font-size="28.2" fill="#111">Cu<tspan font-size="15" dy="6">2</tspan><tspan dy="-6">&#8203;</tspan>O</text>
<path d="M1080.8 202.7H1133" stroke="#0cba55" stroke-width="3" fill="none"/>
<text x="1140.6" y="209.9" font-size="28.2" fill="#111">CuO</text>
<clipPath id="kc"><rect x="1459.8" y="12.4" width="523.5" height="420"/></clipPath>
<g clip-path="url(#kc)">
<path d="M1460.2 184.3C1461.2 184.6 1463.9 185.4 1466 186.4C1468.1 187.3 1470.6 189.7 1472.9 189.8C1475.2 189.9 1477.7 188.2 1479.8 187C1481.9 185.9 1483.5 183.8 1485.3 182.9C1487.1 182 1489 181.3 1490.8 181.5C1492.7 181.8 1494.5 183.4 1496.3 184.3C1498.2 185.2 1500.2 186.7 1501.8 186.8C1503.4 186.9 1504.6 186.3 1506 185C1507.3 183.6 1508.5 181.2 1510.1 178.8C1511.7 176.4 1513.8 172.8 1515.6 170.5C1517.4 168.2 1519.3 166.4 1521.1 165C1523 163.6 1524.8 163.2 1526.6 162.2C1528.5 161.3 1530.3 161 1532.1 159.5C1534 158 1535.8 156 1537.7 153.3C1539.5 150.5 1541.3 146.3 1543.2 143C1545 139.6 1546.8 135.8 1548.7 133.3C1550.5 130.8 1552.3 129.1 1554.2 127.8C1556 126.5 1557.9 126.7 1559.7 125.7C1561.5 124.8 1563.6 124 1565.2 122.3C1566.8 120.6 1568 118.9 1569.3 115.4C1570.7 112 1572.1 106.7 1573.5 101.6C1574.8 96.6 1576.2 90.4 1577.6 85.1C1579 79.8 1580.4 74.5 1581.7 69.9C1583.1 65.4 1584.5 60.7 1585.9 57.6C1587.2 54.5 1588.7 52.5 1590 51.4C1591.3 50.2 1592.3 50.3 1593.4 50.7C1594.6 51 1595.6 51.4 1596.9 53.4C1598.2 55.5 1599.6 58.7 1601 63.1C1602.4 67.4 1603.8 73.6 1605.2 79.6C1606.5 85.6 1607.9 92 1609.3 98.9C1610.7 105.8 1612 113.3 1613.4 120.9C1614.8 128.5 1616.2 136.5 1617.6 144.3C1618.9 152.1 1620.3 159.9 1621.7 167.8C1623.1 175.6 1624.6 185.2 1625.8 191.2C1627 197.1 1627.8 202.6 1628.8 203.3C1629.9 204 1630.9 197.7 1632 195.3C1633.1 192.9 1634.3 190.4 1635.5 189.1C1636.6 187.8 1637.8 187.6 1638.9 187.7C1640.1 187.8 1641.1 188.6 1642.3 189.8C1643.6 190.9 1645.2 193.4 1646.5 194.6C1647.7 195.9 1648.8 197.5 1649.9 197.4C1651.1 197.3 1652.1 196.3 1653.4 193.9C1654.6 191.5 1656.1 186.8 1657.5 182.9C1658.9 179 1660 174.9 1661.6 170.5C1663.2 166.1 1665.3 160.6 1667.1 156.7C1669 152.8 1670.8 149.7 1672.7 147.1C1674.5 144.5 1676.3 142.3 1678.2 140.9C1680 139.5 1681.8 138.7 1683.7 138.6C1685.5 138.4 1687.3 138.8 1689.2 140.2C1691 141.6 1692.9 144.1 1694.7 147.1C1696.5 150.1 1698.4 154.2 1700.2 158.1C1702 162 1703.9 166.8 1705.7 170.5C1707.6 174.2 1709.6 178.1 1711.2 180.2C1712.8 182.2 1711.9 184.8 1715.4 182.9C1718.8 181 1728.2 171.2 1731.8 168.8C1735.5 166.3 1735.6 167.9 1737.4 168C1739.3 168.2 1741 168.8 1743.1 169.5C1745.2 170.2 1747.7 171.3 1750.1 172.3C1752.4 173.2 1755 174.4 1757.1 175.1C1759.2 175.8 1760.8 176.6 1762.7 176.5C1764.6 176.3 1766.4 175.4 1768.3 174.4C1770.2 173.3 1772.1 171.4 1773.9 170.2C1775.8 168.9 1777.7 167.5 1779.5 166.6C1781.4 165.8 1783.3 165.2 1785.2 165.2C1787 165.2 1788.9 165.4 1790.8 166.6C1792.6 167.9 1794.5 170.5 1796.4 173C1798.2 175.4 1800.1 178.3 1802 181.4C1803.9 184.4 1805.7 188 1807.6 191.2C1809.5 194.4 1811.8 198.3 1813.2 200.3C1814.6 202.3 1814.9 203.5 1816 203.1C1817.2 202.8 1818.6 199.6 1820.2 198.2C1821.9 196.8 1824 195.1 1825.8 194.7C1827.7 194.4 1829.6 195.3 1831.5 196.1C1833.3 196.9 1835.5 198.8 1837.1 199.6C1838.6 200.4 1839.4 201.3 1840.6 201C1841.7 200.8 1842.6 199.7 1844.1 198.2C1845.6 196.7 1847.8 193.8 1849.7 191.9C1851.6 190 1853.2 188.2 1855.3 187C1857.4 185.8 1860 185.2 1862.3 184.9C1864.7 184.6 1866.8 185.1 1869.3 185.3C1871.9 185.5 1874.9 186.3 1877.8 186.3C1880.6 186.3 1883.8 185.5 1886.2 185.3C1888.5 185.1 1889.9 184.7 1891.8 184.9C1893.7 185 1895.5 185.4 1897.4 186.3C1899.3 187.2 1901.1 188.9 1903 190.5C1904.9 192.1 1906.8 194.4 1908.6 196.1C1910.5 197.9 1912.7 200 1914.2 201C1915.8 202.1 1916.6 202.8 1917.7 202.4C1918.9 202.1 1919.7 200.3 1921.2 198.9C1922.8 197.5 1925 195.2 1926.9 194C1928.7 192.8 1930.6 192.4 1932.5 191.9C1934.3 191.4 1936 191.1 1938.1 191.2C1940.2 191.3 1942.8 191.9 1945.1 192.6C1947.4 193.3 1949.8 194.7 1952.1 195.4C1954.5 196.2 1956.8 196.9 1959.1 197.1C1961.5 197.3 1963.8 197.1 1966.1 196.8C1968.5 196.5 1970.8 195.6 1973.2 195.1C1975.5 194.6 1978.4 194 1980.2 193.7C1981.9 193.5 1983.1 193.7 1983.7 193.7" fill="none" stroke="#22b4f0" stroke-width="3" stroke-linejoin="round" stroke-linecap="butt"/>
<path d="M1460.2 180.2C1461.2 180.6 1463.9 182.2 1466 182.9C1468.1 183.6 1470.4 184.8 1472.9 184.6C1475.4 184.3 1478.4 182.6 1481.2 181.5C1483.9 180.5 1486.9 178.4 1489.4 178.1C1492 177.7 1494 178.8 1496.3 179.5C1498.6 180.2 1501.1 182.3 1503.2 182.2C1505.3 182.1 1506.9 180.3 1508.7 178.8C1510.6 177.3 1512.4 174.5 1514.2 173.3C1516.1 172 1517.7 171.3 1519.7 171.2C1521.8 171.1 1524.3 172.1 1526.6 172.6C1528.9 173 1531.5 174.8 1533.5 174C1535.6 173.2 1537.2 170.6 1539 167.8C1540.9 164.9 1542.5 160.2 1544.5 156.7C1546.6 153.3 1548.9 150.1 1551.4 147.1C1554 144.1 1557.2 142 1559.7 138.8C1562.2 135.6 1564.7 132.2 1566.6 127.8C1568.4 123.4 1569.3 118.2 1570.7 112.7C1572.1 107.1 1573.5 100.7 1574.8 94.7C1576.2 88.8 1577.6 82.3 1579 76.8C1580.4 71.3 1581.7 65.7 1583.1 61.7C1584.5 57.7 1586 54.6 1587.2 52.7C1588.5 50.8 1589.5 50.5 1590.7 50.4C1591.8 50.3 1592.9 50.2 1594.1 52C1595.4 53.9 1596.9 56.9 1598.3 61.7C1599.6 66.5 1601 73.9 1602.4 81C1603.8 88.1 1605.2 96.4 1606.5 104.4C1607.9 112.4 1609.3 120.9 1610.7 129.2C1612 137.4 1613.4 146.2 1614.8 154C1616.2 161.8 1617.7 171.1 1618.9 176C1620.2 181 1621.2 182.9 1622.4 183.6C1623.5 184.3 1624.6 182.3 1625.8 180.2C1627.1 178 1628.6 173.2 1629.9 170.5C1631.3 167.9 1632.7 165.5 1634.1 164.3C1635.5 163.2 1636.8 163.2 1638.2 163.6C1639.6 164.1 1640.7 165 1642.3 167.1C1644 169.1 1646 173.4 1647.9 176C1649.7 178.7 1651.5 181.8 1653.4 182.9C1655.2 184.1 1657 183.3 1658.9 182.9C1660.7 182.6 1662.3 180.8 1664.4 180.8C1666.5 180.8 1669 181.4 1671.3 182.9C1673.6 184.4 1676.1 188 1678.2 189.8C1680.2 191.6 1681.8 193.4 1683.7 193.9C1685.5 194.5 1687.3 193.8 1689.2 193.2C1691 192.7 1692.9 191.1 1694.7 190.5C1696.5 189.9 1698.1 189.5 1700.2 189.8C1702.3 190.1 1701.8 191.8 1707.1 192.6C1712.4 193.3 1726.3 193.3 1731.8 194C1737.4 194.7 1737.4 196.2 1740.3 196.8C1743.1 197.4 1745.9 197.6 1748.7 197.5C1751.5 197.5 1754.3 196.6 1757.1 196.5C1759.9 196.4 1762.7 196.3 1765.5 196.8C1768.3 197.3 1771.1 199.3 1773.9 199.6C1776.7 200 1779.5 199.3 1782.3 198.9C1785.2 198.6 1788 197.4 1790.8 197.5C1793.6 197.6 1796.4 198.8 1799.2 199.3C1802 199.9 1804.8 200.6 1807.6 200.7C1810.4 200.9 1813 200.6 1816 200.3C1819.1 200.1 1822.6 199.2 1825.8 199.3C1829.1 199.5 1832.2 200.8 1835.7 201C1839.2 201.3 1843.1 200.8 1846.9 200.7C1850.6 200.7 1854.4 200.6 1858.1 200.7C1861.9 200.9 1865.1 201.6 1869.3 201.7C1873.5 201.8 1878.7 201.2 1883.4 201.3C1888 201.4 1892.7 202.3 1897.4 202.4C1902.1 202.6 1906.8 202.1 1911.4 202.1C1916.1 202.2 1920.8 202.6 1925.5 202.7C1930.1 202.8 1934.8 202.8 1939.5 202.8C1944.2 202.9 1948.8 203.1 1953.5 203.1C1958.2 203.2 1962.5 203.2 1967.6 203.3C1972.6 203.3 1981 203.3 1983.7 203.3" fill="none" stroke="#000" stroke-width="3" stroke-linejoin="round" stroke-linecap="butt" stroke-dasharray="6.1 4.2"/>
<path d="M1460.2 402.3C1461.4 402.2 1465.1 401.3 1467.4 401.2C1469.7 401.2 1472.2 401.4 1474.3 402.1C1476.4 402.7 1478.2 404.4 1479.8 405.1C1481.4 405.8 1482.6 406.7 1483.9 406.5C1485.3 406.2 1486.7 405.3 1488.1 403.7C1489.4 402.1 1490.6 399.1 1492.2 396.8C1493.8 394.5 1495.9 391.7 1497.7 389.9C1499.5 388.2 1501.4 387 1503.2 386.5C1505.1 386 1507.1 386.7 1508.7 387.2C1510.3 387.7 1511.6 388.8 1512.9 389.3C1514.1 389.7 1515.2 390.2 1516.3 389.9C1517.4 389.7 1518.7 389 1519.7 387.9C1520.8 386.7 1521.4 385.9 1522.5 383.1C1523.6 380.2 1525.3 374.8 1526.6 370.7C1528 366.5 1529.4 362.2 1530.8 358.3C1532.1 354.4 1533.5 350.6 1534.9 347.2C1536.3 343.9 1537.7 340.7 1539 338.3C1540.4 335.9 1541.8 334.2 1543.2 332.8C1544.5 331.4 1545.9 330.6 1547.3 330C1548.7 329.5 1550.1 329.6 1551.4 329.3C1552.8 329.1 1554.2 329.3 1555.6 328.6C1556.9 328 1558.3 327.4 1559.7 325.2C1561.1 323 1562.4 319.9 1563.8 315.6C1565.2 311.2 1566.6 305 1568 299C1569.3 293.1 1570.7 286.2 1572.1 279.7C1573.5 273.3 1574.8 266.3 1576.2 260.5C1577.6 254.6 1579 249.2 1580.4 244.6C1581.7 240 1583.2 235.7 1584.5 232.9C1585.8 230.2 1586.9 229.1 1587.9 228.1C1589 227.1 1589.8 226.6 1590.7 226.7C1591.6 226.8 1592.4 227.1 1593.4 228.8C1594.5 230.5 1595.6 233.1 1596.9 237C1598.2 240.9 1599.6 246.7 1601 252.2C1602.4 257.7 1603.8 263.9 1605.2 270.1C1606.5 276.3 1607.9 282.5 1609.3 289.4C1610.7 296.3 1612 303.9 1613.4 311.4C1614.8 319 1616.2 327 1617.6 334.8C1618.9 342.7 1620.3 350.2 1621.7 358.3C1623.1 366.3 1624.6 376.2 1625.8 383.1C1627 389.9 1627.9 395.5 1628.8 399.6C1629.8 403.7 1630.5 407.6 1631.3 407.9C1632.2 408.1 1633 403.4 1634.1 401C1635.1 398.6 1636.4 395.2 1637.5 393.4C1638.7 391.6 1639.7 390.8 1641 390.2C1642.2 389.7 1643.7 389.9 1645.1 390.2C1646.5 390.5 1647.9 391.4 1649.2 392C1650.6 392.6 1652 393.6 1653.4 393.8C1654.7 394 1656.1 394.2 1657.5 393.4C1658.9 392.6 1660 391.4 1661.6 389.3C1663.2 387.1 1665.3 383.1 1667.1 380.3C1669 377.6 1670.8 374.8 1672.7 372.7C1674.5 370.7 1676.3 369.1 1678.2 368.2C1680 367.3 1679.7 363.8 1683.7 367.2C1687.7 370.7 1698.1 383.8 1702.2 388.8C1706.4 393.8 1706.8 395.5 1708.4 397.2C1709.9 398.9 1710.2 399.4 1711.4 398.7C1712.7 398.1 1714.2 396 1716 393.4C1717.8 390.7 1720.1 385.7 1722.1 382.7C1724.2 379.6 1726.2 376.8 1728.3 375C1730.3 373.2 1732.6 372.4 1734.4 371.9C1736.2 371.5 1737.2 371.6 1739 372.2C1740.8 372.9 1743.1 374.4 1745.1 375.8C1747.1 377.1 1749.2 379.1 1751.2 380.4C1753.3 381.6 1755.3 383 1757.3 383.4C1759.4 383.9 1761.4 383.2 1763.5 383C1765.5 382.7 1767.6 382.1 1769.6 381.9C1771.6 381.7 1773.7 381.5 1775.7 381.9C1777.8 382.3 1779.8 383 1781.8 384.2C1783.9 385.3 1785.9 387.2 1788 388.8C1790 390.3 1792 392.1 1794.1 393.4C1796.1 394.6 1797.9 395.7 1800.2 396.4C1802.5 397.2 1805.1 397.6 1807.9 398C1810.7 398.3 1813.7 398.3 1817 398.4C1820.4 398.6 1824.4 398.7 1827.8 398.9C1831.1 399.1 1834.1 399.1 1836.9 399.5C1839.7 399.8 1842.3 400.3 1844.6 401C1846.9 401.7 1848.7 402.9 1850.7 403.8C1852.8 404.7 1854.9 405.8 1856.8 406.4C1858.8 406.9 1860.2 407.4 1862.2 407.1C1864.2 406.9 1866.7 405.4 1869.1 404.8C1871.5 404.3 1874.2 403.8 1876.7 403.6C1879.3 403.4 1881.6 403.5 1884.4 403.8C1887.2 404.1 1890.3 404.8 1893.6 405.3C1896.9 405.8 1900.5 406.5 1904.3 406.8C1908.1 407.1 1912.4 407.2 1916.5 407.1C1920.6 407.1 1924.7 406.8 1928.8 406.7C1932.9 406.6 1937.4 406.5 1941 406.4C1944.6 406.3 1947.1 406.4 1950.2 406.1C1953.3 405.7 1956.3 404.9 1959.4 404.4C1962.4 403.9 1965.8 403.2 1968.6 402.9C1971.4 402.6 1973.8 402.5 1976.2 402.6C1978.6 402.6 1982 403.2 1983.1 403.3" fill="none" stroke="#8a22e6" stroke-width="3" stroke-linejoin="round" stroke-linecap="butt"/>
<path d="M1460.2 407.9C1461 407.4 1463 406 1464.6 405.1C1466.3 404.2 1468.3 403.1 1470.2 402.6C1472 402.2 1473.8 402.1 1475.7 402.3C1477.5 402.6 1479.3 403.9 1481.2 404C1483 404.1 1484.8 403.7 1486.7 403C1488.5 402.4 1490.4 401.7 1492.2 400.3C1494 398.9 1495.9 396.5 1497.7 394.8C1499.5 393 1501.1 390.8 1503.2 389.7C1505.3 388.5 1507.8 388.1 1510.1 387.9C1512.4 387.7 1514.7 388.7 1517 388.6C1519.3 388.5 1521.8 388.6 1523.9 387.2C1525.9 385.8 1527.6 383.3 1529.4 380.3C1531.2 377.3 1533.1 372.7 1534.9 369.3C1536.7 365.8 1538.6 362.2 1540.4 359.6C1542.2 357.1 1544.1 355.9 1545.9 354.1C1547.8 352.4 1549.6 351.4 1551.4 349.3C1553.3 347.2 1555.3 344.6 1556.9 341.7C1558.5 338.9 1559.7 336.2 1561.1 332.1C1562.4 328 1563.8 322.7 1565.2 316.9C1566.6 311.2 1568 304.5 1569.3 297.7C1570.7 290.8 1572.1 282.5 1573.5 275.6C1574.8 268.7 1576.2 262.3 1577.6 256.3C1579 250.4 1580.4 244.3 1581.7 239.8C1583.1 235.3 1584.3 231.9 1585.9 229.5C1587.5 227.1 1589.8 225.4 1591.4 225.3C1593 225.2 1594.1 225.9 1595.5 228.8C1596.9 231.6 1598.3 237 1599.6 242.6C1601 248.1 1602.4 254.9 1603.8 261.8C1605.2 268.7 1606.5 276.1 1607.9 283.9C1609.3 291.7 1610.7 299.9 1612 308.7C1613.4 317.4 1614.8 326.6 1616.2 336.2C1617.6 345.9 1619 358.5 1620.3 366.5C1621.6 374.6 1622.6 380.8 1623.8 384.4C1624.9 388.1 1626 389.3 1627.2 388.6C1628.3 387.9 1629.4 383.5 1630.6 380.3C1631.9 377.1 1633.3 371.9 1634.8 369.3C1636.3 366.6 1638.1 365.3 1639.6 364.5C1641.1 363.6 1642.3 363.7 1643.7 364.1C1645.1 364.4 1646.5 365 1647.9 366.5C1649.2 368.1 1650.4 370.7 1652 373.4C1653.6 376.2 1655.9 380.5 1657.5 383.1C1659.1 385.6 1660 387.5 1661.6 388.6C1663.2 389.6 1665.1 389.5 1667.1 389.3C1669.2 389 1672 387.4 1674 387.2C1676.1 387 1675.9 385.8 1679.5 387.9C1683.2 389.9 1692.3 397.8 1696.1 399.5C1699.9 401.2 1700.2 398.6 1702.2 398C1704.3 397.3 1706.3 395.9 1708.4 395.7C1710.4 395.4 1712.4 395.8 1714.5 396.4C1716.5 397.1 1718.6 398.5 1720.6 399.5C1722.7 400.5 1724.7 402 1726.7 402.6C1728.8 403.1 1730.8 403.1 1732.9 402.9C1734.9 402.7 1736.9 401.8 1739 401.3C1741 400.9 1743.1 400.2 1745.1 400.3C1747.1 400.3 1748.9 401 1751.2 401.8C1753.5 402.6 1756.3 404.2 1758.9 404.8C1761.4 405.5 1764 405.7 1766.5 405.6C1769.1 405.5 1771.6 404.4 1774.2 404.1C1776.7 403.8 1779.3 403.5 1781.8 403.8C1784.4 404 1786.9 405.1 1789.5 405.6C1792 406.2 1794.3 406.9 1797.1 407.1C1799.9 407.3 1803.3 407 1806.3 406.8C1809.4 406.6 1812.4 405.9 1815.5 405.9C1818.6 406 1821.6 406.8 1824.7 407.1C1827.8 407.5 1830.8 407.9 1833.9 407.9C1836.9 407.9 1840 407.2 1843.1 407.1C1846.1 407.1 1849.2 407.2 1852.2 407.4C1855.3 407.7 1857.9 408.5 1861.4 408.7C1865 408.8 1869.1 408.3 1873.7 408.4C1878.3 408.4 1883.9 408.9 1889 409C1894.1 409.1 1899.2 409 1904.3 409.1C1909.4 409.2 1914.5 409.5 1919.6 409.6C1924.7 409.7 1929.8 409.7 1934.9 409.7C1940 409.8 1945.1 409.8 1950.2 409.9C1955.3 409.9 1960 410 1965.5 410.1C1971 410.1 1980.2 410.2 1983.1 410.2" fill="none" stroke="#000" stroke-width="3" stroke-linejoin="round" stroke-linecap="butt" stroke-dasharray="6.1 4.2"/>
</g>
<path d="M1798.5 51.2H1848.7" stroke="#22b4f0" stroke-width="3" fill="none"/>
<text x="1857" y="59.6" font-size="28.2" fill="#111">Cu-ZIF-8</text>
<path d="M1798.5 85.3H1848.7" stroke="#000" stroke-width="3" fill="none" stroke-dasharray="6.1 4.2"/>
<text x="1857" y="93.7" font-size="28.2" fill="#111">Fit</text>
<path d="M1703.8 244.6H1755" stroke="#8a22e6" stroke-width="3" fill="none"/>
<text x="1761.9" y="252.6" font-size="28.2" fill="#111">CuN<tspan font-size="15" dy="6">4</tspan><tspan dy="-6">&#8203;</tspan>/CoN<tspan font-size="15" dy="6">4</tspan><tspan dy="-6">&#8203;</tspan>@NC</text>
<path d="M1703.8 287.5H1751.2" stroke="#000" stroke-width="3" fill="none" stroke-dasharray="6.1 4.2"/>
<text x="1763.5" y="294.6" font-size="28.2" fill="#111">Fit</text>
<g stroke-linecap="butt" fill="none">
<path d="M1824 283.2L1838.5 305.9M1838.5 305.9L1825.5 330.2M1825.5 330.2L1838.5 353.6M1838.5 353.6L1824 376.9M1956.4 283.2L1941.1 305.9M1941.1 305.9L1954.9 330.2M1954.9 330.2L1941.1 353.6M1941.1 353.6L1956.4 376.9M1876.8 282.4L1903.6 282.4M1876.8 377.4L1903.6 377.4M1824 283.2L1831.6 271.3M1876.8 282.4L1869.4 271M1903.6 282.4L1910.9 271M1956.4 283.2L1949 271.3M1824 376.9L1831.6 388.5M1876.8 377.4L1869.4 388.8M1903.6 377.4L1910.9 388.8M1956.4 376.9L1949 388.5M1825.5 330.2L1817.4 330.2M1954.9 330.2L1962.2 330.2" stroke="#8a8a8a" stroke-width="3.4"/>
<path d="M1824 283.2L1838.5 305.9M1838.5 305.9L1825.5 330.2M1825.5 330.2L1838.5 353.6M1838.5 353.6L1824 376.9M1956.4 283.2L1941.1 305.9M1941.1 305.9L1954.9 330.2M1954.9 330.2L1941.1 353.6M1941.1 353.6L1956.4 376.9M1876.8 282.4L1903.6 282.4M1876.8 377.4L1903.6 377.4M1824 283.2L1831.6 271.3M1876.8 282.4L1869.4 271M1903.6 282.4L1910.9 271M1956.4 283.2L1949 271.3M1824 376.9L1831.6 388.5M1876.8 377.4L1869.4 388.8M1903.6 377.4L1910.9 388.8M1956.4 376.9L1949 388.5M1825.5 330.2L1817.4 330.2M1954.9 330.2L1962.2 330.2" stroke="#e4e4e4" stroke-width="0.9"/>
<path d="M1838.5 305.9L1851.5 305.3M1876.8 282.4L1870.7 293.5M1903.6 282.4L1909.7 293.5M1941.1 305.9L1928.4 305.3M1838.5 353.6L1851.5 354.4M1876.8 377.4L1870.7 366.3M1903.6 377.4L1909.7 366.3M1941.1 353.6L1928.4 354.4" stroke="#8a8a8a" stroke-width="3.4"/>
<path d="M1838.5 305.9L1851.5 305.3M1876.8 282.4L1870.7 293.5M1903.6 282.4L1909.7 293.5M1941.1 305.9L1928.4 305.3M1838.5 353.6L1851.5 354.4M1876.8 377.4L1870.7 366.3M1903.6 377.4L1909.7 366.3M1941.1 353.6L1928.4 354.4" stroke="#e4e4e4" stroke-width="0.9"/>
<path d="M1851.5 305.3L1864.5 304.6M1870.7 293.5L1864.5 304.6M1909.7 293.5L1915.8 304.6M1928.4 305.3L1915.8 304.6M1851.5 354.4L1864.5 355.2M1870.7 366.3L1864.5 355.2M1909.7 366.3L1915.8 355.2M1928.4 354.4L1915.8 355.2" stroke="#2436e8" stroke-width="3.4"/>
<path d="M1864.5 304.6L1877.2 317.3M1915.8 304.6L1902.8 317.3M1864.5 355.2L1877.2 342.5M1915.8 355.2L1902.8 342.5" stroke="#2436e8" stroke-width="3.6"/>
<path d="M1877.2 317.3L1889.8 329.9M1902.8 317.3L1889.8 329.9M1877.2 342.5L1889.8 329.9M1902.8 342.5L1889.8 329.9" stroke="#3aa0ee" stroke-width="3.6"/>
</g>
<defs><radialGradient id="gCc" cx=".45" cy=".45" r=".6"><stop offset="0" stop-color="#d8d8d8"/><stop offset=".45" stop-color="#8c8c8c"/><stop offset="1" stop-color="#6a6a6a"/></radialGradient><radialGradient id="gNc" cx=".45" cy=".45" r=".6"><stop offset="0" stop-color="#5a6cff"/><stop offset=".5" stop-color="#2030e0"/><stop offset="1" stop-color="#1a22b8"/></radialGradient><radialGradient id="gMc" cx=".5" cy=".5" r=".55"><stop offset="0" stop-color="#fff"/><stop offset=".18" stop-color="#9fdcff"/><stop offset=".6" stop-color="#1f8fe0"/><stop offset="1" stop-color="#1f8fe0"/></radialGradient></defs>
<circle cx="1824" cy="283.2" r="5.6" fill="url(#gCc)"/>
<circle cx="1876.8" cy="282.4" r="5.6" fill="url(#gCc)"/>
<circle cx="1903.6" cy="282.4" r="5.6" fill="url(#gCc)"/>
<circle cx="1956.4" cy="283.2" r="5.6" fill="url(#gCc)"/>
<circle cx="1838.5" cy="305.9" r="5.6" fill="url(#gCc)"/>
<circle cx="1941.1" cy="305.9" r="5.6" fill="url(#gCc)"/>
<circle cx="1825.5" cy="330.2" r="5.6" fill="url(#gCc)"/>
<circle cx="1954.9" cy="330.2" r="5.6" fill="url(#gCc)"/>
<circle cx="1838.5" cy="353.6" r="5.6" fill="url(#gCc)"/>
<circle cx="1941.1" cy="353.6" r="5.6" fill="url(#gCc)"/>
<circle cx="1824" cy="376.9" r="5.6" fill="url(#gCc)"/>
<circle cx="1876.8" cy="377.4" r="5.6" fill="url(#gCc)"/>
<circle cx="1903.6" cy="377.4" r="5.6" fill="url(#gCc)"/>
<circle cx="1956.4" cy="376.9" r="5.6" fill="url(#gCc)"/>
<circle cx="1864.5" cy="304.6" r="5.2" fill="url(#gNc)"/>
<circle cx="1915.8" cy="304.6" r="5.2" fill="url(#gNc)"/>
<circle cx="1864.5" cy="355.2" r="5.2" fill="url(#gNc)"/>
<circle cx="1915.8" cy="355.2" r="5.2" fill="url(#gNc)"/>
<circle cx="1889.8" cy="329.9" r="9" fill="url(#gMc)"/>
<clipPath id="ki"><rect x="125.1" y="1008.1" width="523.1" height="420.5"/></clipPath>
<g clip-path="url(#ki)">
<path d="M124.9 1397.1C137.5 1396.9 186.7 1396.4 201 1396C215.2 1395.5 207.7 1395.4 210.2 1394.5C212.7 1393.5 214.5 1391.9 216 1390.4C217.5 1389 218.3 1387.1 219.5 1385.8C220.6 1384.4 222.1 1383.3 222.9 1382.3C223.8 1381.3 224.1 1381.5 224.7 1380C225.3 1378.5 225.8 1376.7 226.4 1373.1C227 1369.4 227.6 1363.4 228.1 1358C228.7 1352.6 229.4 1346.5 229.9 1340.7C230.4 1334.9 230.8 1328.1 231.3 1323.3C231.8 1318.5 232.2 1314.8 232.8 1311.8C233.3 1308.7 234 1306.4 234.5 1304.8C235 1303.2 235.3 1302.1 235.7 1302.3C236.1 1302.5 236.3 1304.5 236.8 1306C237.3 1307.5 238 1309.8 238.6 1311.2C239.1 1312.5 239.8 1314.5 240.3 1314.1C240.8 1313.6 241 1311.6 241.5 1308.3C241.9 1305 242.5 1299.6 243.2 1294.4C243.9 1289.2 244.6 1283.8 245.5 1277.1C246.4 1270.3 246.3 1267 248.4 1253.9C250.5 1240.8 255.9 1210.6 258 1198.5C260.1 1186.4 260.1 1186.9 260.9 1181.2C261.8 1175.4 262.5 1169 263.2 1163.8C264 1158.6 264.9 1153.8 265.6 1149.9C266.2 1146.1 266.7 1142.8 267.3 1140.7C267.9 1138.5 268.4 1137.4 269 1137.2C269.6 1137 270.1 1138.2 270.8 1139.5C271.4 1140.9 272.2 1143.6 273.1 1145.3C273.9 1147 274.9 1148.8 276 1149.9C277 1151.1 278.4 1152 279.4 1152.2C280.5 1152.4 281.4 1151.8 282.3 1151.1C283.3 1150.4 284.4 1149 285.2 1148.2C286.1 1147.4 286.8 1146.6 287.5 1146.5C288.3 1146.3 289.1 1146.5 289.8 1147C290.6 1147.6 291.4 1148.3 292.2 1149.9C292.9 1151.6 293.7 1154.4 294.5 1156.9C295.2 1159.4 296 1162.3 296.8 1165C297.6 1167.7 298.3 1170.7 299.1 1173.1C299.9 1175.4 300.5 1177.1 301.4 1178.8C302.4 1180.6 303.7 1182.3 304.9 1183.5C306 1184.6 307.2 1185.1 308.4 1185.8C309.5 1186.5 310.5 1186.9 311.8 1187.5C313.2 1188.1 314.9 1188.8 316.5 1189.2C318 1189.7 319.5 1189.8 321.1 1190.4C322.6 1191 324.2 1191.8 325.7 1192.7C327.2 1193.7 328.8 1194.8 330.3 1196.2C331.9 1197.5 333.4 1199.1 335 1200.8C336.5 1202.5 338 1204.9 339.6 1206.6C341.1 1208.3 342.7 1210.3 344.2 1211.2C345.8 1212.2 347.5 1212.4 348.8 1212.4C350.2 1212.4 351.2 1212.2 352.3 1211.2C353.5 1210.3 354.6 1208.5 355.8 1206.6C356.9 1204.7 357.9 1202 359.2 1199.7C360.6 1197.3 362.1 1194.4 363.9 1192.7C365.6 1191.1 367.7 1190.4 369.7 1189.8C371.6 1189.2 373.3 1189.5 375.4 1189.2C377.6 1189 380.1 1188.6 382.4 1188.1C384.7 1187.6 385 1187.6 389.3 1186.4C393.7 1185.1 404 1181.8 408.5 1180.7C413.1 1179.6 413.9 1180.3 416.6 1179.8C419.3 1179.3 422 1178.3 424.7 1177.6C427.4 1176.9 430.2 1176.2 432.9 1175.7C435.6 1175.3 438.3 1175 441 1175C443.7 1175 446.4 1175.5 449.1 1175.7C451.8 1175.9 454.5 1176.1 457.2 1176.3C459.9 1176.4 462.6 1176.5 465.3 1176.7C468 1176.8 470.7 1176.9 473.4 1177.1C476.1 1177.2 478.8 1177.4 481.5 1177.6C484.2 1177.8 486.9 1178.1 489.6 1178.4C492.3 1178.8 495.1 1179.3 497.8 1179.8C500.5 1180.2 503.2 1180.7 505.9 1181.1C508.6 1181.5 511.3 1181.9 514 1182.1C516.7 1182.3 519.4 1182.3 522.1 1182.5C524.8 1182.7 527.5 1183 530.2 1183.4C532.9 1183.8 535.6 1184.4 538.3 1184.8C541 1185.2 543.3 1185.5 546.4 1185.7C549.6 1186 553.6 1185.9 557.2 1186.1C560.9 1186.4 564.5 1186.7 568.1 1187.1C571.7 1187.4 575.3 1187.9 578.9 1188.2C582.5 1188.4 586.1 1188.4 589.7 1188.4C593.3 1188.4 596.9 1188.3 600.5 1188.2C604.1 1188 607.7 1188 611.3 1187.5C614.9 1187 618.5 1186 622.1 1185.2C625.7 1184.4 629.8 1183.4 633 1182.8C636.1 1182.1 638.5 1181.5 641.1 1181.1C643.7 1180.7 647.3 1180.5 648.5 1180.3" fill="none" stroke="#22b4f0" stroke-width="3.2" stroke-linejoin="round" stroke-linecap="butt"/>
<path d="M124.9 1397.1C137.5 1397 186.7 1396.9 201 1396.4C215.2 1396 208.1 1395.6 210.2 1394.5C212.3 1393.3 212.6 1391.5 213.7 1389.2C214.8 1387 215.7 1383.5 216.6 1381.2C217.5 1378.8 218 1376.8 218.9 1375.4C219.8 1373.9 220.8 1372.8 221.8 1372.5C222.8 1372.2 223.8 1373.9 224.7 1373.6C225.5 1373.3 226.2 1372.6 227 1370.7C227.8 1368.9 228.5 1365.7 229.3 1362.6C230.1 1359.6 230.8 1355.5 231.6 1352.2C232.4 1349 233.2 1345.9 233.9 1343C234.7 1340.1 235.5 1338.2 236.2 1334.9C237 1331.6 237.8 1328.1 238.6 1323.3C239.3 1318.5 240 1312.7 240.9 1306C241.7 1299.2 242.8 1290.5 243.8 1282.8C244.7 1275.1 244.4 1272.8 246.7 1259.7C248.9 1246.6 255.3 1216.4 257.5 1204.3C259.6 1192.2 259 1192.1 259.8 1186.9C260.5 1181.7 261.3 1177.3 262.1 1173.1C262.9 1168.8 263.6 1164.6 264.4 1161.5C265.2 1158.4 265.9 1156 266.7 1154.5C267.5 1153.1 268.3 1152.7 269 1152.8C269.8 1152.9 270.4 1154.1 271.3 1155.1C272.3 1156.2 273.7 1158.1 274.8 1159.2C276 1160.2 277.1 1160.9 278.3 1161.5C279.4 1162 280.6 1162.1 281.8 1162.4C282.9 1162.7 284.1 1162.6 285.2 1163.2C286.4 1163.8 287.5 1165.1 288.7 1166.1C289.8 1167.2 290.8 1168.1 292.2 1169.6C293.5 1171 295.2 1173.2 296.8 1174.8C298.3 1176.4 299.9 1178 301.4 1179.4C303 1180.9 304.5 1182.3 306 1183.5C307.6 1184.6 309.1 1185.3 310.7 1186.4C312.2 1187.4 313.8 1188.8 315.3 1189.8C316.8 1190.9 318.4 1191.9 319.9 1192.7C321.5 1193.6 323 1194.3 324.5 1195C326.1 1195.8 327.6 1196.7 329.2 1197.3C330.7 1198 332.3 1198.5 333.8 1199.1C335.3 1199.7 336.9 1200.2 338.4 1200.8C340 1201.4 341.5 1202.2 343.1 1202.5C344.6 1202.9 346.1 1203 347.7 1203.1C349.2 1203.2 350.8 1203.3 352.3 1203.1C353.9 1202.9 355.4 1202.5 356.9 1202C358.5 1201.5 359.8 1200.7 361.6 1200.2C363.3 1199.8 365.4 1199.6 367.3 1199.1C369.3 1198.6 371 1198.2 373.1 1197.3C375.2 1196.5 377.8 1194.9 380.1 1193.9C382.4 1192.8 382.3 1192.6 387 1191C391.8 1189.4 403.6 1185.4 408.5 1184.1C413.5 1182.8 413.9 1183.4 416.6 1183C419.3 1182.6 422 1182.1 424.7 1181.7C427.4 1181.2 430.2 1180.8 432.9 1180.3C435.6 1179.9 438.3 1179.4 441 1179C443.7 1178.6 446.4 1178.2 449.1 1178C451.8 1177.8 454.5 1177.5 457.2 1177.6C459.9 1177.7 462.6 1178 465.3 1178.4C468 1178.8 470.7 1179.4 473.4 1180.1C476.1 1180.7 478.8 1181.4 481.5 1182.1C484.2 1182.7 486.9 1183.3 489.6 1183.8C492.3 1184.4 495.1 1184.8 497.8 1185.2C500.5 1185.6 502.7 1185.9 505.9 1186.1C509 1186.4 512.6 1186.7 516.7 1186.8C520.7 1186.9 525.7 1186.9 530.2 1186.8C534.7 1186.8 539.2 1186.7 543.7 1186.5C548.2 1186.4 552.7 1186.3 557.2 1186.1C561.8 1186 566.3 1185.8 570.8 1185.7C575.3 1185.6 579.8 1185.6 584.3 1185.5C588.8 1185.3 593.3 1185.1 597.8 1184.8C602.3 1184.5 606.8 1184.3 611.3 1183.8C615.8 1183.4 620.3 1182.6 624.8 1182.1C629.4 1181.6 634.4 1181.1 638.4 1180.7C642.3 1180.4 646.8 1180.2 648.5 1180.1" fill="none" stroke="#8a22e6" stroke-width="3.2" stroke-linejoin="round" stroke-linecap="butt"/>
<path d="M124.9 1397.1C133.7 1396.9 166.1 1396.5 177.8 1396C189.6 1395.5 190.9 1394.7 195.2 1394.1C199.4 1393.5 201.2 1393.3 203.3 1392.5C205.4 1391.7 206.7 1390.9 207.9 1389.2C209.2 1387.6 209.9 1385.4 210.8 1382.3C211.7 1379.2 212.4 1374.8 213.1 1370.7C213.8 1366.7 214.3 1362.3 214.8 1358C215.4 1353.8 216 1349.2 216.6 1345.3C217.2 1341.4 217.7 1337.8 218.3 1334.9C218.9 1332 219.4 1329.9 220.1 1327.9C220.7 1326 221.6 1324.5 222.4 1323.3C223.1 1322.2 223.9 1321.5 224.7 1321C225.5 1320.5 226.1 1321.2 227 1320.4C227.9 1319.7 229 1318.2 229.9 1316.4C230.8 1314.5 231.4 1312.3 232.2 1309.4C233 1306.5 233.7 1302.9 234.5 1299C235.3 1295.2 236.1 1290.5 236.8 1286.3C237.6 1282.1 238.4 1277.6 239.1 1273.6C239.9 1269.5 240.7 1265.5 241.5 1262C242.2 1258.5 243 1255.7 243.8 1252.8C244.5 1249.9 244.4 1250.8 246.1 1244.7C247.8 1238.5 252.2 1221.8 254 1215.9C255.8 1209.9 255.9 1211.2 256.9 1208.9C257.8 1206.6 258.7 1203.8 259.8 1202C260.8 1200.1 262.1 1198.9 263.2 1197.9C264.4 1197 265.6 1196.7 266.7 1196.2C267.9 1195.7 269 1195.6 270.2 1195C271.3 1194.5 272.5 1193.7 273.7 1192.7C274.8 1191.8 276.2 1190 277.1 1189.2C278.1 1188.5 278.7 1188.1 279.4 1188.1C280.2 1188.1 280.8 1188.3 281.8 1189.2C282.7 1190.2 283.9 1192.4 285.2 1193.9C286.6 1195.3 288.3 1196.8 289.8 1197.9C291.4 1199.1 292.9 1200 294.5 1200.8C296 1201.6 297.6 1202.1 299.1 1202.5C300.6 1203 302.2 1203.3 303.7 1203.5C305.3 1203.7 306.8 1204 308.4 1203.7C309.9 1203.5 311.4 1202.8 313 1202C314.5 1201.1 316.1 1200 317.6 1198.5C319.2 1197 320.7 1194.8 322.2 1192.7C323.8 1190.6 325.3 1187.9 326.9 1185.8C328.4 1183.7 329.9 1181.6 331.5 1180C333 1178.4 334.6 1176.9 336.1 1175.9C337.7 1175 339.2 1174.6 340.7 1174.2C342.3 1173.9 343.8 1173.8 345.4 1173.9C346.9 1174 348.5 1174.2 350 1174.8C351.5 1175.4 353.1 1176.4 354.6 1177.7C356.2 1178.9 357.7 1180.6 359.2 1182.3C360.8 1184 362.3 1186.2 363.9 1188.1C365.4 1190 367 1192 368.5 1193.9C370 1195.7 371.6 1197.7 373.1 1199.1C374.7 1200.4 376.2 1201.2 377.8 1202C379.3 1202.7 380.5 1203.2 382.4 1203.7C384.3 1204.2 385.4 1204.9 389.3 1204.9C393.2 1204.9 402.2 1204.2 405.8 1203.7C409.5 1203.2 409.4 1202.5 411.2 1201.7C413 1200.9 414.6 1200.1 416.6 1199C418.7 1197.9 421.1 1196.2 423.4 1194.9C425.6 1193.7 427.9 1192.6 430.2 1191.5C432.4 1190.5 434.9 1189.7 436.9 1188.8C438.9 1187.9 440.5 1187.3 442.3 1186.1C444.1 1185 445.9 1183.7 447.7 1182.1C449.5 1180.5 451.3 1178.4 453.1 1176.7C454.9 1175 456.7 1173.3 458.5 1171.9C460.3 1170.6 462.2 1169.5 464 1168.6C465.8 1167.7 467.6 1166.9 469.4 1166.5C471.2 1166.2 473 1166.3 474.8 1166.5C476.6 1166.8 478.2 1167.2 480.2 1167.9C482.2 1168.6 484.7 1169.6 486.9 1170.9C489.2 1172.1 491.4 1173.7 493.7 1175.3C496 1177 498.2 1178.9 500.5 1180.7C502.7 1182.5 505 1184.4 507.2 1186.1C509.5 1187.8 511.7 1189.4 514 1190.9C516.2 1192.3 518.5 1193.7 520.7 1194.9C523 1196.2 525.2 1197.4 527.5 1198.3C529.8 1199.2 532 1199.9 534.3 1200.3C536.5 1200.8 538.8 1201 541 1201C543.3 1201 545.5 1200.7 547.8 1200.3C550 1200 552.1 1199.5 554.5 1199C557 1198.4 559.9 1197.6 562.7 1197C565.4 1196.3 568.1 1195.8 570.8 1195.3C573.5 1194.8 576.2 1194.4 578.9 1193.8C581.6 1193.3 584.3 1192.8 587 1192.2C589.7 1191.6 592.4 1191 595.1 1190.2C597.8 1189.4 600.5 1188.6 603.2 1187.5C605.9 1186.4 608.6 1185 611.3 1183.4C614 1181.9 616.7 1179.8 619.4 1178C622.1 1176.2 624.8 1174.3 627.6 1172.6C630.3 1170.9 633.2 1169.2 635.7 1167.9C638.1 1166.5 640.3 1165.4 642.4 1164.5C644.6 1163.6 647.5 1162.6 648.5 1162.2" fill="none" stroke="#ff2d8e" stroke-width="3.2" stroke-linejoin="round" stroke-linecap="butt"/>
<path d="M124.9 1397.1C135.6 1397 175.9 1396.6 189.4 1396.2C202.9 1395.8 201.7 1395.5 205.6 1394.8C209.4 1394.1 210.6 1393.5 212.5 1392.1C214.5 1390.8 215.8 1388.9 217.2 1386.9C218.5 1385 219.8 1381.9 220.6 1380.6C221.5 1379.2 221.8 1378.8 222.4 1378.8C222.9 1378.8 223.4 1380.5 224.1 1380.6C224.8 1380.7 225.5 1379.9 226.4 1379.4C227.4 1378.9 228.7 1378.4 229.9 1377.7C231 1377 232.4 1376.3 233.4 1375.4C234.3 1374.4 234.9 1373.8 235.7 1371.9C236.4 1370 237.2 1368 238 1363.8C238.8 1359.6 239.5 1352.6 240.3 1346.5C241.1 1340.3 241.8 1333.5 242.6 1326.8C243.4 1320 244.2 1312.9 244.9 1306C245.7 1299 246.5 1291.9 247.2 1285.1C248 1278.4 248.2 1279.9 249.5 1265.5C250.9 1251 253.7 1212.6 255.1 1198.5C256.6 1184.4 257.1 1186.4 258 1181.2C259 1175.9 260.1 1172.1 260.9 1167.3C261.8 1162.5 262.6 1157.6 263.2 1152.2C263.9 1146.8 264.4 1140.7 265 1134.9C265.6 1129.1 266.1 1123.9 266.7 1117.5C267.3 1111.2 267.9 1103.5 268.4 1096.7C269 1090 269.7 1083.2 270.2 1077.1C270.7 1070.9 270.9 1063.6 271.3 1059.7C271.8 1055.8 272.5 1055.6 273.1 1053.9C273.7 1052.3 274.2 1050.1 274.8 1049.9C275.4 1049.7 276.1 1050.2 276.5 1052.8C277 1055.4 277.3 1060.5 277.7 1065.5C278.1 1070.5 278.4 1077.1 278.9 1082.8C279.3 1088.6 280.1 1094.8 280.6 1100.2C281.1 1105.6 281.3 1111.2 281.8 1115.2C282.2 1119.3 282.9 1121.9 283.5 1124.5C284.1 1127.1 284.5 1128.9 285.2 1130.8C285.9 1132.8 286.6 1134.6 287.5 1136C288.5 1137.5 289.8 1138.5 291 1139.5C292.2 1140.5 293.3 1140.9 294.5 1141.8C295.6 1142.8 296.8 1143.8 297.9 1145.3C299.1 1146.7 300.3 1149.3 301.4 1150.5C302.6 1151.7 303.7 1152.2 304.9 1152.2C306 1152.3 307.2 1151 308.4 1150.8C309.5 1150.7 310.7 1150.7 311.8 1151.1C313 1151.5 314.1 1152 315.3 1153.4C316.5 1154.7 317.8 1157.2 318.8 1159.2C319.7 1161.1 320.1 1163 321.1 1165C322 1166.9 323.2 1168.6 324.5 1170.7C325.9 1172.9 327.6 1175.6 329.2 1177.7C330.7 1179.8 332.3 1181.7 333.8 1183.5C335.3 1185.2 336.9 1186.5 338.4 1188.1C340 1189.6 341.5 1191.4 343.1 1192.7C344.6 1194.1 346.1 1195.2 347.7 1196.2C349.2 1197.2 350.8 1198.2 352.3 1198.5C353.9 1198.8 355.4 1198.7 356.9 1198.3C358.5 1197.9 360 1196.8 361.6 1196.2C363.1 1195.6 364.6 1195 366.2 1194.5C367.7 1193.9 369.3 1193.7 370.8 1192.7C372.4 1191.8 373.9 1190.2 375.4 1188.7C377 1187.1 378.5 1185.2 380.1 1183.5C381.6 1181.7 383.2 1179.9 384.7 1178.3C386.2 1176.6 385.8 1177.4 389.3 1173.6C392.8 1169.9 402.2 1160.1 405.8 1155.7C409.5 1151.4 409.4 1149.6 411.2 1147.6C413 1145.6 414.8 1144.5 416.6 1143.5C418.4 1142.6 420.2 1142 422 1141.9C423.8 1141.8 425.6 1142.4 427.4 1142.9C429.3 1143.3 431.1 1144.3 432.9 1144.6C434.7 1145 436 1144.4 438.3 1144.9C440.5 1145.3 444.1 1146.3 446.4 1147.3C448.6 1148.3 450 1149.6 451.8 1151C453.6 1152.4 455.4 1154 457.2 1155.7C459 1157.4 460.8 1159.3 462.6 1161.1C464.4 1162.9 466.2 1165.1 468 1166.5C469.8 1168 471.2 1169 473.4 1169.9C475.7 1170.8 478.8 1171.5 481.5 1171.9C484.2 1172.4 486.9 1172.7 489.6 1172.6C492.3 1172.6 495.1 1171.9 497.8 1171.7C500.5 1171.4 503.2 1171.3 505.9 1171.3C508.6 1171.2 511.3 1171.4 514 1171.3C516.7 1171.1 519.4 1170.9 522.1 1170.3C524.8 1169.8 527.7 1168.6 530.2 1167.9C532.7 1167.1 534.7 1166.4 537 1165.9C539.2 1165.3 541.2 1164.8 543.7 1164.5C546.2 1164.2 549.1 1164 551.8 1164.1C554.5 1164.2 557.2 1164.5 559.9 1164.9C562.7 1165.3 565.4 1165.6 568.1 1166.5C570.8 1167.5 573.7 1169 576.2 1170.6C578.7 1172.2 580.9 1174.1 582.9 1176C585 1177.9 586.5 1180.4 588.3 1182.1C590.1 1183.8 591.9 1185.2 593.8 1186.1C595.6 1187.1 597.4 1187.7 599.2 1187.9C601 1188.1 602.5 1188 604.6 1187.5C606.6 1187 609.1 1185.9 611.3 1184.8C613.6 1183.7 615.8 1182.2 618.1 1180.7C620.3 1179.3 622.6 1177.6 624.8 1176C627.1 1174.4 629.4 1172.7 631.6 1171.3C633.9 1169.8 636.1 1168.4 638.4 1167.2C640.6 1166 643.4 1164.7 645.1 1163.8C646.8 1163 647.9 1162.5 648.5 1162.2" fill="none" stroke="#ffc20a" stroke-width="3.2" stroke-linejoin="round" stroke-linecap="butt"/>
<path d="M124.9 1397.1C131.8 1397.1 155.5 1397 166.3 1396.8C177 1396.6 183.2 1396.2 189.4 1396C195.6 1395.7 199.8 1395.4 203.3 1395C206.8 1394.6 208.3 1394.2 210.2 1393.6C212.1 1393.1 213.5 1392.3 214.8 1391.6C216.2 1390.8 217.2 1389.8 218.3 1389.2C219.5 1388.7 220.6 1388.5 221.8 1388.1C222.9 1387.7 224.2 1387.5 225.3 1386.9C226.3 1386.4 227.3 1385.8 228.1 1384.6C229 1383.5 229.7 1381.9 230.5 1380C231.2 1378.1 232 1376.1 232.8 1373.1C233.5 1370 234.4 1365.9 235.1 1361.5C235.8 1357.1 236.2 1351.8 236.8 1346.5C237.4 1341.1 238 1334.9 238.6 1329.1C239.1 1323.3 239.7 1317.5 240.3 1311.8C240.9 1306 241.5 1300.2 242 1294.4C242.6 1288.6 243.2 1282.8 243.8 1277.1C244.3 1271.3 244.9 1265.5 245.5 1259.7C246.1 1253.9 246.6 1248.7 247.2 1242.4C247.9 1236 248.6 1230.9 249.4 1221.6C250.1 1212.4 250.9 1198.5 251.7 1186.9C252.4 1175.4 253.2 1162.8 254 1152.2C254.8 1141.6 255.5 1132.6 256.3 1123.3C257.1 1114.1 257.9 1103.8 258.6 1096.7C259.3 1089.6 259.8 1085.2 260.4 1080.5C260.9 1075.8 261.6 1070.9 262.1 1068.4C262.6 1065.9 262.8 1065.7 263.2 1065.5C263.7 1065.3 264.4 1066.5 265 1067.2C265.5 1067.9 266.1 1067.3 266.5 1069.5C266.9 1071.7 266.9 1075.6 267.3 1080.5C267.7 1085.4 268.4 1091.9 269 1099C269.7 1106.2 270.6 1115.4 271.3 1123.3C272.1 1131.2 272.9 1139.7 273.7 1146.5C274.4 1153.2 275.2 1158.4 276 1163.8C276.7 1169.2 277.5 1174.2 278.3 1178.8C279.1 1183.5 279.8 1187.7 280.6 1191.6C281.4 1195.4 282.1 1198.9 282.9 1202C283.7 1205.1 284.4 1207.8 285.2 1210.1C286 1212.4 286.8 1214.5 287.5 1215.9C288.3 1217.2 289.1 1218 289.8 1218.2C290.6 1218.4 291.4 1218.2 292.2 1217C292.9 1215.9 293.7 1213.5 294.5 1211.2C295.2 1208.9 296 1205.8 296.8 1203.1C297.6 1200.4 298.4 1197 299.1 1195C299.8 1193.1 300.2 1192.3 300.8 1191.6C301.5 1190.8 302.4 1190.8 303.1 1190.6C303.9 1190.4 304.7 1189.9 305.5 1190.4C306.2 1190.9 306.9 1192.1 307.8 1193.9C308.6 1195.6 309.6 1198.7 310.7 1200.8C311.7 1202.9 313 1204.8 314.1 1206.6C315.3 1208.4 316.5 1210.3 317.6 1211.8C318.8 1213.3 319.9 1214.7 321.1 1215.9C322.2 1217 323.4 1218 324.5 1218.7C325.7 1219.5 326.9 1220.1 328 1220.5C329.2 1220.9 330.3 1221.1 331.5 1221.1C332.6 1221 333.8 1220.7 335 1220.2C336.1 1219.8 337.1 1219.3 338.4 1218.2C339.8 1217 341.3 1215.1 343.1 1213.5C344.8 1212 346.9 1210.3 348.8 1208.9C350.8 1207.6 352.9 1207.2 354.6 1205.4C356.4 1203.7 357.9 1201.2 359.2 1198.5C360.6 1195.8 361.6 1192.7 362.7 1189.2C363.9 1185.8 365 1181.3 366.2 1177.7C367.3 1174 368.5 1170.2 369.7 1167.3C370.8 1164.4 371.8 1162.5 373.1 1160.3C374.5 1158.2 376.2 1156.1 377.8 1154.5C379.3 1153 380.8 1151.9 382.4 1151.1C383.9 1150.2 385.7 1149.7 387 1149.3C388.4 1149 389.4 1148.9 390.5 1149C391.5 1149.1 392.3 1149.3 393.4 1150.2C394.4 1151 395.7 1152.1 396.8 1154C398 1155.8 398.9 1158.1 400.4 1161.1C401.9 1164.1 404 1168.6 405.8 1171.9C407.6 1175.3 409.4 1178.7 411.2 1181.4C413 1184.1 414.8 1186.1 416.6 1188.2C418.4 1190.2 420 1191.9 422 1193.6C424.1 1195.3 426.5 1197.1 428.8 1198.3C431.1 1199.5 433.4 1200.4 435.6 1201C437.7 1201.6 439.6 1202.1 441.6 1202C443.7 1201.8 445.8 1201.2 447.7 1200.3C449.6 1199.5 451.3 1198.2 453.1 1197C454.9 1195.7 456.7 1194.1 458.5 1192.9C460.3 1191.7 461.9 1190.3 464 1189.5C466 1188.7 468.2 1188.4 470.7 1188.2C473.2 1187.9 476.1 1188.1 478.8 1187.9C481.5 1187.7 484.5 1187.3 486.9 1186.8C489.4 1186.3 491.7 1185.8 493.7 1184.8C495.7 1183.8 497.3 1182.2 499.1 1180.7C500.9 1179.3 502.7 1177.3 504.5 1176C506.3 1174.7 508.1 1173.7 509.9 1173C511.7 1172.3 513.5 1172 515.3 1171.9C517.1 1171.9 518.9 1172.1 520.7 1172.6C522.5 1173.2 524.3 1174.1 526.1 1175.3C528 1176.6 529.8 1178.4 531.6 1180.1C533.4 1181.7 535.2 1183.7 537 1185.5C538.8 1187.3 540.6 1189.3 542.4 1190.9C544.2 1192.4 546 1193.8 547.8 1194.9C549.6 1196 551.5 1196.9 553.2 1197.4C554.9 1197.9 556.3 1198.1 557.9 1197.9C559.5 1197.7 561 1197.4 562.7 1196.3C564.3 1195.1 566.3 1192.9 568.1 1190.9C569.9 1188.8 571.7 1186.2 573.5 1184.1C575.3 1182 577.1 1179.6 578.9 1178C580.7 1176.4 582.5 1175.3 584.3 1174.6C586.1 1174 587.9 1173.9 589.7 1174C591.5 1174.1 593.1 1174.6 595.1 1175.3C597.1 1176 599.6 1177.2 601.9 1178C604.1 1178.9 606.6 1179.9 608.6 1180.3C610.7 1180.8 612 1181 614 1180.7C616.1 1180.5 618.5 1179.4 620.8 1178.7C623 1178 625.1 1177.1 627.6 1176.3C630 1175.5 633.2 1174.6 635.7 1174C638.1 1173.3 640.3 1172.7 642.4 1172.2C644.6 1171.8 647.5 1171.4 648.5 1171.3" fill="none" stroke="#0cba55" stroke-width="3.2" stroke-linejoin="round" stroke-linecap="butt"/>
</g>
<rect x="389.3" y="1212.9" width="243" height="178.7" fill="#fff" stroke="none"/>
<clipPath id="kii"><rect x="389.3" y="1212.9" width="243" height="178.7"/></clipPath>
<g clip-path="url(#kii)">
<path d="M389.3 1377.9C391.8 1377.8 414.8 1377.5 419.1 1377.4C423.4 1377.3 438.6 1376.5 441.2 1376.3C443.9 1376.1 449.1 1375.5 450.7 1375C452.3 1374.6 458.6 1371.6 460.2 1371.1C461.8 1370.5 468.1 1368.8 469.7 1368.7C471.3 1368.6 477.9 1369.6 479.2 1369.5C480.5 1369.4 484.5 1368.4 485.5 1367.9C486.6 1367.4 490.7 1364.3 491.8 1363.2C493 1362 498.7 1355.3 499.7 1353.7C500.8 1352.1 503.6 1345.5 504.5 1344.2C505.3 1342.8 509.2 1337.9 510 1337.5C510.8 1337.1 513.3 1339 514 1339.4C514.7 1339.9 517.9 1342.3 518.7 1342.6C519.5 1342.9 522.7 1343.3 523.5 1343.4C524.3 1343.5 527 1344.3 528.2 1343.9C529.4 1343.4 536.1 1339.1 537.7 1337.9C539.3 1336.6 545.6 1329.9 547.2 1328.4C548.8 1326.8 555.1 1320.3 556.7 1318.9C558.3 1317.4 564.6 1312.6 566.2 1311C567.8 1309.4 574.1 1301.9 575.7 1299.9C577.2 1297.9 583.6 1289 585.2 1287.2C586.7 1285.5 592.9 1279.9 594.6 1278.5C596.4 1277.2 603.9 1272.2 605.7 1271.4C607.5 1270.6 614.4 1268.9 616 1268.7C617.6 1268.6 623.3 1269.6 624.7 1269.8C626.1 1270.1 631.7 1272 632.3 1272.2" fill="none" stroke="#22b4f0" stroke-width="1.7" stroke-linejoin="round" stroke-linecap="butt"/>
<path d="M389.3 1377.9C391.8 1377.8 414.8 1377.5 419.1 1377.4C423.4 1377.3 438.6 1376.8 441.2 1376.6C443.9 1376.4 449.1 1375.6 450.7 1375C452.3 1374.5 458.6 1370.8 460.2 1370.3C461.8 1369.7 468.1 1368.3 469.7 1368.2C471.3 1368.1 477.5 1369.3 479.2 1369.2C480.9 1369 488.5 1367 490.3 1366.3C492 1365.6 498.1 1361.7 499.7 1360.8C501.4 1359.8 508.4 1355.7 510 1354.9C511.6 1354.2 517.2 1352.5 518.7 1351.8C520.2 1351 526.6 1346.9 528.2 1345.8C529.8 1344.7 536.1 1340.1 537.7 1338.6C539.3 1337.2 545.6 1330.1 547.2 1328.4C548.8 1326.7 555.1 1319.8 556.7 1318.1C558.3 1316.4 564.6 1309.5 566.2 1307.8C567.8 1306.2 574.1 1299.9 575.7 1298.3C577.2 1296.7 583.6 1290.2 585.2 1288.8C586.7 1287.4 592.9 1282.8 594.6 1281.7C596.4 1280.7 603.9 1276.7 605.7 1276.2C607.5 1275.6 614.4 1274.9 616 1274.9C617.6 1274.9 623.3 1275.6 624.7 1275.9C626.1 1276.1 631.7 1277.3 632.3 1277.4" fill="none" stroke="#8a22e6" stroke-width="1.7" stroke-linejoin="round" stroke-linecap="butt"/>
<path d="M389.3 1377.4C391.2 1377.3 408.4 1376.7 411.2 1376.6C413.9 1376.5 420.5 1376 422.2 1375.8C424 1375.6 430.2 1374.9 431.7 1374.6C433.3 1374.2 439.6 1372 441.2 1371.1C442.8 1370.1 449.1 1364.5 450.7 1363.2C452.3 1361.8 458.6 1355.7 460.2 1354.5C461.8 1353.3 468.1 1349.6 469.7 1348.9C471.3 1348.3 477.5 1346.8 479.2 1346.6C480.9 1346.3 488.5 1345.8 490.3 1345.4C492 1345.1 498.1 1343.3 499.7 1342.6C501.4 1341.9 508.4 1338.1 510 1337.1C511.6 1336.1 517.2 1331.9 518.7 1330.7C520.2 1329.6 526.6 1324.7 528.2 1323.6C529.8 1322.6 536.1 1318.9 537.7 1318.1C539.3 1317.3 545.6 1314.9 547.2 1314.1C548.8 1313.3 555.1 1309.5 556.7 1308.6C558.3 1307.7 564.6 1304.6 566.2 1303.9C567.8 1303.1 574.1 1300.5 575.7 1299.9C577.2 1299.3 583.6 1297.1 585.2 1296.7C586.7 1296.3 592.9 1295.4 594.6 1295.2C596.4 1294.9 603.7 1294.1 605.7 1293.9C607.7 1293.7 616.2 1293.3 618.4 1293.1C620.6 1292.9 631.1 1292.1 632.3 1292" fill="none" stroke="#ff2d8e" stroke-width="1.7" stroke-linejoin="round" stroke-linecap="butt"/>
<path d="M389.3 1377.9C391.8 1377.8 414 1377.6 419.1 1377.4C424.2 1377.2 447.3 1376.2 450.7 1375.8C454.1 1375.4 458.6 1373.1 460.2 1372.7C461.8 1372.2 468.1 1370.9 469.7 1370.8C471.3 1370.6 477.5 1371.4 479.2 1371.4C480.9 1371.4 488.5 1371.2 490.3 1371.1C492 1371 498.1 1370.4 499.7 1370.3C501.4 1370.1 508.4 1369.6 510 1369.2C511.6 1368.8 517.2 1366.6 518.7 1365.5C520.2 1364.4 526.6 1357.7 528.2 1356C529.8 1354.4 536.1 1347.5 537.7 1345.8C539.3 1344 545.6 1336.5 547.2 1334.7C548.8 1332.8 555.1 1325.7 556.7 1323.6C558.3 1321.6 564.6 1312.5 566.2 1310.2C567.8 1307.9 574.1 1297.9 575.7 1295.9C577.2 1294 583.6 1287.8 585.2 1286.5C586.7 1285.1 592.9 1280.9 594.6 1279.3C596.4 1277.8 603.9 1270.6 605.7 1268.3C607.5 1265.9 614.3 1253.6 616 1250.9C617.7 1248.1 624.9 1236.5 626.3 1235.1C627.6 1233.6 631.8 1233.3 632.3 1233.2" fill="none" stroke="#ffc20a" stroke-width="1.7" stroke-linejoin="round" stroke-linecap="butt"/>
<path d="M389.3 1377.9C391.8 1377.8 414 1377.5 419.1 1377.4C424.2 1377.3 446.5 1376.4 450.7 1376.1C454.9 1375.9 467.1 1374.7 469.7 1374.6C472.3 1374.4 480.5 1374.1 482.3 1373.9C484.2 1373.7 490.4 1372.3 491.8 1371.9C493.3 1371.4 498.2 1369.4 499.7 1368.7C501.3 1368 508.4 1364.3 510 1363.2C511.6 1362 517.2 1356.8 518.7 1355.3C520.2 1353.7 526.6 1346 528.2 1344.2C529.8 1342.3 536.1 1335.1 537.7 1333.1C539.3 1331.1 545.6 1323.2 547.2 1320.5C548.8 1317.7 555.1 1303.3 556.7 1299.9C558.3 1296.5 564.6 1282.2 566.2 1279.3C567.8 1276.5 574.1 1268.1 575.7 1265.9C577.2 1263.7 583.4 1255.5 585.2 1253.2C586.9 1250.9 595.2 1239.3 597 1238.2C598.9 1237.1 605.7 1238.7 607.3 1239.8C608.9 1240.9 614.5 1249.5 616 1251.7C617.4 1253.8 623.3 1264 624.7 1265.9C626.1 1267.8 631.7 1273.9 632.3 1274.6" fill="none" stroke="#0cba55" stroke-width="1.7" stroke-linejoin="round" stroke-linecap="butt"/>
</g>
<rect x="389.3" y="1212.9" width="243" height="178.7" fill="none" stroke="#222" stroke-width="1.5"/>
<path d="M405.6 1391.6v4.2M470.5 1391.6v4.2M535.3 1391.6v4.2M600.2 1391.6v4.2" stroke="#000" stroke-width="1.3" fill="none"/>
<path d="M438 1391.6v2.4M502.9 1391.6v2.4M567.8 1391.6v2.4M632.6 1391.6v2.4" stroke="#000" stroke-width="1.3" fill="none"/>
<path d="M389.3 1377.9h-4.2M389.3 1350.4h-4.2M389.3 1322.9h-4.2M389.3 1295.4h-4.2M389.3 1267.9h-4.2M389.3 1240.4h-4.2M389.3 1212.9h-4.2" stroke="#000" stroke-width="1.3" fill="none"/>
<path d="M389.3 1364.2h-2.4M389.3 1336.7h-2.4M389.3 1309.2h-2.4M389.3 1281.7h-2.4M389.3 1254.2h-2.4M389.3 1226.7h-2.4" stroke="#000" stroke-width="1.3" fill="none"/>
<text x="406.1" y="1409" font-size="14.5" text-anchor="middle" fill="#222">7704</text>
<text x="471" y="1409" font-size="14.5" text-anchor="middle" fill="#222">7712</text>
<text x="535.8" y="1409" font-size="14.5" text-anchor="middle" fill="#222">7720</text>
<text x="600.7" y="1409" font-size="14.5" text-anchor="middle" fill="#222">7728</text>
<text x="383.2" y="1382.9" font-size="14.5" text-anchor="end" fill="#222">0.0</text>
<text x="383.2" y="1355.4" font-size="14.5" text-anchor="end" fill="#222">0.3</text>
<text x="383.2" y="1327.9" font-size="14.5" text-anchor="end" fill="#222">0.6</text>
<text x="383.2" y="1300.4" font-size="14.5" text-anchor="end" fill="#222">0.9</text>
<text x="383.2" y="1272.9" font-size="14.5" text-anchor="end" fill="#222">1.2</text>
<text x="383.2" y="1245.4" font-size="14.5" text-anchor="end" fill="#222">1.5</text>
<text x="383.2" y="1217.9" font-size="14.5" text-anchor="end" fill="#222">1.8</text>
<text x="511.6" y="1421.4" font-size="14" text-anchor="middle" fill="#222">Energy (eV)</text>
<text font-size="14" text-anchor="middle" fill="#222" transform="translate(360 1297.5) rotate(-90)">Intensity (a.u.)</text>
<path d="M398.5 1230.6H418.8" stroke="#22b4f0" stroke-width="2" fill="none"/>
<text x="423.5" y="1233.8" font-size="15.8" fill="#222">Co-Ph</text>
<path d="M398.5 1250.9H418.8" stroke="#8a22e6" stroke-width="2" fill="none"/>
<text x="423.5" y="1252.9" font-size="15.8" fill="#222">CuN<tspan font-size="9" dy="3">4</tspan><tspan dy="-3">&#8203;</tspan>/CoN<tspan font-size="9" dy="3">4</tspan><tspan dy="-3">&#8203;</tspan>@NC</text>
<path d="M398.5 1275.1H418.8" stroke="#ff2d8e" stroke-width="2" fill="none"/>
<text x="423.5" y="1278.1" font-size="15.8" fill="#222">Co foil</text>
<path d="M398.5 1295.5H418.8" stroke="#ffc20a" stroke-width="2" fill="none"/>
<text x="423.5" y="1297.8" font-size="15.8" fill="#222">Co<tspan font-size="9" dy="3">3</tspan><tspan dy="-3">&#8203;</tspan>O<tspan font-size="9" dy="3">4</tspan><tspan dy="-3">&#8203;</tspan></text>
<path d="M398.5 1319.7H418.8" stroke="#0cba55" stroke-width="2" fill="none"/>
<text x="423.5" y="1322.5" font-size="15.8" fill="#222">CoO</text>
<clipPath id="kj"><rect x="791.8" y="1006.8" width="523.6" height="421.6"/></clipPath>
<g clip-path="url(#kj)">
<path d="M792 1372.3C793 1372.9 795.8 1374.4 797.6 1375.8C799.5 1377.2 801.4 1379.6 803.2 1380.7C805.1 1381.9 807 1383.2 808.9 1382.8C810.7 1382.5 812.6 1380.6 814.5 1378.6C816.3 1376.6 818.2 1373 820.1 1370.9C821.9 1368.8 824.1 1366.8 825.7 1366C827.3 1365.2 828.3 1365.2 829.9 1366C831.5 1366.8 833.6 1369.4 835.5 1370.9C837.4 1372.4 839.5 1375.1 841.1 1375.1C842.8 1375.1 843.9 1373.7 845.3 1370.9C846.7 1368.1 848.1 1363.2 849.5 1358.3C850.9 1353.4 852.3 1347.3 853.8 1341.5C855.2 1335.6 856.6 1329.1 858 1323.2C859.4 1317.4 860.8 1311.3 862.2 1306.4C863.6 1301.5 865 1297.3 866.4 1293.8C867.8 1290.2 869.2 1287.7 870.6 1285.3C872 1283 873.4 1281.4 874.8 1279.7C876.2 1278.1 877.6 1276.9 879 1275.5C880.4 1274.1 881.8 1273.2 883.2 1271.3C884.6 1269.4 886 1267.3 887.4 1264.3C888.8 1261.2 889.2 1263.3 891.6 1253.1C894.1 1242.9 899.6 1213.8 902.1 1203.1C904.5 1192.4 904.9 1193.1 906.3 1189.1C907.7 1185.1 909.1 1181.7 910.5 1179.3C911.9 1176.8 913.4 1175.3 914.7 1174.3C916 1173.4 917.1 1173.3 918.2 1173.6C919.4 1174 920.6 1174.6 921.7 1176.5C922.9 1178.3 924.1 1181.4 925.2 1184.9C926.4 1188.4 927.7 1193.1 928.8 1197.5C929.8 1201.9 930.6 1206.4 931.6 1211.5C932.5 1216.7 933.4 1222.5 934.4 1228.4C935.3 1234.2 935.4 1232 937.2 1246.6C938.9 1261.2 943 1299.9 944.9 1316.2C946.9 1332.5 947.8 1336.1 949.2 1344.3C950.6 1352.4 952 1359.2 953.4 1365.3C954.8 1371.4 956.3 1376.8 957.6 1380.7C958.9 1384.7 959.9 1387.8 961.1 1389.2C962.3 1390.6 963.3 1389.5 964.6 1389.2C965.9 1388.8 967.4 1387.1 968.8 1387.1C970.2 1387.1 971.6 1388.3 973 1389.2C974.4 1390 976.2 1391.4 977.2 1392C978.3 1392.5 978.4 1393.2 979.3 1392.2C980.3 1391.3 981.5 1389.7 982.8 1386.4C984.1 1383 985.6 1377.7 987 1372.3C988.4 1366.9 989.8 1360.2 991.2 1354.1C992.7 1348 994.1 1341.5 995.5 1335.8C996.9 1330.2 998.3 1324.6 999.7 1320.4C1001.1 1316.2 1002.5 1313.2 1003.9 1310.6C1005.3 1308 1006.7 1306.1 1008.1 1305C1009.5 1303.8 1010.9 1303.3 1012.3 1303.6C1013.7 1303.8 1015.1 1304.5 1016.5 1306.4C1017.9 1308.2 1019.3 1311.3 1020.7 1314.8C1022.1 1318.3 1023.5 1323 1024.9 1327.4C1026.3 1331.9 1027.7 1336.8 1029.1 1341.5C1030.5 1346.1 1031.9 1351 1033.3 1355.5C1034.7 1359.9 1036.1 1364.7 1037.6 1368.1C1039 1371.5 1040.4 1374.1 1041.8 1375.8C1043.2 1377.6 1043.2 1380.2 1046 1378.6C1048.7 1377.1 1055.5 1368.9 1058.4 1366.7C1061.3 1364.5 1061.7 1365.3 1063.3 1365.3C1065 1365.3 1066.5 1365.8 1068.2 1366.7C1070 1367.6 1072 1369.9 1073.9 1370.9C1075.7 1372 1077.6 1372.8 1079.5 1373C1081.3 1373.3 1083.2 1373.1 1085.1 1372.3C1086.9 1371.5 1088.8 1369.5 1090.7 1368.1C1092.6 1366.7 1094.4 1365.1 1096.3 1363.9C1098.2 1362.7 1100.3 1361.6 1101.9 1361.1C1103.6 1360.6 1104.5 1360.5 1106.1 1360.8C1107.8 1361.2 1109.9 1361.8 1111.7 1363.2C1113.6 1364.7 1115.5 1367.1 1117.3 1369.5C1119.2 1372 1121.1 1375.1 1123 1377.9C1124.8 1380.7 1126.7 1384 1128.6 1386.4C1130.4 1388.7 1132.3 1390.7 1134.2 1392C1136.1 1393.3 1137.5 1393.6 1139.8 1394.1C1142.1 1394.5 1145.4 1394.6 1148.2 1394.5C1151 1394.4 1154.1 1394.1 1156.6 1393.4C1159.2 1392.6 1161.5 1391.5 1163.6 1389.9C1165.8 1388.2 1167.4 1386 1169.3 1383.5C1171.1 1381.1 1173 1377.9 1174.9 1375.1C1176.7 1372.3 1178.6 1369 1180.5 1366.7C1182.4 1364.4 1184.2 1362.5 1186.1 1361.1C1188 1359.7 1189.8 1358.9 1191.7 1358.3C1193.6 1357.6 1195.5 1357.2 1197.3 1357.2C1199.2 1357.2 1201.1 1357.4 1202.9 1358.3C1204.8 1359.2 1206.7 1360.6 1208.5 1362.5C1210.4 1364.4 1212.3 1366.7 1214.2 1369.5C1216 1372.3 1217.9 1375.8 1219.8 1379.3C1221.6 1382.8 1223.6 1387.2 1225.4 1390.6C1227.1 1394 1228.9 1397.5 1230.3 1399.7C1231.7 1401.8 1232.6 1403 1233.8 1403.5C1235 1403.9 1236.1 1403.7 1237.3 1402.5C1238.5 1401.3 1239.5 1398.3 1240.8 1396.2C1242.1 1394.1 1243.4 1391.6 1245 1389.9C1246.7 1388.1 1248.5 1386.6 1250.6 1385.7C1252.7 1384.7 1255.3 1384.2 1257.7 1384.2C1260 1384.2 1262.3 1385.1 1264.7 1385.7C1267 1386.2 1269.3 1387.2 1271.7 1387.8C1274 1388.3 1276.4 1388.9 1278.7 1388.9C1281 1388.9 1283.4 1388.2 1285.7 1387.8C1288.1 1387.3 1290.4 1386.4 1292.7 1386.1C1295.1 1385.7 1297.6 1385.4 1299.7 1385.7C1301.8 1385.9 1303.5 1386.8 1305.4 1387.8C1307.2 1388.7 1309.3 1390.3 1311 1391.3C1312.6 1392.2 1314.5 1393 1315.2 1393.4" fill="none" stroke="#22b4f0" stroke-width="3" stroke-linejoin="round" stroke-linecap="butt"/>
<path d="M792 1403.5C793.2 1403.5 796.7 1403.8 799 1403.9C801.4 1404 803.7 1404.4 806 1404.3C808.4 1404.2 810.3 1403.4 813.1 1403.2C815.9 1403 819.8 1402.8 822.9 1402.9C825.9 1403 828.7 1404 831.3 1403.9C833.9 1403.8 836 1402.7 838.3 1402.1C840.7 1401.4 842.8 1400.4 845.3 1400.1C847.9 1399.8 850.9 1400.1 853.8 1400.4C856.6 1400.7 859.6 1402 862.2 1402.1C864.7 1402.1 866.8 1401.1 869.2 1400.7C871.5 1400.3 873.9 1399.5 876.2 1399.7C878.5 1399.8 881.2 1401 883.2 1401.5C885.2 1402 886.5 1402.7 888.1 1402.5C889.8 1402.3 891.3 1401 893 1400.1C894.8 1399.2 896.8 1397.5 898.6 1396.9C900.5 1396.2 902.4 1396.1 904.3 1396.2C906.1 1396.2 908.2 1397.2 909.9 1397.3C911.5 1397.4 912.7 1397.8 914.1 1396.9C915.5 1396 916.9 1394.2 918.3 1392C919.7 1389.7 921.1 1386.4 922.5 1383.5C923.9 1380.7 925.3 1377.7 926.7 1375.1C928.1 1372.6 929.5 1370.1 930.9 1368.1C932.3 1366.1 933.5 1364.8 935.1 1363.2C936.8 1361.6 939.1 1360.3 940.7 1358.3C942.4 1356.3 943.5 1354.8 944.9 1351.3C946.4 1347.8 947.8 1343.1 949.2 1337.2C950.6 1331.4 952 1324.4 953.4 1316.2C954.8 1308 954.8 1307.5 957.6 1288.1C960.4 1268.8 967.5 1217.5 970.1 1200.3C972.8 1183.1 972.5 1188.8 973.6 1184.9C974.8 1180.9 975.9 1178.3 977.2 1176.5C978.4 1174.6 979.7 1173.4 980.9 1173.6C982.2 1173.9 983.6 1175.3 984.9 1177.9C986.1 1180.4 987.2 1184.2 988.4 1189.1C989.5 1194 989.3 1192 991.9 1207.3C994.5 1222.7 1001.2 1263 1003.9 1281.1C1006.6 1299.3 1006.7 1305 1008.1 1316.2C1009.5 1327.4 1010.9 1338.9 1012.3 1348.5C1013.7 1358.1 1015.1 1366.9 1016.5 1373.7C1017.9 1380.5 1019.3 1385.9 1020.7 1389.2C1022.1 1392.4 1023.3 1392.9 1024.9 1393.4C1026.6 1393.9 1028.4 1392.4 1030.5 1392.2C1032.6 1392.1 1035.2 1392.5 1037.6 1392.7C1039.9 1392.9 1040.6 1394.7 1044.6 1393.4C1048.5 1392.1 1057.5 1388 1061.2 1384.9C1064.9 1381.9 1065 1377.8 1066.8 1375.1C1068.7 1372.4 1070.6 1370.3 1072.4 1368.8C1074.3 1367.3 1076.2 1366.5 1078.1 1366C1079.9 1365.5 1081.8 1365.2 1083.7 1366C1085.5 1366.8 1087.4 1369 1089.3 1370.9C1091.2 1372.8 1093 1375.4 1094.9 1377.2C1096.8 1379.1 1098.6 1381 1100.5 1382.1C1102.4 1383.2 1104.3 1383.9 1106.1 1383.8C1108 1383.7 1109.9 1383.1 1111.7 1381.4C1113.6 1379.8 1115.5 1377.1 1117.3 1373.7C1119.2 1370.3 1121.1 1365.3 1123 1361.1C1124.8 1356.9 1126.7 1352.2 1128.6 1348.5C1130.4 1344.7 1132.3 1341.1 1134.2 1338.6C1136.1 1336.2 1138 1334.8 1139.8 1333.7C1141.5 1332.7 1143.1 1332.2 1144.7 1332.3C1146.3 1332.5 1147.9 1332.9 1149.6 1334.4C1151.4 1336 1153.4 1338.9 1155.2 1341.5C1157.1 1344 1159 1347.5 1160.8 1349.9C1162.7 1352.2 1164.6 1354.2 1166.5 1355.5C1168.3 1356.8 1170 1357.3 1172.1 1357.6C1174.2 1357.9 1176.7 1357.3 1179.1 1357.2C1181.4 1357.1 1183.8 1356.8 1186.1 1356.9C1188.4 1357 1191 1357.1 1193.1 1357.6C1195.2 1358.1 1196.9 1358.6 1198.7 1359.7C1200.6 1360.7 1202.5 1362.3 1204.3 1363.9C1206.2 1365.5 1208.1 1367.6 1209.9 1369.5C1211.8 1371.4 1213.7 1373.3 1215.6 1375.1C1217.4 1377 1219.3 1378.9 1221.2 1380.7C1223 1382.6 1224.9 1384.7 1226.8 1386.4C1228.7 1388 1230.3 1389.5 1232.4 1390.6C1234.5 1391.6 1237.1 1392.2 1239.4 1392.7C1241.8 1393.1 1244.1 1393.1 1246.4 1393.4C1248.8 1393.7 1251.1 1394.1 1253.4 1394.5C1255.8 1394.8 1258.1 1395 1260.5 1395.5C1262.8 1395.9 1265.1 1396.7 1267.5 1397.3C1269.8 1397.9 1271.9 1398.7 1274.5 1399.3C1277.1 1399.8 1280.1 1400.2 1282.9 1400.4C1285.7 1400.5 1288.5 1400.2 1291.3 1400.1C1294.1 1400 1296.9 1399.6 1299.7 1399.7C1302.6 1399.7 1305.6 1400.1 1308.2 1400.4C1310.7 1400.7 1314 1401.3 1315.2 1401.5" fill="none" stroke="#ff2d8e" stroke-width="3" stroke-linejoin="round" stroke-linecap="butt"/>
<path d="M792 1402.5C793.7 1402.4 798.8 1402.2 801.8 1402.1C804.9 1401.9 807.4 1401.3 810.3 1401.5C813.1 1401.7 815.9 1403.4 818.7 1403.2C821.5 1403 824.3 1401.1 827.1 1400.4C829.9 1399.7 832.7 1398.9 835.5 1399C838.3 1399.1 841.4 1401 843.9 1401.1C846.5 1401.2 848.8 1400.9 850.9 1399.7C853 1398.5 854.7 1396.5 856.6 1394.1C858.4 1391.6 860.3 1388.3 862.2 1384.9C864 1381.6 865.9 1377.7 867.8 1373.7C869.7 1369.7 871.5 1365.1 873.4 1361.1C875.3 1357.1 877.1 1353.1 879 1349.9C880.9 1346.6 882.7 1343.6 884.6 1341.5C886.5 1339.3 888.4 1338.1 890.2 1337.2C892.1 1336.4 894.2 1336.3 895.8 1336.5C897.5 1336.8 898.6 1338.1 900.1 1338.6C901.5 1339.2 902.9 1340.5 904.3 1340.1C905.7 1339.6 907.1 1338.6 908.5 1335.8C909.9 1333 911.3 1328.6 912.7 1323.2C914.1 1317.8 915.5 1310.6 916.9 1303.6C918.3 1296.6 919.7 1288.1 921.1 1281.1C922.5 1274.1 923.9 1266.9 925.3 1261.5C926.7 1256.1 928.1 1251.9 929.5 1248.9C930.9 1245.8 932.6 1244.1 933.7 1243.2C934.9 1242.4 935.6 1243 936.5 1243.9C937.5 1244.9 938.2 1245 939.3 1248.9C940.5 1252.7 942.1 1259.4 943.5 1267.1C944.9 1274.8 946.4 1285.3 947.8 1295.2C949.2 1305 950.6 1316.2 952 1326C953.4 1335.8 954.8 1345.2 956.2 1354.1C957.6 1363 959.1 1372.8 960.4 1379.3C961.7 1385.9 963 1390.7 963.9 1393.4C964.8 1396.1 965.2 1396.6 966 1395.5C966.8 1394.3 967.6 1390.2 968.8 1386.4C970 1382.5 971.6 1377 973 1372.3C974.4 1367.6 975.8 1364.1 977.2 1358.3C978.6 1352.4 980 1346.6 981.4 1337.2C982.8 1327.9 984.2 1313.9 985.6 1302.2C987 1290.5 987.4 1288.7 989.8 1267.1C992.3 1245.4 998 1193.7 1000.3 1172.2C1002.6 1150.8 1002.6 1148.6 1003.8 1138.6C1005 1128.5 1006.2 1119.2 1007.3 1111.9C1008.5 1104.7 1009.7 1099.4 1010.8 1095.1C1012 1090.8 1013.2 1087.8 1014.3 1086C1015.4 1084.1 1016.4 1083.7 1017.4 1083.9C1018.5 1084 1019.5 1084.3 1020.7 1086.7C1021.8 1089 1023 1093 1024.2 1097.9C1025.3 1102.8 1026.5 1108.9 1027.7 1116.1C1028.8 1123.4 1030 1132.5 1031.2 1141.4C1032.3 1150.3 1033.5 1160.1 1034.7 1169.4C1035.9 1178.8 1037 1188.1 1038.2 1197.5C1039.4 1206.9 1038.8 1209.3 1041.7 1225.6C1044.6 1241.8 1052.4 1278.9 1055.6 1295.2C1058.9 1311.4 1059.4 1313.9 1061.2 1323.2C1063.1 1332.6 1065 1342.9 1066.8 1351.3C1068.7 1359.7 1070.8 1368.5 1072.4 1373.7C1074.1 1379 1075.4 1381.9 1076.7 1382.8C1077.9 1383.8 1078.9 1382.3 1080.2 1379.3C1081.5 1376.4 1082.9 1370.7 1084.4 1365.3C1085.9 1359.9 1087.5 1352.7 1089.3 1347.1C1091 1341.5 1093 1336.1 1094.9 1331.6C1096.8 1327.2 1098.6 1323.6 1100.5 1320.4C1102.4 1317.3 1104.3 1314.8 1106.1 1312.7C1108 1310.6 1109.9 1308.9 1111.7 1307.8C1113.6 1306.6 1115.5 1306 1117.3 1305.7C1119.2 1305.3 1121.1 1305.3 1123 1305.7C1124.8 1306 1126.7 1306.8 1128.6 1307.8C1130.4 1308.7 1132.1 1310.2 1134.2 1311.3C1136.3 1312.3 1138.9 1313.4 1141.2 1314.1C1143.5 1314.8 1145.9 1315.4 1148.2 1315.5C1150.6 1315.6 1152.9 1315 1155.2 1314.8C1157.6 1314.6 1159.9 1314.3 1162.2 1314.1C1164.6 1313.9 1167.2 1314 1169.3 1313.4C1171.4 1312.8 1173 1312.5 1174.9 1310.6C1176.7 1308.7 1178.6 1305.4 1180.5 1302.2C1182.4 1298.9 1184.2 1294.7 1186.1 1290.9C1188 1287.2 1189.8 1282.9 1191.7 1279.7C1193.6 1276.6 1195.3 1273.8 1197.3 1272C1199.3 1270.2 1201.8 1269.3 1203.6 1269.2C1205.5 1269.1 1206.8 1269.3 1208.5 1271.3C1210.3 1273.3 1212.3 1276.7 1214.2 1281.1C1216 1285.6 1217.9 1291.4 1219.8 1298C1221.6 1304.5 1223.5 1312.2 1225.4 1320.4C1227.3 1328.6 1229.1 1338.4 1231 1347.1C1232.9 1355.7 1235 1365.1 1236.6 1372.3C1238.2 1379.6 1239.8 1386.8 1240.8 1390.6C1241.9 1394.3 1242.1 1395.9 1242.9 1394.8C1243.7 1393.6 1244.7 1388.9 1245.7 1383.5C1246.8 1378.2 1247.9 1370 1249.2 1362.5C1250.5 1355 1252 1345.7 1253.4 1338.6C1254.8 1331.6 1256.2 1325.6 1257.7 1320.4C1259.1 1315.3 1260.2 1311.1 1261.9 1307.8C1263.5 1304.5 1265.6 1302.2 1267.5 1300.8C1269.3 1299.3 1271.3 1298.8 1273.1 1299.1C1274.8 1299.3 1276.4 1300 1278 1302.2C1279.6 1304.3 1281.2 1307.5 1282.9 1312C1284.7 1316.4 1286.6 1322.5 1288.5 1328.8C1290.4 1335.1 1292.3 1342.9 1294.1 1349.9C1296 1356.9 1297.9 1364.6 1299.7 1370.9C1301.6 1377.2 1303.7 1384 1305.4 1387.8C1307 1391.5 1308.3 1393.1 1309.6 1393.4C1310.9 1393.6 1312.1 1390.8 1313.1 1389.2C1314 1387.5 1314.8 1384.5 1315.2 1383.5" fill="none" stroke="#0cba55" stroke-width="3" stroke-linejoin="round" stroke-linecap="butt"/>
<path d="M792 1403.2C793.2 1402.8 796.7 1401.5 799 1400.7C801.4 1399.8 803.7 1398.8 806 1398.3C808.4 1397.7 810.7 1397.1 813.1 1397.3C815.4 1397.5 818 1398.9 820.1 1399.7C822.2 1400.5 823.8 1402.2 825.7 1402.1C827.6 1401.9 829.2 1400.8 831.3 1399C833.4 1397.2 836 1393 838.3 1391.3C840.7 1389.5 843.2 1388.3 845.3 1388.5C847.4 1388.6 849.3 1390.2 850.9 1392C852.6 1393.7 854 1397.6 855.2 1399C856.3 1400.4 856.9 1401.3 858 1400.4C859 1399.4 860.3 1396.9 861.5 1393.4C862.6 1389.9 863.7 1384 865 1379.3C866.3 1374.7 867.8 1369.7 869.2 1365.3C870.6 1360.9 872 1356 873.4 1352.7C874.8 1349.4 876.2 1347.2 877.6 1345.7C879 1344.1 880.4 1343.9 881.8 1343.6C883.2 1343.2 884.7 1343.7 886 1343.6C887.3 1343.4 888.4 1343.9 889.5 1342.9C890.7 1341.8 891.7 1341.7 893 1337.2C894.3 1332.8 896.1 1323.2 897.2 1316.2C898.4 1309.2 899.1 1302.6 900.1 1295.2C901 1287.7 900.8 1289.4 902.9 1271.3C905 1253.2 910.4 1204 912.6 1186.3C914.8 1168.6 915 1171.3 916.1 1165.2C917.3 1159.1 918.5 1153.8 919.6 1149.8C920.8 1145.8 922.2 1143 923.1 1141.4C924.1 1139.8 924.4 1140 925.2 1140.3C926.1 1140.5 927.1 1141 928 1142.8C929 1144.6 929.9 1147.2 930.9 1151.2C931.8 1155.2 932.7 1160.8 933.7 1166.6C934.6 1172.5 935.5 1179.5 936.5 1186.3C937.4 1193.1 938.3 1199.8 939.3 1207.3C940.2 1214.8 940.2 1214.2 942.1 1231.2C944 1248.2 948.4 1293.4 950.6 1309.2C952.7 1325 953.4 1322.7 954.8 1326C956.2 1329.3 957.7 1328.2 959 1328.8C960.3 1329.4 961.3 1328.4 962.5 1329.5C963.7 1330.7 964.8 1332.2 966 1335.8C967.2 1339.5 968.3 1345.2 969.5 1351.3C970.7 1357.4 971.8 1366.8 973 1372.3C974.2 1377.8 975.5 1384.2 976.5 1384.2C977.6 1384.2 978.5 1379 979.3 1372.3C980.1 1365.7 980.6 1354.8 981.4 1344.3C982.2 1333.7 982 1339 984.2 1309.2C986.4 1279.3 992.5 1193.2 994.7 1165.2C996.9 1137.3 996.6 1148.4 997.5 1141.4C998.4 1134.4 999.4 1127.7 1000.3 1123.1C1001.2 1118.6 1002.1 1116.1 1003.1 1114C1004.2 1111.9 1005.5 1110.4 1006.6 1110.5C1007.8 1110.6 1009 1111.4 1010.1 1114.7C1011.3 1118 1012.5 1123.4 1013.6 1130.2C1014.8 1136.9 1016 1146.1 1017.1 1155.4C1018.3 1164.8 1018.2 1166.5 1020.7 1186.3C1023.1 1206.1 1029.5 1257.6 1031.9 1274.1C1034.4 1290.6 1034.3 1284.6 1035.4 1285.3C1036.6 1286 1036.2 1291.3 1039 1278.3C1041.7 1265.3 1049.4 1220.2 1052.2 1207.3C1055 1194.4 1054.8 1202.2 1055.7 1201C1056.7 1199.8 1056.9 1200 1057.8 1200.3C1058.8 1200.7 1060.2 1201 1061.3 1203.1C1062.5 1205.2 1062.3 1196.4 1064.8 1212.9C1067.4 1229.4 1073.8 1280.3 1076.7 1302.2C1079.6 1324.1 1080.6 1333.3 1082.3 1344.3C1083.9 1355.3 1085.1 1363.2 1086.5 1368.1C1087.9 1373 1089.3 1373.3 1090.7 1373.7C1092.1 1374.2 1093.5 1372.6 1094.9 1370.9C1096.3 1369.3 1097.5 1366.2 1099.1 1363.9C1100.7 1361.6 1103 1358.3 1104.7 1356.9C1106.5 1355.4 1108 1355 1109.6 1355.2C1111.3 1355.4 1113 1356.4 1114.5 1358.3C1116.1 1360.2 1117.3 1363.4 1118.8 1366.7C1120.2 1370 1121.6 1374.4 1123 1377.9C1124.4 1381.4 1125.8 1385.4 1127.2 1387.8C1128.6 1390.1 1130 1392.4 1131.4 1392C1132.8 1391.5 1134.2 1388.2 1135.6 1384.9C1137 1381.7 1138.4 1376.3 1139.8 1372.3C1141.2 1368.3 1142.6 1363.9 1144 1361.1C1145.4 1358.3 1146.9 1356.6 1148.2 1355.5C1149.5 1354.4 1150.6 1354.1 1151.7 1354.4C1152.9 1354.6 1153.9 1354.8 1155.2 1356.9C1156.5 1358.9 1158 1362.7 1159.4 1366.7C1160.8 1370.7 1162.4 1376.5 1163.6 1380.7C1164.9 1384.9 1166.2 1389.6 1167.2 1392C1168.1 1394.3 1168.6 1395.7 1169.3 1394.8C1170 1393.8 1170.5 1391.3 1171.4 1386.4C1172.2 1381.4 1173.1 1373.5 1174.2 1365.3C1175.2 1357.1 1176.4 1347.1 1177.7 1337.2C1179 1327.4 1180.5 1315.7 1181.9 1306.4C1183.3 1297 1184.7 1288.4 1186.1 1281.1C1187.5 1273.9 1188.9 1267.8 1190.3 1262.9C1191.7 1258 1193.1 1254.5 1194.5 1251.7C1195.9 1248.9 1197.2 1247.3 1198.7 1246C1200.2 1244.8 1202.1 1243.7 1203.6 1243.9C1205.2 1244.2 1206.4 1245 1207.8 1247.4C1209.2 1249.9 1210.7 1254 1212.1 1258.7C1213.5 1263.4 1214.9 1269.4 1216.3 1275.5C1217.7 1281.6 1219.1 1288.1 1220.5 1295.2C1221.9 1302.2 1223.3 1310.1 1224.7 1317.6C1226.1 1325.1 1227.5 1333.3 1228.9 1340.1C1230.3 1346.8 1231.7 1353.4 1233.1 1358.3C1234.5 1363.2 1235.9 1367.2 1237.3 1369.5C1238.7 1371.9 1240.1 1372.8 1241.5 1372.3C1242.9 1371.9 1244.2 1369 1245.7 1366.7C1247.2 1364.4 1249 1360.5 1250.6 1358.3C1252.3 1356.1 1254 1354.4 1255.5 1353.4C1257.1 1352.3 1258.4 1351.9 1259.8 1352C1261.2 1352.1 1262.4 1352.6 1264 1354.1C1265.5 1355.6 1267.1 1358.1 1268.9 1361.1C1270.6 1364.1 1272.6 1368.8 1274.5 1372.3C1276.4 1375.8 1278.2 1379.8 1280.1 1382.1C1282 1384.5 1283.8 1386.1 1285.7 1386.4C1287.6 1386.6 1289.5 1384.8 1291.3 1383.5C1293.2 1382.3 1295.1 1380 1296.9 1378.6C1298.8 1377.2 1300.7 1375.8 1302.6 1375.1C1304.4 1374.4 1306.1 1374.2 1308.2 1374.4C1310.3 1374.7 1314 1376.2 1315.2 1376.5" fill="none" stroke="#ffc20a" stroke-width="3" stroke-linejoin="round" stroke-linecap="butt"/>
<path d="M792 1399.7C793 1398.6 795.8 1395.1 797.6 1393.4C799.5 1391.6 801.4 1390 803.2 1389.2C805.1 1388.3 807 1388.1 808.9 1388.5C810.7 1388.8 812.8 1390.2 814.5 1391.3C816.1 1392.3 817.4 1394 818.7 1394.8C820 1395.5 821 1396.2 822.2 1395.9C823.4 1395.5 824.2 1394.5 825.7 1392.7C827.2 1390.8 829.4 1386.9 831.3 1384.9C833.2 1383 835.3 1381.6 836.9 1380.7C838.6 1379.9 839.5 1379.8 841.1 1380C842.8 1380.3 845.1 1381.7 846.7 1382.1C848.4 1382.6 849.5 1383.3 850.9 1382.8C852.3 1382.4 853.8 1381.6 855.2 1379.3C856.6 1377.1 858 1373.3 859.4 1369.5C860.8 1365.8 862.2 1361.1 863.6 1356.9C865 1352.7 866.4 1348 867.8 1344.3C869.2 1340.5 870.6 1337.1 872 1334.4C873.4 1331.7 874.8 1329.8 876.2 1328.1C877.6 1326.5 879 1325.7 880.4 1324.6C881.8 1323.6 883.2 1323 884.6 1321.8C886 1320.6 887.4 1319.7 888.8 1317.6C890.2 1315.5 891.6 1312.9 893 1309.2C894.4 1305.4 895.8 1300.3 897.2 1295.2C898.6 1290 900.1 1283.7 901.5 1278.3C902.9 1272.9 904.3 1267.3 905.7 1262.9C907.1 1258.4 908.5 1254.5 909.9 1251.7C911.3 1248.9 912.8 1247.1 914.1 1246C915.4 1245 916.4 1245 917.6 1245.3C918.8 1245.7 919.8 1245.7 921.1 1248.2C922.4 1250.6 923.9 1255 925.3 1260.1C926.7 1265.1 928.1 1271.8 929.5 1278.3C930.9 1284.9 932.3 1292.1 933.7 1299.4C935.1 1306.6 936.5 1314.6 937.9 1321.8C939.3 1329.1 940.9 1337.4 942.1 1342.9C943.4 1348.4 944.7 1352.4 945.7 1354.8C946.6 1357.1 946.8 1357.5 947.8 1356.9C948.7 1356.3 949.9 1353.8 951.3 1351.3C952.7 1348.7 954.7 1344 956.2 1341.5C957.7 1338.9 959.1 1337 960.4 1335.8C961.7 1334.7 962.7 1334.3 963.9 1334.4C965.1 1334.6 966.1 1334.9 967.4 1336.5C968.7 1338.2 970.2 1341.6 971.6 1344.3C973 1346.9 974.4 1350.2 975.8 1352.7C977.2 1355.1 978.6 1357.6 980 1359C981.4 1360.4 982.8 1361 984.2 1361.1C985.6 1361.2 987 1360.5 988.4 1359.7C989.8 1358.9 991.3 1357.2 992.7 1356.2C994.1 1355.1 995.5 1354.1 996.9 1353.4C998.3 1352.7 999.7 1351.9 1001.1 1352C1002.5 1352.1 1003.9 1352.8 1005.3 1354.1C1006.7 1355.4 1008.1 1357.6 1009.5 1359.7C1010.9 1361.8 1012.3 1364.1 1013.7 1366.7C1015.1 1369.3 1016.5 1372.3 1017.9 1375.1C1019.3 1377.9 1020.7 1380.7 1022.1 1383.5C1023.5 1386.4 1024.9 1389.6 1026.3 1392C1027.7 1394.3 1028.9 1396.2 1030.5 1397.6C1032.2 1398.9 1034 1399.6 1036.1 1400.1C1038.3 1400.6 1038.8 1401.4 1043.2 1400.4C1047.6 1399.4 1058.2 1395.9 1062.6 1394.1C1067 1392.2 1067.3 1390.7 1069.6 1389.2C1072 1387.6 1074.3 1386.6 1076.7 1384.9C1079 1383.3 1081.3 1381.2 1083.7 1379.3C1086 1377.5 1088.4 1375.2 1090.7 1373.7C1093 1372.2 1095.4 1371.1 1097.7 1370.2C1100 1369.3 1102.4 1368.8 1104.7 1368.4C1107.1 1368 1109.4 1367.8 1111.7 1367.8C1114.1 1367.8 1116.4 1368 1118.8 1368.4C1121.1 1368.8 1123.4 1369.3 1125.8 1370.2C1128.1 1371.1 1130.4 1372.4 1132.8 1373.7C1135.1 1375 1137.5 1376.6 1139.8 1377.9C1142.1 1379.2 1144.5 1380.5 1146.8 1381.4C1149.1 1382.4 1151.5 1383 1153.8 1383.5C1156.2 1384.1 1158.5 1384.6 1160.8 1384.7C1163.2 1384.8 1165.5 1384.6 1167.9 1384.2C1170.2 1383.9 1172.5 1383.2 1174.9 1382.8C1177.2 1382.4 1179.5 1382.1 1181.9 1381.9C1184.2 1381.6 1186.6 1381.4 1188.9 1381.4C1191.2 1381.5 1193.6 1381.7 1195.9 1382.1C1198.3 1382.5 1200.6 1383.1 1202.9 1383.8C1205.3 1384.5 1207.6 1385.3 1209.9 1386.4C1212.3 1387.4 1214.6 1388.6 1217 1389.9C1219.3 1391.1 1221.6 1392.7 1224 1394.1C1226.3 1395.5 1228.7 1397.1 1231 1398.3C1233.3 1399.4 1235.9 1400.5 1238 1401.1C1240.1 1401.6 1241.8 1401.6 1243.6 1401.5C1245.5 1401.4 1247.1 1400.8 1249.2 1400.4C1251.3 1400 1253.9 1399.4 1256.2 1399.3C1258.6 1399.1 1260.9 1399.3 1263.3 1399.7C1265.6 1400.1 1267.9 1400.9 1270.3 1401.5C1272.6 1402.1 1275 1403 1277.3 1403.5C1279.6 1404 1282 1404.6 1284.3 1404.6C1286.6 1404.6 1289 1403.8 1291.3 1403.5C1293.7 1403.1 1296 1402.7 1298.3 1402.5C1300.7 1402.3 1303.3 1402.4 1305.4 1402.5C1307.5 1402.6 1309.3 1402.7 1311 1402.9C1312.6 1403.1 1314.5 1403.4 1315.2 1403.5" fill="none" stroke="#8a22e6" stroke-width="3" stroke-linejoin="round" stroke-linecap="butt"/>
</g>
<path d="M1014.4 1038.2H1064.9" stroke="#8a22e6" stroke-width="3" fill="none"/>
<text x="1072.3" y="1045.6" font-size="28.2" fill="#111">CuN<tspan font-size="15" dy="6">4</tspan><tspan dy="-6">&#8203;</tspan>/CoN<tspan font-size="15" dy="6">4</tspan><tspan dy="-6">&#8203;</tspan>@NC*4</text>
<path d="M1097.1 1083.2H1147.4" stroke="#22b4f0" stroke-width="3" fill="none"/>
<text x="1154.8" y="1090" font-size="28.2" fill="#111">Co-Ph*4</text>
<path d="M1097.1 1116.5H1147.4" stroke="#ff2d8e" stroke-width="3" fill="none"/>
<text x="1154.8" y="1123.3" font-size="28.2" fill="#111">Co foil</text>
<path d="M1097.1 1149.8H1147.4" stroke="#0cba55" stroke-width="3" fill="none"/>
<text x="1154.8" y="1156" font-size="28.2" fill="#111">CoO*0.5</text>
<path d="M1097.1 1185.3H1147.4" stroke="#ffc20a" stroke-width="3" fill="none"/>
<text x="1154.8" y="1192" font-size="28.2" fill="#111">Co<tspan font-size="15" dy="6">3</tspan><tspan dy="-6">&#8203;</tspan>O<tspan font-size="15" dy="6">4</tspan><tspan dy="-6">&#8203;</tspan>*0.5</text>
<clipPath id="kk"><rect x="1458.5" y="1006.7" width="523.5" height="421.1"/></clipPath>
<g clip-path="url(#kk)">
<path d="M1458.9 1180.8C1459.8 1181.3 1462.8 1182.6 1464.6 1183.6C1466.5 1184.6 1468.3 1186.2 1470.2 1187C1472 1187.8 1473.8 1188.8 1475.7 1188.4C1477.5 1188.1 1479.3 1186.4 1481.2 1185C1483 1183.6 1484.8 1181.4 1486.7 1180.2C1488.5 1178.9 1490.6 1177.9 1492.2 1177.4C1493.8 1176.9 1494.9 1176.9 1496.3 1177.1C1497.7 1177.4 1499.1 1178 1500.5 1178.8C1501.8 1179.5 1503.2 1180.8 1504.6 1181.5C1506 1182.2 1507.3 1183.1 1508.7 1182.9C1510.1 1182.7 1511.5 1182 1512.9 1180.2C1514.2 1178.3 1515.6 1175.3 1517 1171.9C1518.4 1168.4 1519.7 1163.9 1521.1 1159.5C1522.5 1155.1 1523.9 1149.8 1525.3 1145.7C1526.6 1141.6 1528 1137.9 1529.4 1134.7C1530.8 1131.5 1532.1 1128.8 1533.5 1126.4C1534.9 1124 1536.3 1122 1537.7 1120.2C1539 1118.5 1540.4 1117.2 1541.8 1116.1C1543.2 1114.9 1544.5 1114.3 1545.9 1113.3C1547.3 1112.4 1548.7 1111.8 1550.1 1110.6C1551.4 1109.3 1552.8 1107.7 1554.2 1105.8C1555.6 1103.8 1556.9 1101.6 1558.3 1098.9C1559.7 1096.1 1561.1 1092.7 1562.4 1089.2C1563.8 1085.8 1565.2 1081.9 1566.6 1078.2C1568 1074.5 1569.3 1070.9 1570.7 1067.2C1572.1 1063.5 1573.5 1059.4 1574.8 1056.2C1576.2 1053 1577.6 1049.9 1579 1047.9C1580.4 1046 1582 1045 1583.1 1044.5C1584.3 1043.9 1584.8 1044 1585.9 1044.5C1586.9 1044.9 1588.2 1045.7 1589.3 1047.2C1590.5 1048.7 1591.5 1050.5 1592.8 1053.4C1594 1056.3 1595.5 1060.1 1596.9 1064.4C1598.3 1068.8 1599.6 1073.9 1601 1079.6C1602.4 1085.3 1603.8 1092.2 1605.2 1098.9C1606.5 1105.5 1607.9 1112.7 1609.3 1119.5C1610.7 1126.4 1612 1133.5 1613.4 1140.2C1614.8 1146.9 1616.2 1153.3 1617.6 1159.5C1618.9 1165.7 1620.3 1172.3 1621.7 1177.4C1623.1 1182.4 1624.6 1187.2 1625.8 1189.8C1627.1 1192.4 1628.1 1192.9 1629.3 1193.2C1630.4 1193.6 1631.4 1192.3 1632.7 1191.9C1634 1191.5 1635.5 1190.8 1636.8 1190.9C1638.2 1191 1639.6 1191.7 1641 1192.3C1642.3 1192.8 1644 1194 1645.1 1194.2C1646.2 1194.4 1646.7 1194.7 1647.9 1193.2C1649 1191.8 1650.6 1189.2 1652 1185.7C1653.4 1182.1 1654.7 1176.5 1656.1 1171.9C1657.5 1167.3 1658.9 1162.2 1660.3 1158.1C1661.6 1154 1662.8 1150.3 1664.4 1147.1C1666 1143.9 1668.1 1140.9 1669.9 1138.8C1671.7 1136.8 1673.8 1135.6 1675.4 1134.7C1677 1133.8 1678.2 1133.5 1679.5 1133.6C1680.9 1133.7 1682.1 1133.8 1683.7 1135.4C1685.3 1136.9 1687.3 1139.9 1689.2 1143C1691 1146.1 1692.9 1149.8 1694.7 1154C1696.5 1158.1 1698.4 1163.6 1700.2 1167.8C1702 1171.9 1704.1 1176 1705.7 1178.8C1707.3 1181.5 1706.4 1184.6 1709.8 1184.3C1713.3 1183.9 1722.6 1178 1726.2 1176.6C1729.9 1175.3 1730 1175.7 1731.8 1175.9C1733.7 1176.2 1735.6 1177.2 1737.4 1178C1739.3 1178.9 1741.2 1180.2 1743.1 1180.9C1744.9 1181.6 1746.8 1182.4 1748.7 1182.3C1750.5 1182.1 1752.4 1181.1 1754.3 1180.2C1756.2 1179.2 1758 1177.7 1759.9 1176.6C1761.8 1175.6 1763.6 1174.4 1765.5 1173.8C1767.4 1173.3 1769.3 1173 1771.1 1173.1C1773 1173.3 1774.9 1173.7 1776.7 1174.5C1778.6 1175.4 1780.5 1176.6 1782.3 1178C1784.2 1179.5 1786.1 1181.3 1788 1183C1789.8 1184.6 1791.7 1186.3 1793.6 1187.9C1795.4 1189.4 1797.3 1191 1799.2 1192.1C1801.1 1193.2 1802.7 1194 1804.8 1194.6C1806.9 1195.2 1809.5 1195.5 1811.8 1195.6C1814.1 1195.7 1816.5 1195.5 1818.8 1195.3C1821.2 1195.1 1823.5 1195 1825.8 1194.2C1828.2 1193.4 1830.8 1192.1 1832.9 1190.7C1835 1189.3 1836.6 1187.5 1838.5 1185.8C1840.3 1184 1842.2 1181.9 1844.1 1180.2C1846 1178.4 1847.8 1176.5 1849.7 1175.2C1851.6 1174 1853.4 1173.2 1855.3 1172.4C1857.2 1171.7 1859.2 1171 1860.9 1170.6C1862.7 1170.3 1864.2 1170.1 1865.8 1170.3C1867.5 1170.5 1869 1170.9 1870.7 1171.7C1872.5 1172.6 1874.5 1173.7 1876.4 1175.2C1878.2 1176.8 1880.1 1178.8 1882 1180.9C1883.8 1183 1885.7 1185.5 1887.6 1187.9C1889.4 1190.2 1891.6 1192.9 1893.2 1194.9C1894.8 1196.9 1896.1 1198.5 1897.4 1199.8C1898.7 1201.1 1899.7 1202.5 1900.9 1202.6C1902.1 1202.7 1903.1 1201.7 1904.4 1200.5C1905.7 1199.3 1907 1197.1 1908.6 1195.6C1910.3 1194.1 1912.4 1192.4 1914.2 1191.4C1916.1 1190.3 1918 1189.7 1919.8 1189.3C1921.7 1188.9 1923.6 1188.8 1925.5 1188.9C1927.3 1188.9 1929 1189.3 1931.1 1189.7C1933.2 1190.1 1935.7 1190.7 1938.1 1191.1C1940.4 1191.5 1942.5 1192 1945.1 1192.1C1947.7 1192.1 1950.9 1191.7 1953.5 1191.4C1956.1 1191.1 1958.2 1190.4 1960.5 1190.3C1962.9 1190.1 1965.2 1190.1 1967.6 1190.3C1969.9 1190.4 1972.2 1190.6 1974.6 1191.4C1976.9 1192.1 1980.4 1194.3 1981.6 1194.9" fill="none" stroke="#22b4f0" stroke-width="3" stroke-linejoin="round" stroke-linecap="butt"/>
<path d="M1458.9 1178.8C1460.1 1178.7 1463.4 1178.8 1466 1178.5C1468.6 1178.2 1471.5 1177.7 1474.3 1177.1C1477 1176.6 1479.8 1175.8 1482.6 1175.3C1485.3 1174.9 1488.1 1174.4 1490.8 1174.4C1493.6 1174.4 1496.6 1175 1499.1 1175.3C1501.6 1175.7 1503.9 1176.5 1506 1176.3C1508 1176.1 1509.6 1175.1 1511.5 1174C1513.3 1172.8 1515.2 1171.1 1517 1169.1C1518.8 1167.2 1520.7 1163.9 1522.5 1162.2C1524.3 1160.6 1525.9 1160.1 1528 1159.5C1530.1 1158.9 1532.6 1159.1 1534.9 1158.8C1537.2 1158.5 1539.7 1158.7 1541.8 1157.4C1543.9 1156.2 1545.7 1154.1 1547.3 1151.2C1548.9 1148.4 1550.1 1144.3 1551.4 1140.2C1552.8 1136.1 1554.2 1131.5 1555.6 1126.4C1556.9 1121.4 1558.3 1115.6 1559.7 1109.9C1561.1 1104.2 1562.4 1098 1563.8 1092C1565.2 1086 1566.6 1079.6 1568 1074.1C1569.3 1068.6 1570.7 1063.1 1572.1 1058.9C1573.5 1054.8 1574.8 1051.7 1576.2 1049.3C1577.6 1046.9 1579 1045.4 1580.4 1044.5C1581.7 1043.5 1583.1 1043 1584.5 1043.8C1585.9 1044.6 1587.2 1046.5 1588.6 1049.3C1590 1052 1591.4 1055.7 1592.8 1060.3C1594.1 1064.9 1595.5 1070.9 1596.9 1076.8C1598.3 1082.8 1599.6 1089.5 1601 1096.1C1602.4 1102.8 1603.8 1109.7 1605.2 1116.8C1606.5 1123.9 1607.9 1131.5 1609.3 1138.8C1610.7 1146.2 1612.2 1154.4 1613.4 1160.9C1614.7 1167.3 1615.7 1173.3 1616.9 1177.4C1618 1181.5 1619.2 1184.5 1620.3 1185.7C1621.5 1186.8 1622.6 1185.7 1623.8 1184.3C1624.9 1182.9 1625.9 1180.2 1627.2 1177.4C1628.5 1174.6 1629.9 1170.2 1631.3 1167.8C1632.7 1165.3 1633.9 1164 1635.5 1162.9C1637.1 1161.9 1639.1 1161.2 1641 1161.6C1642.8 1161.9 1644.6 1163 1646.5 1165C1648.3 1167 1650.2 1170.3 1652 1173.3C1653.8 1176.2 1655.9 1180.2 1657.5 1182.9C1659.1 1185.7 1660.3 1188.1 1661.6 1189.8C1663 1191.5 1664.2 1193.1 1665.8 1193.2C1667.4 1193.4 1669.4 1191.5 1671.3 1190.5C1673.1 1189.5 1674.9 1187.8 1676.8 1187C1678.6 1186.2 1680.5 1185.7 1682.3 1185.7C1684.1 1185.7 1686 1186.2 1687.8 1187C1689.6 1187.8 1691.5 1189.2 1693.3 1190.5C1695.2 1191.7 1697 1193.6 1698.8 1194.6C1700.7 1195.7 1700.5 1197.1 1704.3 1196.7C1708.2 1196.3 1717.9 1192.5 1722 1192.1C1726.1 1191.7 1726.7 1193.2 1729 1194.2C1731.4 1195.1 1733.7 1196.9 1736 1197.7C1738.4 1198.5 1740.7 1199.1 1743.1 1199.1C1745.4 1199.1 1747.7 1198.3 1750.1 1197.7C1752.4 1197.1 1754.8 1195.9 1757.1 1195.6C1759.4 1195.3 1761.8 1195.4 1764.1 1195.9C1766.4 1196.3 1768.8 1197.7 1771.1 1198.4C1773.5 1199.1 1775.8 1199.8 1778.1 1200.1C1780.5 1200.3 1782.8 1200.1 1785.2 1199.8C1787.5 1199.5 1789.8 1198.7 1792.2 1198.4C1794.5 1198.1 1796.8 1198 1799.2 1198.1C1801.5 1198.2 1803.9 1198.7 1806.2 1199.1C1808.5 1199.5 1810.6 1200.1 1813.2 1200.5C1815.8 1200.8 1818.8 1201.2 1821.6 1201.2C1824.4 1201.2 1827.2 1200.7 1830.1 1200.5C1832.9 1200.3 1835.7 1199.8 1838.5 1199.8C1841.3 1199.8 1844.1 1200.1 1846.9 1200.5C1849.7 1200.8 1852.5 1201.7 1855.3 1201.9C1858.1 1202.1 1860.9 1202 1863.7 1201.9C1866.5 1201.8 1869.3 1201.3 1872.1 1201.2C1874.9 1201.1 1877.8 1201.1 1880.6 1201.2C1883.4 1201.3 1886.2 1201.7 1889 1201.9C1891.8 1202.1 1893.7 1202.5 1897.4 1202.6C1901.1 1202.7 1906.8 1202.3 1911.4 1202.3C1916.1 1202.3 1920.8 1202.5 1925.5 1202.6C1930.1 1202.7 1934.8 1202.8 1939.5 1202.9C1944.2 1202.9 1948.8 1202.9 1953.5 1202.9C1958.2 1202.9 1962.9 1203 1967.6 1203C1972.2 1203.1 1979.2 1203.3 1981.6 1203.3" fill="none" stroke="#000" stroke-width="3" stroke-linejoin="round" stroke-linecap="butt" stroke-dasharray="6.1 4.2"/>
<path d="M1458.9 1399.6C1459.6 1398.7 1461.6 1395.9 1463.3 1394.1C1464.9 1392.2 1466.9 1389.8 1468.8 1388.6C1470.6 1387.3 1472.7 1386.6 1474.3 1386.5C1475.9 1386.5 1477 1387.3 1478.4 1388.3C1479.8 1389.3 1480.9 1391.4 1482.6 1392.7C1484.2 1394 1486.5 1396 1488.1 1396.1C1489.7 1396.3 1490.8 1395.1 1492.2 1393.4C1493.6 1391.7 1494.7 1388.3 1496.3 1385.8C1497.9 1383.3 1500.2 1379.8 1501.8 1378.2C1503.4 1376.7 1504.6 1376.6 1506 1376.4C1507.3 1376.3 1508.7 1377 1510.1 1377.6C1511.5 1378.1 1513 1379.2 1514.2 1379.6C1515.5 1380 1516.5 1380.5 1517.7 1380C1518.8 1379.6 1520 1378.9 1521.1 1376.9C1522.3 1374.8 1523.4 1371.7 1524.6 1367.9C1525.7 1364.1 1526.9 1358.7 1528 1354.1C1529.2 1349.5 1530.3 1344.5 1531.5 1340.4C1532.6 1336.2 1533.6 1332.7 1534.9 1329.3C1536.2 1326 1537.7 1322.9 1539 1320.4C1540.4 1317.9 1541.8 1315.9 1543.2 1314.2C1544.5 1312.5 1545.9 1311.3 1547.3 1310.1C1548.7 1308.8 1550.1 1308 1551.4 1306.6C1552.8 1305.2 1554.2 1304.2 1555.6 1301.8C1556.9 1299.4 1558.3 1296.5 1559.7 1292.1C1561.1 1287.8 1562.4 1281.6 1563.8 1275.6C1565.2 1269.6 1566.6 1262.5 1568 1256.3C1569.3 1250.1 1570.7 1243.6 1572.1 1238.4C1573.5 1233.3 1574.8 1228.7 1576.2 1225.3C1577.6 1222 1579.1 1219.9 1580.4 1218.4C1581.6 1217 1582.7 1216.4 1583.8 1216.7C1584.9 1216.9 1586.1 1217.6 1587.2 1219.8C1588.4 1222.1 1589.5 1225.9 1590.7 1230.2C1591.8 1234.4 1593 1239.8 1594.1 1245.3C1595.3 1250.8 1596.4 1256.8 1597.6 1263.2C1598.7 1269.6 1599.9 1276.8 1601 1283.9C1602.2 1291 1603.3 1298.6 1604.5 1305.9C1605.6 1313.3 1606.9 1321.8 1607.9 1328C1608.9 1334.2 1609.8 1339.3 1610.7 1343.1C1611.5 1346.9 1612.2 1350 1613.1 1350.7C1614.1 1351.4 1615.1 1349.2 1616.2 1347.2C1617.3 1345.3 1618.5 1342 1619.6 1339C1620.8 1336 1621.9 1331.9 1623.1 1329.3C1624.2 1326.8 1625.4 1325 1626.5 1323.8C1627.7 1322.6 1628.8 1322.1 1629.9 1322.2C1631.1 1322.3 1632.2 1323.1 1633.4 1324.5C1634.5 1325.9 1635.6 1328.1 1636.8 1330.7C1638.1 1333.4 1639.6 1337.1 1641 1340.4C1642.3 1343.6 1643.7 1347.5 1645.1 1350C1646.5 1352.5 1648.1 1354.5 1649.2 1355.5C1650.4 1356.5 1650.8 1356.2 1652 1355.8C1653.1 1355.3 1654.7 1354.1 1656.1 1352.8C1657.5 1351.4 1658.9 1349.3 1660.3 1347.9C1661.6 1346.6 1663.1 1345.2 1664.4 1344.5C1665.7 1343.7 1666.6 1343.2 1667.8 1343.4C1669.1 1343.6 1670.6 1344.3 1672 1345.9C1673.3 1347.4 1674.6 1349.8 1676.1 1352.8C1677.6 1355.7 1679.3 1359.9 1680.9 1363.8C1682.5 1367.7 1682.7 1370.1 1685.7 1376.2C1688.8 1382.3 1695.9 1396.1 1699.2 1400.3C1702.4 1404.4 1703 1400.9 1705.3 1401C1707.6 1401.1 1710.7 1401.3 1713 1401C1715.3 1400.8 1717 1400.5 1719.1 1399.5C1721.1 1398.5 1722.9 1396.7 1725.2 1394.9C1727.5 1393.1 1730.1 1391.1 1732.9 1388.8C1735.7 1386.5 1739 1383.8 1742 1381.1C1745.1 1378.4 1748.2 1375.3 1751.2 1372.7C1754.3 1370.2 1757.3 1367.6 1760.4 1365.8C1763.5 1364 1766.5 1362.8 1769.6 1362C1772.7 1361.2 1775.7 1360.8 1778.8 1360.9C1781.8 1361 1784.9 1361.7 1788 1362.8C1791 1363.8 1794.1 1365.6 1797.1 1367.3C1800.2 1369.1 1803.3 1371.6 1806.3 1373.5C1809.4 1375.4 1812.4 1377.6 1815.5 1378.8C1818.6 1380.1 1821.6 1380.7 1824.7 1381.1C1827.8 1381.6 1830.8 1381.6 1833.9 1381.4C1836.9 1381.3 1840 1380.7 1843.1 1380.4C1846.1 1380.1 1849.2 1379.7 1852.2 1379.6C1855.3 1379.5 1858.4 1379.4 1861.4 1379.9C1864.5 1380.4 1867.6 1381.4 1870.6 1382.7C1873.7 1383.9 1876.7 1385.6 1879.8 1387.2C1882.9 1388.9 1885.9 1390.8 1889 1392.6C1892 1394.4 1895.4 1396.6 1898.2 1398C1901 1399.4 1903.5 1400.6 1905.8 1401C1908.1 1401.5 1909.6 1401 1911.9 1400.7C1914.2 1400.4 1917.3 1399.5 1919.6 1399.2C1921.9 1398.9 1923.7 1398.7 1925.7 1398.7C1927.8 1398.8 1929.8 1399 1931.8 1399.5C1933.9 1400 1935.9 1401 1938 1401.8C1940 1402.6 1942 1403.9 1944.1 1404.4C1946.1 1404.9 1948.2 1404.9 1950.2 1404.8C1952.2 1404.7 1954 1404.2 1956.3 1403.8C1958.6 1403.4 1961.4 1402.8 1964 1402.6C1966.5 1402.3 1969.3 1402.4 1971.6 1402.6C1973.9 1402.7 1976.1 1403.1 1977.8 1403.3C1979.4 1403.5 1980.9 1403.7 1981.6 1403.8" fill="none" stroke="#8a22e6" stroke-width="3" stroke-linejoin="round" stroke-linecap="butt"/>
<path d="M1458.9 1383.8C1460.1 1383.2 1463.4 1381.2 1466 1380.3C1468.6 1379.4 1471.5 1378.4 1474.3 1378.2C1477 1378.1 1480 1379.3 1482.6 1379.6C1485.1 1380 1487.1 1381 1489.4 1380.3C1491.7 1379.6 1494 1377.1 1496.3 1375.5C1498.6 1373.9 1500.9 1371.7 1503.2 1370.7C1505.5 1369.6 1507.8 1369.4 1510.1 1369C1512.4 1368.6 1514.7 1369.1 1517 1368.2C1519.3 1367.3 1521.8 1365.9 1523.9 1363.8C1525.9 1361.7 1527.6 1358.7 1529.4 1355.5C1531.2 1352.3 1533.1 1348.2 1534.9 1344.5C1536.7 1340.8 1538.6 1336.7 1540.4 1333.5C1542.2 1330.3 1544.1 1328 1545.9 1325.2C1547.8 1322.4 1549.8 1319.9 1551.4 1316.9C1553 1314 1554.2 1311.4 1555.6 1307.3C1556.9 1303.2 1558.3 1297.7 1559.7 1292.1C1561.1 1286.6 1562.4 1280.4 1563.8 1274.2C1565.2 1268 1566.6 1260.9 1568 1254.9C1569.3 1249 1570.7 1243 1572.1 1238.4C1573.5 1233.8 1574.8 1230 1576.2 1227.4C1577.6 1224.8 1579 1223.6 1580.4 1222.6C1581.7 1221.5 1583.2 1220.4 1584.5 1221.2C1585.8 1222 1586.8 1224.5 1587.9 1227.4C1589.1 1230.3 1590.2 1234.5 1591.4 1238.4C1592.5 1242.3 1593.7 1246 1594.8 1250.8C1596 1255.6 1597.1 1261.4 1598.3 1267.3C1599.4 1273.3 1600.6 1279.7 1601.7 1286.6C1602.9 1293.5 1604 1301.3 1605.2 1308.7C1606.3 1316 1607.6 1324.1 1608.6 1330.7C1609.6 1337.4 1610.5 1343.3 1611.4 1348.6C1612.2 1353.9 1612.6 1358.8 1613.4 1362.4C1614.2 1366 1615 1368.3 1616.2 1370C1617.3 1371.7 1618.9 1373 1620.3 1372.7C1621.7 1372.5 1623.1 1370.2 1624.4 1368.6C1625.8 1367 1627.1 1364.5 1628.6 1363.1C1630.1 1361.7 1631.8 1360.4 1633.4 1360.3C1635 1360.2 1636.5 1360.9 1638.2 1362.4C1639.9 1363.9 1641.9 1367 1643.7 1369.3C1645.6 1371.6 1647.4 1374.5 1649.2 1376.2C1651.1 1377.9 1652.7 1378.8 1654.7 1379.6C1656.8 1380.4 1659.3 1380.5 1661.6 1381C1663.9 1381.5 1666.2 1381.5 1668.5 1382.4C1670.8 1383.3 1673.1 1385.1 1675.4 1386.5C1677.7 1387.9 1677.3 1389.4 1682.3 1390.6C1687.3 1391.9 1700.2 1393 1705.3 1394.1C1710.4 1395.2 1710.4 1396.7 1713 1397.2C1715.5 1397.7 1718.1 1397.4 1720.6 1397.2C1723.2 1396.9 1725.7 1395.8 1728.3 1395.7C1730.8 1395.5 1733.4 1395.9 1735.9 1396.4C1738.5 1396.9 1741 1398.2 1743.6 1398.7C1746.1 1399.3 1748.7 1399.7 1751.2 1399.8C1753.8 1399.9 1756.3 1399.4 1758.9 1399.2C1761.4 1399 1764 1398.6 1766.5 1398.7C1769.1 1398.8 1771.6 1399.3 1774.2 1399.8C1776.7 1400.3 1779.3 1401.5 1781.8 1401.8C1784.4 1402.1 1786.9 1401.9 1789.5 1401.8C1792 1401.7 1794.3 1401.1 1797.1 1401C1799.9 1400.9 1803.3 1401 1806.3 1401.3C1809.4 1401.6 1812.4 1402.5 1815.5 1402.9C1818.6 1403.2 1821.6 1403.4 1824.7 1403.3C1827.8 1403.3 1830.8 1402.6 1833.9 1402.6C1836.9 1402.6 1840 1403.1 1843.1 1403.3C1846.1 1403.6 1849.2 1404 1852.2 1404.1C1855.3 1404.2 1857.9 1403.7 1861.4 1403.8C1865 1403.8 1869.1 1404.2 1873.7 1404.4C1878.3 1404.6 1883.9 1404.7 1889 1404.8C1894.1 1405 1899.2 1405.2 1904.3 1405.3C1909.4 1405.4 1914.5 1405.3 1919.6 1405.3C1924.7 1405.4 1929.8 1405.5 1934.9 1405.6C1940 1405.7 1945.1 1405.9 1950.2 1405.9C1955.3 1406 1960.3 1405.9 1965.5 1405.9C1970.7 1405.9 1978.9 1406 1981.6 1406.1" fill="none" stroke="#000" stroke-width="3" stroke-linejoin="round" stroke-linecap="butt" stroke-dasharray="6.1 4.2"/>
</g>
<path d="M1827 1050.2H1878.2" stroke="#22b4f0" stroke-width="3" fill="none"/>
<text x="1885.6" y="1057.9" font-size="28.2" fill="#111">Co-Ph</text>
<path d="M1827 1083.7H1875" stroke="#000" stroke-width="3" fill="none" stroke-dasharray="6.1 4.2"/>
<text x="1885.6" y="1091.4" font-size="28.2" fill="#111">Fit</text>
<path d="M1699.9 1241.8H1751.2" stroke="#8a22e6" stroke-width="3" fill="none"/>
<text x="1758.9" y="1249.5" font-size="28.2" fill="#111">CuN<tspan font-size="15" dy="6">4</tspan><tspan dy="-6">&#8203;</tspan>/CoN<tspan font-size="15" dy="6">4</tspan><tspan dy="-6">&#8203;</tspan>@NC</text>
<path d="M1699.9 1284.4H1747.4" stroke="#000" stroke-width="3" fill="none" stroke-dasharray="6.1 4.2"/>
<text x="1759.6" y="1291.9" font-size="28.2" fill="#111">Fit</text>
<g stroke-linecap="butt" fill="none">
<path d="M1824 1272.4L1838.5 1295.1M1838.5 1295.1L1825.5 1319.4M1825.5 1319.4L1838.5 1342.8M1838.5 1342.8L1824 1366.1M1956.4 1272.4L1941.1 1295.1M1941.1 1295.1L1954.9 1319.4M1954.9 1319.4L1941.1 1342.8M1941.1 1342.8L1956.4 1366.1M1876.8 1271.6L1903.6 1271.6M1876.8 1366.6L1903.6 1366.6M1824 1272.4L1831.6 1260.5M1876.8 1271.6L1869.4 1260.2M1903.6 1271.6L1910.9 1260.2M1956.4 1272.4L1949 1260.5M1824 1366.1L1831.6 1377.7M1876.8 1366.6L1869.4 1378M1903.6 1366.6L1910.9 1378M1956.4 1366.1L1949 1377.7M1825.5 1319.4L1817.4 1319.4M1954.9 1319.4L1962.2 1319.4" stroke="#8a8a8a" stroke-width="3.4"/>
<path d="M1824 1272.4L1838.5 1295.1M1838.5 1295.1L1825.5 1319.4M1825.5 1319.4L1838.5 1342.8M1838.5 1342.8L1824 1366.1M1956.4 1272.4L1941.1 1295.1M1941.1 1295.1L1954.9 1319.4M1954.9 1319.4L1941.1 1342.8M1941.1 1342.8L1956.4 1366.1M1876.8 1271.6L1903.6 1271.6M1876.8 1366.6L1903.6 1366.6M1824 1272.4L1831.6 1260.5M1876.8 1271.6L1869.4 1260.2M1903.6 1271.6L1910.9 1260.2M1956.4 1272.4L1949 1260.5M1824 1366.1L1831.6 1377.7M1876.8 1366.6L1869.4 1378M1903.6 1366.6L1910.9 1378M1956.4 1366.1L1949 1377.7M1825.5 1319.4L1817.4 1319.4M1954.9 1319.4L1962.2 1319.4" stroke="#e4e4e4" stroke-width="0.9"/>
<path d="M1838.5 1295.1L1851.5 1294.5M1876.8 1271.6L1870.7 1282.7M1903.6 1271.6L1909.7 1282.7M1941.1 1295.1L1928.4 1294.5M1838.5 1342.8L1851.5 1343.6M1876.8 1366.6L1870.7 1355.5M1903.6 1366.6L1909.7 1355.5M1941.1 1342.8L1928.4 1343.6" stroke="#8a8a8a" stroke-width="3.4"/>
<path d="M1838.5 1295.1L1851.5 1294.5M1876.8 1271.6L1870.7 1282.7M1903.6 1271.6L1909.7 1282.7M1941.1 1295.1L1928.4 1294.5M1838.5 1342.8L1851.5 1343.6M1876.8 1366.6L1870.7 1355.5M1903.6 1366.6L1909.7 1355.5M1941.1 1342.8L1928.4 1343.6" stroke="#e4e4e4" stroke-width="0.9"/>
<path d="M1851.5 1294.5L1864.5 1293.8M1870.7 1282.7L1864.5 1293.8M1909.7 1282.7L1915.8 1293.8M1928.4 1294.5L1915.8 1293.8M1851.5 1343.6L1864.5 1344.4M1870.7 1355.5L1864.5 1344.4M1909.7 1355.5L1915.8 1344.4M1928.4 1343.6L1915.8 1344.4" stroke="#2436e8" stroke-width="3.4"/>
<path d="M1864.5 1293.8L1877.2 1306.5M1915.8 1293.8L1902.8 1306.5M1864.5 1344.4L1877.2 1331.7M1915.8 1344.4L1902.8 1331.7" stroke="#2436e8" stroke-width="3.6"/>
<path d="M1877.2 1306.5L1889.8 1319.1M1902.8 1306.5L1889.8 1319.1M1877.2 1331.7L1889.8 1319.1M1902.8 1331.7L1889.8 1319.1" stroke="#a43ad8" stroke-width="3.6"/>
</g>
<defs><radialGradient id="gCk" cx=".45" cy=".45" r=".6"><stop offset="0" stop-color="#d8d8d8"/><stop offset=".45" stop-color="#8c8c8c"/><stop offset="1" stop-color="#6a6a6a"/></radialGradient><radialGradient id="gNk" cx=".45" cy=".45" r=".6"><stop offset="0" stop-color="#5a6cff"/><stop offset=".5" stop-color="#2030e0"/><stop offset="1" stop-color="#1a22b8"/></radialGradient><radialGradient id="gMk" cx=".5" cy=".5" r=".55"><stop offset="0" stop-color="#fff"/><stop offset=".18" stop-color="#e9b8ff"/><stop offset=".6" stop-color="#8f2ee0"/><stop offset="1" stop-color="#8f2ee0"/></radialGradient></defs>
<circle cx="1824" cy="1272.4" r="5.6" fill="url(#gCk)"/>
<circle cx="1876.8" cy="1271.6" r="5.6" fill="url(#gCk)"/>
<circle cx="1903.6" cy="1271.6" r="5.6" fill="url(#gCk)"/>
<circle cx="1956.4" cy="1272.4" r="5.6" fill="url(#gCk)"/>
<circle cx="1838.5" cy="1295.1" r="5.6" fill="url(#gCk)"/>
<circle cx="1941.1" cy="1295.1" r="5.6" fill="url(#gCk)"/>
<circle cx="1825.5" cy="1319.4" r="5.6" fill="url(#gCk)"/>
<circle cx="1954.9" cy="1319.4" r="5.6" fill="url(#gCk)"/>
<circle cx="1838.5" cy="1342.8" r="5.6" fill="url(#gCk)"/>
<circle cx="1941.1" cy="1342.8" r="5.6" fill="url(#gCk)"/>
<circle cx="1824" cy="1366.1" r="5.6" fill="url(#gCk)"/>
<circle cx="1876.8" cy="1366.6" r="5.6" fill="url(#gCk)"/>
<circle cx="1903.6" cy="1366.6" r="5.6" fill="url(#gCk)"/>
<circle cx="1956.4" cy="1366.1" r="5.6" fill="url(#gCk)"/>
<circle cx="1864.5" cy="1293.8" r="5.2" fill="url(#gNk)"/>
<circle cx="1915.8" cy="1293.8" r="5.2" fill="url(#gNk)"/>
<circle cx="1864.5" cy="1344.4" r="5.2" fill="url(#gNk)"/>
<circle cx="1915.8" cy="1344.4" r="5.2" fill="url(#gNk)"/>
<circle cx="1889.8" cy="1319.1" r="9" fill="url(#gMk)"/>
<rect x="125.1" y="11.9" width="523.1" height="421.4" fill="none" stroke="#000" stroke-width="3"/>
<path d="M125.1 433.3v9.5M229.7 433.3v9.5M334.3 433.3v9.5M439 433.3v9.5M543.6 433.3v9.5M648.2 433.3v9.5" stroke="#000" stroke-width="3" fill="none"/>
<path d="M177.4 433.3v5.5M282 433.3v5.5M386.6 433.3v5.5M491.3 433.3v5.5M595.9 433.3v5.5" stroke="#000" stroke-width="3" fill="none"/>
<text x="125.1" y="476" font-size="36" text-anchor="middle">8950</text>
<text x="229.7" y="476" font-size="36" text-anchor="middle">9000</text>
<text x="334.3" y="476" font-size="36" text-anchor="middle">9050</text>
<text x="439" y="476" font-size="36" text-anchor="middle">9100</text>
<text x="543.6" y="476" font-size="36" text-anchor="middle">9150</text>
<text x="648.2" y="476" font-size="36" text-anchor="middle">9200</text>
<path d="M125.1 403.1h-9.5M125.1 342.9h-9.5M125.1 282.7h-9.5M125.1 222.5h-9.5M125.1 162.2h-9.5M125.1 102h-9.5M125.1 41.8h-9.5" stroke="#000" stroke-width="3" fill="none"/>
<path d="M125.1 373h-5.5M125.1 312.8h-5.5M125.1 252.6h-5.5M125.1 192.3h-5.5M125.1 132.1h-5.5M125.1 71.9h-5.5" stroke="#000" stroke-width="3" fill="none"/>
<text x="110.5" y="414.1" font-size="36" text-anchor="end">0.0</text>
<text x="110.5" y="353.9" font-size="36" text-anchor="end">0.2</text>
<text x="110.5" y="293.7" font-size="36" text-anchor="end">0.4</text>
<text x="110.5" y="233.5" font-size="36" text-anchor="end">0.6</text>
<text x="110.5" y="173.2" font-size="36" text-anchor="end">0.8</text>
<text x="110.5" y="113" font-size="36" text-anchor="end">1.0</text>
<text x="110.5" y="52.8" font-size="36" text-anchor="end">1.2</text>
<rect x="791.8" y="11.8" width="523.7" height="420.2" fill="none" stroke="#000" stroke-width="3"/>
<path d="M791.8 432v9.5M879.1 432v9.5M966.4 432v9.5M1053.7 432v9.5M1140.9 432v9.5M1228.2 432v9.5M1315.5 432v9.5" stroke="#000" stroke-width="3" fill="none"/>
<path d="M835.4 432v5.5M922.7 432v5.5M1010 432v5.5M1097.3 432v5.5M1184.6 432v5.5M1271.9 432v5.5" stroke="#000" stroke-width="3" fill="none"/>
<text x="791.8" y="476" font-size="36" text-anchor="middle">0</text>
<text x="879.1" y="476" font-size="36" text-anchor="middle">1</text>
<text x="966.4" y="476" font-size="36" text-anchor="middle">2</text>
<text x="1053.7" y="476" font-size="36" text-anchor="middle">3</text>
<text x="1140.9" y="476" font-size="36" text-anchor="middle">4</text>
<text x="1228.2" y="476" font-size="36" text-anchor="middle">5</text>
<text x="1315.5" y="476" font-size="36" text-anchor="middle">6</text>
<path d="M791.8 390.6h-9.5M791.8 306.5h-9.5M791.8 222.4h-9.5M791.8 138.3h-9.5M791.8 54.2h-9.5" stroke="#000" stroke-width="3" fill="none"/>
<path d="M791.8 348.6h-5.5M791.8 264.5h-5.5M791.8 180.3h-5.5M791.8 96.2h-5.5" stroke="#000" stroke-width="3" fill="none"/>
<text x="777" y="401.6" font-size="36" text-anchor="end">0</text>
<text x="777" y="317.5" font-size="36" text-anchor="end">2</text>
<text x="777" y="233.4" font-size="36" text-anchor="end">4</text>
<text x="777" y="149.3" font-size="36" text-anchor="end">6</text>
<text x="777" y="65.2" font-size="36" text-anchor="end">8</text>
<rect x="1459.8" y="12.4" width="523.5" height="420" fill="none" stroke="#000" stroke-width="3"/>
<path d="M1459.8 432.4v9.5M1547 432.4v9.5M1634.3 432.4v9.5M1721.5 432.4v9.5M1808.8 432.4v9.5M1896 432.4v9.5M1983.3 432.4v9.5" stroke="#000" stroke-width="3" fill="none"/>
<path d="M1503.4 432.4v5.5M1590.7 432.4v5.5M1677.9 432.4v5.5M1765.2 432.4v5.5M1852.4 432.4v5.5M1939.7 432.4v5.5" stroke="#000" stroke-width="3" fill="none"/>
<text x="1459.8" y="476" font-size="36" text-anchor="middle">0</text>
<text x="1547" y="476" font-size="36" text-anchor="middle">1</text>
<text x="1634.3" y="476" font-size="36" text-anchor="middle">2</text>
<text x="1721.5" y="476" font-size="36" text-anchor="middle">3</text>
<text x="1808.8" y="476" font-size="36" text-anchor="middle">4</text>
<text x="1896" y="476" font-size="36" text-anchor="middle">5</text>
<text x="1983.3" y="476" font-size="36" text-anchor="middle">6</text>
<rect x="125.1" y="1008.1" width="523.1" height="420.5" fill="none" stroke="#000" stroke-width="3"/>
<path d="M190.5 1428.6v9.5M321.3 1428.6v9.5M452.2 1428.6v9.5M583 1428.6v9.5" stroke="#000" stroke-width="3" fill="none"/>
<path d="M125.1 1428.6v5.5M255.9 1428.6v5.5M386.8 1428.6v5.5M517.6 1428.6v5.5M648.4 1428.6v5.5" stroke="#000" stroke-width="3" fill="none"/>
<text x="190.5" y="1472" font-size="36" text-anchor="middle">7700</text>
<text x="321.3" y="1472" font-size="36" text-anchor="middle">7750</text>
<text x="452.2" y="1472" font-size="36" text-anchor="middle">7800</text>
<text x="583" y="1472" font-size="36" text-anchor="middle">7850</text>
<path d="M125.1 1397.1h-9.5M125.1 1332.3h-9.5M125.1 1267.5h-9.5M125.1 1202.7h-9.5M125.1 1137.9h-9.5M125.1 1073.1h-9.5M125.1 1008.3h-9.5" stroke="#000" stroke-width="3" fill="none"/>
<path d="M125.1 1364.7h-5.5M125.1 1299.9h-5.5M125.1 1235.1h-5.5M125.1 1170.3h-5.5M125.1 1105.5h-5.5M125.1 1040.7h-5.5" stroke="#000" stroke-width="3" fill="none"/>
<text x="110.5" y="1408.1" font-size="36" text-anchor="end">0.0</text>
<text x="110.5" y="1343.3" font-size="36" text-anchor="end">0.3</text>
<text x="110.5" y="1278.5" font-size="36" text-anchor="end">0.6</text>
<text x="110.5" y="1213.7" font-size="36" text-anchor="end">0.9</text>
<text x="110.5" y="1148.9" font-size="36" text-anchor="end">1.2</text>
<text x="110.5" y="1084.1" font-size="36" text-anchor="end">1.5</text>
<text x="110.5" y="1019.3" font-size="36" text-anchor="end">1.8</text>
<rect x="791.8" y="1008" width="523.6" height="420.5" fill="none" stroke="#000" stroke-width="3"/>
<path d="M791.8 1428.5v9.5M879.1 1428.5v9.5M966.3 1428.5v9.5M1053.6 1428.5v9.5M1140.9 1428.5v9.5M1228.1 1428.5v9.5M1315.4 1428.5v9.5" stroke="#000" stroke-width="3" fill="none"/>
<path d="M835.4 1428.5v5.5M922.7 1428.5v5.5M1010 1428.5v5.5M1097.2 1428.5v5.5M1184.5 1428.5v5.5M1271.8 1428.5v5.5" stroke="#000" stroke-width="3" fill="none"/>
<text x="791.8" y="1472" font-size="36" text-anchor="middle">0</text>
<text x="879.1" y="1472" font-size="36" text-anchor="middle">1</text>
<text x="966.3" y="1472" font-size="36" text-anchor="middle">2</text>
<text x="1053.6" y="1472" font-size="36" text-anchor="middle">3</text>
<text x="1140.9" y="1472" font-size="36" text-anchor="middle">4</text>
<text x="1228.1" y="1472" font-size="36" text-anchor="middle">5</text>
<text x="1315.4" y="1472" font-size="36" text-anchor="middle">6</text>
<path d="M791.8 1403.9h-9.5M791.8 1304.9h-9.5M791.8 1206h-9.5M791.8 1107h-9.5M791.8 1008h-9.5" stroke="#000" stroke-width="3" fill="none"/>
<path d="M791.8 1354.4h-5.5M791.8 1255.4h-5.5M791.8 1156.5h-5.5M791.8 1057.5h-5.5" stroke="#000" stroke-width="3" fill="none"/>
<text x="777" y="1414.9" font-size="36" text-anchor="end">0</text>
<text x="777" y="1315.9" font-size="36" text-anchor="end">2</text>
<text x="777" y="1217" font-size="36" text-anchor="end">4</text>
<text x="777" y="1118" font-size="36" text-anchor="end">6</text>
<text x="777" y="1019" font-size="36" text-anchor="end">8</text>
<rect x="1458.5" y="1007.9" width="523.5" height="420.6" fill="none" stroke="#000" stroke-width="3"/>
<path d="M1458.5 1428.5v9.5M1545.8 1428.5v9.5M1633 1428.5v9.5M1720.2 1428.5v9.5M1807.5 1428.5v9.5M1894.8 1428.5v9.5M1982 1428.5v9.5" stroke="#000" stroke-width="3" fill="none"/>
<path d="M1502.1 1428.5v5.5M1589.4 1428.5v5.5M1676.6 1428.5v5.5M1763.9 1428.5v5.5M1851.1 1428.5v5.5M1938.4 1428.5v5.5" stroke="#000" stroke-width="3" fill="none"/>
<text x="1458.5" y="1472" font-size="36" text-anchor="middle">0</text>
<text x="1545.8" y="1472" font-size="36" text-anchor="middle">1</text>
<text x="1633" y="1472" font-size="36" text-anchor="middle">2</text>
<text x="1720.2" y="1472" font-size="36" text-anchor="middle">3</text>
<text x="1807.5" y="1472" font-size="36" text-anchor="middle">4</text>
<text x="1894.8" y="1472" font-size="36" text-anchor="middle">5</text>
<text x="1982" y="1472" font-size="36" text-anchor="middle">6</text>
<text x="387.5" y="522" font-size="36" text-anchor="middle">Energy (eV)</text>
<text x="387.5" y="1517.5" font-size="36" text-anchor="middle">Energy (eV)</text>
<text x="1048" y="522" font-size="36" text-anchor="middle">R (Å)</text>
<text x="1716" y="522" font-size="36" text-anchor="middle">R (Å)</text>
<text x="1053" y="1517.5" font-size="36" text-anchor="middle">R (Å)</text>
<text x="1720" y="1517.5" font-size="36" text-anchor="middle">R (Å)</text>
<text font-size="36" text-anchor="middle" transform="translate(34 201) rotate(-90)">Intensity (a.u.)</text>
<text font-size="36" text-anchor="middle" transform="translate(34 1195) rotate(-90)">Intensity (a.u.)</text>
<text font-size="36" text-anchor="middle" transform="translate(728.5 206) rotate(-90)">|FT k<tspan font-size="22" dy="-16">3</tspan><tspan dy="16">&#8203;</tspan> χ(k)| (Å<tspan font-size="22" dy="-16">-3</tspan><tspan dy="16">&#8203;</tspan>)</text>
<text font-size="36" text-anchor="middle" transform="translate(1406 206) rotate(-90)">|FT k<tspan font-size="22" dy="-16">3</tspan><tspan dy="16">&#8203;</tspan> χ(k)| (Å<tspan font-size="22" dy="-16">-3</tspan><tspan dy="16">&#8203;</tspan>)</text>
<text font-size="36" text-anchor="middle" transform="translate(728.5 1205.3) rotate(-90)">|FT k<tspan font-size="22" dy="-16">3</tspan><tspan dy="16">&#8203;</tspan> χ(k)| (Å<tspan font-size="22" dy="-16">-3</tspan><tspan dy="16">&#8203;</tspan>)</text>
<text font-size="36" text-anchor="middle" transform="translate(1406 1205.3) rotate(-90)">|FT k<tspan font-size="22" dy="-16">3</tspan><tspan dy="16">&#8203;</tspan> χ(k)| (Å<tspan font-size="22" dy="-16">-3</tspan><tspan dy="16">&#8203;</tspan>)</text>
<text x="-1.7" y="45.8" font-size="56" font-weight="bold">a</text>
<text x="700.8" y="45.8" font-size="56" font-weight="bold">b</text>
<text x="1366.9" y="45.8" font-size="56" font-weight="bold">c</text>
<text x="-0.6" y="588" font-size="56" font-weight="bold">d</text>
<text x="388.1" y="588" font-size="56" font-weight="bold">e</text>
<text x="799.6" y="588" font-size="56" font-weight="bold">f</text>
<text x="1198" y="588" font-size="56" font-weight="bold">g</text>
<text x="1596.1" y="588" font-size="56" font-weight="bold">h</text>
<text x="-1.3" y="1031.8" font-size="56" font-weight="bold">i</text>
<text x="704.4" y="1031.8" font-size="56" font-weight="bold">j</text>
<text x="1367.2" y="1031.8" font-size="56" font-weight="bold">k</text>
<text x="-1.9" y="1586" font-size="56" font-weight="bold">l</text>
<text x="386.5" y="1586" font-size="56" font-weight="bold">m</text>
<text x="795.1" y="1586" font-size="56" font-weight="bold">n</text>
<text x="1195.8" y="1586" font-size="56" font-weight="bold">o</text>
<text x="1596.1" y="1586" font-size="56" font-weight="bold">p</text>
</svg></body></html>
